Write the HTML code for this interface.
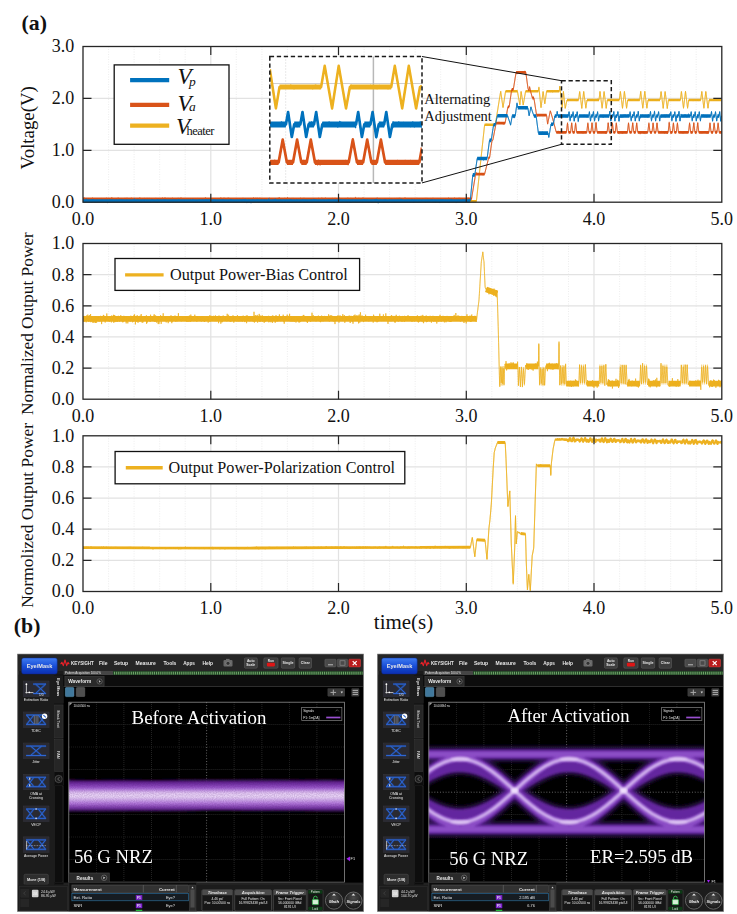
<!DOCTYPE html>
<html><head><meta charset="utf-8"><title>figure</title>
<style>html,body{margin:0;padding:0;background:#fff;}svg{display:block;}text{font-family:"Liberation Serif", serif;fill:#111;}.tk{font-size:18px;}.ui{font-family:"Liberation Sans", sans-serif;fill:#e8e8e8;}</style></head><body>
<svg width="737" height="914" viewBox="0 0 737 914">
<rect width="737" height="914" fill="#fff"/>
<g id="p1">
<line x1="108.6" y1="46.5" x2="108.6" y2="202.2" stroke="#e8e8e8" stroke-width="0.8" stroke-dasharray="1 1.5"/>
<line x1="134.1" y1="46.5" x2="134.1" y2="202.2" stroke="#e8e8e8" stroke-width="0.8" stroke-dasharray="1 1.5"/>
<line x1="159.7" y1="46.5" x2="159.7" y2="202.2" stroke="#e8e8e8" stroke-width="0.8" stroke-dasharray="1 1.5"/>
<line x1="185.2" y1="46.5" x2="185.2" y2="202.2" stroke="#e8e8e8" stroke-width="0.8" stroke-dasharray="1 1.5"/>
<line x1="236.3" y1="46.5" x2="236.3" y2="202.2" stroke="#e8e8e8" stroke-width="0.8" stroke-dasharray="1 1.5"/>
<line x1="261.9" y1="46.5" x2="261.9" y2="202.2" stroke="#e8e8e8" stroke-width="0.8" stroke-dasharray="1 1.5"/>
<line x1="287.4" y1="46.5" x2="287.4" y2="202.2" stroke="#e8e8e8" stroke-width="0.8" stroke-dasharray="1 1.5"/>
<line x1="313" y1="46.5" x2="313" y2="202.2" stroke="#e8e8e8" stroke-width="0.8" stroke-dasharray="1 1.5"/>
<line x1="364.1" y1="46.5" x2="364.1" y2="202.2" stroke="#e8e8e8" stroke-width="0.8" stroke-dasharray="1 1.5"/>
<line x1="389.6" y1="46.5" x2="389.6" y2="202.2" stroke="#e8e8e8" stroke-width="0.8" stroke-dasharray="1 1.5"/>
<line x1="415.2" y1="46.5" x2="415.2" y2="202.2" stroke="#e8e8e8" stroke-width="0.8" stroke-dasharray="1 1.5"/>
<line x1="440.7" y1="46.5" x2="440.7" y2="202.2" stroke="#e8e8e8" stroke-width="0.8" stroke-dasharray="1 1.5"/>
<line x1="491.8" y1="46.5" x2="491.8" y2="202.2" stroke="#e8e8e8" stroke-width="0.8" stroke-dasharray="1 1.5"/>
<line x1="517.4" y1="46.5" x2="517.4" y2="202.2" stroke="#e8e8e8" stroke-width="0.8" stroke-dasharray="1 1.5"/>
<line x1="542.9" y1="46.5" x2="542.9" y2="202.2" stroke="#e8e8e8" stroke-width="0.8" stroke-dasharray="1 1.5"/>
<line x1="568.5" y1="46.5" x2="568.5" y2="202.2" stroke="#e8e8e8" stroke-width="0.8" stroke-dasharray="1 1.5"/>
<line x1="619.6" y1="46.5" x2="619.6" y2="202.2" stroke="#e8e8e8" stroke-width="0.8" stroke-dasharray="1 1.5"/>
<line x1="645.1" y1="46.5" x2="645.1" y2="202.2" stroke="#e8e8e8" stroke-width="0.8" stroke-dasharray="1 1.5"/>
<line x1="670.7" y1="46.5" x2="670.7" y2="202.2" stroke="#e8e8e8" stroke-width="0.8" stroke-dasharray="1 1.5"/>
<line x1="696.2" y1="46.5" x2="696.2" y2="202.2" stroke="#e8e8e8" stroke-width="0.8" stroke-dasharray="1 1.5"/>
<line x1="210.8" y1="46.5" x2="210.8" y2="202.2" stroke="#e2e2e2" stroke-width="1.2"/>
<line x1="338.5" y1="46.5" x2="338.5" y2="202.2" stroke="#e2e2e2" stroke-width="1.2"/>
<line x1="466.3" y1="46.5" x2="466.3" y2="202.2" stroke="#e2e2e2" stroke-width="1.2"/>
<line x1="594" y1="46.5" x2="594" y2="202.2" stroke="#e2e2e2" stroke-width="1.2"/>
<line x1="83" y1="150.3" x2="721.8" y2="150.3" stroke="#e2e2e2" stroke-width="1.2"/>
<line x1="83" y1="98.4" x2="721.8" y2="98.4" stroke="#e2e2e2" stroke-width="1.2"/>
<clipPath id="c1"><rect x="83" y="46.5" width="638.8" height="156.9"/></clipPath>
<g clip-path="url(#c1)" fill="none" stroke-linejoin="round">
<path d="M83,201.3 476.4,201.3 484.6,124.8 495.3,124.8 500.7,91.2 503,107.6 505.6,91.2 517.4,91.2 519.9,105.1 521.1,91.2 523.2,105.1 525.6,91.2 538.4,91.2 538.9,86.9 541,107.8 543.1,91.3 544.8,104 546.6,91.3 559.3,91.3 559.8,86.1 562.2,107.8 563.4,91.3 565.2,108.5 567,100 578.6,100 579.7,91.3 581.8,108.4 583.7,91.3 585.9,108.4 587,100 599,100 600,91.3 602.1,108.4 604.1,91.3 606.2,108.4 607.3,100 619.3,100 620.4,91.3 622.5,108.4 624.4,91.3 626.6,108.4 627.7,100 639.7,100 640.7,91.3 642.8,108.4 644.8,91.3 646.9,108.4 648,100 660,100 661.1,91.3 663.2,108.4 665.1,91.3 667.3,108.4 668.4,100 680.4,100 681.4,91.3 683.5,108.4 685.5,91.3 687.6,108.4 688.7,100 700.7,100 701.8,91.3 703.9,108.4 705.8,91.3 708,108.4 709.1,100 721.1,100 721.8,100" stroke="#edb120" stroke-width="0.75"/>
<path d="M83,201.3 L476.4,201.3 M484.6,124.8 L495.3,124.8 M505.6,91.2 L517.4,91.2 M525.6,91.2 L538.4,91.2 M546.6,91.3 L559.3,91.3 M567,100 L578.6,100 M587,100 L599,100 M607.3,100 L619.3,100 M627.7,100 L639.7,100 M648,100 L660,100 M668.4,100 L680.4,100 M688.7,100 L700.7,100 M709.1,100 L721.1,100 " stroke="#edb120" stroke-width="2.4" stroke-linecap="butt"/>
<path d="M83,202.1 83.2,201.1 83.5,201.3 83.8,201.5 84,200.9 84.2,201.3 84.5,201.3 84.8,200.5 85,201.8 85.2,201.6 85.5,201 85.8,201.2 86,201.5 86.2,201.2 86.5,201.2 86.8,200.6 87,201.5 87.2,201.4 87.5,201.4 87.8,200.6 88,202 88.2,201.4 88.5,201.1 88.8,202.2 89,201.3 89.2,200.6 89.5,201.1 89.8,200.3 90,201.8 90.2,201.1 90.5,201 90.8,201.8 91,200.6 91.2,201.5 91.5,200.4 91.8,201 92,200.8 92.2,202 92.5,202.1 92.8,201.2 93,201.7 93.2,201.2 93.5,201.6 93.8,201 94,200.5 94.2,200.5 94.5,201.5 94.8,202.3 95,201.4 95.2,201.1 95.5,202.2 95.8,201.4 96,201.3 96.2,201.4 96.5,201.2 96.8,201.2 97,200.7 97.2,201.5 97.5,201.3 97.8,201.8 98,201.1 98.2,200.4 98.5,201.3 98.8,202.1 99,201.1 99.2,200.9 99.5,200.8 99.8,200.8 100,201.2 100.2,200.8 100.5,202 100.8,201.2 101,201.3 101.2,201.9 101.5,202 101.8,201.2 102,201.4 102.2,201.6 102.5,201.2 102.8,200.5 103,201.6 103.2,201.7 103.5,201.5 103.8,200.9 104,201.2 104.2,201 104.5,201.2 104.8,201.9 105,202 105.2,201.6 105.5,201.5 105.8,201.6 106,201.3 106.2,201.3 106.5,201 106.8,201.3 107,202.3 107.2,201.7 107.5,201.1 107.8,201.1 108,200.9 108.2,201.5 108.5,201.5 108.8,200.7 109,201.5 109.2,201 109.5,201.9 109.8,201.4 110,202.1 110.2,201.1 110.5,201.2 110.8,201.4 111,201.8 111.2,201.6 111.5,200.7 111.8,201.4 112,201.3 112.2,201.1 112.5,201 112.8,202.1 113,201.1 113.2,200.9 113.5,201.6 113.8,201.4 114,201.3 114.2,201.7 114.5,201.5 114.8,201.5 115,201.7 115.2,201.4 115.5,201 115.8,201.1 116,201.1 116.2,201.4 116.5,200.8 116.8,200.5 117,201.3 117.2,200.7 117.5,200.4 117.8,201.5 118,201 118.2,201.5 118.5,201.1 118.8,200.8 119,200.7 119.2,201.1 119.5,201.2 119.8,200.9 120,201.2 120.2,200.6 120.5,201.3 120.8,200.5 121,201.2 121.2,201.6 121.5,201.8 121.8,202.1 122,200.6 122.2,201.6 122.5,201.8 122.8,201.7 123,200.9 123.2,201.5 123.5,202.1 123.8,200.6 124,201.5 124.2,201.8 124.5,201 124.8,201.6 125,200.8 125.2,200.9 125.5,200.9 125.8,201.4 126,201.3 126.2,201.7 126.5,200.9 126.8,201.2 127,201.7 127.2,201.6 127.5,200.7 127.8,201.6 128,201.1 128.2,201.5 128.5,201.4 128.8,201.8 129,201.4 129.2,200.5 129.5,200.7 129.8,201.6 130,201.2 130.2,201.8 130.5,201.4 130.8,201 131,201.8 131.2,200.9 131.5,200.4 131.8,202.2 132,200.4 132.2,201.6 132.5,201.7 132.8,201.4 133,200.5 133.2,201.8 133.5,200.7 133.8,200.7 134,201.1 134.2,201.7 134.5,201.4 134.8,201.7 135,201.1 135.2,201.2 135.5,200.8 135.8,201.2 136,201.6 136.2,201.2 136.5,201.5 136.8,201 137,201 137.2,201.3 137.5,201.2 137.8,201.6 138,201.4 138.2,202.1 138.5,201.2 138.8,201.2 139,200.8 139.2,201.3 139.5,201.6 139.8,201 140,201.3 140.2,201.6 140.5,201.2 140.8,201.1 141,201.7 141.2,201.3 141.5,201.5 141.8,201.8 142,201.8 142.2,201.1 142.5,201.1 142.8,201.4 143,201.2 143.2,200.4 143.5,201.9 143.8,201.3 144,201.6 144.2,200.8 144.5,201.9 144.8,201 145,201.3 145.2,200.7 145.5,201.2 145.8,201.2 146,201.2 146.2,201.5 146.5,201.3 146.8,201.7 147,201.1 147.2,200.9 147.5,201.3 147.8,201.6 148,201.9 148.2,201.7 148.5,200.5 148.8,201.5 149,202 149.2,201.3 149.5,201.1 149.8,201.4 150,201.1 150.2,201.6 150.5,201.3 150.8,201.9 151,201.5 151.2,201 151.5,201.6 151.8,201.7 152,201 152.2,201.1 152.5,200.3 152.8,201.7 153,201 153.2,200.3 153.5,200.5 153.8,201.2 154,201.6 154.2,201.3 154.5,201.5 154.8,200.8 155,200.7 155.2,201.7 155.5,201.5 155.8,201.3 156,201.9 156.2,200.9 156.5,201.1 156.8,201.8 157,202.1 157.2,201.3 157.5,202.1 157.8,201 158,201.4 158.2,201.2 158.5,200.6 158.8,201.4 159,201.7 159.2,201.2 159.5,201.3 159.8,201.9 160,200.7 160.2,200.6 160.5,201 160.8,200.8 161,201.9 161.2,201.4 161.5,200.9 161.8,201 162,202.6 162.2,201 162.5,201 162.8,201.4 163,201.6 163.2,201.4 163.5,200.9 163.8,200.8 164,201.6 164.2,201.3 164.5,200.6 164.8,201.8 165,201.6 165.2,201.2 165.5,201.2 165.8,201.4 166,201 166.2,200.7 166.5,201.4 166.8,200.7 167,201.5 167.2,200.7 167.5,201.3 167.8,201.2 168,202.1 168.2,200.8 168.5,200.7 168.8,201 169,200.8 169.2,201 169.5,201.5 169.8,201.6 170,202 170.2,201 170.5,202.5 170.8,202.2 171,201.2 171.2,200.3 171.5,201.3 171.8,201.3 172,200.3 172.2,201.3 172.5,201.2 172.8,200.9 173,201.6 173.2,201.8 173.5,201.1 173.8,201.4 174,201 174.2,200.9 174.5,201.3 174.8,201.5 175,201 175.2,200.3 175.5,201.6 175.8,200.6 176,201.4 176.2,202.1 176.5,201.3 176.8,200.8 177,200.6 177.2,201.8 177.5,201.3 177.8,201.5 178,201.7 178.2,201.3 178.5,201.2 178.8,200.9 179,199.9 179.2,200.6 179.5,201.3 179.8,201.2 180,201.5 180.2,201.2 180.5,201.4 180.8,201.7 181,200.9 181.2,201.2 181.5,200.6 181.8,201.7 182,201.3 182.2,201.5 182.5,202 182.8,201.8 183,201.3 183.2,201.7 183.5,200.7 183.8,201.5 184,201.4 184.2,200.6 184.5,201.9 184.8,201 185,201.6 185.2,201.1 185.5,201.7 185.8,201.9 186,200.9 186.2,200.6 186.5,201.2 186.8,201.7 187,201.1 187.2,201 187.5,201.5 187.8,200.1 188,201 188.2,200.7 188.5,201.4 188.8,201 189,200.8 189.2,201.1 189.5,200.6 189.8,201.3 190,201 190.2,201.1 190.5,201 190.8,201.7 191,201.3 191.2,201.5 191.5,201.5 191.8,200.9 192,201.6 192.2,201.5 192.5,201.4 192.8,201.1 193,201.1 193.2,201.7 193.5,202.3 193.8,200.9 194,201.5 194.2,201.1 194.5,201.7 194.8,201.5 195,201.8 195.2,200 195.5,201 195.8,200.9 196,201.3 196.2,201 196.5,201 196.8,201.6 197,202.2 197.2,200 197.5,201.2 197.8,201.4 198,201.3 198.2,201.1 198.5,200.7 198.8,200.9 199,201.6 199.2,201.8 199.5,201.3 199.8,200.9 200,201.3 200.2,201.2 200.5,201.5 200.8,201.4 201,201 201.2,201.4 201.5,200.8 201.8,201.7 202,201.8 202.2,200.8 202.5,201.5 202.8,200.9 203,201.8 203.2,201.7 203.5,201.2 203.8,201.7 204,201.1 204.2,201 204.5,201 204.8,201.2 205,201.2 205.2,201.4 205.5,201 205.8,201.6 206,201.8 206.2,201.1 206.5,200.7 206.8,201.6 207,201.8 207.2,201.2 207.5,200.7 207.8,201.4 208,202 208.2,200.5 208.5,201.5 208.8,201.2 209,200.9 209.2,201.5 209.5,200.7 209.8,201.4 210,201.9 210.2,201.4 210.5,200.9 210.8,200.5 211,200.7 211.2,200.5 211.5,202 211.8,201.2 212,200.8 212.2,200.7 212.5,200.8 212.8,201.1 213,200.7 213.2,202.1 213.5,201 213.8,200.9 214,201.4 214.2,202 214.5,201.9 214.8,201.1 215,201.4 215.2,201.4 215.5,201.5 215.8,201.4 216,200.9 216.2,200.7 216.5,201.4 216.8,200.8 217,201.9 217.2,201.3 217.5,200.8 217.8,201.2 218,201.1 218.2,201.2 218.5,201.7 218.8,200.7 219,200.5 219.2,201.5 219.5,201.2 219.8,201.4 220,201.5 220.2,201.2 220.5,201.7 220.8,200.9 221,201.3 221.2,200.9 221.5,200.8 221.8,201.6 222,201.6 222.2,200.4 222.5,200.8 222.8,201.4 223,201.8 223.2,201 223.5,201.2 223.8,200.7 224,202.4 224.2,201.5 224.5,201.7 224.8,201.6 225,201.7 225.2,201.6 225.5,201.1 225.8,201.6 226,201.3 226.2,201.9 226.5,201 226.8,201.1 227,201.6 227.2,201.9 227.5,201.4 227.8,201 228,201.2 228.2,201.1 228.5,202.2 228.8,201.7 229,201.9 229.2,201.4 229.5,201.1 229.8,201.8 230,202 230.2,201.6 230.5,201.3 230.8,201.8 231,201.1 231.2,201.6 231.5,201 231.8,200.9 232,201.6 232.2,201.5 232.5,202.2 232.8,201.2 233,201.3 233.2,200.8 233.5,200.5 233.8,200.5 234,201.5 234.2,200.8 234.5,201.8 234.8,201.9 235,201.2 235.2,202 235.5,201.4 235.8,201.8 236,201.2 236.2,201.7 236.5,200.9 236.8,201.6 237,201.1 237.2,201.2 237.5,201.6 237.8,201.4 238,201.3 238.2,201.6 238.5,201.7 238.8,200.7 239,201.6 239.2,201.6 239.5,201 239.8,201.5 240,200.7 240.2,201.9 240.5,201.2 240.8,201.3 241,201.8 241.2,201.2 241.5,201.6 241.8,200.8 242,201 242.2,200.7 242.5,201.2 242.8,201.8 243,201.4 243.2,201.7 243.5,200.8 243.8,200.9 244,201.1 244.2,201.6 244.5,201.5 244.8,201.3 245,201.6 245.2,201.2 245.5,201.3 245.8,201.9 246,201 246.2,201.4 246.5,202 246.8,201.3 247,201.6 247.2,201 247.5,202.2 247.8,200.3 248,200.8 248.2,200.8 248.5,202 248.8,201.5 249,201.2 249.2,200.7 249.5,201.5 249.8,201.4 250,201 250.2,200.6 250.5,200.8 250.8,201.4 251,201.4 251.2,201.3 251.5,201.2 251.8,200.5 252,201.3 252.2,200.8 252.5,201.3 252.8,201.5 253,201 253.2,200.8 253.5,201.7 253.8,201.5 254,201 254.2,199.9 254.5,201.3 254.8,201.6 255,201.8 255.2,201 255.5,201 255.8,201.1 256,201.7 256.2,200.8 256.5,201.2 256.8,200.9 257,201.4 257.2,200.6 257.5,201.5 257.8,201.1 258,201.2 258.2,201.5 258.5,201.8 258.8,200.5 259,201.8 259.2,201.6 259.5,201.2 259.8,201.9 260,201.4 260.2,201.9 260.5,201 260.8,200.9 261,201.9 261.2,202.3 261.5,201.6 261.8,201.7 262,201.1 262.2,200.7 262.5,201.2 262.8,202 263,200.5 263.2,201.1 263.5,200.4 263.8,201.3 264,201.7 264.2,200.7 264.5,201.1 264.8,201.9 265,201.3 265.2,200.7 265.5,200.7 265.8,200.4 266,201.6 266.2,201 266.5,201.8 266.8,201.7 267,201 267.2,201.1 267.5,201.7 267.8,201.4 268,201.4 268.2,200.6 268.5,201.7 268.8,200.9 269,200.3 269.2,201 269.5,201.5 269.8,202.2 270,201.1 270.2,200.7 270.5,202.3 270.8,201.4 271,201.2 271.2,200.8 271.5,200.8 271.8,202 272,201.2 272.2,201.1 272.5,201.1 272.8,202 273,201 273.2,201.6 273.5,201.4 273.8,201.4 274,200.9 274.2,201.6 274.5,202 274.8,201.3 275,200.9 275.2,200.7 275.5,201.4 275.8,201.2 276,201.3 276.2,201.3 276.5,200.6 276.8,201.7 277,201.4 277.2,201.3 277.5,201.4 277.8,201.7 278,201.3 278.2,200.9 278.5,201.8 278.8,201.1 279,201 279.2,200.6 279.5,201.3 279.8,200.8 280,201.1 280.2,201.5 280.5,201.3 280.8,201.8 281,201.4 281.2,201.1 281.5,201.2 281.8,201.1 282,201.6 282.2,201.3 282.5,201.1 282.8,201.7 283,201.3 283.2,201.1 283.5,200.6 283.8,201.5 284,201.4 284.2,201.3 284.5,201.1 284.8,200.9 285,201.2 285.2,201.4 285.5,201.2 285.8,201.2 286,201.1 286.2,201.5 286.5,201.4 286.8,201 287,201.6 287.2,201.7 287.5,201.7 287.8,201.2 288,201.2 288.2,200.8 288.5,201.6 288.8,200.3 289,201.1 289.2,201.1 289.5,201.7 289.8,201.3 290,200.9 290.2,200.7 290.5,201 290.8,201.3 291,201.3 291.2,201.2 291.5,201 291.8,201.2 292,201.7 292.2,200.8 292.5,201.3 292.8,202 293,201.5 293.2,201.1 293.5,201.6 293.8,201 294,201.3 294.2,202 294.5,202.2 294.8,200.5 295,201.6 295.2,202.2 295.5,201.1 295.8,201.4 296,202 296.2,201.1 296.5,201.5 296.8,201.3 297,200.4 297.2,201.5 297.5,201.2 297.8,201.7 298,202.2 298.2,201.6 298.5,201.1 298.8,201.5 299,201.4 299.2,201.8 299.5,200.7 299.8,200.8 300,200.4 300.2,201.6 300.5,201.3 300.8,201 301,201 301.2,201 301.5,200.9 301.8,201.2 302,201.1 302.2,201.9 302.5,201.4 302.8,200.9 303,201 303.2,201.8 303.5,201.5 303.8,201.4 304,201.6 304.2,202 304.5,200.8 304.8,201 305,200.5 305.2,201.5 305.5,201.1 305.8,201 306,201 306.2,201.6 306.5,201.2 306.8,201.1 307,201.9 307.2,200.8 307.5,200.7 307.8,202.5 308,201.1 308.2,201.1 308.5,201 308.8,201.2 309,201.7 309.2,201.6 309.5,201.5 309.8,201.2 310,200.6 310.2,201.4 310.5,202 310.8,201.8 311,201.2 311.2,201.7 311.5,201.1 311.8,201.3 312,200.7 312.2,201.2 312.5,201.4 312.8,201.2 313,201.6 313.2,202.1 313.5,201.9 313.8,201.2 314,201 314.2,201 314.5,200.9 314.8,201.3 315,201.5 315.2,201.4 315.5,201.4 315.8,201.4 316,201.2 316.2,201 316.5,202.1 316.8,201.8 317,200.9 317.2,200.9 317.5,201 317.8,201.3 318,201.9 318.2,201.8 318.5,201.8 318.8,201.8 319,201.8 319.2,201.6 319.5,201.5 319.8,201.2 320,200.5 320.2,201.2 320.5,202.1 320.8,201.1 321,201 321.2,201.8 321.5,201.3 321.8,201.1 322,202 322.2,201.6 322.5,201.6 322.8,201 323,201.5 323.2,201.5 323.5,201.6 323.8,201.8 324,201.8 324.2,201.4 324.5,201.6 324.8,200.8 325,201.6 325.2,201.6 325.5,201.1 325.8,201 326,201.3 326.2,200.8 326.5,201.5 326.8,201.4 327,200.9 327.2,201.3 327.5,201.8 327.8,201.8 328,201.8 328.2,201.2 328.5,201.1 328.8,201.1 329,201.6 329.2,202.4 329.5,201.9 329.8,202 330,201.9 330.2,200.6 330.5,201.2 330.8,201.1 331,201.9 331.2,202.1 331.5,201 331.8,201.3 332,201.6 332.2,201.1 332.5,201 332.8,201 333,201.7 333.2,200.9 333.5,201.8 333.8,201.3 334,201.6 334.2,202 334.5,201 334.8,200.9 335,201.5 335.2,200.8 335.5,201 335.8,201.2 336,201.4 336.2,200.7 336.5,201.1 336.8,201.6 337,201.9 337.2,200.4 337.5,201.9 337.8,201.7 338,200.8 338.2,200.6 338.5,201.5 338.8,201.1 339,201.4 339.2,201.7 339.5,201.1 339.8,201.4 340,201.5 340.2,201.7 340.5,202.1 340.8,202.1 341,201.4 341.2,201.2 341.5,202.4 341.8,201.6 342,201.5 342.2,200.8 342.5,201.6 342.8,201 343,201.1 343.2,200.7 343.5,201.1 343.8,201.3 344,200.6 344.2,200.9 344.5,201.3 344.8,200.7 345,200.7 345.2,200.9 345.5,200.7 345.8,201.6 346,200.9 346.2,201.6 346.5,201.7 346.8,200.8 347,201.3 347.2,201.1 347.5,200.8 347.8,201.2 348,201.2 348.2,201.6 348.5,201.8 348.8,200.8 349,201.1 349.2,201.5 349.5,201.8 349.8,200.2 350,201.9 350.2,201.2 350.5,202 350.8,201.1 351,200.9 351.2,201.3 351.5,201.8 351.8,201.3 352,200.2 352.2,201.6 352.5,200.6 352.8,200.9 353,200.8 353.2,200.5 353.5,200.7 353.8,200.9 354,201 354.2,201.3 354.5,201.1 354.8,200.6 355,201.2 355.2,201.7 355.5,201.7 355.8,201.4 356,201.6 356.2,201.7 356.5,201.9 356.8,202.1 357,201.2 357.2,201.2 357.5,202 357.8,202 358,202 358.2,200.2 358.5,201.2 358.8,199.8 359,201.6 359.2,201.3 359.5,201.3 359.8,201.2 360,201.9 360.2,201.2 360.5,201.8 360.8,201.5 361,201.5 361.2,201.5 361.5,201.3 361.8,200.8 362,201.6 362.2,201.6 362.5,201.2 362.8,201.6 363,201.7 363.2,200.7 363.5,201.2 363.8,201.1 364,200.9 364.2,201.4 364.5,200.9 364.8,201.1 365,201.4 365.2,201.5 365.5,201.4 365.8,202.3 366,201.1 366.2,201.4 366.5,200.8 366.8,201.5 367,201.8 367.2,201.8 367.5,201 367.8,201.2 368,201.9 368.2,201.3 368.5,201.7 368.8,200.9 369,201.9 369.2,201.8 369.5,201.5 369.8,200.9 370,201.2 370.2,201.4 370.5,201.4 370.8,201.3 371,201.2 371.2,201.4 371.5,201.9 371.8,200.4 372,200.7 372.2,200.6 372.5,201 372.8,200.5 373,201.5 373.2,201.3 373.5,201.2 373.8,201 374,201.4 374.2,201.4 374.5,201.4 374.8,201 375,201.6 375.2,200.6 375.5,201.9 375.8,199.9 376,201 376.2,200.8 376.5,201.7 376.8,200.6 377,202.1 377.2,200.6 377.5,202.2 377.8,201.5 378,201.3 378.2,201.5 378.5,202.3 378.8,201.7 379,200.3 379.2,201.8 379.5,201.4 379.8,200.6 380,201.6 380.2,200.8 380.5,201.4 380.8,201.4 381,201 381.2,201.6 381.5,200.8 381.8,201.4 382,201.1 382.2,201.2 382.5,202.2 382.8,201.4 383,200.8 383.2,201.2 383.5,201 383.8,201.3 384,201.4 384.2,201.3 384.5,201.3 384.8,201.1 385,201.5 385.2,201.8 385.5,201 385.8,201.3 386,201.3 386.2,201.9 386.5,201.8 386.8,201 387,201.3 387.2,200.6 387.5,200.9 387.8,201.3 388,201.6 388.2,201.7 388.5,201.2 388.8,200.7 389,201.5 389.2,201.2 389.5,201.5 389.8,201.4 390,201.6 390.2,201.6 390.5,201.7 390.8,201.1 391,201.7 391.2,201.1 391.5,201.3 391.8,202.1 392,201.5 392.2,200.8 392.5,202 392.8,201.8 393,201.8 393.2,201.4 393.5,201.5 393.8,201.2 394,201 394.2,202 394.5,201.1 394.8,201.1 395,201.1 395.2,202.1 395.5,201.7 395.8,201.1 396,201.3 396.2,201.5 396.5,201.7 396.8,200.6 397,201.7 397.2,201.2 397.5,201 397.8,201.1 398,201.7 398.2,202.1 398.5,201.4 398.8,201.6 399,200.9 399.2,201.5 399.5,201.7 399.8,200.6 400,201.1 400.2,201.7 400.5,200.5 400.8,201.1 401,201.6 401.2,200.5 401.5,201.1 401.8,201.3 402,201.7 402.2,200.7 402.5,201.8 402.8,201.4 403,201.8 403.2,201.8 403.5,201.5 403.8,201.5 404,200.5 404.2,200.7 404.5,200.8 404.8,201.1 405,201.7 405.2,200.5 405.5,201.2 405.8,200.7 406,200.6 406.2,202 406.5,201.3 406.8,202 407,201.8 407.2,200.9 407.5,200.5 407.8,202.2 408,201.1 408.2,200.8 408.5,201.6 408.8,201.4 409,201 409.2,201.1 409.5,201.4 409.8,201.3 410,201.6 410.2,201.1 410.5,201.1 410.8,201.6 411,201.4 411.2,201.8 411.5,201.2 411.8,201.3 412,200.8 412.2,202 412.5,200.7 412.8,201.4 413,200.9 413.2,201.5 413.5,201.6 413.8,200.6 414,201.2 414.2,200.5 414.5,201.9 414.8,201.1 415,200.6 415.2,201 415.5,201.9 415.8,202 416,201.9 416.2,200.9 416.5,201.2 416.8,202 417,201 417.2,201.1 417.5,200.9 417.8,200.8 418,201.8 418.2,201.6 418.5,201.5 418.8,201.6 419,201.8 419.2,202 419.5,201.3 419.8,201.1 420,200.8 420.2,201.8 420.5,201.1 420.8,200.6 421,201.2 421.2,201.3 421.5,201.7 421.8,201.8 422,201 422.2,200.9 422.5,201.2 422.8,200.8 423,201.3 423.2,201.5 423.5,201.3 423.8,200.6 424,200.8 424.2,201.9 424.5,200.8 424.8,201.6 425,201.6 425.2,201.2 425.5,200.9 425.8,201.4 426,200.9 426.2,201.2 426.5,201.3 426.8,201 427,201.2 427.2,201.2 427.5,200.7 427.8,201.2 428,201 428.2,200.5 428.5,201.1 428.8,201.2 429,201 429.2,200.4 429.5,201.6 429.8,201.6 430,201.6 430.2,201.4 430.5,200.7 430.8,201.4 431,200.9 431.2,202.3 431.5,201.1 431.8,201.6 432,200.6 432.2,200.8 432.5,201.1 432.8,201.6 433,201.5 433.2,201.4 433.5,200.5 433.8,201.8 434,200.9 434.2,202 434.5,202.1 434.8,201.7 435,201.7 435.2,200.7 435.5,202.5 435.8,201.4 436,201.7 436.2,200.9 436.5,201.3 436.8,200.8 437,201.2 437.2,201.3 437.5,201.4 437.8,201.9 438,201.5 438.2,201.4 438.5,201.3 438.8,202.2 439,201 439.2,201.8 439.5,200.4 439.8,200.9 440,201.5 440.2,201.2 440.5,202.7 440.8,202.5 441,200.6 441.2,200.8 441.5,201.2 441.8,202.1 442,201.8 442.2,201.4 442.5,200.7 442.8,200.9 443,200.1 443.2,200.6 443.5,201.5 443.8,201.7 444,200.7 444.2,201.4 444.5,202 444.8,201.4 445,201.2 445.2,201.6 445.5,201.5 445.8,201.3 446,201.1 446.2,201.1 446.5,201.3 446.8,201.1 447,201.9 447.2,201.7 447.5,201.8 447.8,202.2 448,202 448.2,201.9 448.5,201.5 448.8,201.2 449,202.3 449.2,201 449.5,201 449.8,200.9 450,201.4 450.2,201.5 450.5,201.8 450.8,201.2 451,200.5 451.2,201.4 451.5,201.7 451.8,201.3 452,201.2 452.2,201.6 452.5,201.9 452.8,201.3 453,200.7 453.2,201 453.5,201.2 453.8,200.5 454,201.6 454.2,201 454.5,201.5 454.8,201.4 455,201.2 455.2,202 455.5,201 455.8,201 456,201.4 456.2,201.7 456.5,201.3 456.8,200.9 457,201.6 457.2,201.6 457.5,202.2 457.8,201.2 458,201.4 458.2,201 458.5,200.6 458.8,201.3 459,201.7 459.2,200.8 459.5,201 459.8,200.8 460,201.9 460.2,201 460.5,201.6 460.8,200.9 461,201.3 461.2,201 461.5,200.2 461.8,201.3 462,201.5 462.2,200.4 462.5,201.2 462.8,201.1 463,200.8 463.2,201.2 463.5,200.4 463.8,201.4 464,201.8 464.2,200.7 464.5,201.3 464.8,201.9 465,201.4 465.2,201.1 465.5,200.9 465.8,201.4 466,201.2 466.2,201.6 466.5,200.6 466.8,201.8 467,201.1 467.2,201.6 467.5,201 467.8,200.7 468,201 468.2,200.9 468.5,201.1 468.8,201.6 469,201.8 469.2,201.4 469.5,201.1 469.8,201.1 470,201.6 470.2,201.8 470.5,201.2 470.8,201.2 471,201 471.2,201.4 471.5,201.7 471.8,200 472,201.4 472.2,201.1 472.5,200.3 472.8,201.4 473,201.3 473.2,201.5 473.5,200.7 473.8,202.3 474,201.3 474.2,201.1 474.5,202 474.8,201.6 475,201.7 475.2,201.8 475.5,200.4 475.8,202.1 476,201.1 476.2,201.4 476.5,200.5 476.8,198 477,195.7 477.2,193.4 477.5,191 477.8,188.7 478,186.3 478.2,184 478.5,181.6 478.8,179.4 479,177.3 479.2,174.7 479.5,172.4 479.8,170 480,167.8 480.2,165.4 480.5,163 480.8,160.8 481,158.4 481.2,156.1 481.5,153.6 481.8,151.3 482,149.1 482.2,146.6 482.5,144.4 482.8,142.1 483,139.7 483.2,137.4 483.5,135.1 483.8,132.8 484,130.4 484.2,128.1 484.5,126 484.8,125 485,125.1 485.2,125 485.5,124.5 485.8,124.9 486,124.7 486.2,125.2 486.5,124.4 486.8,123.7 487,124.5 487.2,125.1 487.5,125.9 487.8,125.3 488,124.4 488.2,124.7 488.5,124.4 488.8,124.7 489,124.4 489.2,124.1 489.5,125 489.8,124.9 490,124.7 490.2,125 490.5,125.7 490.8,124.9 491,124.6 491.2,125.2 491.5,124.1 491.8,125.1 492,124.5 492.2,124.4 492.5,124.8 492.8,125.6 493,124.5 493.2,125.2 493.5,125 493.8,124.2 494,125.2 494.2,124.4 494.5,124.1 494.8,124.4 495,124.5 495.2,124.9 495.5,123.5 495.8,122.1 496,120.5 496.2,118.8 496.5,117.3 496.8,115.8 497,114 497.2,112.5 497.5,111 497.8,109.6 498,108 498.2,106.4 498.5,104.9 498.8,103.1 499,101.7 499.2,100.1 499.5,98.7 499.8,97.1 500,95.5 500.2,94 500.5,92.5 500.8,91.6 501,93.4 501.2,95.1 501.5,96.8 501.8,98.7 502,100.6 502.2,102.3 502.5,104 502.8,105.9 503,107.4 503.2,106.1 503.5,104.4 503.8,102.9 504,101.5 504.2,99.8 504.5,98.3 504.8,96.5 505,94.9 505.2,93.4 505.5,91.9 505.8,91.1 506,91.7 506.2,91 506.5,91.8 506.8,91.6 507,90.7 507.2,91.5 507.5,91.1 507.8,91.7 508,91 508.2,91.3 508.5,91.4 508.8,90 509,90.4 509.2,91.3 509.5,91.1 509.8,91.7 510,91.3 510.2,90.6 510.5,91.3 510.8,90.9 511,91.1 511.2,91 511.5,91.4 511.8,90.6 512,90.7 512.2,90.2 512.5,92.2 512.8,90.8 513,90.8 513.2,90.7 513.5,90.9 513.8,91 514,91.5 514.2,91.3 514.5,91.3 514.8,90.9 515,91.2 515.2,91.7 515.5,91.2 515.8,91.3 516,90.3 516.2,91.4 516.5,91.3 516.8,91.8 517,90 517.2,91.2 517.5,91.7 517.8,93.2 518,94.5 518.2,95.9 518.5,97.4 518.8,98.7 519,100.1 519.2,101.5 519.5,102.8 519.8,104.3 520,103.9 520.2,100.9 520.5,98.2 520.8,95.2 521,92.3 521.2,92 521.5,93.8 521.8,95.4 522,97.2 522.2,98.7 522.5,100.3 522.8,102.1 523,103.9 523.2,104.9 523.5,103.4 523.8,101.8 524,100.5 524.2,99.1 524.5,97.5 524.8,96.2 525,94.7 525.2,93.3 525.5,91.7 525.8,91.1 526,91.3 526.2,91.4 526.5,91.3 526.8,90.7 527,90.9 527.2,91.2 527.5,90.3 527.8,91.6 528,91.3 528.2,91.2 528.5,90.9 528.8,91.5 529,91.1 529.2,92 529.5,91.4 529.8,90.5 530,91.5 530.2,90.9 530.5,90.9 530.8,91.1 531,91.1 531.2,91.3 531.5,91.5 531.8,91.4 532,90.8 532.2,90.6 532.5,90.8 532.8,91.3 533,91.6 533.2,92 533.5,90.6 533.8,91.2 534,91.1 534.2,91 534.5,91.2 534.8,91.1 535,91.1 535.2,90.9 535.5,91.4 535.8,91.6 536,91.9 536.2,90.9 536.5,90.7 536.8,91.1 537,90.8 537.2,91.6 537.5,90.8 537.8,91.2 538,90.6 538.2,91.1 538.5,90.4 538.8,88.4 539,87.8 539.2,90.4 539.5,92.7 539.8,95.3 540,97.8 540.2,100.3 540.5,102.8 540.8,105.3 541,107.3 541.2,105.9 541.5,103.8 541.8,102 542,100 542.2,98 542.5,96 542.8,94 543,92.1 543.2,92.3 543.5,94.3 543.8,96.2 544,98.1 544.2,99.9 544.5,101.8 544.8,103.4 545,102.9 545.2,100.8 545.5,99 545.8,97.4 546,95.6 546.2,93.7 546.5,91.8 546.8,90.9 547,90.8 547.2,90.9 547.5,91.2 547.8,91.7 548,91.8 548.2,91 548.5,91.5 548.8,91.7 549,91.9 549.2,91.2 549.5,90.9 549.8,91.6 550,92 550.2,91 550.5,92.1 550.8,92 551,91.2 551.2,90.6 551.5,91 551.8,91.1 552,91.5 552.2,90.5 552.5,92.4 552.8,92.3 553,90.9 553.2,90.4 553.5,91.2 553.8,91.5 554,91.9 554.2,91.6 554.5,91.2 554.8,90.4 555,91.5 555.2,91.6 555.5,91.1 555.8,91.4 556,91.4 556.2,91.2 556.5,90.7 556.8,91.4 557,90.6 557.2,91.9 557.5,90.9 557.8,91.5 558,90.9 558.2,91.4 558.5,91.2 558.8,91.5 559,90.9 559.2,91.1 559.5,89.2 559.8,86.5 560,87.8 560.2,90.1 560.5,92.3 560.8,94.7 561,96.9 561.2,99.2 561.5,101.6 561.8,103.7 562,106 562.2,107.2 562.5,103.7 562.8,100.2 563,96.8 563.2,93.4 563.5,91.7 563.8,94.6 564,97 564.2,99.4 564.5,101.9 564.8,104.2 565,106.6 565.2,108.1 565.5,107 565.8,106 566,104.6 566.2,103.5 566.5,102.2 566.8,101.1 567,100.1 567.2,100.2 567.5,99.5 567.8,99.4 568,101.1 568.2,99.7 568.5,99.6 568.8,100.2 569,99.6 569.2,99.8 569.5,100.4 569.8,100.4 570,99.9 570.2,100.6 570.5,99.9 570.8,99.9 571,100 571.2,99.8 571.5,100.2 571.8,100.1 572,99.6 572.2,100 572.5,99.7 572.8,99.7 573,99.9 573.2,100.4 573.5,100.1 573.8,100.5 574,100.7 574.2,99.9 574.5,99.7 574.8,99.6 575,100.1 575.2,100.4 575.5,100.7 575.8,99.4 576,100.4 576.2,100.4 576.5,101.1 576.8,100 577,100 577.2,99.3 577.5,99.6 577.8,99.5 578,99.5 578.2,99.6 578.5,99.7 578.8,98.8 579,96.8 579.2,94.8 579.5,92.7 579.8,92.1 580,94 580.2,95.8 580.5,97.9 580.8,99.8 581,101.9 581.2,104 581.5,106 581.8,108.4 582,106.8 582.2,104.4 582.5,102.1 582.8,99.9 583,97.6 583.2,95.5 583.5,93.1 583.8,91.8 584,93.6 584.2,95.7 584.5,97.7 584.8,99.7 585,101.6 585.2,103.5 585.5,105.4 585.8,107.5 586,107.1 586.2,105.3 586.5,103.6 586.8,101.7 587,100.1 587.2,100.8 587.5,99.9 587.8,100.1 588,99.3 588.2,100.1 588.5,99.7 588.8,99.5 589,99.1 589.2,100.7 589.5,99.3 589.8,99.4 590,100 590.2,100.1 590.5,100.1 590.8,100 591,99.6 591.2,100.3 591.5,100.1 591.8,99.3 592,100.7 592.2,99.8 592.5,100.4 592.8,99.3 593,99.4 593.2,99.7 593.5,99.7 593.8,100.4 594,99.3 594.2,100.1 594.5,99.5 594.8,100.2 595,100.1 595.2,99.7 595.5,101 595.8,100 596,100.5 596.2,99.4 596.5,99.9 596.8,100 597,100 597.2,99.8 597.5,99.6 597.8,98.6 598,99.7 598.2,99.6 598.5,99.9 598.8,100.3 599,99.9 599.2,97.7 599.5,95.7 599.8,93.6 600,91.7 600.2,93.1 600.5,95.1 600.8,97.1 601,99.2 601.2,101.3 601.5,103.2 601.8,105.3 602,107.1 602.2,107.5 602.5,105.3 602.8,103 603,100.7 603.2,98.4 603.5,96.2 603.8,94 604,92.3 604.2,92.8 604.5,94.7 604.8,96.8 605,98.8 605.2,100.8 605.5,102.7 605.8,104.7 606,106.7 606.2,108.3 606.5,106.2 606.8,104.5 607,102.4 607.2,100.8 607.5,100 607.8,100.1 608,100.6 608.2,99.9 608.5,100.1 608.8,100.3 609,100.3 609.2,100.4 609.5,100.6 609.8,100.2 610,99.8 610.2,101.1 610.5,100 610.8,100.2 611,99.7 611.2,99 611.5,99.7 611.8,100 612,100.3 612.2,100 612.5,100.4 612.8,100.5 613,100.5 613.2,100 613.5,100.1 613.8,99.9 614,99.6 614.2,100.7 614.5,99.5 614.8,100 615,100.1 615.2,99.1 615.5,100.4 615.8,99.9 616,100.1 616.2,99.9 616.5,99.3 616.8,100.1 617,100.1 617.2,100.5 617.5,100.2 617.8,99.3 618,100.5 618.2,100.4 618.5,100.4 618.8,100.2 619,99.7 619.2,100.1 619.5,98.4 619.8,96.6 620,94.4 620.2,92.2 620.5,92.2 620.8,94.4 621,96.3 621.2,98.1 621.5,100.5 621.8,102.4 622,104.4 622.2,106.5 622.5,108.1 622.8,106.1 623,104 623.2,101.6 623.5,99.5 623.8,97.2 624,95 624.2,92.8 624.5,91.7 624.8,94.1 625,96 625.2,98.1 625.5,100 625.8,102.1 626,103.9 626.2,105.8 626.5,107.9 626.8,107 627,105.1 627.2,103.2 627.5,101.5 627.8,100 628,100.5 628.2,100.1 628.5,99.4 628.8,99.6 629,99.9 629.2,100.2 629.5,99.7 629.8,99.4 630,99.6 630.2,99.8 630.5,99.6 630.8,99.8 631,100.9 631.2,100.1 631.5,99.6 631.8,100 632,100.7 632.2,100.3 632.5,100 632.8,99.4 633,99.3 633.2,99.9 633.5,100 633.8,99.3 634,99.4 634.2,100 634.5,99 634.8,99.2 635,100 635.2,100.3 635.5,100.2 635.8,100.5 636,100.7 636.2,100.4 636.5,99.9 636.8,101 637,100.8 637.2,100.4 637.5,99.7 637.8,100.2 638,99.1 638.2,99.9 638.5,98.9 638.8,99.8 639,100.5 639.2,100 639.5,100.4 639.8,99.3 640,97.2 640.2,95.2 640.5,93.2 640.8,91.5 641,93.6 641.2,95.6 641.5,97.6 641.8,99.5 642,101.6 642.2,103.7 642.5,105.7 642.8,107.7 643,107.1 643.2,104.9 643.5,102.4 643.8,100.4 644,98.2 644.2,95.9 644.5,93.6 644.8,91.5 645,93.3 645.2,95.1 645.5,97.3 645.8,99.2 646,101.3 646.2,103.2 646.5,105.1 646.8,107.2 647,107.8 647.2,105.9 647.5,104 647.8,102.1 648,100.1 648.2,99.8 648.5,99.4 648.8,99.7 649,100.2 649.2,99.3 649.5,99.5 649.8,100.4 650,99.8 650.2,100 650.5,99.5 650.8,99.6 651,99.9 651.2,100.8 651.5,100.2 651.8,99.3 652,100.2 652.2,100.4 652.5,100.3 652.8,99.5 653,100 653.2,101 653.5,99.6 653.8,100.2 654,99.7 654.2,99.5 654.5,99.8 654.8,100.5 655,100.5 655.2,99.6 655.5,99.8 655.8,99.6 656,99.1 656.2,100.3 656.5,100.7 656.8,100.7 657,99.8 657.2,100.6 657.5,100.5 657.8,99.9 658,100 658.2,99.9 658.5,100.1 658.8,100.8 659,99.6 659.2,99.5 659.5,100.4 659.8,100.1 660,99.8 660.2,98 660.5,95.9 660.8,93.9 661,92 661.2,92.8 661.5,94.7 661.8,96.7 662,98.7 662.2,100.8 662.5,102.9 662.8,104.8 663,106.7 663.2,108.3 663.5,105.8 663.8,103.4 664,101.1 664.2,99 664.5,96.8 664.8,94.5 665,92.3 665.2,92.4 665.5,94.5 665.8,96.5 666,98.3 666.2,100.4 666.5,102.4 666.8,104.3 667,106.3 667.2,108.7 667.5,106.6 667.8,104.8 668,103 668.2,101 668.5,100.1 668.8,99.9 669,100 669.2,100.2 669.5,100 669.8,99.4 670,100.7 670.2,100.1 670.5,99.5 670.8,99 671,100 671.2,100.3 671.5,100.5 671.8,100.5 672,99.9 672.2,100.3 672.5,99.3 672.8,100.1 673,100.5 673.2,99.8 673.5,100 673.8,100.1 674,100.1 674.2,100.7 674.5,99.6 674.8,100.6 675,99.5 675.2,99.7 675.5,99.7 675.8,100 676,99.8 676.2,100.3 676.5,100 676.8,101 677,100.2 677.2,99.9 677.5,100.2 677.8,100.3 678,100 678.2,99.5 678.5,99.7 678.8,100.1 679,100.4 679.2,100.3 679.5,100 679.8,100.3 680,99.8 680.2,100.1 680.5,99 680.8,96.9 681,94.9 681.2,92.7 681.5,91.9 681.8,93.8 682,96 682.2,97.9 682.5,99.8 682.8,101.9 683,104 683.2,105.8 683.5,107.7 683.8,106.7 684,104.4 684.2,102.1 684.5,99.8 684.8,97.8 685,95.5 685.2,93.2 685.5,91.3 685.8,93.7 686,95.7 686.2,97.6 686.5,99.6 686.8,101.5 687,103.6 687.2,105.5 687.5,107.5 687.8,107.2 688,105.4 688.2,103.7 688.5,101.9 688.8,100.1 689,100.7 689.2,99.8 689.5,100 689.8,100.2 690,100 690.2,100.8 690.5,99.4 690.8,99.8 691,99.9 691.2,99.7 691.5,100.4 691.8,99.1 692,100.5 692.2,100.4 692.5,100.2 692.8,100.7 693,101.1 693.2,100.1 693.5,100.4 693.8,100.2 694,100.3 694.2,99.8 694.5,99.7 694.8,100.3 695,99.8 695.2,100.5 695.5,100.4 695.8,99.8 696,100.2 696.2,100.1 696.5,100 696.8,100.6 697,100.1 697.2,100.1 697.5,99.2 697.8,100.3 698,99.4 698.2,99.9 698.5,100.8 698.8,100.8 699,99.9 699.2,99.5 699.5,100.2 699.8,99.9 700,100.2 700.2,99.4 700.5,100.4 700.8,99.8 701,97.5 701.2,95.5 701.5,93.5 701.8,91.8 702,92.9 702.2,95.1 702.5,97.1 702.8,99.1 703,101.2 703.2,103 703.5,105.1 703.8,107.1 704,107.6 704.2,105.2 704.5,103 704.8,100.8 705,98.5 705.2,96.3 705.5,94.1 705.8,91.9 706,93.1 706.2,94.7 706.5,96.8 706.8,98.8 707,100.8 707.2,102.9 707.5,104.8 707.8,106.8 708,108 708.2,106.2 708.5,104.4 708.8,102.5 709,100.6 709.2,100.2 709.5,99.5 709.8,99.7 710,100.4 710.2,100 710.5,100.4 710.8,99.7 711,100.4 711.2,99.7 711.5,100.7 711.8,100.4 712,100.3 712.2,100.8 712.5,100.2 712.8,99.8 713,100.8 713.2,100.2 713.5,100.6 713.8,100.1 714,100.6 714.2,99.7 714.5,99.5 714.8,99.4 715,100.4 715.2,99.2 715.5,99.3 715.8,99.4 716,100.2 716.2,100.3 716.5,99.7 716.8,100.4 717,100.2 717.2,100.6 717.5,100.5 717.8,99.8 718,100.2 718.2,100 718.5,100.3 718.8,100.2 719,100.1 719.2,100.4 719.5,100.1 719.8,100.4 720,100.1 720.2,100 720.5,100.5 720.8,100.5 721,100.6 721.2,100.4 721.5,100 721.8,100.2" stroke="#edb120" stroke-width="0.5"/>
<path d="M83,199 471.5,199 475.6,174.1 484.6,174.1 488.7,157.7 489.6,157.7 492,140.4 492.8,140.4 496.1,123.2 505.1,123.2 507.9,106.8 509.2,106.8 511.7,89.5 513.3,89.5 516.1,72.3 525.8,72.3 528,88.4 528.9,91 529.6,86.5 530.5,91 532.4,98 533.9,98 536.6,115.2 546.6,115.2 547.6,124.2 550.3,110.7 552.5,118 556.3,132.4 566.4,132.4 567.5,122.7 568.6,132.4 570.6,132.4 571.7,122.7 572.8,132.4 574.5,132.4 575.6,122.7 576.7,132.4 586.8,132.4 587.9,122.7 589,132.4 590.9,132.4 592,122.7 593.1,132.4 594.9,132.4 596,122.7 597.1,132.4 607.1,132.4 608.2,122.7 609.3,132.4 611.3,132.4 612.4,122.7 613.5,132.4 615.2,132.4 616.3,122.7 617.4,132.4 627.4,132.4 628.5,122.7 629.6,132.4 631.6,132.4 632.7,122.7 633.8,132.4 635.6,132.4 636.7,122.7 637.8,132.4 647.8,132.4 648.9,122.7 650,132.4 652,132.4 653.1,122.7 654.2,132.4 655.9,132.4 657,122.7 658.1,132.4 668.1,132.4 669.2,122.7 670.4,132.4 672.3,132.4 673.4,122.7 674.5,132.4 676.3,132.4 677.4,122.7 678.5,132.4 688.5,132.4 689.6,122.7 690.7,132.4 692.7,132.4 693.8,122.7 694.9,132.4 696.6,132.4 697.7,122.7 698.8,132.4 708.9,132.4 710,122.7 711.1,132.4 713,132.4 714.1,122.7 715.2,132.4 717,132.4 718.1,122.7 719.2,132.4 721.8,132.4" stroke="#d95319" stroke-width="0.75"/>
<path d="M83,199 L471.5,199 M475.6,174.1 L484.6,174.1 M488.7,157.7 L489.6,157.7 M496.1,123.2 L505.1,123.2 M507.9,106.8 L509.2,106.8 M511.7,89.5 L513.3,89.5 M516.1,72.3 L525.8,72.3 M532.4,98 L533.9,98 M536.6,115.2 L546.6,115.2 M556.3,132.4 L566.4,132.4 M568.6,132.4 L570.6,132.4 M572.8,132.4 L574.5,132.4 M576.7,132.4 L586.8,132.4 M589,132.4 L590.9,132.4 M593.1,132.4 L594.9,132.4 M597.1,132.4 L607.1,132.4 M609.3,132.4 L611.3,132.4 M613.5,132.4 L615.2,132.4 M617.4,132.4 L627.4,132.4 M629.6,132.4 L631.6,132.4 M633.8,132.4 L635.6,132.4 M637.8,132.4 L647.8,132.4 M650,132.4 L652,132.4 M654.2,132.4 L655.9,132.4 M658.1,132.4 L668.1,132.4 M670.4,132.4 L672.3,132.4 M674.5,132.4 L676.3,132.4 M678.5,132.4 L688.5,132.4 M690.7,132.4 L692.7,132.4 M694.9,132.4 L696.6,132.4 M698.8,132.4 L708.9,132.4 M711.1,132.4 L713,132.4 M715.2,132.4 L717,132.4 M719.2,132.4 L721.8,132.4 " stroke="#d95319" stroke-width="2.8" stroke-linecap="butt"/>
<path d="M83,199.2 83.2,198 83.5,198.4 83.8,200 84,199.1 84.2,197.4 84.5,199 84.8,199.2 85,198.4 85.2,200.5 85.5,199.8 85.8,199.6 86,199 86.2,199.4 86.5,199.6 86.8,199.4 87,198.7 87.2,199.2 87.5,199.2 87.8,199.3 88,198.5 88.2,199.3 88.5,199.1 88.8,199.2 89,199.2 89.2,198.2 89.5,199.6 89.8,199.5 90,198.3 90.2,199 90.5,198.6 90.8,198.8 91,199.7 91.2,199.4 91.5,200.3 91.8,199.1 92,198.4 92.2,199.1 92.5,197.6 92.8,200.1 93,199.2 93.2,199.3 93.5,199.2 93.8,198.6 94,199 94.2,198.6 94.5,198.8 94.8,199.3 95,198.3 95.2,200 95.5,198.4 95.8,199.5 96,198.7 96.2,198.3 96.5,199.3 96.8,199.1 97,198.9 97.2,199 97.5,198.7 97.8,199.3 98,198.7 98.2,199 98.5,199.7 98.8,198.2 99,198.7 99.2,198.6 99.5,198.5 99.8,198.2 100,198.9 100.2,199.1 100.5,198.9 100.8,198.1 101,199.4 101.2,199.4 101.5,199.1 101.8,198.4 102,198.5 102.2,200.2 102.5,200 102.8,199.3 103,198.5 103.2,199.8 103.5,199.1 103.8,200 104,198.7 104.2,199.3 104.5,198.9 104.8,199.5 105,198.6 105.2,199.5 105.5,198.8 105.8,198.5 106,199.3 106.2,199.1 106.5,197.7 106.8,199 107,199.1 107.2,199.1 107.5,200.2 107.8,198.6 108,199 108.2,198 108.5,198.1 108.8,198.7 109,198.9 109.2,198.9 109.5,199.4 109.8,199.4 110,199.6 110.2,198.9 110.5,199.3 110.8,198.6 111,199.2 111.2,199.3 111.5,198.7 111.8,197.1 112,198.6 112.2,200.5 112.5,198.9 112.8,198.6 113,199.1 113.2,199.7 113.5,199.2 113.8,198.9 114,198.2 114.2,198.8 114.5,198.3 114.8,199.2 115,199.9 115.2,199.6 115.5,198.6 115.8,198.4 116,198.2 116.2,199.3 116.5,199.3 116.8,199.5 117,199.2 117.2,198.3 117.5,197.8 117.8,199.7 118,198.5 118.2,200.1 118.5,197.7 118.8,198.3 119,198.4 119.2,199.2 119.5,199.4 119.8,198.7 120,199.3 120.2,198.2 120.5,198.7 120.8,198.3 121,198.7 121.2,198.6 121.5,199.2 121.8,201 122,198.2 122.2,198.9 122.5,199.4 122.8,199 123,199.8 123.2,198.4 123.5,199.5 123.8,198.5 124,199.5 124.2,199.1 124.5,199.1 124.8,198.6 125,197.9 125.2,198.3 125.5,199.4 125.8,198.8 126,199.4 126.2,198.2 126.5,199.4 126.8,199.6 127,197.7 127.2,199.2 127.5,200.2 127.8,198.5 128,199.6 128.2,199 128.5,199.5 128.8,198.8 129,198.5 129.2,198.7 129.5,198.8 129.8,198.6 130,198.5 130.2,199.7 130.5,198.6 130.8,198.3 131,198.4 131.2,199.3 131.5,197.7 131.8,199.3 132,199.4 132.2,199.8 132.5,198.7 132.8,198.5 133,199.1 133.2,199.1 133.5,199.8 133.8,199 134,198.7 134.2,198.2 134.5,198.9 134.8,199 135,199.7 135.2,199.1 135.5,199.8 135.8,199.7 136,198.5 136.2,198.3 136.5,198.6 136.8,198.9 137,198.5 137.2,199.4 137.5,199.4 137.8,199.7 138,199.2 138.2,198.7 138.5,199.2 138.8,198.5 139,199.1 139.2,198.5 139.5,199.7 139.8,197.4 140,199.5 140.2,199.5 140.5,199 140.8,199.2 141,199.1 141.2,199.8 141.5,200 141.8,199 142,200 142.2,198.6 142.5,199.2 142.8,199.3 143,198.2 143.2,199.2 143.5,198.6 143.8,199.5 144,198.5 144.2,197.9 144.5,198.2 144.8,199 145,199.2 145.2,199.2 145.5,198.5 145.8,199.5 146,198.7 146.2,198.9 146.5,199.6 146.8,198.9 147,197.9 147.2,199.4 147.5,199 147.8,198.8 148,199.8 148.2,198.6 148.5,199.4 148.8,199.1 149,200.6 149.2,197.9 149.5,199.1 149.8,199.2 150,199.7 150.2,198.7 150.5,198.6 150.8,199.8 151,198.7 151.2,199.2 151.5,199 151.8,199.2 152,198.2 152.2,198.7 152.5,199 152.8,199.1 153,199.7 153.2,199.3 153.5,199.3 153.8,199 154,199.8 154.2,198.6 154.5,198.9 154.8,198.1 155,198.4 155.2,199.5 155.5,199 155.8,197.9 156,199 156.2,198.9 156.5,198.3 156.8,199.2 157,198.8 157.2,199 157.5,199.6 157.8,198.6 158,199.6 158.2,198.8 158.5,198.8 158.8,199.8 159,199.2 159.2,198.8 159.5,198.9 159.8,199.1 160,198.1 160.2,199.4 160.5,199 160.8,198.2 161,198.4 161.2,199.5 161.5,198.2 161.8,200.3 162,198.4 162.2,199.1 162.5,197.5 162.8,198.9 163,198.7 163.2,199.3 163.5,199.1 163.8,198.8 164,200.3 164.2,199.4 164.5,198.5 164.8,199.2 165,197.3 165.2,198.6 165.5,199.7 165.8,198.6 166,199.1 166.2,198.3 166.5,199.4 166.8,199 167,199 167.2,199.5 167.5,200 167.8,199.5 168,197.9 168.2,199.2 168.5,199.1 168.8,198.3 169,198 169.2,198.7 169.5,198.8 169.8,198.9 170,198.5 170.2,199.1 170.5,199.1 170.8,198.8 171,199.2 171.2,198.6 171.5,198 171.8,199 172,199.5 172.2,200.6 172.5,197.7 172.8,198.7 173,198.4 173.2,199.1 173.5,198.4 173.8,199 174,199.6 174.2,198.5 174.5,198.9 174.8,199.9 175,199.5 175.2,198 175.5,200.2 175.8,198.6 176,199.1 176.2,198.7 176.5,198.7 176.8,198.6 177,199.3 177.2,198.5 177.5,198.2 177.8,198.6 178,199 178.2,197.8 178.5,199.4 178.8,198.5 179,199.4 179.2,199.8 179.5,199.2 179.8,199.3 180,198.7 180.2,198.6 180.5,197.8 180.8,198.9 181,198.6 181.2,197.6 181.5,199.1 181.8,199.9 182,199.2 182.2,199.7 182.5,198.8 182.8,198.4 183,199 183.2,198.8 183.5,198.3 183.8,199.6 184,199.1 184.2,198.6 184.5,199.1 184.8,198.9 185,199.3 185.2,199.9 185.5,198.6 185.8,198.3 186,199.8 186.2,200.4 186.5,198.6 186.8,198.4 187,198.3 187.2,199 187.5,199 187.8,198.8 188,199.5 188.2,198.5 188.5,198.6 188.8,198.2 189,199.8 189.2,199.6 189.5,199.8 189.8,198.5 190,199.8 190.2,199.2 190.5,199.4 190.8,199.3 191,198.8 191.2,198.9 191.5,198.1 191.8,198.7 192,198.8 192.2,198.3 192.5,199 192.8,199.8 193,198.7 193.2,198.4 193.5,198.5 193.8,199.1 194,200 194.2,199.1 194.5,199 194.8,198.2 195,199.2 195.2,199.4 195.5,198.7 195.8,199 196,198.6 196.2,199.4 196.5,199.8 196.8,199.2 197,199.3 197.2,199 197.5,198.6 197.8,198.5 198,198.7 198.2,199.1 198.5,199 198.8,199.6 199,199.4 199.2,199.9 199.5,199.5 199.8,198.8 200,199 200.2,198 200.5,200 200.8,198.6 201,198.7 201.2,200.1 201.5,198.3 201.8,198.6 202,199 202.2,198.6 202.5,199 202.8,199.1 203,199.4 203.2,198.9 203.5,199.4 203.8,198.8 204,199.4 204.2,199.7 204.5,198 204.8,198.9 205,199.1 205.2,197.9 205.5,197.2 205.8,199.2 206,198.6 206.2,199.5 206.5,199 206.8,199 207,198.8 207.2,199.1 207.5,198.5 207.8,198.7 208,199.5 208.2,198.8 208.5,199.3 208.8,199 209,198.8 209.2,198.4 209.5,199.5 209.8,198.5 210,199.2 210.2,198.1 210.5,199.2 210.8,199.2 211,198.6 211.2,198 211.5,198.9 211.8,199.1 212,198.7 212.2,198.6 212.5,199.5 212.8,198.9 213,198.7 213.2,199.5 213.5,199 213.8,198.6 214,199.5 214.2,198.8 214.5,199.5 214.8,198.6 215,199.2 215.2,199.7 215.5,199.3 215.8,199.3 216,199.3 216.2,199.5 216.5,199 216.8,199.3 217,198.9 217.2,200.1 217.5,198.5 217.8,199.5 218,198.4 218.2,199.3 218.5,199.8 218.8,198.3 219,200 219.2,198.4 219.5,198.5 219.8,199.2 220,198.3 220.2,199.6 220.5,199.3 220.8,197.4 221,198.1 221.2,198.6 221.5,199.2 221.8,198.4 222,198.6 222.2,199.4 222.5,198.4 222.8,199.2 223,198.2 223.2,199.6 223.5,199.8 223.8,198.3 224,197.6 224.2,198 224.5,199.6 224.8,198.6 225,199.6 225.2,198.2 225.5,198.4 225.8,198.9 226,199.6 226.2,198.9 226.5,198.4 226.8,199.2 227,199 227.2,199.3 227.5,198.9 227.8,198.6 228,199 228.2,197.5 228.5,199.1 228.8,199.7 229,199.3 229.2,198.4 229.5,198.1 229.8,199.8 230,198.7 230.2,198.9 230.5,199.1 230.8,198.6 231,199 231.2,199.9 231.5,198.7 231.8,200.1 232,199.2 232.2,199.2 232.5,199.5 232.8,199.5 233,199.6 233.2,199.3 233.5,198.6 233.8,199.9 234,198.9 234.2,198.5 234.5,199.5 234.8,199.4 235,199 235.2,199 235.5,199.3 235.8,200.1 236,198.9 236.2,198.2 236.5,198.6 236.8,199.3 237,198.9 237.2,198.6 237.5,199.4 237.8,199.4 238,198.9 238.2,199.2 238.5,198.6 238.8,198.6 239,198.8 239.2,198.2 239.5,199.2 239.8,198.9 240,198.7 240.2,199 240.5,199.1 240.8,198.5 241,198.6 241.2,198.5 241.5,199.8 241.8,198 242,198.9 242.2,199.5 242.5,198.3 242.8,198.4 243,198.4 243.2,197.9 243.5,199.7 243.8,198.8 244,198.3 244.2,198.6 244.5,199 244.8,198.7 245,198.4 245.2,199.2 245.5,198.4 245.8,198.7 246,199 246.2,198.5 246.5,199 246.8,198.5 247,200.5 247.2,198.7 247.5,199.3 247.8,198.4 248,198.2 248.2,198.8 248.5,198.7 248.8,198.7 249,198.9 249.2,199.4 249.5,200 249.8,200.1 250,198.9 250.2,200 250.5,199.9 250.8,198.5 251,198.6 251.2,198.8 251.5,200 251.8,198.8 252,198.7 252.2,199.7 252.5,198.8 252.8,198.8 253,199.2 253.2,199 253.5,197.4 253.8,198.1 254,199.3 254.2,198 254.5,199.6 254.8,198.8 255,199 255.2,199 255.5,197.8 255.8,198.4 256,198.2 256.2,199 256.5,199.8 256.8,198.7 257,198.9 257.2,197.7 257.5,198.6 257.8,198.7 258,198.8 258.2,199.2 258.5,199.7 258.8,198.9 259,199.1 259.2,197.9 259.5,199.2 259.8,198.9 260,197.8 260.2,199.1 260.5,198.5 260.8,199.5 261,199.1 261.2,198.9 261.5,199.9 261.8,198.8 262,198.7 262.2,198.9 262.5,198.9 262.8,198.4 263,199.2 263.2,199.1 263.5,198.6 263.8,198 264,199.6 264.2,199.7 264.5,199.4 264.8,199.5 265,200 265.2,199.1 265.5,199.9 265.8,198.8 266,198.4 266.2,198.9 266.5,198.7 266.8,199.2 267,200 267.2,199.2 267.5,199.6 267.8,200.2 268,200 268.2,199 268.5,198.6 268.8,200.2 269,198.3 269.2,197.9 269.5,197.8 269.8,199.7 270,198.1 270.2,198.8 270.5,198.9 270.8,199.7 271,198.1 271.2,199 271.5,199.1 271.8,199.8 272,198.8 272.2,199.1 272.5,198.8 272.8,199.6 273,199.5 273.2,198.7 273.5,199.3 273.8,198.1 274,199 274.2,198.4 274.5,198.7 274.8,199.6 275,200.3 275.2,199.1 275.5,198.9 275.8,198.8 276,199.4 276.2,198.9 276.5,199.6 276.8,199.9 277,199.3 277.2,198.7 277.5,199.4 277.8,198.6 278,197.9 278.2,199.7 278.5,200.1 278.8,199.8 279,198.8 279.2,197 279.5,198.5 279.8,199.3 280,198.7 280.2,199.8 280.5,198.5 280.8,199.3 281,199.1 281.2,199.1 281.5,198.1 281.8,198.9 282,199.1 282.2,198.7 282.5,198.2 282.8,198.7 283,198.4 283.2,199.2 283.5,199.5 283.8,199.2 284,199.2 284.2,198.9 284.5,199.1 284.8,197.8 285,199 285.2,199.5 285.5,198.6 285.8,199.4 286,198.1 286.2,199 286.5,198.8 286.8,199.2 287,199 287.2,200.3 287.5,197 287.8,198.1 288,198.6 288.2,199 288.5,198.6 288.8,198.5 289,198 289.2,198.1 289.5,198.4 289.8,199.9 290,198.5 290.2,200.6 290.5,199.6 290.8,198.8 291,199.4 291.2,199.6 291.5,198.2 291.8,198 292,199.8 292.2,198.4 292.5,199.5 292.8,199.4 293,197.9 293.2,199.3 293.5,199.3 293.8,199.7 294,198.9 294.2,199.2 294.5,199.2 294.8,198.8 295,199.9 295.2,199.5 295.5,199.9 295.8,199.2 296,199.7 296.2,198.4 296.5,198.6 296.8,199.6 297,198.8 297.2,198.7 297.5,199.1 297.8,198 298,199.1 298.2,199.3 298.5,198.8 298.8,198.3 299,200 299.2,199.2 299.5,198.3 299.8,198.6 300,198 300.2,197.9 300.5,197.8 300.8,198.5 301,199.2 301.2,199.4 301.5,198.9 301.8,199.6 302,199.3 302.2,198.3 302.5,198.4 302.8,199.1 303,199.4 303.2,199.6 303.5,198.1 303.8,197.8 304,200.2 304.2,198.8 304.5,199.6 304.8,199 305,198.1 305.2,199.8 305.5,199.2 305.8,199.9 306,199.3 306.2,198.4 306.5,198.9 306.8,199.6 307,198.6 307.2,199.1 307.5,199.7 307.8,198.2 308,198.7 308.2,199.1 308.5,199.6 308.8,198.9 309,198.5 309.2,199.3 309.5,198.6 309.8,199.2 310,199.2 310.2,198.9 310.5,199.5 310.8,199.7 311,198.2 311.2,199.3 311.5,198.9 311.8,198.8 312,199 312.2,199.7 312.5,198.9 312.8,198.8 313,198.2 313.2,198.9 313.5,199 313.8,198.4 314,198.8 314.2,199.3 314.5,199.8 314.8,198.8 315,200.2 315.2,199.6 315.5,199.5 315.8,199.4 316,199.1 316.2,198.6 316.5,199 316.8,199 317,199.1 317.2,199.9 317.5,200.2 317.8,199.3 318,199.6 318.2,198.6 318.5,197.8 318.8,199 319,199.2 319.2,199.9 319.5,200.5 319.8,199.2 320,199.8 320.2,199.7 320.5,199.2 320.8,199.5 321,199.3 321.2,200 321.5,198.4 321.8,197.6 322,199.1 322.2,199.6 322.5,199.7 322.8,198.7 323,199.4 323.2,198.6 323.5,199.4 323.8,198.6 324,198.4 324.2,199.6 324.5,198.3 324.8,198.2 325,199.5 325.2,199.1 325.5,197.6 325.8,199.7 326,198.3 326.2,198.8 326.5,199 326.8,200.2 327,199 327.2,199.6 327.5,199 327.8,199.3 328,198.2 328.2,199 328.5,198.7 328.8,198.4 329,199.2 329.2,199.7 329.5,199.3 329.8,198.8 330,199.5 330.2,198.4 330.5,199.2 330.8,199.4 331,199 331.2,198.9 331.5,199.1 331.8,198.7 332,198.9 332.2,199.5 332.5,197.9 332.8,199.8 333,199.3 333.2,199.2 333.5,198.4 333.8,198.8 334,198.7 334.2,199.4 334.5,199.4 334.8,199.7 335,199.1 335.2,197.8 335.5,198.5 335.8,198.8 336,199.2 336.2,198.1 336.5,198.9 336.8,199.1 337,198.7 337.2,198.9 337.5,200.4 337.8,199 338,200.2 338.2,199.2 338.5,198.6 338.8,199.3 339,198.8 339.2,199 339.5,197.7 339.8,199.2 340,198.7 340.2,199.7 340.5,199.1 340.8,198.8 341,198.4 341.2,199 341.5,198.8 341.8,198.5 342,200.1 342.2,198.9 342.5,199.5 342.8,199.9 343,199.2 343.2,199.4 343.5,199.3 343.8,199.6 344,199.3 344.2,199.3 344.5,199.1 344.8,198.7 345,198.7 345.2,198.6 345.5,199.1 345.8,199.8 346,198.4 346.2,198.6 346.5,198.4 346.8,199 347,199.6 347.2,198.8 347.5,199.2 347.8,197.6 348,198.9 348.2,199.3 348.5,198.6 348.8,198 349,199.3 349.2,198.9 349.5,200.1 349.8,198.7 350,198.9 350.2,198.8 350.5,199.1 350.8,197.9 351,199.8 351.2,199.4 351.5,198.9 351.8,198.8 352,199.3 352.2,199.2 352.5,198.8 352.8,198.9 353,199.2 353.2,198.7 353.5,198.8 353.8,198.7 354,198.8 354.2,198.2 354.5,198.4 354.8,199.2 355,199.5 355.2,199 355.5,196.9 355.8,198.1 356,199.2 356.2,200 356.5,199.7 356.8,198.9 357,198.8 357.2,198.7 357.5,200 357.8,199.1 358,198.5 358.2,199.6 358.5,199.5 358.8,197.8 359,198.6 359.2,199.6 359.5,199.5 359.8,198.3 360,199 360.2,199.5 360.5,199.2 360.8,198.4 361,198.9 361.2,199.4 361.5,199.3 361.8,198.4 362,200.4 362.2,199.1 362.5,198.1 362.8,198.8 363,197.4 363.2,198.6 363.5,199 363.8,200.4 364,199.1 364.2,199.2 364.5,199.5 364.8,199.1 365,198.7 365.2,199.8 365.5,199.3 365.8,199.9 366,199.6 366.2,198.5 366.5,198.7 366.8,198.8 367,198.8 367.2,199.3 367.5,198.9 367.8,198.6 368,199.9 368.2,199.8 368.5,199 368.8,198.4 369,198.7 369.2,198.6 369.5,198.5 369.8,198.5 370,199.2 370.2,199.2 370.5,199.3 370.8,198.5 371,199.2 371.2,200.2 371.5,199.2 371.8,198.8 372,200.6 372.2,199.2 372.5,198.7 372.8,199.5 373,198.6 373.2,198.8 373.5,199.6 373.8,198.7 374,198.2 374.2,199.4 374.5,199.5 374.8,198.2 375,198.8 375.2,199.7 375.5,199.2 375.8,199.5 376,199 376.2,198.7 376.5,198.7 376.8,198.9 377,199.1 377.2,197.5 377.5,197.9 377.8,199 378,199.4 378.2,198.7 378.5,199 378.8,198.4 379,198.2 379.2,199.1 379.5,199 379.8,198.7 380,198.3 380.2,199.1 380.5,199 380.8,198.9 381,199 381.2,198.8 381.5,199.3 381.8,199.3 382,200.1 382.2,199.9 382.5,199 382.8,198.3 383,199.4 383.2,198.7 383.5,199.9 383.8,198.2 384,198.8 384.2,199.9 384.5,199 384.8,199.4 385,199.4 385.2,198.7 385.5,199.5 385.8,198.5 386,198.8 386.2,200.3 386.5,198.9 386.8,199.2 387,198.4 387.2,199.8 387.5,198.5 387.8,198.6 388,198.7 388.2,198.5 388.5,198.2 388.8,198.8 389,198.7 389.2,199 389.5,198.4 389.8,198.5 390,198.8 390.2,199 390.5,198.5 390.8,199 391,198.9 391.2,199.6 391.5,199.4 391.8,199.3 392,199.6 392.2,198.6 392.5,199.8 392.8,199.1 393,198.7 393.2,199.2 393.5,198.4 393.8,200 394,199.2 394.2,198.1 394.5,198.4 394.8,198.7 395,198.7 395.2,199.3 395.5,199.5 395.8,199.6 396,199.3 396.2,198.5 396.5,199.7 396.8,199.7 397,197.9 397.2,198.7 397.5,198.8 397.8,198.6 398,199.6 398.2,199.3 398.5,199 398.8,198.3 399,197.8 399.2,198.5 399.5,198.5 399.8,198.5 400,197.8 400.2,198.1 400.5,198.7 400.8,199.2 401,198.7 401.2,198.9 401.5,199 401.8,199 402,199.7 402.2,198.5 402.5,199.1 402.8,198.2 403,199.7 403.2,199.4 403.5,199.6 403.8,199.1 404,198.9 404.2,198.2 404.5,199.2 404.8,199.8 405,197.4 405.2,200 405.5,198.5 405.8,199.3 406,198.5 406.2,198.9 406.5,199.5 406.8,198.9 407,200.1 407.2,199 407.5,199.4 407.8,198.6 408,198.7 408.2,198.8 408.5,199.3 408.8,200 409,199 409.2,198.2 409.5,198.6 409.8,198.2 410,199.3 410.2,199 410.5,198.4 410.8,198.8 411,199.5 411.2,199.3 411.5,198.7 411.8,199.4 412,199.2 412.2,198.7 412.5,199.1 412.8,200.1 413,198.4 413.2,199.6 413.5,198.9 413.8,199.4 414,199.2 414.2,199.2 414.5,198.9 414.8,199 415,199.4 415.2,199.3 415.5,198.1 415.8,199.3 416,199.8 416.2,199.5 416.5,199.1 416.8,197.9 417,199.3 417.2,199.4 417.5,199.9 417.8,198.4 418,198.9 418.2,198.7 418.5,198.8 418.8,198 419,198.7 419.2,198.7 419.5,198.8 419.8,199.9 420,198.6 420.2,198.7 420.5,199.7 420.8,198.7 421,199.7 421.2,199.3 421.5,198.6 421.8,198.6 422,199.1 422.2,198.9 422.5,199 422.8,198.7 423,199.3 423.2,198.6 423.5,198.7 423.8,198.9 424,198.3 424.2,198.8 424.5,198.9 424.8,198.1 425,197.9 425.2,199.7 425.5,198.8 425.8,198.9 426,198.6 426.2,199.9 426.5,198.9 426.8,197.9 427,199.3 427.2,198.4 427.5,199.2 427.8,198.9 428,199.7 428.2,199.3 428.5,198.8 428.8,199.8 429,200.6 429.2,198.7 429.5,199.6 429.8,199.2 430,199.3 430.2,198.3 430.5,198.4 430.8,199.8 431,199.1 431.2,198.7 431.5,200.1 431.8,199.7 432,199.4 432.2,198.4 432.5,199 432.8,199.9 433,197.8 433.2,198.1 433.5,198.5 433.8,199.6 434,199.1 434.2,199.3 434.5,199.1 434.8,199.1 435,199.7 435.2,201.1 435.5,199.3 435.8,199.8 436,198.7 436.2,200 436.5,199.1 436.8,199.1 437,198.7 437.2,198.6 437.5,198.7 437.8,198.4 438,198.2 438.2,200.1 438.5,199.3 438.8,199.6 439,199.3 439.2,198.2 439.5,199 439.8,198.5 440,198.5 440.2,198.9 440.5,199.1 440.8,199.1 441,199.1 441.2,198.8 441.5,199 441.8,199.8 442,200.3 442.2,199.7 442.5,198.9 442.8,199.2 443,199.6 443.2,199.6 443.5,199.7 443.8,199.7 444,199.2 444.2,198.8 444.5,198.1 444.8,199.6 445,199.4 445.2,198.5 445.5,199 445.8,198.8 446,198.7 446.2,200 446.5,198.8 446.8,200.5 447,198.9 447.2,198.6 447.5,199.1 447.8,200.4 448,198.9 448.2,199.3 448.5,197.6 448.8,199.4 449,198.2 449.2,198.9 449.5,199.8 449.8,198.9 450,199.4 450.2,198.9 450.5,198.8 450.8,199.2 451,199.6 451.2,199.1 451.5,199 451.8,198.4 452,198 452.2,199.1 452.5,198.9 452.8,199.2 453,199.6 453.2,199.5 453.5,198.5 453.8,199.2 454,199.2 454.2,198.9 454.5,197.6 454.8,198.5 455,198.9 455.2,199.4 455.5,198.8 455.8,198.2 456,199.8 456.2,199 456.5,198.7 456.8,199.3 457,199.4 457.2,198.9 457.5,198.6 457.8,198.6 458,199.5 458.2,198.9 458.5,199.3 458.8,197.8 459,198.7 459.2,198.8 459.5,198.7 459.8,197.8 460,198.7 460.2,199.9 460.5,199.2 460.8,198.7 461,198.6 461.2,198.2 461.5,199.1 461.8,198.5 462,198.7 462.2,199.5 462.5,199.5 462.8,199.4 463,198 463.2,198.6 463.5,199.7 463.8,198.3 464,199.7 464.2,199 464.5,199.5 464.8,198.7 465,198.3 465.2,198.4 465.5,199.9 465.8,198.8 466,198.2 466.2,199.5 466.5,198 466.8,198.9 467,199.2 467.2,199.2 467.5,199.2 467.8,198.9 468,197.5 468.2,199.1 468.5,198.9 468.8,198.9 469,199.3 469.2,199.4 469.5,199.1 469.8,199.9 470,200.3 470.2,199.1 470.5,198.8 470.8,198.2 471,199.3 471.2,197.9 471.5,199.3 471.8,197.6 472,195.9 472.2,194.5 472.5,192.8 472.8,191.3 473,190 473.2,188.2 473.5,186.9 473.8,185.3 474,184 474.2,182.3 474.5,181 474.8,179.4 475,177.6 475.2,176.1 475.5,174.3 475.8,174.1 476,172.4 476.2,173.6 476.5,172.6 476.8,173.7 477,174.5 477.2,173.5 477.5,173.7 477.8,173.8 478,174.2 478.2,173.2 478.5,174.1 478.8,174 479,173.4 479.2,173.5 479.5,174.8 479.8,174.5 480,174.3 480.2,173.6 480.5,173.9 480.8,173.3 481,173 481.2,173.8 481.5,173.7 481.8,173.3 482,173.3 482.2,174.3 482.5,173.8 482.8,173.1 483,175.3 483.2,173 483.5,174.2 483.8,173.5 484,174.5 484.2,174.1 484.5,174.4 484.8,173.5 485,172.4 485.2,171.7 485.5,170.5 485.8,169.5 486,168.5 486.2,167.4 486.5,166.5 486.8,165.8 487,164.8 487.2,163.5 487.5,162.6 487.8,161.6 488,160.4 488.2,159.8 488.5,158.5 488.8,157.1 489,158 489.2,157.1 489.5,157.8 489.8,156.7 490,154.8 490.2,153 490.5,151.4 490.8,149.2 491,147.4 491.2,145.8 491.5,144 491.8,142.4 492,140.6 492.2,140.7 492.5,140.3 492.8,139.9 493,139.1 493.2,138 493.5,136.8 493.8,135.4 494,134.1 494.2,132.9 494.5,131.4 494.8,130.2 495,128.8 495.2,127.8 495.5,126 495.8,125.1 496,123.8 496.2,122.4 496.5,122.9 496.8,123.8 497,122.6 497.2,122.8 497.5,123.1 497.8,123.9 498,123.5 498.2,122.7 498.5,122.3 498.8,122.2 499,123.3 499.2,121.8 499.5,122.8 499.8,123.5 500,122.4 500.2,122.9 500.5,123.1 500.8,123.6 501,122.3 501.2,123.2 501.5,123.1 501.8,123.2 502,122.2 502.2,123.4 502.5,122.6 502.8,123.1 503,122.6 503.2,124.3 503.5,123.2 503.8,124.4 504,122.8 504.2,123 504.5,124 504.8,122.9 505,123.3 505.2,122.5 505.5,120.8 505.8,119.3 506,117.9 506.2,116.6 506.5,115 506.8,113.7 507,112 507.2,110.5 507.5,109 507.8,107.6 508,106.6 508.2,106.7 508.5,106.2 508.8,106.3 509,106.6 509.2,106.6 509.5,104.7 509.8,102.9 510,101.4 510.2,99.7 510.5,97.8 510.8,96 511,94.1 511.2,92.4 511.5,90.9 511.8,89.8 512,90.5 512.2,89.9 512.5,89.1 512.8,89.7 513,88.6 513.2,89.5 513.5,88.1 513.8,86.7 514,85.4 514.2,83.9 514.5,82.1 514.8,80.6 515,78.8 515.2,77.4 515.5,76.2 515.8,74.6 516,73 516.2,72.4 516.5,73.2 516.8,72.1 517,72.1 517.2,73.9 517.5,71.7 517.8,72.5 518,72 518.2,73.1 518.5,72.1 518.8,72 519,72.1 519.2,72.7 519.5,71.6 519.8,71.4 520,72.2 520.2,72 520.5,72.6 520.8,72 521,71.9 521.2,72.4 521.5,72.5 521.8,72.9 522,72.3 522.2,71.2 522.5,72.2 522.8,72.2 523,72.2 523.2,72.6 523.5,72.1 523.8,72.9 524,72.1 524.2,73.1 524.5,71.6 524.8,70.8 525,71.7 525.2,74 525.5,72.1 525.8,72.3 526,73.8 526.2,75.5 526.5,77.4 526.8,79.3 527,81.3 527.2,83 527.5,84.8 527.8,86.6 528,88.5 528.2,88.9 528.5,90.1 528.8,90.3 529,90.5 529.2,88.8 529.5,87.3 529.8,87.6 530,88.6 530.2,89.7 530.5,90.9 530.8,92 531,92.8 531.2,93.7 531.5,94.6 531.8,95.5 532,96.6 532.2,97.3 532.5,98 532.8,97.5 533,96.9 533.2,98.4 533.5,98.5 533.8,97.8 534,98.8 534.2,100.3 534.5,101.7 534.8,103.6 535,104.8 535.2,106.6 535.5,108.3 535.8,109.6 536,111.6 536.2,112.9 536.5,114.8 536.8,115.1 537,115.6 537.2,115.1 537.5,116.6 537.8,115.4 538,115.8 538.2,115.6 538.5,115.3 538.8,115 539,115.4 539.2,115.8 539.5,115.7 539.8,115.5 540,115.1 540.2,115.6 540.5,114.6 540.8,115.2 541,114 541.2,114.8 541.5,115.1 541.8,114.3 542,114.5 542.2,115.8 542.5,115.5 542.8,115.9 543,115.9 543.2,115.6 543.5,115.7 543.8,115.4 544,116 544.2,114.3 544.5,115.1 544.8,115.8 545,115.7 545.2,115.3 545.5,115 545.8,115.7 546,115.1 546.2,114.5 546.5,115.5 546.8,116.5 547,118.8 547.2,120.9 547.5,122.9 547.8,123.6 548,122.5 548.2,120.6 548.5,119.6 548.8,118.5 549,117.2 549.2,116 549.5,114.7 549.8,113.3 550,112.4 550.2,111.2 550.5,111.5 550.8,111.7 551,113.4 551.2,113.8 551.5,114.8 551.8,115.9 552,116.6 552.2,117.2 552.5,118.2 552.8,119.1 553,119.8 553.2,120.9 553.5,121.5 553.8,122.5 554,123.7 554.2,124.9 554.5,125.4 554.8,126.8 555,127.5 555.2,128.8 555.5,129.3 555.8,130.9 556,131.4 556.2,132.2 556.5,132.5 556.8,131.3 557,132.6 557.2,132.2 557.5,132.7 557.8,132.2 558,130.8 558.2,130.8 558.5,132 558.8,131.6 559,132.9 559.2,131.8 559.5,132.7 559.8,132.3 560,133.3 560.2,132.5 560.5,132.5 560.8,131.8 561,132.6 561.2,132.8 561.5,132.3 561.8,132.8 562,131.8 562.2,132.3 562.5,132.6 562.8,132.2 563,133.1 563.2,132.8 563.5,132 563.8,131.8 564,132.4 564.2,132 564.5,132.2 564.8,131.7 565,132.9 565.2,132.5 565.5,132.6 565.8,132.9 566,131 566.2,132.4 566.5,131.5 566.8,129.4 567,127.2 567.2,125 567.5,123.5 567.8,124.7 568,127 568.2,129.4 568.5,131.7 568.8,132.2 569,133.1 569.2,132.9 569.5,131.6 569.8,132 570,132.6 570.2,132.4 570.5,132.8 570.8,130.9 571,128.7 571.2,126.4 571.5,124.1 571.8,123.2 572,125.7 572.2,127.9 572.5,129.9 572.8,132.2 573,131.2 573.2,133.2 573.5,131.6 573.8,132.9 574,133.2 574.2,131.6 574.5,132.2 574.8,130.7 575,128.6 575.2,126.2 575.5,123.9 575.8,123.7 576,125.9 576.2,127.9 576.5,130.1 576.8,132.6 577,132.5 577.2,131.9 577.5,132.4 577.8,132.7 578,133 578.2,132.6 578.5,132.4 578.8,131.4 579,132.7 579.2,132.7 579.5,132.5 579.8,132.4 580,132.5 580.2,133 580.5,132.2 580.8,131.7 581,132.9 581.2,132.2 581.5,132.2 581.8,132.7 582,132.2 582.2,132.4 582.5,131.7 582.8,133.2 583,131.6 583.2,133.2 583.5,131.6 583.8,132 584,132.1 584.2,132.9 584.5,132.5 584.8,132.1 585,131.6 585.2,133 585.5,132.4 585.8,132.6 586,132.3 586.2,132.1 586.5,132.8 586.8,132.4 587,130.3 587.2,128 587.5,125.7 587.8,123.7 588,124 588.2,126.2 588.5,128.1 588.8,130.5 589,132.4 589.2,132 589.5,132.5 589.8,132.8 590,132.4 590.2,131.8 590.5,132.7 590.8,132.5 591,131.7 591.2,129.4 591.5,127.2 591.8,125.2 592,122.8 592.2,124.5 592.5,126.9 592.8,129.1 593,131.4 593.2,132.5 593.5,132.6 593.8,131.9 594,131.4 594.2,132 594.5,133.2 594.8,132 595,131.6 595.2,129.2 595.5,127 595.8,124.9 596,122.2 596.2,124.9 596.5,127 596.8,129.3 597,131.6 597.2,132 597.5,132.7 597.8,132.6 598,132.9 598.2,131 598.5,132.9 598.8,131.7 599,132.2 599.2,132.1 599.5,131.8 599.8,131.9 600,131.9 600.2,132.5 600.5,132.8 600.8,132.2 601,132.8 601.2,132.5 601.5,133.1 601.8,131.6 602,132.5 602.2,132.3 602.5,132.5 602.8,132.6 603,132.9 603.2,132.5 603.5,132.7 603.8,132.2 604,132.3 604.2,132 604.5,133 604.8,132.8 605,133.1 605.2,132.1 605.5,132.3 605.8,133.9 606,133 606.2,131.5 606.5,132.8 606.8,132.6 607,132.3 607.2,131 607.5,128.8 607.8,126.6 608,124.4 608.2,122.8 608.5,125.3 608.8,127.5 609,129.8 609.2,132.1 609.5,132.3 609.8,132.2 610,132.8 610.2,132.3 610.5,133.6 610.8,130.8 611,131 611.2,132.2 611.5,130.5 611.8,128.3 612,126 612.2,123.8 612.5,123.7 612.8,126 613,128.4 613.2,130.2 613.5,132.8 613.8,133 614,132.2 614.2,132.7 614.5,132.4 614.8,132.7 615,132.7 615.2,132.5 615.5,130.1 615.8,128 616,125.7 616.2,123.5 616.5,124.1 616.8,126.2 617,128.5 617.2,130.7 617.5,132.4 617.8,131.7 618,132.7 618.2,132.5 618.5,133.7 618.8,131.8 619,133 619.2,132.1 619.5,132.2 619.8,133.4 620,132.3 620.2,132.9 620.5,132.5 620.8,131.8 621,132.3 621.2,132.1 621.5,132.3 621.8,133.5 622,132.7 622.2,131.4 622.5,133.5 622.8,132.6 623,132.9 623.2,133.3 623.5,131.9 623.8,132.6 624,132.3 624.2,132.2 624.5,132.2 624.8,132.5 625,133.1 625.2,132.9 625.5,132.6 625.8,133.1 626,131 626.2,132.4 626.5,132.6 626.8,132.6 627,133.3 627.2,132.5 627.5,132.2 627.8,129.7 628,127.6 628.2,125.4 628.5,123.1 628.8,124.5 629,126.7 629.2,128.8 629.5,131.2 629.8,132.3 630,132.5 630.2,130.8 630.5,132.4 630.8,131.3 631,132.9 631.2,131.9 631.5,132.3 631.8,131.3 632,129 632.2,126.9 632.5,124.6 632.8,122.8 633,125.2 633.2,127.4 633.5,129.7 633.8,131.7 634,132.1 634.2,132.7 634.5,133.3 634.8,131.9 635,133.2 635.2,132.3 635.5,131.8 635.8,131.1 636,129 636.2,126.7 636.5,124.6 636.8,123.3 637,125.2 637.2,127.3 637.5,129.7 637.8,131.9 638,132 638.2,131.9 638.5,132.9 638.8,133.3 639,131.4 639.2,131.8 639.5,132.3 639.8,132.3 640,131 640.2,134.2 640.5,132.8 640.8,132.6 641,131.2 641.2,132.6 641.5,131.7 641.8,132.7 642,132.6 642.2,132.4 642.5,132.7 642.8,132.1 643,132.5 643.2,131 643.5,132.8 643.8,132.3 644,133.9 644.2,132.5 644.5,131 644.8,133.3 645,132 645.2,131.7 645.5,132.4 645.8,133.2 646,133.6 646.2,132.2 646.5,132.5 646.8,132.5 647,132 647.2,132.1 647.5,132.3 647.8,132.4 648,130.7 648.2,128.2 648.5,126.3 648.8,124.1 649,123.8 649.2,125.7 649.5,128 649.8,130.2 650,132.3 650.2,132 650.5,132 650.8,132 651,131.8 651.2,132 651.5,131.9 651.8,132 652,132 652.2,130.1 652.5,127.8 652.8,125.6 653,123.1 653.2,124.3 653.5,126.4 653.8,128.6 654,130.9 654.2,132.4 654.5,133 654.8,131.9 655,132 655.2,132.5 655.5,132.3 655.8,132.6 656,132.1 656.2,129.9 656.5,127.6 656.8,125.3 657,123.1 657.2,124.4 657.5,126.8 657.8,128.9 658,131 658.2,132.2 658.5,132.8 658.8,131.9 659,130.8 659.2,132.8 659.5,132.6 659.8,132.9 660,133 660.2,132.7 660.5,132.6 660.8,132.4 661,131.9 661.2,131.1 661.5,131.2 661.8,132.6 662,132.9 662.2,132.4 662.5,131.9 662.8,132.8 663,132.4 663.2,132.4 663.5,132.2 663.8,131.7 664,131.8 664.2,132.6 664.5,133.4 664.8,133.5 665,132.3 665.2,132.7 665.5,132.4 665.8,132.5 666,132.7 666.2,132.9 666.5,131.7 666.8,133.5 667,132.3 667.2,131.8 667.5,133.8 667.8,131.9 668,132.4 668.2,131.4 668.5,129.4 668.8,126.9 669,124.9 669.2,121.8 669.5,125.1 669.8,127.3 670,129.4 670.2,131.4 670.5,132.7 670.8,133.7 671,132.6 671.2,132.2 671.5,133.3 671.8,131.6 672,132.2 672.2,132.4 672.5,130.9 672.8,128.8 673,126.4 673.2,124.1 673.5,123 673.8,125.5 674,127.8 674.2,130.1 674.5,132.3 674.8,131.8 675,132.7 675.2,132 675.5,133.2 675.8,132.2 676,132.2 676.2,132.3 676.5,130.7 676.8,128.4 677,126.5 677.2,124.2 677.5,123.4 677.8,125.8 678,128.1 678.2,130.3 678.5,132.5 678.8,132.6 679,131.5 679.2,131.5 679.5,132.9 679.8,132 680,132.4 680.2,132.8 680.5,131.3 680.8,131.3 681,132.7 681.2,132.1 681.5,132.2 681.8,133.1 682,132.2 682.2,132.4 682.5,132.6 682.8,131.4 683,133.5 683.2,132.7 683.5,132.1 683.8,133.1 684,131.8 684.2,132 684.5,131.7 684.8,132.3 685,132 685.2,132.6 685.5,132 685.8,132.6 686,132.7 686.2,132.6 686.5,132.6 686.8,132.5 687,131.9 687.2,131.2 687.5,132.6 687.8,131.6 688,132.6 688.2,132.4 688.5,132.4 688.8,130.2 689,128 689.2,125.7 689.5,123.6 689.8,124.2 690,126.3 690.2,128.5 690.5,130.6 690.8,132.4 691,133.5 691.2,132.7 691.5,132.6 691.8,133 692,131.9 692.2,132.3 692.5,132.5 692.8,131.7 693,129.7 693.2,127.4 693.5,125.2 693.8,122.6 694,124.7 694.2,126.9 694.5,129.1 694.8,131.3 695,132.4 695.2,132.7 695.5,133.7 695.8,132.4 696,132 696.2,133.1 696.5,132.8 696.8,131.5 697,129.4 697.2,126.9 697.5,124.9 697.8,122.6 698,125.1 698.2,127.1 698.5,129.5 698.8,131.5 699,132.3 699.2,132.1 699.5,131.7 699.8,132.1 700,133.1 700.2,131.5 700.5,132.5 700.8,133.1 701,132.6 701.2,132.7 701.5,132.6 701.8,132.7 702,131.3 702.2,133.3 702.5,132.6 702.8,132.1 703,132.2 703.2,132.3 703.5,132.8 703.8,131.7 704,131.7 704.2,131.6 704.5,133 704.8,131.9 705,132.5 705.2,131.7 705.5,132.4 705.8,132.1 706,132 706.2,133.1 706.5,132.5 706.8,131.8 707,133.8 707.2,131.9 707.5,131.7 707.8,131.4 708,133.4 708.2,132.5 708.5,132.6 708.8,132.7 709,131.1 709.2,128.9 709.5,126.8 709.8,124.5 710,123.4 710.2,125.4 710.5,127.6 710.8,129.9 711,132 711.2,132.5 711.5,131.3 711.8,131.9 712,132 712.2,132.4 712.5,132.7 712.8,132.5 713,132.4 713.2,130.5 713.5,128.3 713.8,126.1 714,123.5 714.2,124 714.5,126.2 714.8,128.3 715,130.4 715.2,132.3 715.5,132.4 715.8,133.2 716,132.6 716.2,131.2 716.5,130.5 716.8,132.5 717,132.8 717.2,130 717.5,127.9 717.8,125.8 718,123.6 718.2,124.2 718.5,126.1 718.8,128.5 719,130.6 719.2,132.6 719.5,132.6 719.8,133.1 720,131.7 720.2,131.7 720.5,132 720.8,132.1 721,132 721.2,131.6 721.5,132 721.8,131.4" stroke="#d95319" stroke-width="0.5"/>
<path d="M83,201 470.2,201 472.8,174.9 474.8,174.9 477.2,158.5 487.1,158.5 489.5,140.4 491.2,140.4 493.6,124.8 495.3,124.8 497.4,115.8 507.6,115.8 510.6,124.9 512.2,116 515.2,116 517,103.3 517.8,107.8 527.9,107.8 529.1,116 530.9,107 533.9,116 536.1,116 538.4,133.1 548.1,133.1 548.8,137.6 551,124.2 553.3,124.2 554.8,116 556.6,116 557.2,111.5 557.8,116 568.4,116 569.1,111.5 570.1,121.2 570.8,116 572.4,116 573.1,111.5 574.2,121.2 574.9,116 576.5,116 577.2,111.5 578.3,121.2 579,116 588.7,116 589.4,111.5 590.5,121.2 591.2,116 592.7,116 593.4,111.5 594.6,121.2 595.3,116 596.9,116 597.6,111.5 598.6,121.2 599.3,116 609.1,116 609.8,111.5 610.8,121.2 611.5,116 613.1,116 613.8,111.5 614.9,121.2 615.6,116 617.2,116 617.9,111.5 619,121.2 619.7,116 629.4,116 630.1,111.5 631.2,121.2 631.9,116 633.4,116 634.1,111.5 635.3,121.2 636,116 637.6,116 638.3,111.5 639.3,121.2 640,116 649.8,116 650.5,111.5 651.5,121.2 652.2,116 653.8,116 654.5,111.5 655.6,121.2 656.3,116 657.9,116 658.6,111.5 659.7,121.2 660.4,116 670.1,116 670.8,111.5 671.9,121.2 672.6,116 674.1,116 674.8,111.5 676,121.2 676.7,116 678.3,116 679,111.5 680,121.2 680.7,116 690.5,116 691.2,111.5 692.2,121.2 692.9,116 694.5,116 695.2,111.5 696.3,121.2 697,116 698.6,116 699.3,111.5 700.4,121.2 701.1,116 710.8,116 711.5,111.5 712.6,121.2 713.3,116 714.8,116 715.5,111.5 716.7,121.2 717.4,116 719,116 719.7,111.5 720.7,121.2 721.4,116 721.8,116" stroke="#0072bd" stroke-width="0.8"/>
<path d="M83,201 L470.2,201 M472.8,174.9 L474.8,174.9 M477.2,158.5 L487.1,158.5 M489.5,140.4 L491.2,140.4 M493.6,124.8 L495.3,124.8 M497.4,115.8 L507.6,115.8 M512.2,116 L515.2,116 M517.8,107.8 L527.9,107.8 M533.9,116 L536.1,116 M538.4,133.1 L548.1,133.1 M551,124.2 L553.3,124.2 M554.8,116 L556.6,116 M557.8,116 L568.4,116 M570.8,116 L572.4,116 M574.9,116 L576.5,116 M579,116 L588.7,116 M591.2,116 L592.7,116 M595.3,116 L596.9,116 M599.3,116 L609.1,116 M611.5,116 L613.1,116 M615.6,116 L617.2,116 M619.7,116 L629.4,116 M631.9,116 L633.4,116 M636,116 L637.6,116 M640,116 L649.8,116 M652.2,116 L653.8,116 M656.3,116 L657.9,116 M660.4,116 L670.1,116 M672.6,116 L674.1,116 M676.7,116 L678.3,116 M680.7,116 L690.5,116 M692.9,116 L694.5,116 M697,116 L698.6,116 M701.1,116 L710.8,116 M713.3,116 L714.8,116 M717.4,116 L719,116 " stroke="#0072bd" stroke-width="3.6" stroke-linecap="butt"/>
<path d="M83,201.8 83.2,200.6 83.5,200 83.8,201.1 84,199.7 84.2,201.3 84.5,200.7 84.8,202.4 85,201.4 85.2,200.4 85.5,201.7 85.8,201.1 86,201.5 86.2,198.5 86.5,200.6 86.8,200.6 87,202 87.2,200.1 87.5,201.3 87.8,200.8 88,199.9 88.2,200.5 88.5,201.4 88.8,200.8 89,200.8 89.2,200.9 89.5,201 89.8,201.2 90,200.9 90.2,199.8 90.5,200.8 90.8,201 91,202.3 91.2,200.2 91.5,202.2 91.8,200.5 92,202.2 92.2,199.3 92.5,200.7 92.8,199.1 93,199.8 93.2,200.6 93.5,201.3 93.8,200.3 94,201.2 94.2,200.3 94.5,202.2 94.8,200.5 95,202.5 95.2,202.4 95.5,200.2 95.8,201.4 96,200.6 96.2,202.1 96.5,201.2 96.8,202.4 97,200.8 97.2,200.7 97.5,200.3 97.8,201.1 98,201.3 98.2,201 98.5,201.2 98.8,201.6 99,200.9 99.2,200.4 99.5,200.2 99.8,200.5 100,200.7 100.2,201.8 100.5,201.7 100.8,200.4 101,201.4 101.2,200.2 101.5,201.6 101.8,199.7 102,201.7 102.2,200.8 102.5,201.2 102.8,200.9 103,200.1 103.2,201.1 103.5,201 103.8,201.6 104,201.5 104.2,202 104.5,201.4 104.8,200.1 105,201.6 105.2,200 105.5,200.4 105.8,201 106,200.3 106.2,200.7 106.5,201.8 106.8,200.5 107,200.3 107.2,199.9 107.5,203.2 107.8,200.6 108,201 108.2,201 108.5,201.9 108.8,200.5 109,200.3 109.2,200.7 109.5,200.4 109.8,199.8 110,199.5 110.2,201 110.5,200.6 110.8,202.1 111,200.6 111.2,200.7 111.5,202 111.8,199.6 112,201.6 112.2,200.3 112.5,200.1 112.8,201.3 113,201.1 113.2,200.1 113.5,201.2 113.8,202.2 114,201.6 114.2,201.1 114.5,200.5 114.8,200.9 115,201.4 115.2,200.8 115.5,201.4 115.8,201.8 116,199.8 116.2,201.1 116.5,201.4 116.8,200.8 117,200.5 117.2,202.2 117.5,200.9 117.8,200.9 118,200.6 118.2,200.7 118.5,200.7 118.8,200.9 119,199.8 119.2,199.7 119.5,200.5 119.8,200.7 120,200.5 120.2,201.5 120.5,201 120.8,201.6 121,201.2 121.2,199.2 121.5,201.4 121.8,202.1 122,201.1 122.2,200.9 122.5,200.1 122.8,201.2 123,200.2 123.2,199.6 123.5,201.2 123.8,201.6 124,200.8 124.2,200.8 124.5,200.4 124.8,202.3 125,201.3 125.2,200.7 125.5,200.7 125.8,201.1 126,201.9 126.2,200.5 126.5,200.3 126.8,201.2 127,200.9 127.2,199.8 127.5,200.9 127.8,200.7 128,200.7 128.2,201.1 128.5,201.2 128.8,202.3 129,201.5 129.2,201.6 129.5,200.6 129.8,201 130,200.4 130.2,200.4 130.5,201.6 130.8,202.7 131,201.5 131.2,201.3 131.5,201.4 131.8,201.6 132,200.9 132.2,200.9 132.5,201.5 132.8,202.2 133,201 133.2,199.7 133.5,201.6 133.8,201.1 134,200.3 134.2,200.3 134.5,198.5 134.8,200.4 135,200.8 135.2,201.4 135.5,200.9 135.8,200.2 136,200.6 136.2,201 136.5,201.4 136.8,201.2 137,201.7 137.2,199.5 137.5,201.1 137.8,201.2 138,200.2 138.2,201.1 138.5,200.6 138.8,200 139,200 139.2,201.4 139.5,201.4 139.8,201.8 140,201.6 140.2,201.4 140.5,200.1 140.8,200.8 141,200.8 141.2,202.6 141.5,200.3 141.8,200 142,200.2 142.2,201.8 142.5,200.5 142.8,201.6 143,200.6 143.2,201.8 143.5,199.8 143.8,200.6 144,201.5 144.2,200.8 144.5,200.3 144.8,202.1 145,199.9 145.2,200.3 145.5,201.9 145.8,202.3 146,201 146.2,200 146.5,200 146.8,200.3 147,200.9 147.2,202.1 147.5,201.7 147.8,201.8 148,200.6 148.2,201.6 148.5,201.6 148.8,201.7 149,201 149.2,200.7 149.5,201.9 149.8,202.2 150,200.8 150.2,201.3 150.5,201.9 150.8,202.2 151,202.4 151.2,201 151.5,202 151.8,200.1 152,199.3 152.2,200.7 152.5,201.3 152.8,199.8 153,200.9 153.2,201.1 153.5,201 153.8,201.2 154,201.9 154.2,200.8 154.5,200.6 154.8,201.4 155,201.8 155.2,200.7 155.5,202.1 155.8,201.6 156,200.7 156.2,201 156.5,200.4 156.8,201.5 157,201.1 157.2,202.6 157.5,199 157.8,200 158,200.6 158.2,201.4 158.5,200.7 158.8,200.4 159,201.3 159.2,200.7 159.5,201.2 159.8,201.7 160,201.8 160.2,199.8 160.5,200.4 160.8,201.4 161,200.9 161.2,200.4 161.5,201.5 161.8,201.1 162,201.4 162.2,201.7 162.5,200.7 162.8,201.8 163,201.1 163.2,201.2 163.5,201.8 163.8,199.7 164,199.7 164.2,200.1 164.5,201.7 164.8,201.1 165,200.6 165.2,200.2 165.5,199.7 165.8,201.2 166,201 166.2,201.3 166.5,201.7 166.8,201.2 167,202.1 167.2,200.7 167.5,202.2 167.8,201.3 168,200.6 168.2,201.1 168.5,202.7 168.8,200 169,200.5 169.2,200.7 169.5,201.1 169.8,201.1 170,202.5 170.2,200.8 170.5,201.5 170.8,200.6 171,200.1 171.2,200.9 171.5,200.8 171.8,201.5 172,202 172.2,200.6 172.5,201.8 172.8,200.2 173,202.4 173.2,199.8 173.5,200.6 173.8,201.2 174,200.7 174.2,200.1 174.5,201.5 174.8,200.2 175,201.7 175.2,199.9 175.5,201.8 175.8,201.6 176,201.4 176.2,201.8 176.5,200.8 176.8,200.9 177,201.9 177.2,200.2 177.5,200.8 177.8,200.8 178,200.8 178.2,200.8 178.5,199.1 178.8,201 179,201.2 179.2,201.9 179.5,201.6 179.8,200.5 180,200.8 180.2,200.2 180.5,200.7 180.8,200.5 181,201.8 181.2,201.3 181.5,201.4 181.8,200.7 182,200.8 182.2,201.4 182.5,200.4 182.8,201.4 183,201.6 183.2,200.5 183.5,201 183.8,200.3 184,202.3 184.2,201.3 184.5,201.8 184.8,200.8 185,200.3 185.2,200.9 185.5,202.1 185.8,202.3 186,201.6 186.2,201 186.5,201.3 186.8,201.8 187,200.2 187.2,201.7 187.5,200.4 187.8,201.2 188,201.6 188.2,201.2 188.5,201.1 188.8,202 189,200.7 189.2,200.7 189.5,200.3 189.8,201.2 190,201.6 190.2,200.9 190.5,199.5 190.8,201.4 191,201.5 191.2,200.3 191.5,200.8 191.8,201 192,200.4 192.2,201.2 192.5,201.1 192.8,200.1 193,198.9 193.2,200.3 193.5,202.1 193.8,201.9 194,200.8 194.2,200.2 194.5,202.1 194.8,201.5 195,202 195.2,202.4 195.5,201.3 195.8,201.1 196,200.4 196.2,201.1 196.5,200.2 196.8,201.8 197,200.8 197.2,202.2 197.5,200.7 197.8,201.3 198,200.4 198.2,201.7 198.5,200.4 198.8,202 199,201.4 199.2,199.6 199.5,199.9 199.8,201.2 200,201 200.2,202.6 200.5,200.3 200.8,200.8 201,201 201.2,201.2 201.5,202.3 201.8,200.9 202,199.8 202.2,202.2 202.5,201.3 202.8,199.8 203,200.5 203.2,200.8 203.5,201.1 203.8,201.6 204,200.8 204.2,200.6 204.5,200.2 204.8,200.9 205,201.1 205.2,201.4 205.5,199.3 205.8,200.3 206,201.4 206.2,202.3 206.5,201.7 206.8,199.2 207,199.5 207.2,201.4 207.5,201 207.8,201.1 208,202.5 208.2,200.2 208.5,201.9 208.8,201.1 209,200.5 209.2,199.4 209.5,200.1 209.8,202.2 210,201.1 210.2,201.6 210.5,201.5 210.8,200.9 211,201.7 211.2,201.3 211.5,200.9 211.8,200.8 212,200.4 212.2,201.2 212.5,200.9 212.8,201.9 213,200.8 213.2,200.3 213.5,199.5 213.8,201.6 214,203 214.2,201 214.5,199.3 214.8,201.7 215,200.5 215.2,201.5 215.5,201.3 215.8,201.6 216,201.1 216.2,200.8 216.5,201.8 216.8,200.8 217,201.9 217.2,200.5 217.5,201.1 217.8,200.4 218,201.7 218.2,200.5 218.5,200.4 218.8,201.7 219,201.3 219.2,200.9 219.5,200.2 219.8,201 220,201.3 220.2,201.5 220.5,200.4 220.8,201.4 221,199.5 221.2,201 221.5,200.3 221.8,201.6 222,200.7 222.2,202.8 222.5,201.1 222.8,201.2 223,199.2 223.2,199.9 223.5,201.8 223.8,200.5 224,201.9 224.2,200.4 224.5,201.5 224.8,200.4 225,201.3 225.2,201.5 225.5,201.7 225.8,200.4 226,200 226.2,201.4 226.5,201.2 226.8,201.5 227,200 227.2,201.6 227.5,200.9 227.8,200.1 228,200.6 228.2,201.7 228.5,201.1 228.8,201.1 229,201.1 229.2,200.7 229.5,202 229.8,201 230,199.9 230.2,199.9 230.5,200.6 230.8,200.7 231,201.6 231.2,199 231.5,201.6 231.8,201.9 232,200.6 232.2,202 232.5,200.5 232.8,200.9 233,200.6 233.2,202.3 233.5,201.9 233.8,201.9 234,200.1 234.2,201.1 234.5,200.1 234.8,201.1 235,201.4 235.2,202.1 235.5,200.9 235.8,201.2 236,200.9 236.2,200.2 236.5,202.3 236.8,201.3 237,202.1 237.2,201.7 237.5,200 237.8,200.5 238,201.5 238.2,201.7 238.5,201.6 238.8,201 239,201.7 239.2,200.2 239.5,200.8 239.8,200.1 240,201.8 240.2,201.3 240.5,201.6 240.8,200.8 241,199 241.2,200.4 241.5,201.1 241.8,201 242,201.7 242.2,201.9 242.5,200.6 242.8,201.6 243,199.6 243.2,201.5 243.5,199.3 243.8,201.4 244,199.2 244.2,201.4 244.5,202.3 244.8,200.9 245,201.6 245.2,201.9 245.5,198.8 245.8,199.5 246,201 246.2,200.1 246.5,200.7 246.8,203.2 247,202.5 247.2,201.5 247.5,200.5 247.8,201.4 248,201.3 248.2,200.9 248.5,202.3 248.8,199.5 249,202.3 249.2,200.7 249.5,202.1 249.8,200.9 250,200.6 250.2,200.5 250.5,201.2 250.8,201.3 251,203.5 251.2,202.3 251.5,201 251.8,200 252,201.1 252.2,201.5 252.5,199.6 252.8,201 253,202.1 253.2,200.6 253.5,199.7 253.8,201.6 254,202.3 254.2,200.9 254.5,201.2 254.8,202 255,201.5 255.2,200.5 255.5,200.8 255.8,201 256,201 256.2,202 256.5,200.2 256.8,201.4 257,200.9 257.2,199.3 257.5,201.6 257.8,201.2 258,200 258.2,199.6 258.5,201.8 258.8,202.4 259,201.1 259.2,200.9 259.5,201.6 259.8,200.5 260,200.6 260.2,201.8 260.5,200.1 260.8,202 261,201.3 261.2,202.1 261.5,199.5 261.8,202.1 262,201 262.2,201.6 262.5,200.4 262.8,200.2 263,202 263.2,201.4 263.5,201.5 263.8,201.6 264,201.5 264.2,199.7 264.5,200.8 264.8,200.8 265,202.7 265.2,202.1 265.5,200.3 265.8,199.8 266,201.6 266.2,201.5 266.5,202.2 266.8,200.1 267,202.4 267.2,201.2 267.5,202.1 267.8,201.3 268,200.7 268.2,200.4 268.5,202.2 268.8,198.4 269,201.9 269.2,201.6 269.5,200.5 269.8,201.7 270,200.9 270.2,200 270.5,200.8 270.8,201.5 271,201.1 271.2,200.4 271.5,201.6 271.8,201.6 272,202 272.2,201.2 272.5,202.3 272.8,200.4 273,200.7 273.2,199.9 273.5,201 273.8,201.1 274,201 274.2,200 274.5,201.9 274.8,199.6 275,200.2 275.2,198.6 275.5,201.9 275.8,201.7 276,200.8 276.2,201.3 276.5,200 276.8,200.1 277,200.2 277.2,201.3 277.5,200.7 277.8,201.1 278,200.1 278.2,199.9 278.5,201.3 278.8,201.2 279,201.4 279.2,200.5 279.5,201.2 279.8,199.7 280,200.1 280.2,201.3 280.5,200.2 280.8,200 281,200.2 281.2,202.4 281.5,200.7 281.8,201.3 282,200.9 282.2,203 282.5,200.9 282.8,201.9 283,201.8 283.2,201.4 283.5,201 283.8,199.8 284,201.5 284.2,202.8 284.5,201.5 284.8,202.7 285,201.6 285.2,201.8 285.5,200.7 285.8,200.9 286,201.4 286.2,202 286.5,200.2 286.8,199.9 287,200.9 287.2,201 287.5,201.4 287.8,202.5 288,200.6 288.2,202.6 288.5,201.5 288.8,201.1 289,199.7 289.2,202.3 289.5,202.5 289.8,201.4 290,201.5 290.2,200.7 290.5,199.4 290.8,200.4 291,199.8 291.2,199.9 291.5,200.3 291.8,200.5 292,201.4 292.2,202.1 292.5,200.8 292.8,201.7 293,200.7 293.2,200.8 293.5,201.3 293.8,200.5 294,201.2 294.2,200.6 294.5,200.3 294.8,200.5 295,202.3 295.2,201.2 295.5,200.6 295.8,201.1 296,200.4 296.2,200.6 296.5,200.7 296.8,199.6 297,200.9 297.2,201.3 297.5,201.2 297.8,200.9 298,201.9 298.2,200.3 298.5,201.9 298.8,201.8 299,201.2 299.2,202.2 299.5,200.3 299.8,201.2 300,200.9 300.2,200.4 300.5,200.7 300.8,201.3 301,201.3 301.2,201.5 301.5,200.5 301.8,200.9 302,200.9 302.2,200.5 302.5,201 302.8,199.3 303,200 303.2,200.6 303.5,200.7 303.8,201.5 304,200.5 304.2,202.3 304.5,199.8 304.8,202.5 305,200.2 305.2,200.1 305.5,200.4 305.8,200.5 306,200.7 306.2,200.6 306.5,201.3 306.8,201.6 307,200.1 307.2,202 307.5,201.2 307.8,201 308,201.7 308.2,200.9 308.5,202.1 308.8,200 309,202 309.2,200.6 309.5,201.6 309.8,200.6 310,202.3 310.2,201.3 310.5,201.6 310.8,200.1 311,199.8 311.2,201.2 311.5,202.2 311.8,201.1 312,199.8 312.2,202.4 312.5,200.6 312.8,201.6 313,200.3 313.2,200.4 313.5,201.2 313.8,198.9 314,200.2 314.2,200.6 314.5,200.7 314.8,199.7 315,201.9 315.2,200.8 315.5,200.8 315.8,199.4 316,200.9 316.2,201.5 316.5,201.6 316.8,201.4 317,200.9 317.2,200.8 317.5,201.1 317.8,201.5 318,200.8 318.2,200.8 318.5,201.2 318.8,200.7 319,201.1 319.2,201 319.5,200.2 319.8,202.1 320,201.5 320.2,200.2 320.5,200.2 320.8,200.5 321,200.5 321.2,200.1 321.5,201.1 321.8,200.7 322,200.2 322.2,202.1 322.5,200.6 322.8,201.2 323,199.9 323.2,200 323.5,200.1 323.8,201.7 324,201.5 324.2,200.7 324.5,200.7 324.8,201.2 325,200.2 325.2,200.7 325.5,201.7 325.8,200.2 326,201.4 326.2,200.8 326.5,201 326.8,200.8 327,201.6 327.2,201.6 327.5,201.3 327.8,199.6 328,201 328.2,201.8 328.5,200.1 328.8,199.7 329,200.7 329.2,201.5 329.5,199.9 329.8,201.2 330,200.7 330.2,200.9 330.5,201.2 330.8,200.8 331,200.5 331.2,201 331.5,202.1 331.8,201.4 332,201.5 332.2,200.2 332.5,200.5 332.8,199.9 333,201.6 333.2,201.7 333.5,201.3 333.8,201.5 334,200.6 334.2,200.6 334.5,201.9 334.8,200.6 335,201.7 335.2,202.2 335.5,200 335.8,200.2 336,202.3 336.2,201.7 336.5,202.2 336.8,202.3 337,200.7 337.2,202.5 337.5,202 337.8,201.7 338,201.2 338.2,200.7 338.5,200.3 338.8,199.8 339,200.3 339.2,200.3 339.5,201.1 339.8,200.4 340,199.5 340.2,201.1 340.5,199.3 340.8,200.7 341,201.5 341.2,199.7 341.5,200 341.8,200.9 342,202 342.2,200.8 342.5,200.6 342.8,201.1 343,199.5 343.2,199.7 343.5,201.5 343.8,201.6 344,201.4 344.2,201 344.5,201.3 344.8,199.5 345,200.1 345.2,200.6 345.5,201.7 345.8,201.1 346,201 346.2,200 346.5,201 346.8,201.2 347,201.4 347.2,200.8 347.5,202.6 347.8,200 348,201.7 348.2,199.9 348.5,199.9 348.8,201.5 349,200.6 349.2,200.4 349.5,201 349.8,203 350,200.5 350.2,200.7 350.5,202 350.8,200.5 351,202.9 351.2,200 351.5,200.8 351.8,201.8 352,200.8 352.2,200.6 352.5,199.9 352.8,200.9 353,201.7 353.2,200.8 353.5,200.2 353.8,202 354,201.7 354.2,201.4 354.5,200.8 354.8,200.3 355,201.9 355.2,201 355.5,200.7 355.8,200.8 356,201.3 356.2,201.6 356.5,201 356.8,200.7 357,200.1 357.2,200.7 357.5,200.8 357.8,201.2 358,200.9 358.2,200.5 358.5,200.9 358.8,201.5 359,200.9 359.2,200.8 359.5,200.8 359.8,200.7 360,201.2 360.2,201.5 360.5,200.7 360.8,200.8 361,201.3 361.2,201.6 361.5,202.1 361.8,199.9 362,201.6 362.2,200.6 362.5,201.5 362.8,201.7 363,202.4 363.2,200.6 363.5,201.8 363.8,199.1 364,201 364.2,199.2 364.5,200.4 364.8,200.1 365,199.8 365.2,200.9 365.5,200.1 365.8,200.1 366,200.3 366.2,200.5 366.5,201.4 366.8,200.6 367,200.2 367.2,199.6 367.5,201.4 367.8,201.2 368,201.4 368.2,200.4 368.5,201.9 368.8,201.4 369,202.8 369.2,200.7 369.5,201.6 369.8,202.2 370,200.8 370.2,200.9 370.5,200.6 370.8,200.7 371,201.6 371.2,201.1 371.5,200.1 371.8,202.9 372,200.4 372.2,201.9 372.5,201 372.8,201.5 373,201.4 373.2,201.6 373.5,201.6 373.8,202.3 374,200.4 374.2,199.9 374.5,199.7 374.8,199.4 375,201.4 375.2,199.6 375.5,199.7 375.8,201.2 376,200.7 376.2,201 376.5,198.8 376.8,200 377,199.7 377.2,200.9 377.5,200.9 377.8,201.3 378,201.9 378.2,203.7 378.5,200.5 378.8,201.5 379,201.7 379.2,200.9 379.5,200.2 379.8,201.6 380,201.7 380.2,201.4 380.5,200.4 380.8,199.2 381,200.1 381.2,201.9 381.5,201.9 381.8,200.2 382,201.2 382.2,202 382.5,202 382.8,200.2 383,200.8 383.2,200.9 383.5,200.1 383.8,202.4 384,199.6 384.2,201.3 384.5,201.8 384.8,201.3 385,201.6 385.2,199.2 385.5,201 385.8,201.2 386,201.2 386.2,199.9 386.5,200.8 386.8,200.3 387,202.1 387.2,200.5 387.5,200.9 387.8,200.8 388,200.8 388.2,202.3 388.5,202.1 388.8,201.3 389,200.7 389.2,200.6 389.5,199.5 389.8,201 390,201.2 390.2,200.9 390.5,200.3 390.8,201.9 391,201.6 391.2,201.1 391.5,202.3 391.8,201.2 392,202.4 392.2,200.9 392.5,201.1 392.8,200.5 393,201.7 393.2,200.6 393.5,201.3 393.8,201.1 394,200.4 394.2,202.8 394.5,201.9 394.8,200.8 395,201.7 395.2,201.3 395.5,200.7 395.8,202.5 396,201.7 396.2,201.5 396.5,201.4 396.8,201.5 397,201.6 397.2,201.2 397.5,201.2 397.8,201.1 398,199.8 398.2,200.9 398.5,202 398.8,202.2 399,201.2 399.2,200.4 399.5,201.8 399.8,200.4 400,200.2 400.2,199.9 400.5,199.4 400.8,202.5 401,201.1 401.2,198.8 401.5,200.4 401.8,199.7 402,201.7 402.2,200.5 402.5,200.4 402.8,201.5 403,202.3 403.2,200.4 403.5,200.9 403.8,200.2 404,201.7 404.2,201.2 404.5,201.1 404.8,200.3 405,202.2 405.2,200.7 405.5,201.9 405.8,202 406,200.1 406.2,200.8 406.5,201.2 406.8,200.1 407,200.9 407.2,201.2 407.5,199.7 407.8,200.7 408,201.2 408.2,200.6 408.5,200.5 408.8,199.9 409,201 409.2,201.1 409.5,200.9 409.8,202.1 410,201 410.2,200.6 410.5,202.4 410.8,201.5 411,201.9 411.2,202 411.5,200.6 411.8,200.2 412,202.3 412.2,199.5 412.5,200.6 412.8,202.3 413,200.5 413.2,201.6 413.5,200.4 413.8,202.9 414,200.9 414.2,201.6 414.5,199.9 414.8,201.6 415,201.5 415.2,200.6 415.5,201.5 415.8,200.8 416,201.3 416.2,200.6 416.5,200.6 416.8,200 417,201.4 417.2,200.8 417.5,200.4 417.8,202.3 418,201 418.2,200.9 418.5,200.4 418.8,201.7 419,201.1 419.2,200.3 419.5,200.8 419.8,201.5 420,201.1 420.2,201.9 420.5,201.8 420.8,202.8 421,200.5 421.2,201 421.5,200.8 421.8,200.8 422,201.1 422.2,200.7 422.5,201.7 422.8,200 423,201.1 423.2,201.5 423.5,201.8 423.8,201 424,201.3 424.2,201.1 424.5,201.4 424.8,200.9 425,201.6 425.2,202.1 425.5,202.7 425.8,200.8 426,201.7 426.2,201.2 426.5,201.4 426.8,200.7 427,201.1 427.2,201.5 427.5,201 427.8,200.7 428,202 428.2,201.1 428.5,200.8 428.8,201 429,200.9 429.2,200.4 429.5,201.4 429.8,200.8 430,200 430.2,201.8 430.5,200.7 430.8,199.9 431,201 431.2,200.5 431.5,201.2 431.8,200.1 432,200.7 432.2,199.7 432.5,199.9 432.8,201.1 433,200.5 433.2,202.2 433.5,200.4 433.8,201.1 434,200 434.2,202.2 434.5,201 434.8,199.8 435,201.2 435.2,200.6 435.5,202.7 435.8,201.9 436,200.4 436.2,201.6 436.5,201.4 436.8,200.7 437,200.7 437.2,200.8 437.5,200.2 437.8,201.2 438,200.6 438.2,200.9 438.5,200.7 438.8,200.4 439,202.5 439.2,201.2 439.5,201.5 439.8,203.1 440,201 440.2,200.4 440.5,199.7 440.8,199.9 441,201.5 441.2,199.9 441.5,199.4 441.8,201 442,200.9 442.2,202.3 442.5,199.9 442.8,201.8 443,199.2 443.2,202 443.5,201.2 443.8,200.3 444,202 444.2,201.1 444.5,201.5 444.8,201 445,201.9 445.2,201.5 445.5,200.3 445.8,200.3 446,200.3 446.2,201.6 446.5,201.5 446.8,201.2 447,200.8 447.2,200.5 447.5,201.3 447.8,201.7 448,201.6 448.2,202.3 448.5,202.4 448.8,200.7 449,203 449.2,202.2 449.5,201.2 449.8,201.3 450,201.4 450.2,200.6 450.5,200.5 450.8,201.1 451,200.7 451.2,198.8 451.5,201.5 451.8,199.5 452,201.3 452.2,200.7 452.5,200.5 452.8,201.6 453,200.4 453.2,200.2 453.5,201.2 453.8,201.2 454,200.5 454.2,200.4 454.5,200.4 454.8,201.3 455,201.4 455.2,201.7 455.5,200.9 455.8,200.3 456,201.6 456.2,203.1 456.5,202.3 456.8,200.2 457,201.6 457.2,200.9 457.5,200.9 457.8,200.8 458,200.4 458.2,199.8 458.5,201.4 458.8,200.2 459,200.6 459.2,200.7 459.5,201.1 459.8,200.7 460,200.9 460.2,200.7 460.5,201.2 460.8,201.3 461,202.2 461.2,201.5 461.5,200.6 461.8,201.5 462,201.7 462.2,200.6 462.5,200.6 462.8,199.2 463,202.2 463.2,201.1 463.5,202.1 463.8,199.8 464,199.2 464.2,201.3 464.5,200.4 464.8,201.2 465,200.4 465.2,201.7 465.5,200.8 465.8,200.9 466,201.4 466.2,200.7 466.5,200.7 466.8,202 467,201 467.2,201.2 467.5,201.4 467.8,201.1 468,201.4 468.2,202.5 468.5,201.9 468.8,199.9 469,199.3 469.2,200.3 469.5,199.2 469.8,198.9 470,200.5 470.2,200.3 470.5,198 470.8,195.5 471,193.2 471.2,190.4 471.5,187.9 471.8,185.5 472,183.1 472.2,180.4 472.5,177.8 472.8,174.9 473,175.3 473.2,174.7 473.5,176.2 473.8,176.4 474,176.4 474.2,175.3 474.5,175.6 474.8,174.5 475,173.6 475.2,171.8 475.5,170.3 475.8,168.3 476,166.7 476.2,164.9 476.5,163.6 476.8,161.6 477,159.7 477.2,158.4 477.5,157.5 477.8,159.5 478,159.5 478.2,158.6 478.5,158.7 478.8,157.4 479,159.7 479.2,158.5 479.5,160.1 479.8,158.1 480,158.9 480.2,159.2 480.5,159.1 480.8,158.4 481,159.4 481.2,158.8 481.5,158.5 481.8,157.7 482,159.5 482.2,158.5 482.5,158.9 482.8,158.5 483,158.8 483.2,158.2 483.5,160.5 483.8,159.9 484,159 484.2,158.7 484.5,159 484.8,157.8 485,159 485.2,158.4 485.5,158.2 485.8,158 486,158 486.2,158.9 486.5,158.5 486.8,157.9 487,158.6 487.2,157.4 487.5,155.5 487.8,153.8 488,151.7 488.2,149.6 488.5,148 488.8,145.9 489,144.3 489.2,142.4 489.5,140.3 489.8,140.8 490,140.1 490.2,140 490.5,139 490.8,138.8 491,140.2 491.2,140.5 491.5,138.3 491.8,136.8 492,135.1 492.2,133.7 492.5,131.8 492.8,130.3 493,128.8 493.2,127 493.5,125.4 493.8,124.7 494,125.2 494.2,125.3 494.5,125.4 494.8,125.1 495,124 495.2,124.6 495.5,124.1 495.8,122.9 496,122 496.2,120.5 496.5,119.5 496.8,118.4 497,117.6 497.2,116.3 497.5,115.4 497.8,116.1 498,115.5 498.2,115 498.5,116.1 498.8,115.7 499,116.2 499.2,116.2 499.5,115.3 499.8,115.6 500,115.7 500.2,116.3 500.5,115.8 500.8,116.6 501,115.4 501.2,115.8 501.5,116.8 501.8,114.7 502,114.8 502.2,116.3 502.5,116.4 502.8,116.5 503,116.4 503.2,116.6 503.5,115.4 503.8,115.8 504,116.2 504.2,114.9 504.5,114.8 504.8,115.3 505,116.5 505.2,116.4 505.5,114.8 505.8,115.4 506,115.4 506.2,115.8 506.5,115.9 506.8,115.8 507,115.1 507.2,116.6 507.5,116.3 507.8,115.9 508,117 508.2,118.1 508.5,118.6 508.8,119.4 509,119.9 509.2,121.2 509.5,121.3 509.8,122.6 510,123.6 510.2,123.6 510.5,125.4 510.8,124.3 511,122.6 511.2,121.3 511.5,120.1 511.8,118.4 512,117 512.2,115.1 512.5,114.7 512.8,115.7 513,115.9 513.2,116.4 513.5,116.7 513.8,117.5 514,116.5 514.2,118.2 514.5,116.6 514.8,117 515,115.6 515.2,115.7 515.5,114 515.8,112.3 516,110.3 516.2,108.6 516.5,106.6 516.8,105.1 517,102.7 517.2,104.9 517.5,106.2 517.8,107.7 518,108.1 518.2,108.2 518.5,108.4 518.8,107.9 519,106.6 519.2,108.8 519.5,107.2 519.8,108.5 520,108.2 520.2,108.1 520.5,107.9 520.8,108 521,108 521.2,107.8 521.5,107.7 521.8,108 522,108.3 522.2,107.5 522.5,108 522.8,106.8 523,107.2 523.2,106.5 523.5,107.6 523.8,108.1 524,108.3 524.2,106.8 524.5,108.4 524.8,107 525,107.5 525.2,107.4 525.5,109 525.8,107.9 526,109.4 526.2,108.6 526.5,107.6 526.8,108.1 527,108.8 527.2,107.1 527.5,107.4 527.8,107.8 528,108.4 528.2,110.2 528.5,112.2 528.8,113.6 529,115.2 529.2,115.1 529.5,113.7 529.8,112.9 530,111.4 530.2,110.9 530.5,109.1 530.8,107.6 531,106.6 531.2,107.9 531.5,108.9 531.8,109.4 532,110.5 532.2,111.2 532.5,112 532.8,112.7 533,113.3 533.2,113.9 533.5,114.5 533.8,115.1 534,115.8 534.2,116.5 534.5,116 534.8,115.2 535,116.7 535.2,115.3 535.5,115.1 535.8,115.3 536,115.8 536.2,117.1 536.5,118.8 536.8,120.6 537,122.8 537.2,124.6 537.5,126.5 537.8,128.4 538,130.1 538.2,132.3 538.5,133 538.8,133.1 539,134.1 539.2,133.4 539.5,133 539.8,133.1 540,132.2 540.2,133.6 540.5,132.9 540.8,133.4 541,134.1 541.2,133.7 541.5,133.3 541.8,133.4 542,133.2 542.2,134.4 542.5,131.7 542.8,132.8 543,132.5 543.2,133.4 543.5,133 543.8,133.2 544,134.6 544.2,133.3 544.5,133.7 544.8,132.8 545,132.6 545.2,132.3 545.5,134.2 545.8,132.3 546,132.7 546.2,134.8 546.5,133.4 546.8,133.1 547,132.9 547.2,132.2 547.5,133.4 547.8,133.9 548,132.8 548.2,134 548.5,135.9 548.8,137.1 549,136.5 549.2,135.2 549.5,133.2 549.8,131.8 550,130.1 550.2,128.4 550.5,127.5 550.8,125.8 551,124.1 551.2,124.6 551.5,123.8 551.8,123.1 552,123.7 552.2,123.6 552.5,123.5 552.8,125 553,123.6 553.2,123.8 553.5,123.1 553.8,121.8 554,120.7 554.2,119.1 554.5,117.4 554.8,116 555,116.5 555.2,115.5 555.5,116.4 555.8,117.4 556,114.9 556.2,114.9 556.5,115.9 556.8,114.9 557,113.1 557.2,111.2 557.5,113.8 557.8,115.6 558,115.1 558.2,115.8 558.5,116.4 558.8,117.4 559,115.5 559.2,116.5 559.5,115 559.8,116.8 560,116.1 560.2,117.2 560.5,115 560.8,115.1 561,114.7 561.2,117.3 561.5,115.6 561.8,114.6 562,115.4 562.2,116.6 562.5,116.5 562.8,116.3 563,115 563.2,115.9 563.5,114.5 563.8,114.8 564,116.4 564.2,116.7 564.5,115.8 564.8,114.6 565,115.3 565.2,115.7 565.5,117.2 565.8,115.5 566,114.9 566.2,115.1 566.5,115.3 566.8,115.6 567,115.8 567.2,117.5 567.5,115.5 567.8,114.3 568,116.8 568.2,115.7 568.5,115 568.8,113.4 569,112.1 569.2,113.2 569.5,115.6 569.8,117.8 570,120.2 570.2,119.9 570.5,118.1 570.8,116.3 571,115.8 571.2,114.7 571.5,115 571.8,116.9 572,116.9 572.2,116.7 572.5,115.6 572.8,113.9 573,112.7 573.2,112.9 573.5,114.9 573.8,117.1 574,119.3 574.2,121.3 574.5,119.2 574.8,117.3 575,116 575.2,115.4 575.5,117.7 575.8,116.4 576,114.4 576.2,116.7 576.5,115.8 576.8,114.5 577,112.9 577.2,112.1 577.5,114.1 577.8,116.5 578,118.8 578.2,122.1 578.5,119.4 578.8,117.4 579,115.6 579.2,116 579.5,115.7 579.8,116.1 580,116.3 580.2,115.1 580.5,116.1 580.8,115.4 581,115.5 581.2,115.3 581.5,115.8 581.8,115.4 582,115.5 582.2,115.7 582.5,115 582.8,117 583,116.5 583.2,115.7 583.5,116.2 583.8,115.3 584,116.1 584.2,114.8 584.5,115.9 584.8,116.1 585,115.7 585.2,116.6 585.5,115.4 585.8,116.1 586,116.4 586.2,116.4 586.5,116 586.8,117.3 587,116.6 587.2,116.5 587.5,115.4 587.8,116.1 588,115.6 588.2,117.6 588.5,116.2 588.8,115.6 589,114.3 589.2,112.8 589.5,112.2 589.8,114.6 590,117.2 590.2,119.3 590.5,121.1 590.8,119.5 591,117.2 591.2,115.6 591.5,115.3 591.8,116.1 592,116.6 592.2,115.3 592.5,114.5 592.8,116.1 593,114.3 593.2,112.7 593.5,111.7 593.8,114.2 594,116.2 594.2,118.2 594.5,120.3 594.8,119.8 595,117.9 595.2,116.1 595.5,116.7 595.8,116.7 596,116.8 596.2,116.8 596.5,116.1 596.8,116.1 597,114.8 597.2,113.6 597.5,112.3 597.8,113.3 598,115.6 598.2,117.7 598.5,120.1 598.8,119.8 599,118.2 599.2,116.4 599.5,115.7 599.8,116.9 600,115.3 600.2,116.3 600.5,116.2 600.8,115.9 601,116.4 601.2,116.3 601.5,115.7 601.8,117 602,115.9 602.2,116.5 602.5,115.2 602.8,115.3 603,116.1 603.2,117.8 603.5,115 603.8,115.1 604,115.4 604.2,115.7 604.5,116.1 604.8,116.8 605,115.9 605.2,116.5 605.5,116 605.8,115.6 606,115.6 606.2,116.4 606.5,116.1 606.8,117 607,116.2 607.2,115.9 607.5,115.1 607.8,115.4 608,116.3 608.2,116.3 608.5,117.3 608.8,115.5 609,116.2 609.2,114.8 609.5,112.9 609.8,111 610,113.7 610.2,116 610.5,118.2 610.8,121 611,119.8 611.2,118 611.5,116.3 611.8,115.7 612,116.5 612.2,115.3 612.5,115 612.8,116.9 613,116.5 613.2,115.2 613.5,113.3 613.8,111.6 614,113.1 614.2,115.3 614.5,117.5 614.8,119.6 615,121.1 615.2,118.6 615.5,116.9 615.8,115.6 616,115 616.2,117.5 616.5,117.2 616.8,116.3 617,116.3 617.2,115.9 617.5,114.2 617.8,111.8 618,111.8 618.2,114.7 618.5,116.6 618.8,119.4 619,121.4 619.2,119.1 619.5,117.2 619.8,116.2 620,115.5 620.2,117.4 620.5,115.8 620.8,115.3 621,117.4 621.2,116.1 621.5,116.3 621.8,116.9 622,117.7 622.2,116 622.5,116.1 622.8,114.9 623,116 623.2,117.3 623.5,115.4 623.8,115.3 624,114.7 624.2,115 624.5,115 624.8,116 625,116.2 625.2,114.4 625.5,116.3 625.8,117 626,116.7 626.2,115.4 626.5,116.6 626.8,115.6 627,115.1 627.2,114.9 627.5,114.8 627.8,115.7 628,116.5 628.2,114.6 628.5,114.4 628.8,116.9 629,115.2 629.2,117.1 629.5,115.5 629.8,113.6 630,112.6 630.2,112.9 630.5,114.9 630.8,117.4 631,119.9 631.2,120 631.5,118.7 631.8,116.9 632,116.8 632.2,117 632.5,115.7 632.8,114.9 633,115.7 633.2,116 633.5,115.7 633.8,114 634,112.2 634.2,112.7 634.5,114.5 634.8,116.6 635,118.8 635.2,121 635.5,119.5 635.8,117.9 636,115.7 636.2,116.2 636.5,116.8 636.8,115.6 637,116.1 637.2,116.5 637.5,116.2 637.8,114.8 638,113 638.2,111.1 638.5,113.7 638.8,116 639,118.3 639.2,120.5 639.5,119.5 639.8,118 640,115.8 640.2,117.1 640.5,118.2 640.8,116.6 641,116.4 641.2,115.5 641.5,115.2 641.8,115.7 642,116.8 642.2,116 642.5,114.7 642.8,116.6 643,115.6 643.2,116.6 643.5,116 643.8,115.4 644,115.6 644.2,116.6 644.5,115.6 644.8,117.1 645,115.4 645.2,117.1 645.5,115 645.8,115.2 646,116.5 646.2,117.2 646.5,115.8 646.8,116.6 647,115.3 647.2,115.2 647.5,116 647.8,117.7 648,115.8 648.2,114.7 648.5,114.1 648.8,115.9 649,116.5 649.2,115.7 649.5,116.1 649.8,115.8 650,114.7 650.2,113 650.5,111.4 650.8,114.1 651,116.6 651.2,118.8 651.5,120 651.8,119.4 652,117.5 652.2,115.2 652.5,116.3 652.8,117.1 653,115.5 653.2,115.2 653.5,115.8 653.8,115.8 654,114.7 654.2,113.2 654.5,110.8 654.8,113.6 655,116 655.2,117.9 655.5,120.1 655.8,120.4 656,118.3 656.2,116.3 656.5,117 656.8,115.9 657,115.1 657.2,116.6 657.5,115.6 657.8,115.5 658,115.3 658.2,113.6 658.5,111.9 658.8,112.9 659,115.1 659.2,117.4 659.5,119.9 659.8,120.7 660,118.6 660.2,116.5 660.5,115.7 660.8,116.9 661,115.2 661.2,117.6 661.5,115.8 661.8,114.8 662,115.6 662.2,117.1 662.5,115.4 662.8,116.3 663,116.5 663.2,115.5 663.5,116.8 663.8,117 664,116.6 664.2,114.5 664.5,116.2 664.8,116.5 665,116.6 665.2,117.4 665.5,116.2 665.8,116 666,114.3 666.2,115 666.5,116.8 666.8,115 667,115.7 667.2,114.6 667.5,115.7 667.8,115 668,116.3 668.2,115.9 668.5,116.2 668.8,114.7 669,115.8 669.2,116.6 669.5,113.4 669.8,115.4 670,115.9 670.2,115.3 670.5,113.6 670.8,112.2 671,113.2 671.2,115.6 671.5,117.8 671.8,120.1 672,119.9 672.2,118.3 672.5,116.4 672.8,116.8 673,115 673.2,116.1 673.5,115.7 673.8,116 674,116.4 674.2,115.3 674.5,113.6 674.8,112.1 675,113 675.2,115 675.5,117.2 675.8,119 676,121.7 676.2,119.1 676.5,117.1 676.8,116.1 677,114.8 677.2,116.2 677.5,117.2 677.8,115.5 678,115.3 678.2,116.3 678.5,114.6 678.8,113 679,111.2 679.2,114 679.5,116.7 679.8,118.7 680,120.9 680.2,119.4 680.5,117.6 680.8,115.9 681,113.9 681.2,116.4 681.5,115 681.8,116.7 682,117 682.2,115.1 682.5,116.1 682.8,117.3 683,117.3 683.2,116.7 683.5,115.6 683.8,116.3 684,115.2 684.2,117.2 684.5,116.3 684.8,117.1 685,114 685.2,115.5 685.5,115.6 685.8,115.7 686,115 686.2,116.3 686.5,115.3 686.8,117.5 687,115.7 687.2,115.6 687.5,115.4 687.8,116.4 688,116.2 688.2,115.2 688.5,113.6 688.8,115.7 689,115.3 689.2,116 689.5,115.3 689.8,116.2 690,115.1 690.2,116.1 690.5,115.7 690.8,114.3 691,112.5 691.2,112.4 691.5,114.6 691.8,116.9 692,119.1 692.2,120 692.5,119.1 692.8,117.2 693,116.5 693.2,116.3 693.5,117.5 693.8,117.5 694,116.2 694.2,115.2 694.5,115.9 694.8,114.5 695,112.8 695.2,112.3 695.5,114 695.8,116.3 696,118.5 696.2,120.7 696.5,120 696.8,118.1 697,116.3 697.2,115.9 697.5,116.8 697.8,115.5 698,118.4 698.2,116.2 698.5,115.7 698.8,114.8 699,113.4 699.2,112.1 699.5,113.1 699.8,115.7 700,117.8 700.2,120 700.5,120.1 700.8,118.2 701,116.4 701.2,115.4 701.5,115.9 701.8,114.5 702,116.1 702.2,115.9 702.5,115.9 702.8,115.3 703,115.9 703.2,116.2 703.5,114.6 703.8,116.8 704,115.9 704.2,116.4 704.5,117.2 704.8,115 705,115.2 705.2,115.2 705.5,116 705.8,115.2 706,115.3 706.2,117.4 706.5,115.8 706.8,116.3 707,116.8 707.2,117.2 707.5,114.9 707.8,116.3 708,116.6 708.2,116.9 708.5,115.5 708.8,115.7 709,116.2 709.2,116 709.5,115.7 709.8,115.5 710,115.9 710.2,115.8 710.5,116.2 710.8,115.8 711,114.6 711.2,113.1 711.5,111.5 711.8,113.8 712,115.9 712.2,118.1 712.5,121.3 712.8,120 713,118 713.2,116.2 713.5,116 713.8,117.4 714,115 714.2,116.6 714.5,116.6 714.8,116.9 715,115 715.2,113.7 715.5,112.1 715.8,113.1 716,115.2 716.2,117.7 716.5,119.5 716.8,120.6 717,119.1 717.2,116.8 717.5,116.2 717.8,117.6 718,117.3 718.2,116.7 718.5,115.4 718.8,117.2 719,115.9 719.2,114.2 719.5,112.3 719.8,111.8 720,114.7 720.2,116.9 720.5,119 720.8,121.5 721,119.1 721.2,117.1 721.5,115.9 721.8,116.5" stroke="#0072bd" stroke-width="0.5"/>
</g>
<path d="M422,56.5 L561.5,80.7 M422,182.9 L561.5,144.3" stroke="#111" stroke-width="1" fill="none"/>
<rect x="561.5" y="80.7" width="49.8" height="63.6" fill="none" stroke="#1a1a1a" stroke-width="1.5" stroke-dasharray="4.3 2.7"/>
<rect x="269.8" y="56.5" width="152.2" height="126.4" fill="#fff"/>
<line x1="269.8" y1="83.5" x2="422" y2="83.5" stroke="#cfcfcf" stroke-width="1"/>
<line x1="373.4" y1="56.5" x2="373.4" y2="182.9" stroke="#b8b8b8" stroke-width="1.5"/>
<line x1="285.7" y1="56.5" x2="285.7" y2="182.9" stroke="#cfcfcf" stroke-width="0.9" stroke-dasharray="1 2"/>
<clipPath id="c1i"><rect x="270.1" y="56.5" width="151.6" height="126.4"/></clipPath>
<g clip-path="url(#c1i)" fill="none" stroke-linejoin="round">
<path d="M269.8,69.3 275.9,108.4 279.5,87.1 321.1,87.1 324.7,65.9 332.1,108.4 338.7,65.9 346,108.4 349.9,87.1 391.2,87.1 394.8,65.9 402.2,108.4 408.8,65.9 416.1,108.4 420,87.1 422,85.9" stroke="#edb120" stroke-width="2.6"/>
<path d="M279.5,87.1 L321.1,87.1 M349.9,87.1 L391.2,87.1 " stroke="#edb120" stroke-width="5.0" stroke-linecap="butt"/>
<path d="M269.8,69.4 270.1,70.8 270.3,72.7 270.6,74.1 270.8,75.6 271.1,77.3 271.3,79 271.6,80.8 271.8,82.3 272.1,83.4 272.3,85.2 272.6,87.1 272.8,88.7 273.1,90.1 273.3,91.7 273.6,93.7 273.8,94.7 274.1,96.8 274.3,98.4 274.6,99.8 274.8,101.4 275.1,103.1 275.3,104.7 275.6,106.4 275.8,108.3 276.1,107.3 276.3,105.9 276.6,104.6 276.8,103 277.1,101.6 277.3,100.4 277.6,98.3 277.8,97.3 278.1,95.7 278.3,94.1 278.6,92.8 278.8,91.5 279.1,90.1 279.3,88.4 279.6,87.3 279.8,88.2 280.1,87.3 280.3,87.7 280.6,87.5 280.8,87.6 281.1,86.4 281.3,88 281.6,87.5 281.8,88.5 282.1,87.7 282.3,86.5 282.6,88 282.8,88.2 283.1,87.9 283.3,86.9 283.6,86.8 283.8,88.2 284.1,86.6 284.3,87.8 284.6,87.2 284.8,86.6 285.1,86.9 285.3,86.7 285.6,87.5 285.8,86.6 286.1,87.1 286.3,87 286.6,87.4 286.8,87.9 287.1,86 287.3,87.4 287.6,86.6 287.8,87 288.1,87 288.3,88.3 288.6,88.3 288.8,87 289.1,87 289.3,88.2 289.6,87.5 289.8,88.5 290.1,86.6 290.3,88 290.6,86.8 290.8,84.9 291.1,87.7 291.3,86.4 291.6,87.7 291.8,86.9 292.1,88.1 292.3,86.1 292.6,86 292.8,88.3 293.1,88 293.3,87.2 293.6,85.9 293.8,87.8 294.1,89 294.3,86.9 294.6,86.8 294.8,86.5 295.1,87.5 295.3,87.1 295.6,86 295.8,86.6 296.1,87.8 296.3,86.3 296.6,87.3 296.8,87.9 297.1,87.7 297.3,85.8 297.6,87.5 297.8,86.3 298.1,85.6 298.3,87.3 298.6,85.9 298.8,86.9 299.1,88 299.3,87.5 299.6,87 299.8,87.8 300.1,87.1 300.3,87.7 300.6,87.9 300.8,86.3 301.1,88.3 301.3,87 301.6,87.1 301.8,87.2 302.1,86.9 302.3,86.8 302.6,87.5 302.8,86.6 303.1,87.4 303.3,87.6 303.6,86.7 303.8,86.8 304.1,87.5 304.3,87.1 304.6,87.6 304.8,87 305.1,86.8 305.3,86.9 305.6,87.3 305.8,88 306.1,85.8 306.3,86.7 306.6,86.8 306.8,86.5 307.1,86.7 307.3,88 307.6,87.8 307.8,86.6 308.1,86 308.3,87.4 308.6,87.4 308.8,86.2 309.1,87.2 309.3,87.4 309.6,87.6 309.8,86.7 310.1,87.5 310.3,87 310.6,87.7 310.8,87.3 311.1,87.6 311.3,87.1 311.6,86.9 311.8,87.3 312.1,87.7 312.3,86.8 312.6,87.4 312.8,88.9 313.1,86.6 313.3,86.1 313.6,86.4 313.8,86.9 314.1,87.1 314.3,85.4 314.6,85.6 314.8,87.7 315.1,86 315.3,87.6 315.6,88 315.8,84.8 316.1,87.5 316.3,87.1 316.6,86.8 316.8,87.4 317.1,87 317.3,87.5 317.6,88.5 317.8,87.3 318.1,86.2 318.3,88.1 318.6,87.9 318.8,88.2 319.1,87.4 319.3,87.8 319.6,88.6 319.8,87 320.1,86.6 320.3,88.2 320.6,86.8 320.8,87.9 321.1,86.9 321.3,85.7 321.6,84.3 321.8,82.9 322.1,81.3 322.3,80.2 322.6,78.4 322.8,77.2 323.1,75.5 323.3,74.1 323.6,72.6 323.8,71.3 324.1,69.8 324.3,68.4 324.6,66.9 324.8,66.7 325.1,67.9 325.3,69.1 325.6,70.7 325.8,72.2 326.1,73.7 326.3,75.1 326.6,76.4 326.8,77.9 327.1,79.4 327.3,80.9 327.6,82.1 327.8,83.5 328.1,85.1 328.3,86.6 328.6,88 328.8,89.4 329.1,90.8 329.3,92.5 329.6,93.5 329.8,95.3 330.1,96.6 330.3,98.2 330.6,99.7 330.8,100.6 331.1,102.7 331.3,104.1 331.6,105.7 331.8,107 332.1,109 332.3,106.9 332.6,105.5 332.8,103.4 333.1,102 333.3,100.2 333.6,98.9 333.8,97.2 334.1,95.8 334.3,94 334.6,92.3 334.8,90.7 335.1,89 335.3,87.2 335.6,85.9 335.8,84.2 336.1,82.6 336.3,80.9 336.6,79.5 336.8,77.7 337.1,76.3 337.3,74.6 337.6,72.9 337.8,71.1 338.1,69.8 338.3,68.3 338.6,66.5 338.8,66.6 339.1,68.3 339.3,69.8 339.6,71 339.8,73 340.1,74.2 340.3,75.7 340.6,77 340.8,78.4 341.1,79.6 341.3,81.2 341.6,82.7 341.8,84.3 342.1,85.5 342.3,86.9 342.6,88.7 342.8,90 343.1,91.6 343.3,92.9 343.6,94.2 343.8,95.8 344.1,96.8 344.3,98.8 344.6,100.2 344.8,101.7 345.1,103 345.3,104.8 345.6,106.1 345.8,107 346.1,107.3 346.3,106.7 346.6,105 346.8,103.9 347.1,102.5 347.3,101.1 347.6,100.1 347.8,98.6 348.1,97.2 348.3,95.8 348.6,94.9 348.8,93.3 349.1,91.5 349.3,90.4 349.6,88.8 349.8,87.5 350.1,87.1 350.3,86.1 350.6,85.7 350.8,86.2 351.1,87.5 351.3,85 351.6,87.5 351.8,85.5 352.1,86.5 352.3,86.7 352.6,87.6 352.8,87.1 353.1,86.3 353.3,86.7 353.6,87.3 353.8,87.9 354.1,87.3 354.3,87 354.6,86.9 354.8,88.3 355.1,86.5 355.3,86.8 355.6,87.4 355.8,88 356.1,85.8 356.3,87.8 356.6,88 356.8,87.3 357.1,85.7 357.3,86.6 357.6,87 357.8,87.3 358.1,86.2 358.3,86.9 358.6,87.6 358.8,86.7 359.1,86.9 359.3,86.7 359.6,86 359.8,86.8 360.1,86.9 360.3,87.6 360.6,86.5 360.8,86.1 361.1,86.7 361.3,86.4 361.6,87.5 361.8,86.7 362.1,85.9 362.3,87.5 362.6,87 362.8,87.2 363.1,87.4 363.3,87.9 363.6,86.4 363.8,87.6 364.1,87.1 364.3,87.1 364.6,87 364.8,86.7 365.1,87.2 365.3,87.1 365.6,87.6 365.8,88.2 366.1,86.4 366.3,88.5 366.6,87.9 366.8,86.2 367.1,87 367.3,87.1 367.6,88 367.8,86.4 368.1,88.4 368.3,86.3 368.6,86.8 368.8,86.6 369.1,86.2 369.3,86.2 369.6,86.6 369.8,86.9 370.1,86.6 370.3,86.4 370.6,85.2 370.8,86.9 371.1,88.5 371.3,88.3 371.6,88 371.8,86.8 372.1,87.5 372.3,86.7 372.6,86.7 372.8,87.2 373.1,87.9 373.3,86.7 373.6,86.6 373.8,87.1 374.1,86 374.3,87.7 374.6,87.9 374.8,88 375.1,87.7 375.3,86.6 375.6,86.9 375.8,86.4 376.1,87.3 376.3,88.7 376.6,86.4 376.8,87.6 377.1,88.1 377.3,86.3 377.6,88.7 377.8,86.6 378.1,87 378.3,87.4 378.6,87.8 378.8,87.7 379.1,86.9 379.3,86.6 379.6,85.4 379.8,86.7 380.1,88 380.3,86.5 380.6,87.6 380.8,87.6 381.1,87.2 381.3,86.7 381.6,86.7 381.8,87.1 382.1,85.8 382.3,88.1 382.6,86.3 382.8,86.6 383.1,86.6 383.3,86.9 383.6,87.4 383.8,88 384.1,87.3 384.3,88.3 384.6,86.8 384.8,87.6 385.1,87.7 385.3,87.2 385.6,87.6 385.8,86.3 386.1,88.1 386.3,87.7 386.6,87.2 386.8,86.8 387.1,87.7 387.3,86.3 387.6,87.7 387.8,87.8 388.1,89 388.3,87 388.6,88.1 388.8,87.6 389.1,85.9 389.3,86.1 389.6,86.7 389.8,88 390.1,88.2 390.3,86.9 390.6,87.4 390.8,87.3 391.1,86.1 391.3,86.6 391.6,85.1 391.8,83.1 392.1,81.8 392.3,80.5 392.6,79.1 392.8,77.8 393.1,76.4 393.3,74.7 393.6,73.4 393.8,71.8 394.1,70.4 394.3,69 394.6,67.6 394.8,65.8 395.1,67.5 395.3,68.6 395.6,70.1 395.8,71.6 396.1,72.9 396.3,74.5 396.6,75.5 396.8,77 397.1,78.7 397.3,80.1 397.6,81.6 397.8,83 398.1,84.7 398.3,86.2 398.6,87.4 398.8,89.1 399.1,90.4 399.3,91.6 399.6,93 399.8,94.7 400.1,96.3 400.3,97.5 400.6,98.7 400.8,100.7 401.1,102.2 401.3,103.4 401.6,105 401.8,106.7 402.1,107.5 402.3,107.4 402.6,105.8 402.8,104.4 403.1,102.5 403.3,101 403.6,99.6 403.8,98 404.1,96.4 404.3,94.5 404.6,93.1 404.8,91.3 405.1,89.9 405.3,88.2 405.6,86.7 405.8,84.9 406.1,83.3 406.3,81.8 406.6,80.1 406.8,78.5 407.1,76.7 407.3,75.1 407.6,73.4 407.8,72 408.1,70.6 408.3,68.9 408.6,66.9 408.8,66.4 409.1,67.6 409.3,69 409.6,70.6 409.8,72.1 410.1,73.6 410.3,75.1 410.6,76.6 410.8,77.9 411.1,79.1 411.3,80.9 411.6,81.9 411.8,83.7 412.1,84.8 412.3,86.4 412.6,88.1 412.8,89.3 413.1,91 413.3,92.4 413.6,93.7 413.8,95.3 414.1,96.7 414.3,98.1 414.6,99.4 414.8,101.1 415.1,102.4 415.3,103.9 415.6,105.4 415.8,106.8 416.1,108.4 416.3,107.3 416.6,105.9 416.8,104.5 417.1,103.4 417.3,101.7 417.6,100.3 417.8,98.8 418.1,97.3 418.3,96.4 418.6,95 418.8,93.8 419.1,92 419.3,90.7 419.6,89.4 419.8,88.5 420.1,87.4 420.3,86.8 420.6,86.8 420.8,86.8 421.1,85.9 421.3,86.5 421.6,85.6 421.8,86.1" stroke="#edb120" stroke-width="1.2"/>
<path d="M269.8,124.4 285.9,124.4 288.1,112.1 291.8,137 294.2,124.4 300.3,124.4 302.5,112.1 306.2,137 308.6,124.4 314,124.4 316.2,112.1 319.8,137 322.3,124.4 356,124.4 358.2,112.1 361.9,137 364.3,124.4 370.4,124.4 372.6,112.1 376.3,137 378.7,124.4 384.1,124.4 386.3,112.1 389.9,137 392.4,124.4 422,124.4" stroke="#0072bd" stroke-width="2.7"/>
<path d="M269.8,124.4 L285.9,124.4 M294.2,124.4 L300.3,124.4 M308.6,124.4 L314,124.4 M322.3,124.4 L356,124.4 M364.3,124.4 L370.4,124.4 M378.7,124.4 L384.1,124.4 M392.4,124.4 L422,124.4 " stroke="#0072bd" stroke-width="6.0" stroke-linecap="butt"/>
<path d="M269.8,125.1 270.1,124.7 270.3,123.7 270.6,124.2 270.8,125.2 271.1,123.9 271.3,123.1 271.6,124.2 271.8,123.9 272.1,124.2 272.3,124.4 272.6,124.1 272.8,124.1 273.1,125.3 273.3,125 273.6,125.3 273.8,124.5 274.1,124 274.3,124.7 274.6,123 274.8,123.3 275.1,125.2 275.3,123.9 275.6,123.7 275.8,123.3 276.1,124.8 276.3,123.2 276.6,125.6 276.8,124.6 277.1,122.7 277.3,123.9 277.6,123.4 277.8,124.9 278.1,124.9 278.3,123.9 278.6,123.8 278.8,124.8 279.1,123.8 279.3,125.7 279.6,123.7 279.8,124.7 280.1,122.4 280.3,124.7 280.6,123.8 280.8,124.6 281.1,125.5 281.3,124.2 281.6,121.9 281.8,122.4 282.1,124.4 282.3,123.5 282.6,123.2 282.8,125.4 283.1,124.1 283.3,125.3 283.6,125.2 283.8,124 284.1,124.5 284.3,123.2 284.6,124.7 284.8,124.3 285.1,125.9 285.3,125.2 285.6,124.2 285.8,124 286.1,123.4 286.3,122.1 286.6,120.9 286.8,119.5 287.1,117.6 287.3,116.2 287.6,115.1 287.8,113.4 288.1,112.2 288.3,113.1 288.6,115.1 288.8,116.8 289.1,118.5 289.3,120.1 289.6,122.1 289.8,123.8 290.1,125.5 290.3,127 290.6,128.7 290.8,130.3 291.1,132 291.3,133.8 291.6,135.5 291.8,136.5 292.1,135.5 292.3,134.3 292.6,132.7 292.8,131.5 293.1,130.4 293.3,129 293.6,127.5 293.8,126.1 294.1,125.3 294.3,123.8 294.6,124.7 294.8,123.4 295.1,126 295.3,123.3 295.6,126.1 295.8,125.1 296.1,125.7 296.3,125.5 296.6,124.9 296.8,124.1 297.1,126.7 297.3,124 297.6,124.5 297.8,123.1 298.1,124.4 298.3,124.9 298.6,123.7 298.8,124.5 299.1,124.1 299.3,124 299.6,125 299.8,125.2 300.1,123.7 300.3,123.8 300.6,123.1 300.8,121.4 301.1,120.1 301.3,118.6 301.6,117.6 301.8,116.5 302.1,114.5 302.3,113.8 302.6,112.5 302.8,114 303.1,116 303.3,117.9 303.6,119.1 303.8,120.8 304.1,122.9 304.3,124.5 304.6,125.4 304.8,127.7 305.1,129.2 305.3,131 305.6,132.8 305.8,134.4 306.1,136.1 306.3,137.1 306.6,134.6 306.8,133.7 307.1,132.5 307.3,130.8 307.6,129.6 307.8,128.3 308.1,127.5 308.3,125.7 308.6,124.8 308.8,123.5 309.1,123.1 309.3,124.8 309.6,125.2 309.8,123 310.1,123.4 310.3,124.6 310.6,123.4 310.8,123.2 311.1,123.3 311.3,124.6 311.6,121.8 311.8,126.1 312.1,125.9 312.3,125.6 312.6,124.1 312.8,123.7 313.1,124.9 313.3,123.3 313.6,126.4 313.8,123.9 314.1,124.4 314.3,122.8 314.6,121.1 314.8,119.7 315.1,118.2 315.3,117 315.6,115.7 315.8,114.2 316.1,112.6 316.3,112.9 316.6,114.8 316.8,116.4 317.1,118.1 317.3,119.5 317.6,121.3 317.8,123.2 318.1,124.7 318.3,126.3 318.6,128.4 318.8,129.9 319.1,131.6 319.3,133.2 319.6,135 319.8,137 320.1,136 320.3,134.3 320.6,133.2 320.8,132.2 321.1,130.8 321.3,129.7 321.6,128.1 321.8,126.9 322.1,125.8 322.3,124.3 322.6,125.2 322.8,122.6 323.1,123.4 323.3,125.2 323.6,125.1 323.8,125.1 324.1,125.2 324.3,125.2 324.6,123.2 324.8,125.9 325.1,125.2 325.3,123.2 325.6,123 325.8,124.7 326.1,123.6 326.3,124.8 326.6,124 326.8,122.8 327.1,123.5 327.3,123.9 327.6,124.3 327.8,125.1 328.1,123.7 328.3,124.8 328.6,124.1 328.8,124.2 329.1,122 329.3,123.8 329.6,122.9 329.8,125 330.1,125.4 330.3,124.7 330.6,126.3 330.8,124.6 331.1,125.1 331.3,124 331.6,124.7 331.8,123.3 332.1,124 332.3,125.3 332.6,124.3 332.8,124 333.1,124.2 333.3,124.8 333.6,125.6 333.8,122.8 334.1,124.3 334.3,124.2 334.6,124.1 334.8,124.3 335.1,124.8 335.3,125.5 335.6,122.6 335.8,123.1 336.1,124.4 336.3,122.9 336.6,124.7 336.8,123.5 337.1,124.2 337.3,123.1 337.6,123.4 337.8,127 338.1,124 338.3,125.7 338.6,124.2 338.8,124.9 339.1,123.5 339.3,124.8 339.6,123.8 339.8,121.5 340.1,121.7 340.3,124.2 340.6,124.9 340.8,123.5 341.1,123.2 341.3,123.7 341.6,125.9 341.8,122.4 342.1,124.9 342.3,125.4 342.6,122.9 342.8,123.3 343.1,123.9 343.3,123.6 343.6,125.2 343.8,124.3 344.1,123.7 344.3,124.6 344.6,125.5 344.8,123.9 345.1,123.4 345.3,125.2 345.6,126 345.8,125.8 346.1,125.1 346.3,124.1 346.6,125.1 346.8,124.9 347.1,124.9 347.3,124.3 347.6,125.3 347.8,125.2 348.1,123.1 348.3,125 348.6,123.4 348.8,124.5 349.1,124.2 349.3,124.8 349.6,123.9 349.8,124 350.1,123.8 350.3,123.9 350.6,122.9 350.8,124.9 351.1,123.8 351.3,124.7 351.6,124.4 351.8,124.8 352.1,124.9 352.3,123.1 352.6,124.2 352.8,124.6 353.1,123.7 353.3,123.7 353.6,124.7 353.8,125.6 354.1,124.9 354.3,125.1 354.6,124.7 354.8,126.3 355.1,124.4 355.3,125.3 355.6,127.7 355.8,124.7 356.1,124.1 356.3,122.3 356.6,120.9 356.8,120.4 357.1,118.5 357.3,116.9 357.6,115.5 357.8,114 358.1,112.8 358.3,112.6 358.6,114.6 358.8,116.5 359.1,118 359.3,119.6 359.6,121.3 359.8,123.3 360.1,124.4 360.3,126.2 360.6,128 360.8,129.6 361.1,131.6 361.3,133.1 361.6,134.7 361.8,136.8 362.1,135.9 362.3,134.8 362.6,133.4 362.8,132 363.1,130.6 363.3,129.6 363.6,128 363.8,127.2 364.1,125.7 364.3,124.4 364.6,123.6 364.8,126 365.1,124.1 365.3,124.9 365.6,123.8 365.8,125.5 366.1,124.8 366.3,125.4 366.6,125.2 366.8,124.3 367.1,123.5 367.3,124.5 367.6,123.8 367.8,124 368.1,126.1 368.3,125.3 368.6,124.7 368.8,125.1 369.1,125.3 369.3,124.7 369.6,124.4 369.8,124.6 370.1,124.9 370.3,125.5 370.6,123.3 370.8,122.2 371.1,120.7 371.3,119.9 371.6,117.9 371.8,116.9 372.1,115.3 372.3,113.9 372.6,113.2 372.8,113.5 373.1,115.1 373.3,117.2 373.6,118.3 373.8,119.9 374.1,121.8 374.3,123.7 374.6,125.2 374.8,127 375.1,128.9 375.3,130.5 375.6,132.2 375.8,134 376.1,135.5 376.3,137.9 376.6,135.6 376.8,134.6 377.1,133.2 377.3,131.7 377.6,130.7 377.8,129.3 378.1,128 378.3,126.6 378.6,124.9 378.8,124.2 379.1,125.5 379.3,125.8 379.6,123.1 379.8,123.7 380.1,122.5 380.3,123.2 380.6,125.2 380.8,124 381.1,125 381.3,126 381.6,122.8 381.8,124.7 382.1,124.9 382.3,125 382.6,125.6 382.8,125.7 383.1,125.1 383.3,123.7 383.6,125.7 383.8,126.7 384.1,124 384.3,123.2 384.6,121.9 384.8,120.3 385.1,119.1 385.3,117.7 385.6,116.5 385.8,114.7 386.1,113.4 386.3,113.5 386.6,114.1 386.8,115.5 387.1,117.1 387.3,119 387.6,120.8 387.8,122.4 388.1,123.8 388.3,125.6 388.6,127.4 388.8,129.2 389.1,131 389.3,132.8 389.6,134.2 389.8,135.8 390.1,135.6 390.3,134.9 390.6,133.8 390.8,132.5 391.1,131.3 391.3,130.1 391.6,128.6 391.8,127.1 392.1,126.2 392.3,125 392.6,123.9 392.8,127.7 393.1,122 393.3,123 393.6,123.9 393.8,123.9 394.1,123.5 394.3,124.7 394.6,125.6 394.8,125 395.1,124.7 395.3,126 395.6,123 395.8,124.3 396.1,124.5 396.3,124.1 396.6,124.3 396.8,124.2 397.1,123.8 397.3,123.3 397.6,123.4 397.8,124.1 398.1,124.8 398.3,124.9 398.6,125.2 398.8,122 399.1,123.5 399.3,123.2 399.6,124.4 399.8,124.4 400.1,124 400.3,125.4 400.6,123.9 400.8,124.5 401.1,124.9 401.3,124.9 401.6,124.1 401.8,125.8 402.1,125.1 402.3,125.4 402.6,124.6 402.8,124.6 403.1,123.6 403.3,122.5 403.6,123.3 403.8,122.8 404.1,124.4 404.3,123 404.6,123.9 404.8,123.5 405.1,124.4 405.3,124.2 405.6,125.8 405.8,125.3 406.1,125.9 406.3,124.5 406.6,122.6 406.8,125.4 407.1,126.3 407.3,124 407.6,125.8 407.8,124.2 408.1,124.5 408.3,124.3 408.6,123.8 408.8,123.9 409.1,122.7 409.3,124.6 409.6,124.5 409.8,125.1 410.1,124.4 410.3,124.8 410.6,126.6 410.8,125.4 411.1,124.3 411.3,124.7 411.6,124.4 411.8,125.7 412.1,123.9 412.3,125.5 412.6,124.8 412.8,121.8 413.1,124.9 413.3,123.8 413.6,123.5 413.8,124.4 414.1,124.7 414.3,126.8 414.6,124.5 414.8,123.5 415.1,124.3 415.3,124.9 415.6,123.5 415.8,124.2 416.1,122.8 416.3,123.2 416.6,124 416.8,125.1 417.1,123.5 417.3,123.5 417.6,124.3 417.8,123.4 418.1,123.8 418.3,123.5 418.6,126.1 418.8,123.9 419.1,125.8 419.3,124.5 419.6,126.2 419.8,123.4 420.1,124.6 420.3,122 420.6,125.7 420.8,125 421.1,124 421.3,126.4 421.6,127.3 421.8,125.9" stroke="#0072bd" stroke-width="1.3"/>
<path d="M269.8,162.4 278.6,162.4 282.7,139.7 286.9,162.4 293,162.4 297.1,139.7 301.3,162.4 306.7,162.4 310.8,139.7 315,162.4 348.7,162.4 352.8,139.7 357,162.4 363.1,162.4 367.2,139.7 371.4,162.4 376.8,162.4 380.9,139.7 385.1,162.4 419.3,162.4 422,147.5" stroke="#d95319" stroke-width="2.7"/>
<path d="M269.8,162.4 L278.6,162.4 M286.9,162.4 L293,162.4 M301.3,162.4 L306.7,162.4 M315,162.4 L348.7,162.4 M357,162.4 L363.1,162.4 M371.4,162.4 L376.8,162.4 M385.1,162.4 L419.3,162.4 " stroke="#d95319" stroke-width="5.2" stroke-linecap="butt"/>
<path d="M269.8,163.8 270.1,162.4 270.3,161.7 270.6,161 270.8,163.3 271.1,160.7 271.3,162.2 271.6,163.9 271.8,162.7 272.1,161.3 272.3,161.6 272.6,163.5 272.8,161.4 273.1,162 273.3,161.1 273.6,162.3 273.8,161.8 274.1,163.3 274.3,161.5 274.6,162 274.8,160.2 275.1,163.6 275.3,163.5 275.6,162.1 275.8,162.5 276.1,162.8 276.3,163.3 276.6,160.9 276.8,161.6 277.1,164.4 277.3,163.4 277.6,162.9 277.8,162.4 278.1,163.1 278.3,163.2 278.6,162.7 278.8,160.9 279.1,159.7 279.3,158.4 279.6,157 279.8,155.4 280.1,154.2 280.3,152.7 280.6,151.4 280.8,150.2 281.1,148.9 281.3,147.5 281.6,146.3 281.8,144.7 282.1,143 282.3,142 282.6,140.4 282.8,139.4 283.1,141.4 283.3,142.9 283.6,144.4 283.8,145.6 284.1,146.7 284.3,148.3 284.6,149.5 284.8,151.3 285.1,152.2 285.3,154 285.6,155.1 285.8,156.6 286.1,157.7 286.3,159.4 286.6,160.6 286.8,162 287.1,161.7 287.3,161.9 287.6,160.7 287.8,162.9 288.1,162.1 288.3,163.7 288.6,161 288.8,163.8 289.1,162.8 289.3,162 289.6,162.8 289.8,161.2 290.1,161.1 290.3,163.5 290.6,160.6 290.8,162.4 291.1,163.6 291.3,162.5 291.6,163.6 291.8,162.2 292.1,161.8 292.3,163.4 292.6,163.2 292.8,162.3 293.1,162.4 293.3,160.4 293.6,159.5 293.8,157.8 294.1,156.5 294.3,155.2 294.6,153.8 294.8,152.5 295.1,151.3 295.3,150 295.6,148.3 295.8,146.9 296.1,145.4 296.3,144.5 296.6,143 296.8,141.3 297.1,140.2 297.3,141 297.6,141.8 297.8,143.4 298.1,144.7 298.3,146 298.6,147.5 298.8,148.4 299.1,150.4 299.3,151.5 299.6,152.9 299.8,154 300.1,156.1 300.3,157.1 300.6,158 300.8,159.6 301.1,161.1 301.3,162 301.6,161.2 301.8,161.2 302.1,161.6 302.3,162.5 302.6,162.6 302.8,163.5 303.1,162.2 303.3,160.4 303.6,162.3 303.8,163.4 304.1,161.3 304.3,162.5 304.6,162.7 304.8,161.5 305.1,162.2 305.3,161.5 305.6,163.7 305.8,163 306.1,162.4 306.3,163 306.6,162.7 306.8,161.4 307.1,159.9 307.3,158.5 307.6,157.2 307.8,156.3 308.1,155 308.3,153.7 308.6,151.7 308.8,150.6 309.1,149.5 309.3,148.3 309.6,146.5 309.8,145.1 310.1,143.7 310.3,142.5 310.6,141.2 310.8,140.5 311.1,140.9 311.3,142.7 311.6,143.5 311.8,145.2 312.1,146.8 312.3,148.1 312.6,149.3 312.8,150.5 313.1,151.9 313.3,153.2 313.6,154.5 313.8,155.8 314.1,157.6 314.3,158.5 314.6,160 314.8,161.8 315.1,162.6 315.3,164 315.6,163.8 315.8,162.8 316.1,163.4 316.3,161.4 316.6,162.6 316.8,164 317.1,162.8 317.3,162.7 317.6,164.9 317.8,163.2 318.1,161.1 318.3,163.5 318.6,160.2 318.8,162.9 319.1,162.8 319.3,162 319.6,161.7 319.8,162.1 320.1,164.9 320.3,161.5 320.6,161.7 320.8,162.3 321.1,162.1 321.3,164 321.6,162.8 321.8,162.3 322.1,163.1 322.3,162.7 322.6,162.3 322.8,162.2 323.1,162.3 323.3,162.3 323.6,162.1 323.8,162.4 324.1,163.6 324.3,161.3 324.6,162.8 324.8,163.1 325.1,162.4 325.3,162.4 325.6,163.5 325.8,162.1 326.1,163 326.3,162.9 326.6,162.6 326.8,162.7 327.1,163.2 327.3,163.8 327.6,161.5 327.8,163.4 328.1,161.8 328.3,161.7 328.6,162.6 328.8,162.6 329.1,160.9 329.3,163.9 329.6,162.1 329.8,163.1 330.1,162.8 330.3,163 330.6,162.5 330.8,162.7 331.1,162.5 331.3,162.1 331.6,163.5 331.8,162.6 332.1,162.8 332.3,161.9 332.6,161.9 332.8,162.6 333.1,161.2 333.3,163.7 333.6,162.1 333.8,162.2 334.1,162 334.3,162.6 334.6,162.9 334.8,163.1 335.1,161.9 335.3,161.5 335.6,162.3 335.8,162.3 336.1,161.8 336.3,163.5 336.6,161.5 336.8,161.7 337.1,163.3 337.3,162.1 337.6,162.3 337.8,161.7 338.1,161.3 338.3,161.8 338.6,160.9 338.8,163.1 339.1,162.7 339.3,164.1 339.6,162.4 339.8,161.9 340.1,163.3 340.3,162 340.6,163.3 340.8,162 341.1,160.8 341.3,162.1 341.6,162.1 341.8,162.9 342.1,162 342.3,162.6 342.6,162.6 342.8,161.6 343.1,161.4 343.3,161.8 343.6,161 343.8,162.5 344.1,163 344.3,162.1 344.6,161.8 344.8,161.4 345.1,163 345.3,163.3 345.6,160.5 345.8,164.2 346.1,163.8 346.3,161.9 346.6,162.4 346.8,162.5 347.1,162.7 347.3,162.1 347.6,162.8 347.8,163 348.1,164.6 348.3,162.3 348.6,162.1 348.8,161.9 349.1,160.3 349.3,158.9 349.6,157.6 349.8,156.1 350.1,154.7 350.3,153.3 350.6,151.9 350.8,150.6 351.1,149.7 351.3,148 351.6,146.4 351.8,145 352.1,144.1 352.3,142.4 352.6,141.2 352.8,138.6 353.1,140.5 353.3,142.3 353.6,143.3 353.8,145.1 354.1,146.6 354.3,147.6 354.6,149 354.8,150.4 355.1,151.7 355.3,153.2 355.6,154.5 355.8,155.9 356.1,157.3 356.3,158.8 356.6,160.2 356.8,161.5 357.1,162.1 357.3,162.8 357.6,163.1 357.8,162.5 358.1,162.1 358.3,164.2 358.6,160.4 358.8,162.9 359.1,162.6 359.3,163.7 359.6,164 359.8,162.9 360.1,162 360.3,162.9 360.6,161.4 360.8,162.5 361.1,161.7 361.3,162.8 361.6,160.9 361.8,162.1 362.1,162.6 362.3,162.2 362.6,162.1 362.8,161.7 363.1,162.3 363.3,161.5 363.6,159.7 363.8,158.2 364.1,156.9 364.3,155.6 364.6,154.5 364.8,152.9 365.1,151.7 365.3,150.5 365.6,148.7 365.8,147.5 366.1,146.1 366.3,144.9 366.6,143.5 366.8,142.1 367.1,140.4 367.3,139.9 367.6,141.4 367.8,142.8 368.1,144 368.3,145.6 368.6,147 368.8,148.3 369.1,149.5 369.3,150.9 369.6,152.1 369.8,153.6 370.1,155.2 370.3,156.4 370.6,157.8 370.8,159.4 371.1,160.4 371.3,161.9 371.6,161.6 371.8,163.2 372.1,162.2 372.3,163.1 372.6,163 372.8,162.3 373.1,162.9 373.3,161.1 373.6,161.9 373.8,160.7 374.1,163.2 374.3,162.9 374.6,163.6 374.8,163.5 375.1,163.7 375.3,162.2 375.6,161.1 375.8,162 376.1,164.2 376.3,162.9 376.6,163.2 376.8,162.4 377.1,160.9 377.3,159.3 377.6,157.8 377.8,156.8 378.1,155.1 378.3,154.3 378.6,152.7 378.8,151.3 379.1,149.8 379.3,148.1 379.6,146.9 379.8,145.9 380.1,144.1 380.3,142.7 380.6,141.9 380.8,139.5 381.1,140.4 381.3,141.9 381.6,143.6 381.8,144.8 382.1,146 382.3,146.9 382.6,148.6 382.8,149.7 383.1,151.4 383.3,152.5 383.6,154.3 383.8,155.6 384.1,156.7 384.3,158.3 384.6,159.6 384.8,161 385.1,162.3 385.3,163 385.6,162.5 385.8,162.1 386.1,162.7 386.3,161.8 386.6,163.5 386.8,163.1 387.1,160.6 387.3,162.1 387.6,162.3 387.8,162.3 388.1,162.8 388.3,163.6 388.6,163.7 388.8,160.7 389.1,163.2 389.3,160.8 389.6,163.3 389.8,162.8 390.1,161.7 390.3,162 390.6,162 390.8,163.5 391.1,161.9 391.3,162 391.6,162.7 391.8,163.8 392.1,161.9 392.3,162.6 392.6,161.8 392.8,163.3 393.1,161.4 393.3,162.7 393.6,162.7 393.8,162.1 394.1,163.4 394.3,164 394.6,162.4 394.8,162.7 395.1,162.6 395.3,163.4 395.6,163.1 395.8,162.5 396.1,162.3 396.3,161.7 396.6,162.2 396.8,162.4 397.1,163.9 397.3,163.2 397.6,160.5 397.8,161.9 398.1,163.5 398.3,163.4 398.6,160.8 398.8,162.3 399.1,163.8 399.3,161.8 399.6,162 399.8,162.5 400.1,161.5 400.3,163.3 400.6,162.6 400.8,162.6 401.1,161.8 401.3,163.3 401.6,162.1 401.8,161.7 402.1,162.2 402.3,161.2 402.6,161.9 402.8,164.4 403.1,161.7 403.3,161.6 403.6,162.4 403.8,162.7 404.1,162.7 404.3,162.6 404.6,160.9 404.8,162 405.1,160.4 405.3,163 405.6,162.7 405.8,163.1 406.1,161 406.3,160.6 406.6,162.4 406.8,161.5 407.1,161.3 407.3,161.6 407.6,161 407.8,160.8 408.1,162.7 408.3,162.6 408.6,163 408.8,162.6 409.1,162.4 409.3,162.7 409.6,162.1 409.8,162.5 410.1,162.2 410.3,160.4 410.6,162.7 410.8,163.9 411.1,163.7 411.3,162.2 411.6,162.7 411.8,162.6 412.1,163.9 412.3,163.8 412.6,161.7 412.8,161.7 413.1,162 413.3,161.8 413.6,163.7 413.8,160.7 414.1,161.4 414.3,161.1 414.6,161.8 414.8,162.9 415.1,161.4 415.3,163.1 415.6,163.8 415.8,162.5 416.1,163.4 416.3,162.2 416.6,162.7 416.8,162.1 417.1,163.4 417.3,162.7 417.6,163 417.8,163.2 418.1,163.3 418.3,161.5 418.6,162.6 418.8,161.7 419.1,162.1 419.3,162.1 419.6,160.9 419.8,159.4 420.1,158 420.3,157 420.6,155.4 420.8,153.6 421.1,152.7 421.3,151.2 421.6,150.1 421.8,148.7" stroke="#d95319" stroke-width="1.3"/>
</g>
<rect x="269.8" y="56.5" width="152.2" height="126.4" fill="none" stroke="#1a1a1a" stroke-width="1.5" stroke-dasharray="4.3 2.7"/>
<text x="424.2" y="104.4" font-size="14.5">Alternating</text>
<text x="424.2" y="121.1" font-size="14.5">Adjustment</text>
<path d="M210.8,46.5 v8.5 M210.8,202.2 v-8.5" stroke="#262626" stroke-width="1.2"/>
<path d="M338.5,46.5 v8.5 M338.5,202.2 v-8.5" stroke="#262626" stroke-width="1.2"/>
<path d="M466.3,46.5 v8.5 M466.3,202.2 v-8.5" stroke="#262626" stroke-width="1.2"/>
<path d="M594,46.5 v8.5 M594,202.2 v-8.5" stroke="#262626" stroke-width="1.2"/>
<path d="M83,150.3 h8.5 M721.8,150.3 h-8.5" stroke="#262626" stroke-width="1.2"/>
<path d="M83,98.4 h8.5 M721.8,98.4 h-8.5" stroke="#262626" stroke-width="1.2"/>
<rect x="83" y="46.5" width="638.8" height="155.7" fill="none" stroke="#262626" stroke-width="1.3"/>
<text x="83" y="224.7" text-anchor="middle" class="tk">0.0</text>
<text x="210.8" y="224.7" text-anchor="middle" class="tk">1.0</text>
<text x="338.5" y="224.7" text-anchor="middle" class="tk">2.0</text>
<text x="466.3" y="224.7" text-anchor="middle" class="tk">3.0</text>
<text x="594" y="224.7" text-anchor="middle" class="tk">4.0</text>
<text x="721.8" y="224.7" text-anchor="middle" class="tk">5.0</text>
<text x="74.2" y="208.1" text-anchor="end" class="tk">0.0</text>
<text x="74.2" y="156.2" text-anchor="end" class="tk">1.0</text>
<text x="74.2" y="104.3" text-anchor="end" class="tk">2.0</text>
<text x="74.2" y="52.4" text-anchor="end" class="tk">3.0</text>
<rect x="114.2" y="64.9" width="114.8" height="79.4" fill="#fff" stroke="#111" stroke-width="1.3"/>
<line x1="130.1" y1="80.1" x2="169.2" y2="80.1" stroke="#0072bd" stroke-width="4.2"/>
<line x1="130.1" y1="104.8" x2="169.2" y2="104.8" stroke="#d95319" stroke-width="4.2"/>
<line x1="130.1" y1="125.7" x2="169.2" y2="125.7" stroke="#edb120" stroke-width="4.2"/>
<text x="177.5" y="83.9" font-size="23" font-style="italic">V<tspan font-size="13.5" dx="-2.5" dy="1.6">p</tspan></text>
<text x="177.5" y="110.6" font-size="23" font-style="italic">V<tspan font-size="13.5" dx="-2.5" dy="0.5">a</tspan></text>
<text x="176" y="133.5" font-size="23" font-style="italic">V<tspan font-size="12.5" font-style="normal" dx="-3.5" dy="1" letter-spacing="-0.55">heater</tspan></text>
<text transform="translate(33.7,169.4) rotate(-90)" font-size="18.8">Voltage(V)</text>
</g>
<g id="p2">
<line x1="108.6" y1="243.5" x2="108.6" y2="399.2" stroke="#e8e8e8" stroke-width="0.8" stroke-dasharray="1 1.5"/>
<line x1="134.1" y1="243.5" x2="134.1" y2="399.2" stroke="#e8e8e8" stroke-width="0.8" stroke-dasharray="1 1.5"/>
<line x1="159.7" y1="243.5" x2="159.7" y2="399.2" stroke="#e8e8e8" stroke-width="0.8" stroke-dasharray="1 1.5"/>
<line x1="185.2" y1="243.5" x2="185.2" y2="399.2" stroke="#e8e8e8" stroke-width="0.8" stroke-dasharray="1 1.5"/>
<line x1="236.3" y1="243.5" x2="236.3" y2="399.2" stroke="#e8e8e8" stroke-width="0.8" stroke-dasharray="1 1.5"/>
<line x1="261.9" y1="243.5" x2="261.9" y2="399.2" stroke="#e8e8e8" stroke-width="0.8" stroke-dasharray="1 1.5"/>
<line x1="287.4" y1="243.5" x2="287.4" y2="399.2" stroke="#e8e8e8" stroke-width="0.8" stroke-dasharray="1 1.5"/>
<line x1="313" y1="243.5" x2="313" y2="399.2" stroke="#e8e8e8" stroke-width="0.8" stroke-dasharray="1 1.5"/>
<line x1="364.1" y1="243.5" x2="364.1" y2="399.2" stroke="#e8e8e8" stroke-width="0.8" stroke-dasharray="1 1.5"/>
<line x1="389.6" y1="243.5" x2="389.6" y2="399.2" stroke="#e8e8e8" stroke-width="0.8" stroke-dasharray="1 1.5"/>
<line x1="415.2" y1="243.5" x2="415.2" y2="399.2" stroke="#e8e8e8" stroke-width="0.8" stroke-dasharray="1 1.5"/>
<line x1="440.7" y1="243.5" x2="440.7" y2="399.2" stroke="#e8e8e8" stroke-width="0.8" stroke-dasharray="1 1.5"/>
<line x1="491.8" y1="243.5" x2="491.8" y2="399.2" stroke="#e8e8e8" stroke-width="0.8" stroke-dasharray="1 1.5"/>
<line x1="517.4" y1="243.5" x2="517.4" y2="399.2" stroke="#e8e8e8" stroke-width="0.8" stroke-dasharray="1 1.5"/>
<line x1="542.9" y1="243.5" x2="542.9" y2="399.2" stroke="#e8e8e8" stroke-width="0.8" stroke-dasharray="1 1.5"/>
<line x1="568.5" y1="243.5" x2="568.5" y2="399.2" stroke="#e8e8e8" stroke-width="0.8" stroke-dasharray="1 1.5"/>
<line x1="619.6" y1="243.5" x2="619.6" y2="399.2" stroke="#e8e8e8" stroke-width="0.8" stroke-dasharray="1 1.5"/>
<line x1="645.1" y1="243.5" x2="645.1" y2="399.2" stroke="#e8e8e8" stroke-width="0.8" stroke-dasharray="1 1.5"/>
<line x1="670.7" y1="243.5" x2="670.7" y2="399.2" stroke="#e8e8e8" stroke-width="0.8" stroke-dasharray="1 1.5"/>
<line x1="696.2" y1="243.5" x2="696.2" y2="399.2" stroke="#e8e8e8" stroke-width="0.8" stroke-dasharray="1 1.5"/>
<line x1="210.8" y1="243.5" x2="210.8" y2="399.2" stroke="#e2e2e2" stroke-width="1.2"/>
<line x1="338.5" y1="243.5" x2="338.5" y2="399.2" stroke="#e2e2e2" stroke-width="1.2"/>
<line x1="466.3" y1="243.5" x2="466.3" y2="399.2" stroke="#e2e2e2" stroke-width="1.2"/>
<line x1="594" y1="243.5" x2="594" y2="399.2" stroke="#e2e2e2" stroke-width="1.2"/>
<line x1="83" y1="368.1" x2="721.8" y2="368.1" stroke="#e2e2e2" stroke-width="1.2"/>
<line x1="83" y1="336.9" x2="721.8" y2="336.9" stroke="#e2e2e2" stroke-width="1.2"/>
<line x1="83" y1="305.8" x2="721.8" y2="305.8" stroke="#e2e2e2" stroke-width="1.2"/>
<line x1="83" y1="274.6" x2="721.8" y2="274.6" stroke="#e2e2e2" stroke-width="1.2"/>
<clipPath id="c2"><rect x="83" y="243.5" width="638.8" height="155.7"/></clipPath>
<g clip-path="url(#c2)" fill="none" stroke-linejoin="round">
<path d="M83,318.8 476.7,318.8 479,300 481.3,262 482.8,252.3 484,262 485.1,287 486,289.4 497.2,293.5 498.3,330 499.6,384 499.9,385.5 500.6,366 501.3,385.5 502,366 502.6,385.5 503.3,366 504,385.5 504.7,366 505.2,366.3 517.9,366.3 518.4,385.5 519.4,367 520.4,385.5 521.4,367 522.4,385.5 523.4,367 524.4,385.5 525.4,367 526.1,366.3 538.4,366.3 538.8,344.5 539.2,366.3 539.6,385.5 540.5,367 541.3,385.5 542.1,367 543,385.5 543.8,367 544.6,385.5 545.5,367 546.1,366.3 558.6,366.3 559,343.5 559.4,366.3 559.8,385.5 560.6,365 561.5,385.5 562.3,365 563.1,385.5 563.9,365 564.8,385.5 565.6,365 566.3,383.6 578.9,383.6 579.6,364.6 580.6,384.5 581.5,364.6 582.5,384.5 583.5,364.6 584.5,384.5 585.4,364.6 586.4,384.5 587.1,383.6 599.2,383.6 599.9,364.6 600.9,384.5 601.9,364.6 602.9,384.5 603.8,364.6 604.8,384.5 605.8,364.6 606.8,384.5 607.5,383.6 619.6,383.6 620.3,364.6 621.3,384.5 622.2,364.6 623.2,384.5 624.2,364.6 625.2,384.5 626.1,364.6 627.1,384.5 627.8,383.6 639.9,383.6 640.6,364.6 641.6,384.5 642.6,364.6 643.6,384.5 644.5,364.6 645.5,384.5 646.5,364.6 647.5,384.5 648.1,383.6 660.3,383.6 661,364.6 662,384.5 662.9,364.6 663.9,384.5 664.9,364.6 665.9,384.5 666.8,364.6 667.8,384.5 668.5,383.6 680.6,383.6 681.3,364.6 682.3,384.5 683.3,364.6 684.3,384.5 685.2,364.6 686.2,384.5 687.2,364.6 688.2,384.5 688.9,383.6 701,383.6 701.7,364.6 702.7,384.5 703.6,364.6 704.6,384.5 705.6,364.6 706.6,384.5 707.5,364.6 708.5,384.5 709.2,383.6 721.8,383.6" stroke="#edb120" stroke-width="0.35"/>
<path d="M83,318.8 L476.7,318.8 M486,289.4 L497.2,293.5 M505.2,366.3 L517.9,366.3 M526.1,366.3 L538.4,366.3 M546.1,366.3 L558.6,366.3 M566.3,383.6 L578.9,383.6 M587.1,383.6 L599.2,383.6 M607.5,383.6 L619.6,383.6 M627.8,383.6 L639.9,383.6 M648.1,383.6 L660.3,383.6 M668.5,383.6 L680.6,383.6 M688.9,383.6 L701,383.6 M709.2,383.6 L721.8,383.6 " stroke="#edb120" stroke-width="5.8" stroke-linecap="butt"/>
<path d="M83,321.9 83.2,318.2 83.4,320.4 83.6,318.5 83.8,317.6 84,315.9 84.2,319.3 84.4,321.5 84.6,318.4 84.8,320.8 85,319 85.2,320.3 85.4,318.5 85.6,319.8 85.8,317 86,320.2 86.2,322.3 86.4,320.8 86.6,317.8 86.8,315.3 87,319.2 87.2,316.7 87.4,318.6 87.6,320.7 87.8,314.6 88,318.3 88.2,318.5 88.4,320.2 88.6,319.6 88.8,322 89,319.7 89.2,320.1 89.4,315.1 89.6,318.8 89.8,318.2 90,318.7 90.2,320.8 90.4,316.6 90.6,314 90.8,322.2 91,318.5 91.2,318.1 91.4,321.5 91.6,320.4 91.8,319.2 92,319.4 92.2,320.2 92.4,317.2 92.6,319.1 92.8,322.7 93,319.9 93.2,319.5 93.4,322.6 93.6,319.4 93.8,322 94,319.5 94.2,318.5 94.4,319.7 94.6,319.5 94.8,316.3 95,322.8 95.2,319.9 95.4,323 95.6,317.6 95.8,318.2 96,316.6 96.2,318.6 96.4,320.1 96.6,322.8 96.8,318.1 97,318.3 97.2,320.8 97.4,319.9 97.6,317.7 97.8,318.1 98,317.7 98.2,321.2 98.4,317.9 98.6,318.3 98.8,321.1 99,317.8 99.2,320.9 99.4,316.3 99.6,317.7 99.8,321.5 100,320 100.2,317.2 100.4,316.7 100.6,315.8 100.8,319.5 101,318.4 101.2,319.5 101.4,318.7 101.6,324.1 101.8,321.2 102,316 102.2,319.4 102.4,316.6 102.6,319.3 102.8,318.3 103,319.3 103.2,318.2 103.4,314.9 103.6,320 103.8,315.4 104,317.1 104.2,317.5 104.4,319.2 104.6,316.6 104.8,318.6 105,319 105.2,322.5 105.4,317.6 105.6,319.4 105.8,320.1 106,318.5 106.2,319.2 106.4,320.7 106.6,317.6 106.8,313.5 107,318.3 107.2,319.4 107.4,319.8 107.6,319.8 107.8,321.1 108,319 108.2,317.8 108.4,316.8 108.6,316.4 108.8,320.7 109,317.7 109.2,317.3 109.4,321.7 109.6,316.4 109.8,320.5 110,317 110.2,317.9 110.4,317.9 110.6,319.6 110.8,318.2 111,320.6 111.2,317.7 111.4,322.4 111.6,318.1 111.8,315.4 112,317 112.2,317 112.4,319.4 112.6,316.2 112.8,321 113,317.1 113.2,317.8 113.4,320.8 113.6,314.8 113.8,322.8 114,317.1 114.2,315.1 114.4,321.7 114.6,318.4 114.8,315.4 115,320 115.2,321.9 115.4,321.9 115.6,320 115.8,316.9 116,317.8 116.2,320.4 116.4,319.7 116.6,318.3 116.8,321.6 117,316.4 117.2,322 117.4,316.7 117.6,317.8 117.8,318.6 118,320.4 118.2,321.2 118.4,315.8 118.6,317 118.8,317.5 119,318.5 119.2,317.3 119.4,316.7 119.6,321.7 119.8,320.2 120,318.9 120.2,320.6 120.4,318.4 120.6,315.8 120.8,315.2 121,320 121.2,318.7 121.4,318.7 121.6,316.9 121.8,319.1 122,319.3 122.2,321.5 122.4,321.3 122.6,317.6 122.8,322.4 123,320.7 123.2,321.8 123.4,318.5 123.6,320.9 123.8,315.8 124,321.2 124.2,317.4 124.4,319.7 124.6,317.6 124.8,318.9 125,319 125.2,316.3 125.4,319.2 125.6,320.8 125.8,319.1 126,321.1 126.2,323.4 126.4,319.1 126.6,321.6 126.8,319.3 127,316.7 127.2,320.4 127.4,316.5 127.6,319 127.8,323.4 128,317.5 128.2,316.7 128.4,318.2 128.6,319.7 128.8,320.6 129,317.7 129.2,317.7 129.4,320.1 129.6,318.7 129.8,320.9 130,317.3 130.2,321.6 130.4,319.4 130.6,318.8 130.8,315.7 131,318.3 131.2,318.7 131.4,321.1 131.6,319.2 131.8,316.9 132,316.2 132.2,320.6 132.4,316.6 132.6,322.3 132.8,319.4 133,317.9 133.2,317.3 133.4,321.6 133.6,318.6 133.8,319.2 134,314.9 134.2,319.2 134.4,316.9 134.6,314.4 134.8,318.4 135,318.6 135.2,316.4 135.4,324.4 135.6,316.6 135.8,317.1 136,319.4 136.2,319.5 136.4,319.4 136.6,318.3 136.8,321.9 137,317.2 137.2,315.2 137.4,316.8 137.6,318.5 137.8,319 138,322.8 138.2,318.7 138.4,317.9 138.6,317.8 138.8,317.2 139,320.3 139.2,316.5 139.4,321.5 139.6,317 139.8,317.5 140,318.9 140.2,315.6 140.4,319.1 140.6,318.8 140.8,321.5 141,320.3 141.2,314.1 141.4,319.6 141.6,316.9 141.8,316.9 142,317.2 142.2,322.8 142.4,318 142.6,318.8 142.8,320.6 143,322.4 143.2,318.1 143.4,319.1 143.6,319.3 143.8,319 144,318.4 144.2,316.6 144.4,317.8 144.6,317.2 144.8,316.9 145,317.7 145.2,318.7 145.4,317.5 145.6,318 145.8,320.6 146,320.3 146.2,316.9 146.4,315.3 146.6,323.8 146.8,318.4 147,322.3 147.2,318.7 147.4,322.3 147.6,319.7 147.8,318.7 148,317.7 148.2,318.5 148.4,317 148.6,319.4 148.8,318.7 149,319.8 149.2,319.9 149.4,316.7 149.6,319.4 149.8,318.9 150,320.9 150.2,322 150.4,318 150.6,314.7 150.8,318.7 151,318.7 151.2,316.9 151.4,319.6 151.6,318.3 151.8,320.1 152,316.3 152.2,319.3 152.4,318.4 152.6,318.4 152.8,320.7 153,317.6 153.2,318 153.4,320.3 153.6,315.8 153.8,320.1 154,317.4 154.2,314.3 154.4,321.5 154.6,322 154.8,318.9 155,316.8 155.2,315.3 155.4,319.3 155.6,321.7 155.8,315.8 156,318.6 156.2,321.8 156.4,320.3 156.6,318.4 156.8,322.7 157,316.2 157.2,319.7 157.4,320.8 157.6,316.1 157.8,317.7 158,317.9 158.2,324.1 158.4,318.6 158.6,318.5 158.8,317.6 159,323.8 159.2,322.7 159.4,317 159.6,317.3 159.8,319.9 160,319.1 160.2,319.5 160.4,317.3 160.6,315.2 160.8,319.1 161,316.9 161.2,323.9 161.4,319.1 161.6,319.3 161.8,319.6 162,317.6 162.2,319.2 162.4,316.6 162.6,318.8 162.8,319.7 163,318.9 163.2,313.3 163.4,319.9 163.6,317.3 163.8,320.7 164,319 164.2,318.8 164.4,319.7 164.6,317.5 164.8,318.9 165,318.1 165.2,319.9 165.4,320.6 165.6,317.2 165.8,318 166,317.2 166.2,322.4 166.4,317.3 166.6,318.7 166.8,318.4 167,317 167.2,319.9 167.4,318.3 167.6,320.9 167.8,317 168,319.5 168.2,323.2 168.4,320.6 168.6,318.8 168.8,320.6 169,316.5 169.2,319.8 169.4,319.6 169.6,319.9 169.8,319.9 170,320.2 170.2,317.7 170.4,317.8 170.6,316.8 170.8,319.8 171,315.3 171.2,318.6 171.4,317.2 171.6,319.2 171.8,323.2 172,317.8 172.2,320.9 172.4,321.5 172.6,316.6 172.8,318.5 173,319.3 173.2,317.2 173.4,318 173.6,318.4 173.8,319.1 174,317.8 174.2,321 174.4,319.9 174.6,318.7 174.8,319.4 175,315.5 175.2,315.9 175.4,316.2 175.6,319.2 175.8,321.7 176,317.9 176.2,316.6 176.4,317 176.6,319.2 176.8,316.3 177,317.1 177.2,320.1 177.4,321.2 177.6,319 177.8,318.7 178,318.2 178.2,319.9 178.4,313.2 178.6,319.2 178.8,319.2 179,318.1 179.2,318.1 179.4,319.6 179.6,317.9 179.8,320 180,317.3 180.2,319.6 180.4,320.5 180.6,316.8 180.8,320.7 181,319.5 181.2,319.3 181.4,321.3 181.6,319.6 181.8,317.1 182,320 182.2,321 182.4,318.1 182.6,318.3 182.8,318.3 183,317.9 183.2,317.3 183.4,320.2 183.6,320.9 183.8,316.3 184,318.5 184.2,318.2 184.4,320.2 184.6,320.8 184.8,319.6 185,321 185.2,320.6 185.4,320.1 185.6,319.8 185.8,320.9 186,317.8 186.2,316.7 186.4,320.5 186.6,320.6 186.8,322 187,318.7 187.2,316.7 187.4,319.6 187.6,321.6 187.8,317.7 188,318.6 188.2,317.8 188.4,316 188.6,321.1 188.8,318 189,321.9 189.2,318.1 189.4,315.5 189.6,317.1 189.8,317 190,317.5 190.2,318.4 190.4,318.1 190.6,321.9 190.8,314.6 191,316.9 191.2,319 191.4,320.2 191.6,319 191.8,318.7 192,319.8 192.2,318.4 192.4,318.3 192.6,319.5 192.8,316.1 193,318.8 193.2,317.3 193.4,319.3 193.6,318.4 193.8,321.1 194,319.8 194.2,319.4 194.4,317.3 194.6,319.8 194.8,314.7 195,320.5 195.2,320.4 195.4,319.2 195.6,320.1 195.8,316.2 196,317.9 196.2,317.1 196.4,319.9 196.6,319.9 196.8,321.8 197,316.8 197.2,317.1 197.4,319.6 197.6,317.6 197.8,317.5 198,320 198.2,318.8 198.4,317.7 198.6,320.9 198.8,318.6 199,316.1 199.2,318.4 199.4,318.8 199.6,317.5 199.8,320.7 200,319.3 200.2,320.1 200.4,320.5 200.6,318.3 200.8,318.4 201,319 201.2,318.1 201.4,321.5 201.6,317.2 201.8,316.4 202,319.9 202.2,318.5 202.4,316.2 202.6,320.2 202.8,320.3 203,317.3 203.2,316.7 203.4,320.4 203.6,320.2 203.8,320.4 204,318.3 204.2,320.5 204.4,322 204.6,320.3 204.8,320.2 205,321.1 205.2,319.9 205.4,319 205.6,319.7 205.8,320.8 206,319.6 206.2,320.3 206.4,318.3 206.6,318.8 206.8,316.2 207,320.7 207.2,319.7 207.4,317.1 207.6,319.8 207.8,317.5 208,319.9 208.2,322.6 208.4,319.2 208.6,317.6 208.8,318.1 209,319.4 209.2,318.2 209.4,320.2 209.6,315.4 209.8,321.5 210,318.7 210.2,318.8 210.4,321.3 210.6,320.7 210.8,315.6 211,316.3 211.2,320.5 211.4,318.1 211.6,317.2 211.8,320.3 212,318.6 212.2,319.6 212.4,317.3 212.6,318 212.8,318.5 213,319.3 213.2,320.7 213.4,315.8 213.6,317.3 213.8,317.4 214,319 214.2,317.4 214.4,318.9 214.6,320.9 214.8,319 215,321.1 215.2,318.8 215.4,315.4 215.6,318.7 215.8,319.3 216,317.6 216.2,318.5 216.4,321.2 216.6,319.7 216.8,316.8 217,316.4 217.2,320 217.4,319.9 217.6,316.6 217.8,318.4 218,318.9 218.2,320.6 218.4,320.3 218.6,323.2 218.8,317.5 219,315.5 219.2,318.6 219.4,320.7 219.6,316.7 219.8,316.8 220,319.2 220.2,318.9 220.4,321.2 220.6,317.9 220.8,323.7 221,320.5 221.2,320.5 221.4,316.4 221.6,319.7 221.8,322.2 222,318.3 222.2,322.2 222.4,320.3 222.6,321.1 222.8,319.6 223,320.8 223.2,315.5 223.4,318.6 223.6,318 223.8,319 224,318 224.2,316.5 224.4,319.6 224.6,319.4 224.8,318.8 225,320.6 225.2,318.1 225.4,320.6 225.6,320.3 225.8,317.1 226,320.4 226.2,318.3 226.4,319.5 226.6,318 226.8,321.3 227,319.7 227.2,313.8 227.4,317 227.6,316.4 227.8,318.3 228,320.1 228.2,318.9 228.4,315.5 228.6,314.8 228.8,318.8 229,318.2 229.2,320.3 229.4,319.8 229.6,319.3 229.8,321.4 230,319.5 230.2,320.1 230.4,317.9 230.6,319.6 230.8,322 231,316.7 231.2,316.4 231.4,317.9 231.6,320.9 231.8,318.9 232,317.4 232.2,319.9 232.4,318.7 232.6,318.8 232.8,316.3 233,315.3 233.2,319.6 233.4,317.8 233.6,320.1 233.8,322.6 234,320.4 234.2,316.5 234.4,319.3 234.6,317.7 234.8,319.4 235,320.5 235.2,318.2 235.4,319.9 235.6,319.1 235.8,319.7 236,320.4 236.2,318.7 236.4,321 236.6,321.3 236.8,317.2 237,318.5 237.2,318.8 237.4,315.2 237.6,317.1 237.8,321.2 238,319.9 238.2,319 238.4,319.2 238.6,320.6 238.8,316.6 239,321.6 239.2,317.7 239.4,318.1 239.6,316.9 239.8,319.4 240,317.2 240.2,318.6 240.4,317.1 240.6,321 240.8,321.3 241,317.4 241.2,316.2 241.4,316.3 241.6,320.3 241.8,316.3 242,317.1 242.2,318.6 242.4,321.6 242.6,318.9 242.8,318.2 243,320.1 243.2,315.6 243.4,316.7 243.6,320.6 243.8,320.8 244,319.8 244.2,319.5 244.4,318.2 244.6,318.3 244.8,322.1 245,316.9 245.2,321.2 245.4,318.7 245.6,315.9 245.8,319.8 246,317.3 246.2,319.6 246.4,319.5 246.6,323.2 246.8,317.7 247,315.1 247.2,319.6 247.4,320 247.6,318.3 247.8,317.4 248,319.7 248.2,320.1 248.4,318 248.6,320.4 248.8,318.9 249,318.7 249.2,316.5 249.4,317.6 249.6,320.1 249.8,321.2 250,321 250.2,318.6 250.4,318.5 250.6,317.2 250.8,317.3 251,318.1 251.2,320.6 251.4,321 251.6,319.5 251.8,319.9 252,317 252.2,318.5 252.4,320.1 252.6,318.9 252.8,319.9 253,316.4 253.2,321.7 253.4,318.2 253.6,317.6 253.8,319 254,311.8 254.2,318.2 254.4,322.6 254.6,317.7 254.8,320.6 255,315.6 255.2,316.1 255.4,315.8 255.6,321.4 255.8,315.2 256,319.3 256.2,317.2 256.4,320 256.6,316.8 256.8,317.5 257,319.5 257.2,315.5 257.4,314.9 257.6,322.6 257.8,318.9 258,319.7 258.2,318.8 258.4,319.5 258.6,318.8 258.8,319.6 259,316.5 259.2,313.9 259.4,317.5 259.6,321.7 259.8,317.6 260,315.3 260.2,321.7 260.4,320.8 260.6,317.7 260.8,320.2 261,319.8 261.2,316.4 261.4,321.1 261.6,320 261.8,319.7 262,320.9 262.2,315.2 262.4,318.6 262.6,321.8 262.8,321.3 263,316 263.2,320 263.4,317.6 263.6,319.6 263.8,317.4 264,321.4 264.2,322.8 264.4,320.9 264.6,320.9 264.8,319.3 265,318.6 265.2,321.8 265.4,320.6 265.6,319.5 265.8,317.7 266,316.8 266.2,320.6 266.4,320.6 266.6,319 266.8,319.1 267,316.2 267.2,317.6 267.4,317.1 267.6,320 267.8,318.6 268,319 268.2,317.6 268.4,319.1 268.6,315.8 268.8,322.3 269,319 269.2,319.9 269.4,319.8 269.6,317.4 269.8,321.6 270,319.3 270.2,318.7 270.4,320.9 270.6,317.3 270.8,320.2 271,322.3 271.2,318.1 271.4,319.8 271.6,316.5 271.8,319.5 272,319.5 272.2,315.9 272.4,322.1 272.6,322.9 272.8,315.4 273,319.8 273.2,318.2 273.4,318.5 273.6,319.8 273.8,319.1 274,318.6 274.2,319.5 274.4,318.2 274.6,319.4 274.8,317.7 275,320.6 275.2,322.8 275.4,319 275.6,318.4 275.8,321.5 276,315.2 276.2,318.6 276.4,316.8 276.6,317.9 276.8,316.9 277,318.4 277.2,321.3 277.4,317.3 277.6,318.5 277.8,321.1 278,319.9 278.2,320.3 278.4,318.7 278.6,317.9 278.8,318.1 279,318.2 279.2,316.4 279.4,314.4 279.6,317.9 279.8,319.3 280,317.8 280.2,320.9 280.4,321.1 280.6,319 280.8,318.2 281,319.7 281.2,317.9 281.4,318.5 281.6,317.3 281.8,317.6 282,320 282.2,318.1 282.4,319.8 282.6,318.9 282.8,319 283,319.5 283.2,314.7 283.4,318.1 283.6,319.4 283.8,321.6 284,319.9 284.2,323.7 284.4,321.3 284.6,319.2 284.8,316.5 285,318.3 285.2,318.5 285.4,319.1 285.6,319.6 285.8,316.4 286,319.8 286.2,318.4 286.4,317.6 286.6,316.4 286.8,319.3 287,317.9 287.2,314.6 287.4,319 287.6,318.5 287.8,315.7 288,320.1 288.2,318.3 288.4,319.6 288.6,316.5 288.8,317.8 289,319.5 289.2,320.1 289.4,317.5 289.6,313.8 289.8,319.2 290,318.4 290.2,321.5 290.4,316.9 290.6,319.7 290.8,316 291,319.4 291.2,318.1 291.4,319.2 291.6,318.7 291.8,318.5 292,321.8 292.2,321 292.4,318.8 292.6,317.1 292.8,317.3 293,320.8 293.2,318.9 293.4,317.4 293.6,317.5 293.8,321.4 294,319.1 294.2,317.2 294.4,321.7 294.6,319.5 294.8,316.2 295,316.4 295.2,319.4 295.4,317.4 295.6,318 295.8,322.3 296,322.5 296.2,322.2 296.4,319.7 296.6,319.3 296.8,316.7 297,316.6 297.2,319 297.4,319.1 297.6,320.7 297.8,320.4 298,319.8 298.2,320 298.4,319.4 298.6,321.4 298.8,316.8 299,322.6 299.2,320 299.4,316.3 299.6,319.4 299.8,322.2 300,317.7 300.2,319.9 300.4,318.7 300.6,321.7 300.8,319.3 301,317.7 301.2,319.7 301.4,319.8 301.6,319.1 301.8,317.8 302,316.2 302.2,318.8 302.4,315.8 302.6,317.2 302.8,319 303,320.9 303.2,320.6 303.4,315.5 303.6,320.7 303.8,314.9 304,319.3 304.2,319.1 304.4,320.6 304.6,319.2 304.8,320.9 305,317.7 305.2,318.7 305.4,320.5 305.6,317.9 305.8,317.8 306,319 306.2,316 306.4,318.4 306.6,316.9 306.8,321.7 307,321.3 307.2,320.2 307.4,323 307.6,319.3 307.8,318.2 308,319.5 308.2,319.5 308.4,318.4 308.6,319.6 308.8,316.6 309,317 309.2,319.4 309.4,316.6 309.6,321 309.8,319.7 310,317.7 310.2,321 310.4,319.3 310.6,322 310.8,318.5 311,317.9 311.2,319.7 311.4,316.9 311.6,320.8 311.8,319.6 312,312.7 312.2,318.8 312.4,319.2 312.6,316.5 312.8,318.3 313,318.2 313.2,315.1 313.4,319.3 313.6,318.7 313.8,317.5 314,318.1 314.2,318.9 314.4,320.9 314.6,319.7 314.8,318.3 315,318.1 315.2,317.9 315.4,320.7 315.6,319.5 315.8,317.9 316,321.4 316.2,320.4 316.4,317.3 316.6,319.9 316.8,319.2 317,319.6 317.2,320.2 317.4,318.2 317.6,317.9 317.8,316.8 318,319.4 318.2,318.7 318.4,315.6 318.6,318.9 318.8,319.6 319,319.2 319.2,318.3 319.4,320.3 319.6,317.8 319.8,316 320,321.7 320.2,316.1 320.4,319.4 320.6,322.2 320.8,318 321,321.2 321.2,318.5 321.4,318.4 321.6,315.6 321.8,320.1 322,317.7 322.2,320.3 322.4,317.2 322.6,319.1 322.8,319.2 323,321.4 323.2,320.5 323.4,316.7 323.6,320.7 323.8,318.7 324,317.6 324.2,318 324.4,320.7 324.6,315.9 324.8,318 325,316.8 325.2,318.9 325.4,318.3 325.6,316.7 325.8,318.4 326,318.5 326.2,318.2 326.4,319 326.6,321 326.8,318.8 327,318.9 327.2,320 327.4,318.4 327.6,318.4 327.8,317.7 328,317.6 328.2,317.4 328.4,319.1 328.6,314.3 328.8,317.9 329,319.1 329.2,320.7 329.4,321.5 329.6,315.9 329.8,317.5 330,318.5 330.2,315.5 330.4,317.4 330.6,319 330.8,318.2 331,315.3 331.2,320.1 331.4,317 331.6,318.8 331.8,315.6 332,318.6 332.2,320.3 332.4,320.5 332.6,320.4 332.8,319.7 333,317.1 333.2,316.1 333.4,321.4 333.6,316.4 333.8,317 334,320.1 334.2,318.9 334.4,321.2 334.6,317.9 334.8,320.7 335,324.1 335.2,317.6 335.4,318.7 335.6,317.7 335.8,318.4 336,317.9 336.2,320.1 336.4,320.5 336.6,319.2 336.8,320.3 337,316.9 337.2,319.6 337.4,317.7 337.6,320.8 337.8,319.5 338,315.2 338.2,318.8 338.4,316.4 338.6,318.2 338.8,320.7 339,322.6 339.2,319.7 339.4,319.7 339.6,319.8 339.8,318.4 340,315.3 340.2,320.4 340.4,319.2 340.6,318.8 340.8,319.4 341,319.7 341.2,319.1 341.4,320.7 341.6,318.8 341.8,321 342,318.2 342.2,318.1 342.4,316.8 342.6,317.3 342.8,314.2 343,316.5 343.2,318.3 343.4,320.5 343.6,317.2 343.8,318.2 344,318.5 344.2,318.7 344.4,315.2 344.6,317.8 344.8,322.8 345,320.6 345.2,317.6 345.4,319.2 345.6,320.6 345.8,318.4 346,319.9 346.2,319.1 346.4,317.3 346.6,318.9 346.8,316.6 347,318.7 347.2,319.4 347.4,317.8 347.6,319.7 347.8,319.3 348,318.9 348.2,317.9 348.4,317.3 348.6,319.1 348.8,319.1 349,320.6 349.2,315.5 349.4,319.3 349.6,318.3 349.8,318 350,316.5 350.2,323 350.4,320.1 350.6,318.9 350.8,319.7 351,315.8 351.2,318.6 351.4,319.2 351.6,318.8 351.8,316.3 352,318.2 352.2,321.9 352.4,320.6 352.6,319.6 352.8,320 353,323.7 353.2,319.8 353.4,317.8 353.6,315.7 353.8,319 354,318.8 354.2,315.3 354.4,318 354.6,318.6 354.8,318.1 355,314.6 355.2,316.5 355.4,316.4 355.6,321 355.8,318.4 356,316.7 356.2,319.9 356.4,315.4 356.6,317.9 356.8,319.7 357,316.9 357.2,316.8 357.4,315.5 357.6,317.1 357.8,320.1 358,319.3 358.2,320.5 358.4,317.5 358.6,323.4 358.8,315.5 359,316.8 359.2,314.5 359.4,319.5 359.6,319.1 359.8,322.6 360,317.7 360.2,317.8 360.4,312.3 360.6,314.3 360.8,318.7 361,317.2 361.2,319.6 361.4,316.7 361.6,319.2 361.8,318.9 362,315.4 362.2,319.8 362.4,320.7 362.6,318.8 362.8,320.1 363,319.8 363.2,318.2 363.4,319.9 363.6,322.1 363.8,316.6 364,319.4 364.2,317.9 364.4,318.6 364.6,317.9 364.8,317.9 365,318.9 365.2,317.6 365.4,319.3 365.6,314.7 365.8,320.3 366,317.5 366.2,317.4 366.4,320.7 366.6,320.1 366.8,319.9 367,319.8 367.2,319.1 367.4,316.9 367.6,319.8 367.8,319.5 368,319.9 368.2,318.4 368.4,318.3 368.6,317.3 368.8,321.3 369,317.3 369.2,319.7 369.4,317.8 369.6,316.6 369.8,318.2 370,316 370.2,318.1 370.4,318.6 370.6,317.1 370.8,318 371,318.9 371.2,318.7 371.4,316.5 371.6,318.9 371.8,317.3 372,317 372.2,318.2 372.4,317.9 372.6,320.2 372.8,319 373,317.8 373.2,322.6 373.4,321 373.6,314.7 373.8,315.9 374,316.7 374.2,320.9 374.4,316.5 374.6,318.6 374.8,318.1 375,320.9 375.2,317.9 375.4,319.5 375.6,318.4 375.8,321.2 376,319.7 376.2,320.1 376.4,318.2 376.6,318.5 376.8,320.7 377,322.3 377.2,318.6 377.4,319.7 377.6,316.9 377.8,321.7 378,316.7 378.2,319.6 378.4,319.6 378.6,317.4 378.8,316.6 379,318.6 379.2,320.6 379.4,316.2 379.6,318 379.8,313.7 380,318.4 380.2,316.5 380.4,317.7 380.6,318.7 380.8,317.4 381,320.2 381.2,320.9 381.4,321 381.6,318.6 381.8,317.9 382,320.2 382.2,320.7 382.4,317.8 382.6,318.7 382.8,318.3 383,320.2 383.2,317.8 383.4,314.4 383.6,319.9 383.8,320.5 384,319.2 384.2,320.4 384.4,318.7 384.6,316.4 384.8,319.5 385,317.9 385.2,316.4 385.4,320.8 385.6,318.6 385.8,313.4 386,319.8 386.2,318.9 386.4,317.8 386.6,317.9 386.8,319.7 387,320 387.2,320.1 387.4,320.9 387.6,317.6 387.8,321.8 388,323.9 388.2,319.1 388.4,319.7 388.6,319.8 388.8,321.2 389,316.4 389.2,320.9 389.4,317.8 389.6,318.9 389.8,319.6 390,320 390.2,318.5 390.4,319.7 390.6,321 390.8,319.3 391,321.3 391.2,318.4 391.4,315.1 391.6,318.6 391.8,318.7 392,318.7 392.2,315.8 392.4,316.2 392.6,317.9 392.8,318.8 393,318.3 393.2,321 393.4,319.7 393.6,319.2 393.8,318.3 394,315.9 394.2,319.4 394.4,318.2 394.6,319.4 394.8,322.3 395,318.8 395.2,322.6 395.4,317.7 395.6,317.7 395.8,316.9 396,319 396.2,314.8 396.4,319.2 396.6,319.6 396.8,320.2 397,319.4 397.2,320.2 397.4,320.1 397.6,318.9 397.8,319.3 398,317.8 398.2,318.4 398.4,321.5 398.6,316.6 398.8,320.9 399,320.3 399.2,315.9 399.4,315.7 399.6,317.7 399.8,319.5 400,318 400.2,320.1 400.4,318.4 400.6,316.2 400.8,319.7 401,320.2 401.2,318.3 401.4,318.3 401.6,316.1 401.8,320.3 402,321.9 402.2,318.9 402.4,316.1 402.6,316.2 402.8,318.6 403,316.3 403.2,317.7 403.4,316.5 403.6,319 403.8,316.5 404,320.5 404.2,321.6 404.4,321.6 404.6,315.8 404.8,321.1 405,319.5 405.2,319.9 405.4,319.7 405.6,320.1 405.8,319.7 406,319.2 406.2,318.7 406.4,317.6 406.6,320.8 406.8,318.6 407,318.1 407.2,320.4 407.4,319.7 407.6,318.6 407.8,318.8 408,315.2 408.2,316.6 408.4,318.1 408.6,319.3 408.8,319.5 409,316.4 409.2,317.8 409.4,319.2 409.6,320.4 409.8,317.3 410,317.1 410.2,316.3 410.4,318.6 410.6,319.3 410.8,320.6 411,318.3 411.2,320.5 411.4,318.9 411.6,319.2 411.8,316.4 412,322 412.2,318.4 412.4,321 412.6,320 412.8,318.2 413,317.6 413.2,320.2 413.4,317.7 413.6,317.3 413.8,317.2 414,317.2 414.2,317.5 414.4,321.5 414.6,318.9 414.8,320.8 415,319.6 415.2,318.5 415.4,318.1 415.6,316.8 415.8,319.3 416,318.8 416.2,318.8 416.4,318.5 416.6,319.7 416.8,317.7 417,316.4 417.2,317.6 417.4,315.4 417.6,319.1 417.8,321.7 418,317.9 418.2,320.5 418.4,322.5 418.6,318.3 418.8,319.7 419,320.1 419.2,321.8 419.4,319.5 419.6,317.4 419.8,317.7 420,317 420.2,318.4 420.4,320 420.6,319.9 420.8,317.8 421,319.8 421.2,315.6 421.4,318.6 421.6,321.2 421.8,318.6 422,318 422.2,321.1 422.4,321.3 422.6,318.9 422.8,314.9 423,320.1 423.2,322.3 423.4,317.2 423.6,323.2 423.8,317.2 424,320.9 424.2,320.7 424.4,320.4 424.6,317.4 424.8,320.4 425,316.2 425.2,318.8 425.4,318.8 425.6,319 425.8,316.7 426,317.4 426.2,315.5 426.4,322.2 426.6,319.3 426.8,317.6 427,319.4 427.2,318.8 427.4,321.8 427.6,317.8 427.8,321 428,316.1 428.2,318.6 428.4,319.8 428.6,318.4 428.8,320.7 429,319.2 429.2,317.7 429.4,317.9 429.6,321.3 429.8,318.8 430,318.2 430.2,315.8 430.4,316.1 430.6,317 430.8,320 431,321 431.2,317.6 431.4,322.7 431.6,319.2 431.8,319.1 432,319.3 432.2,317.3 432.4,320.7 432.6,319.2 432.8,320.1 433,315.8 433.2,316.3 433.4,320.4 433.6,321.6 433.8,318.4 434,318.4 434.2,318.7 434.4,317.9 434.6,316.7 434.8,316.8 435,321.4 435.2,317.8 435.4,320.3 435.6,316 435.8,319.9 436,321.2 436.2,318.3 436.4,320.8 436.6,319.5 436.8,323.5 437,318.5 437.2,318.5 437.4,316.9 437.6,318.7 437.8,320.3 438,317.5 438.2,321.4 438.4,317.9 438.6,319.3 438.8,321.5 439,317.8 439.2,319.2 439.4,318.4 439.6,317.5 439.8,320 440,314.8 440.2,316.9 440.4,318.7 440.6,319.4 440.8,317.3 441,316.4 441.2,321.9 441.4,320 441.6,320 441.8,319.1 442,321 442.2,319.5 442.4,316.4 442.6,318.9 442.8,320.8 443,315.8 443.2,317.8 443.4,319 443.6,318.9 443.8,317.7 444,319.3 444.2,319.6 444.4,322.4 444.6,317.4 444.8,318.8 445,316.8 445.2,321 445.4,319.6 445.6,320 445.8,319.8 446,322.3 446.2,318.2 446.4,319.4 446.6,319.9 446.8,316.8 447,315.9 447.2,320.4 447.4,319.1 447.6,320.4 447.8,318.8 448,318.5 448.2,318.4 448.4,319.3 448.6,318.2 448.8,318.1 449,321.3 449.2,320.9 449.4,318.8 449.6,321.9 449.8,317.9 450,320.6 450.2,320.9 450.4,318.4 450.6,322 450.8,316.8 451,318.8 451.2,317.9 451.4,321.6 451.6,319.6 451.8,317.5 452,318.6 452.2,317.5 452.4,320.9 452.6,317.4 452.8,317.4 453,319.6 453.2,318 453.4,319.3 453.6,319.1 453.8,317.9 454,316.1 454.2,314.9 454.4,319.1 454.6,318.2 454.8,319.8 455,319.2 455.2,318.7 455.4,318.2 455.6,320.4 455.8,313 456,315.6 456.2,319.7 456.4,318.6 456.6,317.3 456.8,317.8 457,320.3 457.2,319.6 457.4,319.1 457.6,315.6 457.8,320.6 458,317.5 458.2,319.9 458.4,319.7 458.6,315.7 458.8,316.2 459,315.9 459.2,316.9 459.4,320 459.6,320.9 459.8,319.3 460,318.4 460.2,317.4 460.4,321.6 460.6,318.8 460.8,317.2 461,318.8 461.2,319.8 461.4,318 461.6,317.9 461.8,315.9 462,319.7 462.2,317.4 462.4,319.9 462.6,319 462.8,319.1 463,317.5 463.2,319.6 463.4,316.6 463.6,319.1 463.8,321.6 464,323 464.2,316.8 464.4,319.7 464.6,318.9 464.8,318.1 465,320.3 465.2,316.4 465.4,319.9 465.6,317.1 465.8,321.3 466,319.4 466.2,323.4 466.4,321.1 466.6,319.2 466.8,316.3 467,314.3 467.2,319.2 467.4,318.2 467.6,320.6 467.8,317.2 468,319 468.2,317.5 468.4,319.5 468.6,319.5 468.8,316.1 469,318.8 469.2,320.8 469.4,319.5 469.6,321.2 469.8,317.3 470,315.6 470.2,317.3 470.4,316.6 470.6,321.9 470.8,319.1 471,320.5 471.2,321.7 471.4,319.2 471.6,314.9 471.8,314.5 472,320.1 472.2,320.4 472.4,316.7 472.6,319.7 472.8,319.9 473,319 473.2,316.4 473.4,321 473.6,316.9 473.8,319.7 474,316.1 474.2,317.1 474.4,320.3 474.6,316.9 474.8,315.8 475,318.5 475.2,318.4 475.4,316.6 475.6,319.4 475.8,319.8 476,319.2 476.2,321.9 476.4,317.7 476.6,319.9 476.8,317.9 477,315.9 477.2,314.3 477.4,312.6 477.6,310.8 477.8,309.9 478,307.6 478.2,306.4 478.4,304.9 478.6,303.2 478.8,301.9 479,299.7 479.2,296.5 479.4,293.6 479.6,290.3 479.8,286.8 480,283.3 480.2,280 480.4,277 480.6,273.9 480.8,270.1 481,266.9 481.2,263.4 481.4,261.6 481.6,260.1 481.8,258.9 482,257.2 482.2,256.6 482.4,255.1 482.6,253.9 482.8,251.8 483,253.7 483.2,255.6 483.4,257.2 483.6,259.1 483.8,260.7 484,261.8 484.2,266.3 484.4,271.2 484.6,275.6 484.8,280.1 485,284.8 485.2,287.3 485.4,287.8 485.6,288.6 485.8,288.6 486,289.2 486.2,288.7 486.4,289.9 486.6,288.7 486.8,291.9 487,290.4 487.2,289.6 487.4,291.4 487.6,290.4 487.8,291.3 488,291 488.2,288.2 488.4,292 488.6,291.8 488.8,289.8 489,294.3 489.2,288.6 489.4,292.2 489.6,290.3 489.8,290.7 490,292.2 490.2,292.5 490.4,292.3 490.6,289 490.8,292.8 491,290.2 491.2,291.1 491.4,291.7 491.6,289.3 491.8,293.3 492,291.3 492.2,290 492.4,290.8 492.6,289.9 492.8,290.1 493,292.5 493.2,292.8 493.4,294.1 493.6,295.7 493.8,293.6 494,288.6 494.2,293.5 494.4,292.9 494.6,293.6 494.8,294 495,293 495.2,294.3 495.4,294 495.6,296.3 495.8,292 496,291.6 496.2,292.9 496.4,297.2 496.6,290.2 496.8,293.1 497,291.7 497.2,293.5 497.4,300.2 497.6,306.7 497.8,313.5 498,320.2 498.2,326.6 498.4,334.2 498.6,342.4 498.8,350.7 499,359.1 499.2,367.4 499.4,375.6 499.6,384.1 499.8,386.8 500,383.6 500.2,377.8 500.4,372.2 500.6,367.3 500.8,371.4 501,377.3 501.2,382.9 501.4,382.3 501.6,376.4 501.8,370.7 502,367.4 502.2,372.9 502.4,378.6 502.6,383.7 502.8,380.6 503,375 503.2,369.2 503.4,368.4 503.6,374.3 503.8,380 504,384.7 504.2,379.3 504.4,373.6 504.6,367.9 504.8,365.9 505,363.9 505.2,364.9 505.4,364.6 505.6,366.5 505.8,368.1 506,361.1 506.2,364.8 506.4,364.9 506.6,370.4 506.8,364.9 507,367.3 507.2,369.1 507.4,365.4 507.6,366 507.8,366.2 508,366.7 508.2,364.7 508.4,366.5 508.6,365.2 508.8,364.9 509,369.1 509.2,363.4 509.4,368.1 509.6,365.9 509.8,366.1 510,365 510.2,366.5 510.4,367.4 510.6,364.2 510.8,367.3 511,362.3 511.2,364.6 511.4,363.7 511.6,365.7 511.8,367.4 512,364.8 512.2,366.7 512.4,365.9 512.6,368.6 512.8,362.8 513,362.9 513.2,365.7 513.4,362.5 513.6,366.4 513.8,366.5 514,364.4 514.2,364.6 514.4,366.6 514.6,366.9 514.8,365.7 515,367.3 515.2,364.9 515.4,366.6 515.6,368.3 515.8,368.1 516,364.3 516.2,364.6 516.4,364.6 516.6,366.6 516.8,367 517,363.9 517.2,363.9 517.4,366.5 517.6,361.7 517.8,366.5 518,370.1 518.2,377.7 518.4,385.7 518.6,381.8 518.8,378 519,374.7 519.2,370.7 519.4,367 519.6,370.7 519.8,374.4 520,378.2 520.2,381.7 520.4,387 520.6,381.8 520.8,378.1 521,374.5 521.2,370.5 521.4,366.9 521.6,370.8 521.8,374.5 522,378.1 522.2,381.7 522.4,387.1 522.6,381.5 522.8,378.3 523,374.1 523.2,370.5 523.4,368.7 523.6,370.7 523.8,374.3 524,378.3 524.2,381.8 524.4,384.3 524.6,381.9 524.8,378.2 525,374.4 525.2,370.8 525.4,367.1 525.6,365.1 525.8,366.8 526,366.8 526.2,367 526.4,364.6 526.6,368.1 526.8,363.4 527,365.3 527.2,365.7 527.4,366.4 527.6,365.9 527.8,366.6 528,367.2 528.2,370 528.4,365.5 528.6,367.5 528.8,365.8 529,366.2 529.2,364.8 529.4,365.4 529.6,368.7 529.8,366.1 530,366.8 530.2,364 530.4,367.3 530.6,367.2 530.8,367 531,368.3 531.2,366.3 531.4,365.2 531.6,367.2 531.8,367.1 532,369.6 532.2,365.6 532.4,366.6 532.6,368.9 532.8,366.1 533,370.6 533.2,370.5 533.4,366.5 533.6,367.7 533.8,368.2 534,365.2 534.2,364.8 534.4,368.7 534.6,368.2 534.8,365.6 535,365.2 535.2,364.1 535.4,363.6 535.6,368 535.8,367 536,366.1 536.2,363.7 536.4,364.7 536.6,366.6 536.8,364 537,366.4 537.2,365.2 537.4,361.6 537.6,367.3 537.8,364.9 538,362.3 538.2,365.7 538.4,366.1 538.6,355.4 538.8,343.6 539,355.4 539.2,366.4 539.4,375.4 539.6,384.7 539.8,381.6 540,377.1 540.2,372.5 540.4,368.4 540.6,370.5 540.8,374.5 541,378.9 541.2,383.6 541.4,383.1 541.6,378.7 541.8,374.5 542,369.8 542.2,368.8 542.4,372.8 542.6,377 542.8,381.8 543,385.3 543.2,380.3 543.4,376.2 543.6,371.6 543.8,367.9 544,371.3 544.2,375.6 544.4,380.3 544.6,385.2 544.8,382.3 545,377.8 545.2,373.4 545.4,369 545.6,367.4 545.8,367 546,365.5 546.2,367.1 546.4,368.1 546.6,364.9 546.8,366.2 547,368.5 547.2,365.6 547.4,371.2 547.6,367.5 547.8,368.8 548,368.1 548.2,368.5 548.4,366.8 548.6,365 548.8,363.9 549,363.5 549.2,364.8 549.4,362.8 549.6,365.7 549.8,364.4 550,365.1 550.2,364.7 550.4,367.8 550.6,365.1 550.8,364.8 551,369.4 551.2,365.7 551.4,369 551.6,365.5 551.8,365.9 552,366.8 552.2,363.7 552.4,369.2 552.6,369.6 552.8,365.5 553,368.4 553.2,366.8 553.4,365.4 553.6,369.4 553.8,364.4 554,366.2 554.2,368.2 554.4,365.9 554.6,367.2 554.8,363.9 555,365.9 555.2,366.5 555.4,363.9 555.6,364.7 555.8,365.1 556,365.8 556.2,366.7 556.4,365.7 556.6,363.2 556.8,366.4 557,368.8 557.2,366.3 557.4,365.6 557.6,366.3 557.8,367.4 558,363.7 558.2,369.3 558.4,365.7 558.6,366.5 558.8,354.9 559,341.6 559.2,354.9 559.4,366.4 559.6,375.6 559.8,385 560,380.9 560.2,375.9 560.4,371 560.6,365.9 560.8,369.1 561,373.9 561.2,379 561.4,383.7 561.6,382 561.8,377.1 562,372 562.2,367.4 562.4,367.9 562.6,372.8 562.8,378 563,382.3 563.2,383.4 563.4,378.4 563.6,373.5 563.8,368.3 564,366.4 564.2,371.4 564.4,376.6 564.6,381.7 564.8,384.2 565,379.6 565.2,374.7 565.4,369.6 565.6,363.8 565.8,370.7 566,375.6 566.2,381.2 566.4,383.1 566.6,385.4 566.8,386.1 567,382.7 567.2,381.4 567.4,383.3 567.6,383.6 567.8,381.4 568,383 568.2,385.3 568.4,384.7 568.6,385.8 568.8,380.8 569,381.9 569.2,383.4 569.4,383.3 569.6,385.2 569.8,381.2 570,386.5 570.2,385.7 570.4,385 570.6,383 570.8,380.6 571,380.9 571.2,385.3 571.4,383.2 571.6,387 571.8,384.1 572,381 572.2,385.8 572.4,383.1 572.6,383.7 572.8,384.9 573,380.9 573.2,381.3 573.4,386.3 573.6,380.9 573.8,381.3 574,381.1 574.2,381.2 574.4,382.7 574.6,382.5 574.8,381.5 575,382.4 575.2,384.1 575.4,379.4 575.6,382.7 575.8,383.1 576,380.1 576.2,385.7 576.4,383.8 576.6,383.2 576.8,384.5 577,384.1 577.2,383 577.4,383 577.6,381.2 577.8,384.2 578,383.8 578.2,381.5 578.4,384.6 578.6,386.3 578.8,383.1 579,381.1 579.2,375.4 579.4,369.9 579.6,364.7 579.8,369.2 580,373 580.2,377.2 580.4,381.1 580.6,383 580.8,379.7 581,375.8 581.2,371.3 581.4,367.4 581.6,365.6 581.8,369.8 582,374 582.2,378.3 582.4,382.5 582.6,382.8 582.8,378.6 583,374.6 583.2,370.3 583.4,366.4 583.6,366.8 583.8,371 584,374.8 584.2,379.2 584.4,383.1 584.6,381.7 584.8,377.6 585,373.7 585.2,369.4 585.4,364.5 585.6,368.1 585.8,372.1 586,376 586.2,380.3 586.4,384.5 586.6,382.6 586.8,383 587,382.2 587.2,386.1 587.4,380.1 587.6,381.7 587.8,384.3 588,385.7 588.2,385.7 588.4,384.3 588.6,384.8 588.8,385.7 589,384.5 589.2,383.2 589.4,384 589.6,384.7 589.8,384.8 590,384 590.2,382 590.4,383.8 590.6,384.8 590.8,381.5 591,382.2 591.2,384.4 591.4,384.9 591.6,383.2 591.8,383.2 592,383.8 592.2,382.8 592.4,382.7 592.6,380.2 592.8,383.2 593,386.7 593.2,382.3 593.4,382.5 593.6,384.5 593.8,385 594,387.8 594.2,382.7 594.4,384.5 594.6,381.6 594.8,382 595,382.3 595.2,383.4 595.4,384.5 595.6,384.1 595.8,382 596,383.6 596.2,381.4 596.4,382.5 596.6,381.4 596.8,383.1 597,384.2 597.2,387.6 597.4,382.2 597.6,384.6 597.8,384.1 598,383 598.2,382.4 598.4,381.5 598.6,383.9 598.8,382.3 599,383.5 599.2,383.8 599.4,379.3 599.6,374.1 599.8,368.3 600,366.2 600.2,370 600.4,374 600.6,378.2 600.8,382.5 601,382.7 601.2,378.8 601.4,374.8 601.6,370.5 601.8,366.1 602,366.8 602.2,371 602.4,375.2 602.6,378.9 602.8,383.2 603,381.6 603.2,377.9 603.4,373.4 603.6,369.5 603.8,365.4 604,368.1 604.2,372.2 604.4,376 604.6,380 604.8,385.7 605,380.6 605.2,376.6 605.4,372.6 605.6,368.2 605.8,364.2 606,369 606.2,372.9 606.4,377.4 606.6,381 606.8,384.7 607,383.6 607.2,384 607.4,382.7 607.6,384.4 607.8,385.7 608,384.6 608.2,383.4 608.4,379.3 608.6,384 608.8,379.8 609,385.4 609.2,381.5 609.4,380.1 609.6,380.6 609.8,383.6 610,382 610.2,383.7 610.4,381.1 610.6,385 610.8,386.4 611,383.7 611.2,381.6 611.4,381 611.6,382 611.8,385.6 612,382.3 612.2,380.5 612.4,388.5 612.6,386.5 612.8,386.3 613,382.3 613.2,385 613.4,381.8 613.6,382.6 613.8,384.7 614,381.3 614.2,383.5 614.4,381 614.6,385.2 614.8,382.7 615,383.8 615.2,383.9 615.4,381.9 615.6,382.3 615.8,381.9 616,378.8 616.2,383.8 616.4,385.2 616.6,385.6 616.8,383.4 617,385.1 617.2,381.8 617.4,383 617.6,379.8 617.8,382.3 618,384.4 618.2,380.6 618.4,383.3 618.6,388 618.8,385.2 619,383.7 619.2,386 619.4,385 619.6,383.5 619.8,378.4 620,372.7 620.2,367.2 620.4,367.2 620.6,370.9 620.8,375 621,379.3 621.2,383.1 621.4,381.7 621.6,377.5 621.8,373.5 622,369.6 622.2,365.1 622.4,368.2 622.6,372.1 622.8,375.9 623,380 623.2,383.5 623.4,380.9 623.6,376.6 623.8,372.6 624,368.6 624.2,365.2 624.4,368.8 624.6,373 624.8,377.2 625,381.2 625.2,384.2 625.4,379.6 625.6,375.4 625.8,371.4 626,367.5 626.2,365.3 626.4,370 626.6,374 626.8,377.9 627,382.3 627.2,385.1 627.4,382.6 627.6,386.4 627.8,383.7 628,382 628.2,384.1 628.4,380 628.6,383.9 628.8,383.6 629,378.9 629.2,379.6 629.4,381.2 629.6,382.6 629.8,383.9 630,382.8 630.2,381.6 630.4,384.5 630.6,384.2 630.8,383.3 631,382.4 631.2,381.1 631.4,383 631.6,386.2 631.8,384.4 632,385.5 632.2,380.6 632.4,383.8 632.6,381 632.8,384.4 633,384.1 633.2,384.1 633.4,385.8 633.6,382.7 633.8,385.7 634,383.7 634.2,382.2 634.4,382.9 634.6,384.9 634.8,382.4 635,384.8 635.2,383.9 635.4,382.2 635.6,378.6 635.8,383.4 636,385.2 636.2,382.5 636.4,384.9 636.6,381.7 636.8,385.7 637,386.6 637.2,384 637.4,384.5 637.6,381 637.8,386.3 638,382.2 638.2,384.8 638.4,387.5 638.6,384.3 638.8,384.1 639,384.5 639.2,382.4 639.4,382.4 639.6,385.9 639.8,383.1 640,382.2 640.2,376.5 640.4,371.2 640.6,365.3 640.8,367.9 641,372 641.2,376.1 641.4,380.1 641.6,383.9 641.8,380.8 642,376.7 642.2,372.6 642.4,368.5 642.6,363.1 642.8,368.9 643,373.1 643.2,377.1 643.4,381.3 643.6,383 643.8,379.7 644,375.5 644.2,371.5 644.4,367.7 644.6,366.1 644.8,370 645,373.9 645.2,378.3 645.4,381.7 645.6,382.5 645.8,378.3 646,374.5 646.2,370.3 646.4,366.2 646.6,366.6 646.8,371.3 647,375.2 647.2,379.2 647.4,383.1 647.6,385 647.8,384 648,383.4 648.2,381.3 648.4,383.7 648.6,378.6 648.8,382.1 649,379.2 649.2,384.2 649.4,384.6 649.6,385.1 649.8,380.9 650,385.5 650.2,387.3 650.4,382.5 650.6,381.8 650.8,382.3 651,382.4 651.2,385.2 651.4,382.4 651.6,384.3 651.8,383.4 652,381.7 652.2,383.6 652.4,383.5 652.6,383.8 652.8,384 653,382.9 653.2,384.3 653.4,380.2 653.6,382.5 653.8,385.9 654,384.1 654.2,382.9 654.4,382 654.6,382.3 654.8,383.2 655,380 655.2,382.8 655.4,383.1 655.6,379.4 655.8,380.1 656,383.2 656.2,382.8 656.4,386.9 656.6,387.3 656.8,377.8 657,382.1 657.2,385.7 657.4,384.1 657.6,386.2 657.8,385.8 658,383.2 658.2,385.6 658.4,383.3 658.6,381.1 658.8,383.8 659,385.9 659.2,385.1 659.4,382.8 659.6,386.2 659.8,386.1 660,386.1 660.2,382.9 660.4,380.7 660.6,375.2 660.8,369.7 661,363.1 661.2,368.8 661.4,373.2 661.6,376.9 661.8,381.6 662,383.1 662.2,379.7 662.4,375.5 662.6,371.3 662.8,367.4 663,365.9 663.2,369.9 663.4,374.2 663.6,378.2 663.8,381.8 664,383.1 664.2,378.5 664.4,374.3 664.6,370.6 664.8,366.7 665,366.7 665.2,371 665.4,375 665.6,379.2 665.8,383 666,381.7 666.2,377.4 666.4,373.6 666.6,369.4 666.8,366.8 667,368.1 667.2,371.9 667.4,375.9 667.6,380.3 667.8,384 668,385.2 668.2,385.1 668.4,385.5 668.6,385.9 668.8,385.8 669,383.5 669.2,383.5 669.4,383.9 669.6,386.6 669.8,382.8 670,383.6 670.2,385.2 670.4,381.2 670.6,382.8 670.8,383.6 671,382.8 671.2,382.5 671.4,384.3 671.6,381.7 671.8,384.6 672,382.9 672.2,380.5 672.4,378.2 672.6,381.5 672.8,384.3 673,383.1 673.2,382.4 673.4,383.3 673.6,384.2 673.8,383 674,381.6 674.2,386 674.4,383.4 674.6,384.3 674.8,382.3 675,383.8 675.2,385.4 675.4,381.8 675.6,383.1 675.8,382.8 676,381.3 676.2,386.7 676.4,381.2 676.6,384.4 676.8,382.1 677,383.2 677.2,382.5 677.4,382.2 677.6,383.3 677.8,379.1 678,381.7 678.2,383.8 678.4,386.5 678.6,383.4 678.8,381.7 679,385.1 679.2,384.2 679.4,381.2 679.6,382 679.8,381.1 680,385.4 680.2,381.2 680.4,381.1 680.6,383.6 680.8,379.6 681,373.8 681.2,368.5 681.4,365 681.6,370 681.8,374 682,378.1 682.2,381.6 682.4,383 682.6,378.6 682.8,374.6 683,370.3 683.2,366.8 683.4,366.8 683.6,371 683.8,375 684,379.1 684.2,383.4 684.4,381.8 684.6,377.8 684.8,373.4 685,369.5 685.2,364.7 685.4,367.9 685.6,371.7 685.8,376.1 686,380.1 686.2,383.4 686.4,380.6 686.6,376.5 686.8,372.7 687,368.4 687.2,364.8 687.4,369 687.6,373.2 687.8,377.2 688,381.3 688.2,383.8 688.4,384.8 688.6,383.2 688.8,384.1 689,382.2 689.2,384.5 689.4,382.7 689.6,382.6 689.8,383.9 690,380.8 690.2,385.6 690.4,383.4 690.6,383.2 690.8,381.7 691,384.7 691.2,381.4 691.4,385.5 691.6,381.9 691.8,383.6 692,382.1 692.2,383.5 692.4,385 692.6,382.3 692.8,381.2 693,383 693.2,381.9 693.4,383.8 693.6,381.1 693.8,382.4 694,384.8 694.2,383.7 694.4,381.5 694.6,382.8 694.8,383.8 695,384.8 695.2,381.6 695.4,383.7 695.6,381.7 695.8,380.4 696,385.4 696.2,384.6 696.4,384.7 696.6,385.1 696.8,383 697,385.9 697.2,385.1 697.4,382.1 697.6,382.7 697.8,380.4 698,379.7 698.2,384.7 698.4,384.5 698.6,381.9 698.8,384.6 699,383.4 699.2,380.7 699.4,384.6 699.6,384.4 699.8,384.5 700,382.1 700.2,380.8 700.4,384.2 700.6,385.6 700.8,389.8 701,383.2 701.2,378 701.4,372.6 701.6,367.1 701.8,367.2 702,370.8 702.2,374.9 702.4,379.2 702.6,382.4 702.8,381.6 703,377.4 703.2,373.5 703.4,369.4 703.6,366.2 703.8,367.9 704,372.2 704.2,376.1 704.4,380.1 704.6,382.6 704.8,380.8 705,376.5 705.2,372.8 705.4,368.4 705.6,365.4 705.8,369 706,372.7 706.2,377 706.4,381.2 706.6,384 706.8,379.6 707,375.8 707.2,371.6 707.4,367.6 707.6,366.4 707.8,369.8 708,374.2 708.2,378.1 708.4,381.9 708.6,384.8 708.8,385.6 709,384.9 709.2,384.4 709.4,382.9 709.6,387.3 709.8,384.8 710,382.9 710.2,381.6 710.4,383.5 710.6,380.4 710.8,385.4 711,385.5 711.2,383 711.4,380.7 711.6,382.3 711.8,386.9 712,386.7 712.2,384.9 712.4,386.7 712.6,385.5 712.8,382.8 713,382.3 713.2,385 713.4,385.8 713.6,379.6 713.8,383.7 714,381.7 714.2,380.1 714.4,382.4 714.6,383.7 714.8,384.2 715,383.9 715.2,384.8 715.4,382.9 715.6,381.5 715.8,387.6 716,387.7 716.2,381.4 716.4,381.7 716.6,381.2 716.8,383.8 717,383.6 717.2,382 717.4,383.9 717.6,384.1 717.8,384.5 718,383.5 718.2,382.7 718.4,383.7 718.6,379.8 718.8,383.1 719,380.2 719.2,384.1 719.4,384.5 719.6,383.5 719.8,383.1 720,387.3 720.2,386.3 720.4,385.9 720.6,383.8 720.8,385.4 721,383.3 721.2,385.3 721.4,380.2 721.6,384.7 721.8,380.5" stroke="#edb120" stroke-width="0.75"/>
</g>
<path d="M210.8,243.5 v8.5 M210.8,399.2 v-8.5" stroke="#262626" stroke-width="1.2"/>
<path d="M338.5,243.5 v8.5 M338.5,399.2 v-8.5" stroke="#262626" stroke-width="1.2"/>
<path d="M466.3,243.5 v8.5 M466.3,399.2 v-8.5" stroke="#262626" stroke-width="1.2"/>
<path d="M594,243.5 v8.5 M594,399.2 v-8.5" stroke="#262626" stroke-width="1.2"/>
<path d="M83,368.1 h8.5 M721.8,368.1 h-8.5" stroke="#262626" stroke-width="1.2"/>
<path d="M83,336.9 h8.5 M721.8,336.9 h-8.5" stroke="#262626" stroke-width="1.2"/>
<path d="M83,305.8 h8.5 M721.8,305.8 h-8.5" stroke="#262626" stroke-width="1.2"/>
<path d="M83,274.6 h8.5 M721.8,274.6 h-8.5" stroke="#262626" stroke-width="1.2"/>
<rect x="83" y="243.5" width="638.8" height="155.7" fill="none" stroke="#262626" stroke-width="1.3"/>
<text x="83" y="421.7" text-anchor="middle" class="tk">0.0</text>
<text x="210.8" y="421.7" text-anchor="middle" class="tk">1.0</text>
<text x="338.5" y="421.7" text-anchor="middle" class="tk">2.0</text>
<text x="466.3" y="421.7" text-anchor="middle" class="tk">3.0</text>
<text x="594" y="421.7" text-anchor="middle" class="tk">4.0</text>
<text x="721.8" y="421.7" text-anchor="middle" class="tk">5.0</text>
<text x="74.2" y="405.1" text-anchor="end" class="tk">0.0</text>
<text x="74.2" y="374" text-anchor="end" class="tk">0.2</text>
<text x="74.2" y="342.8" text-anchor="end" class="tk">0.4</text>
<text x="74.2" y="311.7" text-anchor="end" class="tk">0.6</text>
<text x="74.2" y="280.5" text-anchor="end" class="tk">0.8</text>
<text x="74.2" y="249.4" text-anchor="end" class="tk">1.0</text>
<rect x="115" y="258.5" width="244.6" height="31.9" fill="#fff" stroke="#111" stroke-width="1.3"/>
<line x1="125.1" y1="274.9" x2="163.6" y2="274.9" stroke="#edb120" stroke-width="3.4"/>
<text x="170" y="280.2" font-size="16.2">Output Power-Bias Control</text>
<text transform="translate(33.2,415) rotate(-90)" font-size="17.33">Normalized Output Power</text>
</g>
<g id="p3">
<line x1="108.6" y1="435.8" x2="108.6" y2="591.5" stroke="#e8e8e8" stroke-width="0.8" stroke-dasharray="1 1.5"/>
<line x1="134.1" y1="435.8" x2="134.1" y2="591.5" stroke="#e8e8e8" stroke-width="0.8" stroke-dasharray="1 1.5"/>
<line x1="159.7" y1="435.8" x2="159.7" y2="591.5" stroke="#e8e8e8" stroke-width="0.8" stroke-dasharray="1 1.5"/>
<line x1="185.2" y1="435.8" x2="185.2" y2="591.5" stroke="#e8e8e8" stroke-width="0.8" stroke-dasharray="1 1.5"/>
<line x1="236.3" y1="435.8" x2="236.3" y2="591.5" stroke="#e8e8e8" stroke-width="0.8" stroke-dasharray="1 1.5"/>
<line x1="261.9" y1="435.8" x2="261.9" y2="591.5" stroke="#e8e8e8" stroke-width="0.8" stroke-dasharray="1 1.5"/>
<line x1="287.4" y1="435.8" x2="287.4" y2="591.5" stroke="#e8e8e8" stroke-width="0.8" stroke-dasharray="1 1.5"/>
<line x1="313" y1="435.8" x2="313" y2="591.5" stroke="#e8e8e8" stroke-width="0.8" stroke-dasharray="1 1.5"/>
<line x1="364.1" y1="435.8" x2="364.1" y2="591.5" stroke="#e8e8e8" stroke-width="0.8" stroke-dasharray="1 1.5"/>
<line x1="389.6" y1="435.8" x2="389.6" y2="591.5" stroke="#e8e8e8" stroke-width="0.8" stroke-dasharray="1 1.5"/>
<line x1="415.2" y1="435.8" x2="415.2" y2="591.5" stroke="#e8e8e8" stroke-width="0.8" stroke-dasharray="1 1.5"/>
<line x1="440.7" y1="435.8" x2="440.7" y2="591.5" stroke="#e8e8e8" stroke-width="0.8" stroke-dasharray="1 1.5"/>
<line x1="491.8" y1="435.8" x2="491.8" y2="591.5" stroke="#e8e8e8" stroke-width="0.8" stroke-dasharray="1 1.5"/>
<line x1="517.4" y1="435.8" x2="517.4" y2="591.5" stroke="#e8e8e8" stroke-width="0.8" stroke-dasharray="1 1.5"/>
<line x1="542.9" y1="435.8" x2="542.9" y2="591.5" stroke="#e8e8e8" stroke-width="0.8" stroke-dasharray="1 1.5"/>
<line x1="568.5" y1="435.8" x2="568.5" y2="591.5" stroke="#e8e8e8" stroke-width="0.8" stroke-dasharray="1 1.5"/>
<line x1="619.6" y1="435.8" x2="619.6" y2="591.5" stroke="#e8e8e8" stroke-width="0.8" stroke-dasharray="1 1.5"/>
<line x1="645.1" y1="435.8" x2="645.1" y2="591.5" stroke="#e8e8e8" stroke-width="0.8" stroke-dasharray="1 1.5"/>
<line x1="670.7" y1="435.8" x2="670.7" y2="591.5" stroke="#e8e8e8" stroke-width="0.8" stroke-dasharray="1 1.5"/>
<line x1="696.2" y1="435.8" x2="696.2" y2="591.5" stroke="#e8e8e8" stroke-width="0.8" stroke-dasharray="1 1.5"/>
<line x1="210.8" y1="435.8" x2="210.8" y2="591.5" stroke="#e2e2e2" stroke-width="1.2"/>
<line x1="338.5" y1="435.8" x2="338.5" y2="591.5" stroke="#e2e2e2" stroke-width="1.2"/>
<line x1="466.3" y1="435.8" x2="466.3" y2="591.5" stroke="#e2e2e2" stroke-width="1.2"/>
<line x1="594" y1="435.8" x2="594" y2="591.5" stroke="#e2e2e2" stroke-width="1.2"/>
<line x1="83" y1="560.4" x2="721.8" y2="560.4" stroke="#e2e2e2" stroke-width="1.2"/>
<line x1="83" y1="529.2" x2="721.8" y2="529.2" stroke="#e2e2e2" stroke-width="1.2"/>
<line x1="83" y1="498.1" x2="721.8" y2="498.1" stroke="#e2e2e2" stroke-width="1.2"/>
<line x1="83" y1="466.9" x2="721.8" y2="466.9" stroke="#e2e2e2" stroke-width="1.2"/>
<clipPath id="c3"><rect x="83" y="435.8" width="638.8" height="155.7"/></clipPath>
<g clip-path="url(#c3)" fill="none" stroke-linejoin="round">
<path d="M83,547.6 150,547.9 250,548.1 330,547.6 420,547.4 470.4,547.2 472.3,537.3 474.8,556.9 476.7,539.8 485.1,540.2 487,559.6 488.9,528.8 490,519.3 491.3,504.1 493.2,468 494.2,452.8 495.3,448 497.4,442.5 505.2,442.5 506,458.5 507.9,506.9 509.8,490.8 510.2,506 511.3,544 513.2,584.3 514.7,547.8 515.5,515.5 516.2,544 517.4,531.6 520.8,533.5 525.5,534.1 526.3,563 527.4,590 528.8,574.4 530.3,590.7 532.2,555.8 533.7,548.2 535,506 536.4,463.8 537.5,465.7 550.2,465.7 550.8,475.6 551.4,463.2 553.1,449 555,439.5" stroke="#edb120" stroke-width="0.75"/>
<path d="M83,547.6 L150,547.9 M150,547.9 L250,548.1 M250,548.1 L330,547.6 M330,547.6 L420,547.4 M420,547.4 L470.4,547.2 M476.7,539.8 L485.1,540.2 M497.4,442.5 L505.2,442.5 M520.8,533.5 L525.5,534.1 M537.5,465.7 L550.2,465.7 " stroke="#edb120" stroke-width="2.9" stroke-linecap="butt"/>
<path d="M83,548.7 83.2,546.3 83.5,547.8 83.8,547.2 84,547.4 84.2,548 84.5,548 84.8,548.1 85,548.3 85.2,547 85.5,547.5 85.8,547.4 86,547.6 86.2,546.5 86.5,548.2 86.8,547.9 87,548.1 87.2,547.9 87.5,547.2 87.8,547.1 88,547.2 88.2,546.7 88.5,547.1 88.8,547.4 89,547.7 89.2,547.3 89.5,548.6 89.8,547.3 90,547.7 90.2,547.7 90.5,546.8 90.8,547.8 91,546.6 91.2,547.3 91.5,547.2 91.8,547.3 92,547.9 92.2,548.4 92.5,547.7 92.8,548 93,547.3 93.2,547.1 93.5,547.7 93.8,547.1 94,547.7 94.2,548.2 94.5,548.4 94.8,548.4 95,547.1 95.2,548 95.5,547.8 95.8,547.5 96,547.1 96.2,547.8 96.5,548.4 96.8,547.7 97,547.6 97.2,548.5 97.5,547.6 97.8,547.7 98,548.6 98.2,548.8 98.5,547.8 98.8,547.6 99,547.4 99.2,547.3 99.5,547.5 99.8,548.2 100,548.6 100.2,547.3 100.5,547.6 100.8,547.9 101,547.8 101.2,547.3 101.5,547 101.8,546.8 102,547.8 102.2,547.9 102.5,547.7 102.8,548.1 103,547.5 103.2,547.6 103.5,546.5 103.8,548.6 104,547.1 104.2,548.1 104.5,548.5 104.8,547.8 105,548 105.2,547.8 105.5,548 105.8,547.6 106,546.9 106.2,547.6 106.5,546.8 106.8,547.9 107,547.8 107.2,548.3 107.5,547.3 107.8,547 108,547.8 108.2,547.5 108.5,547.5 108.8,547.2 109,547.3 109.2,548.1 109.5,547.6 109.8,547.8 110,548.7 110.2,548.3 110.5,547.8 110.8,548.3 111,547.3 111.2,547.2 111.5,547.8 111.8,547.9 112,547.8 112.2,548.7 112.5,547 112.8,548.2 113,548 113.2,548.1 113.5,547.5 113.8,547.3 114,547.6 114.2,547.6 114.5,547 114.8,548 115,547.3 115.2,546.9 115.5,547.9 115.8,547.7 116,547 116.2,547.4 116.5,547.4 116.8,547.3 117,547.1 117.2,547.7 117.5,548 117.8,547.4 118,548.2 118.2,547.9 118.5,548.4 118.8,547.9 119,547.4 119.2,547.9 119.5,547.8 119.8,547 120,547.3 120.2,548 120.5,547.3 120.8,548.1 121,547 121.2,547.8 121.5,547.5 121.8,547.2 122,547.4 122.2,547.4 122.5,548.8 122.8,548.1 123,547.6 123.2,548.6 123.5,547.8 123.8,547.7 124,548.2 124.2,547.9 124.5,547.7 124.8,547.4 125,547.6 125.2,547.5 125.5,547.2 125.8,547.5 126,547.4 126.2,547.1 126.5,547.3 126.8,548.2 127,548.3 127.2,547.8 127.5,547.3 127.8,547.5 128,547.8 128.2,548.3 128.5,547.4 128.8,547.2 129,547.3 129.2,547.7 129.5,548 129.8,548.5 130,546.8 130.2,547.4 130.5,547.8 130.8,547.1 131,547.5 131.2,546.9 131.5,547.6 131.8,548.2 132,548.7 132.2,547.4 132.5,547.7 132.8,548.5 133,548.2 133.2,548.1 133.5,548.1 133.8,547.7 134,547.3 134.2,547.6 134.5,548.2 134.8,547.8 135,548.2 135.2,548.2 135.5,548 135.8,548.1 136,547 136.2,547.5 136.5,548.1 136.8,547.6 137,547.2 137.2,547.8 137.5,547.2 137.8,548.4 138,548.1 138.2,547.7 138.5,548.1 138.8,547.6 139,548.5 139.2,547.4 139.5,548.5 139.8,547.8 140,547.9 140.2,547.5 140.5,547.7 140.8,548.1 141,547.8 141.2,547.7 141.5,548.9 141.8,547.4 142,547.6 142.2,547.2 142.5,546.9 142.8,548 143,548 143.2,547.4 143.5,547.2 143.8,548.1 144,547.4 144.2,548.8 144.5,548.6 144.8,548.1 145,547.7 145.2,548.2 145.5,547 145.8,548.3 146,548.7 146.2,547 146.5,547.7 146.8,548.3 147,547.9 147.2,547.7 147.5,548.6 147.8,548 148,548.4 148.2,547.7 148.5,547.9 148.8,547.2 149,547 149.2,547.4 149.5,548.1 149.8,548.4 150,547.3 150.2,548.5 150.5,547.5 150.8,547.2 151,548 151.2,548.1 151.5,547.6 151.8,547.9 152,548.1 152.2,548.2 152.5,547.7 152.8,547.5 153,549.5 153.2,548.2 153.5,547.4 153.8,548.1 154,548.2 154.2,548.3 154.5,547.1 154.8,547.7 155,548.2 155.2,548.4 155.5,548.6 155.8,548 156,547.4 156.2,549 156.5,547.4 156.8,547.9 157,548.5 157.2,547.9 157.5,548.7 157.8,548.2 158,548.3 158.2,548.6 158.5,548.1 158.8,547.2 159,548.5 159.2,548.3 159.5,548.1 159.8,548.1 160,547.7 160.2,547.5 160.5,548.3 160.8,547.5 161,548.4 161.2,547.7 161.5,547.7 161.8,547.4 162,547.7 162.2,548 162.5,548 162.8,548.1 163,548.3 163.2,547.7 163.5,548 163.8,547.6 164,548.4 164.2,548.5 164.5,548.3 164.8,548.8 165,547.7 165.2,547.6 165.5,547.9 165.8,549.2 166,548.3 166.2,548.3 166.5,548 166.8,548.5 167,548.3 167.2,548.7 167.5,548.4 167.8,548.8 168,547.1 168.2,547.8 168.5,548 168.8,547.3 169,547.7 169.2,548.5 169.5,548.3 169.8,548.7 170,547.5 170.2,548.7 170.5,547.7 170.8,548.4 171,547.8 171.2,548.6 171.5,548.2 171.8,547.8 172,547.9 172.2,548.2 172.5,549 172.8,547.6 173,548.6 173.2,548.2 173.5,548.3 173.8,548.4 174,548.5 174.2,548 174.5,547.9 174.8,547.7 175,548.5 175.2,548.7 175.5,548.7 175.8,548.3 176,548.1 176.2,547.7 176.5,548.3 176.8,547.9 177,547.7 177.2,547.7 177.5,547.4 177.8,548.2 178,548 178.2,548.8 178.5,547.9 178.8,549.5 179,548.2 179.2,547.8 179.5,548.5 179.8,547.9 180,548.7 180.2,547.6 180.5,547.4 180.8,549.3 181,548.4 181.2,548.3 181.5,547.8 181.8,547.7 182,547.9 182.2,548.2 182.5,548.2 182.8,547.1 183,548.7 183.2,548.4 183.5,548.6 183.8,547.4 184,547.9 184.2,547.8 184.5,548 184.8,547.1 185,548.5 185.2,547.8 185.5,546.6 185.8,548.3 186,547.5 186.2,548.6 186.5,547.1 186.8,547.7 187,547.3 187.2,548.3 187.5,547.4 187.8,547.4 188,547.6 188.2,547.6 188.5,548.6 188.8,547.8 189,547.8 189.2,548 189.5,548.1 189.8,548.1 190,547.8 190.2,547.8 190.5,547.8 190.8,548 191,548 191.2,548.7 191.5,547.4 191.8,547.4 192,548 192.2,548.1 192.5,548.5 192.8,548.3 193,548.2 193.2,549 193.5,548.6 193.8,547.6 194,548.2 194.2,547.6 194.5,548.1 194.8,547.8 195,547.8 195.2,547.5 195.5,548 195.8,548.2 196,548.3 196.2,548.1 196.5,548 196.8,548.2 197,548.6 197.2,547.6 197.5,547.2 197.8,547.9 198,547.8 198.2,548.6 198.5,548.6 198.8,548.8 199,547.3 199.2,548.5 199.5,548.8 199.8,548.4 200,548.9 200.2,548.6 200.5,548 200.8,548.7 201,548.3 201.2,547.3 201.5,548.4 201.8,547.5 202,547.9 202.2,547 202.5,547.7 202.8,548.4 203,547.9 203.2,547.1 203.5,547.5 203.8,548.7 204,547.9 204.2,548.4 204.5,549.1 204.8,548.3 205,548.2 205.2,549 205.5,547 205.8,548.3 206,548.3 206.2,548.4 206.5,548.4 206.8,547.9 207,547.6 207.2,548.9 207.5,548.5 207.8,547.2 208,547.6 208.2,548.5 208.5,548.4 208.8,547.9 209,548 209.2,548 209.5,548.3 209.8,547.9 210,548 210.2,547.5 210.5,548.7 210.8,547.6 211,547.9 211.2,548.1 211.5,547.9 211.8,547.4 212,547.7 212.2,547.9 212.5,546.9 212.8,548.2 213,549.4 213.2,547.7 213.5,547.7 213.8,548.1 214,547.7 214.2,547.4 214.5,548 214.8,547.7 215,547.7 215.2,548.4 215.5,548.2 215.8,548.3 216,548.7 216.2,548.3 216.5,548.5 216.8,548 217,548.5 217.2,548.8 217.5,547.8 217.8,548.2 218,547.5 218.2,547.9 218.5,548 218.8,548.4 219,547.8 219.2,548.8 219.5,548.9 219.8,548.5 220,549.2 220.2,547.6 220.5,547.1 220.8,547.8 221,547.6 221.2,547.6 221.5,547.8 221.8,548.4 222,548.7 222.2,547.9 222.5,548.5 222.8,548.1 223,548.2 223.2,548.8 223.5,548.1 223.8,548.3 224,548.2 224.2,547.6 224.5,548.6 224.8,549.4 225,548.1 225.2,548.6 225.5,548.8 225.8,548.2 226,548.2 226.2,548 226.5,547.4 226.8,547.9 227,548.4 227.2,548.5 227.5,547.6 227.8,549 228,547.2 228.2,547.6 228.5,548.2 228.8,547.5 229,547.9 229.2,548.4 229.5,547.6 229.8,547.4 230,548.5 230.2,548.9 230.5,548.1 230.8,548.7 231,547.2 231.2,547.7 231.5,548.7 231.8,548.4 232,548.1 232.2,547.5 232.5,547.2 232.8,548.6 233,548.6 233.2,548.2 233.5,548.4 233.8,548.1 234,547.8 234.2,547.8 234.5,547.8 234.8,547.7 235,548.8 235.2,548.3 235.5,548.1 235.8,548.8 236,548.4 236.2,548.2 236.5,548.2 236.8,548.4 237,547.8 237.2,548.2 237.5,547.6 237.8,547.8 238,548.1 238.2,547.8 238.5,548.3 238.8,548.3 239,549.2 239.2,548.2 239.5,548.4 239.8,547.8 240,548.1 240.2,548.2 240.5,548.7 240.8,548.3 241,548.1 241.2,547.8 241.5,548.2 241.8,548.6 242,547.5 242.2,548.8 242.5,548.2 242.8,547.5 243,548 243.2,548.6 243.5,548.7 243.8,547.7 244,548 244.2,548.9 244.5,548.6 244.8,549.1 245,548.7 245.2,548 245.5,548.3 245.8,547.8 246,548.3 246.2,548.7 246.5,548.5 246.8,547.9 247,547.5 247.2,548.2 247.5,546.9 247.8,548.1 248,548.9 248.2,548.1 248.5,547.2 248.8,548.1 249,547.8 249.2,548.6 249.5,547.2 249.8,548.2 250,547.8 250.2,548.7 250.5,548.4 250.8,547.7 251,548.6 251.2,548 251.5,548.7 251.8,548.4 252,548.6 252.2,548 252.5,547.9 252.8,547.9 253,548.2 253.2,547 253.5,548.9 253.8,548.2 254,548.2 254.2,547.3 254.5,547.5 254.8,547.5 255,548.5 255.2,547.7 255.5,547.7 255.8,548.5 256,547.7 256.2,547.1 256.5,546.6 256.8,548 257,549 257.2,548.4 257.5,548.4 257.8,547.5 258,548.9 258.2,547.8 258.5,548.7 258.8,549.4 259,548.4 259.2,547.3 259.5,548.2 259.8,547.7 260,548 260.2,548.6 260.5,549 260.8,548.7 261,548 261.2,548.3 261.5,547.7 261.8,548.2 262,547.9 262.2,548.6 262.5,548.6 262.8,548.2 263,548.1 263.2,547.9 263.5,548.8 263.8,548.5 264,548.6 264.2,547.8 264.5,548.4 264.8,548.1 265,548.5 265.2,549.3 265.5,548.5 265.8,548.4 266,547.1 266.2,547.8 266.5,547.1 266.8,547.7 267,548.6 267.2,549 267.5,548 267.8,547 268,548.7 268.2,548.5 268.5,547.9 268.8,546.9 269,548.6 269.2,547.9 269.5,548.1 269.8,546.9 270,547.6 270.2,548.8 270.5,547.5 270.8,548.3 271,547.9 271.2,548 271.5,548.3 271.8,547.5 272,548 272.2,548 272.5,547.6 272.8,548.1 273,547.8 273.2,547.3 273.5,548.8 273.8,548.4 274,547.8 274.2,548.2 274.5,547.1 274.8,547.9 275,548.1 275.2,548.2 275.5,547.3 275.8,547.9 276,548.1 276.2,547.4 276.5,549 276.8,547.7 277,546.9 277.2,547.7 277.5,548.6 277.8,547.1 278,548.9 278.2,548.4 278.5,548 278.8,548.1 279,548.7 279.2,547.3 279.5,547.7 279.8,547.6 280,548.2 280.2,547.6 280.5,547.6 280.8,547.7 281,548.1 281.2,548.3 281.5,547.5 281.8,547.9 282,547.9 282.2,548.2 282.5,548.7 282.8,547.6 283,547.4 283.2,547.7 283.5,547.9 283.8,548.4 284,547.9 284.2,548.3 284.5,548 284.8,548.8 285,548.1 285.2,548.8 285.5,548.5 285.8,547.2 286,547.9 286.2,547.6 286.5,547.5 286.8,548 287,547.2 287.2,548.3 287.5,548.9 287.8,548.9 288,548 288.2,548.2 288.5,547.5 288.8,548.1 289,547.6 289.2,547.8 289.5,547.9 289.8,548.2 290,547.8 290.2,548.7 290.5,547.7 290.8,548.4 291,548.1 291.2,547.7 291.5,548.5 291.8,548 292,547.5 292.2,548.4 292.5,547.4 292.8,547.9 293,547.2 293.2,548.1 293.5,546.5 293.8,547.2 294,547.6 294.2,548.1 294.5,547.3 294.8,548.5 295,547.7 295.2,547.7 295.5,546.9 295.8,548.4 296,547.6 296.2,547.7 296.5,548 296.8,548.4 297,547.8 297.2,548.4 297.5,547.8 297.8,547.6 298,548 298.2,548.9 298.5,548.2 298.8,547.5 299,548.3 299.2,548.3 299.5,547.7 299.8,548.1 300,548.1 300.2,547.1 300.5,548.3 300.8,547 301,548.2 301.2,547.4 301.5,547.6 301.8,547.8 302,547.6 302.2,548.1 302.5,548.1 302.8,548.8 303,547.5 303.2,547.7 303.5,548 303.8,547.6 304,547.3 304.2,547.6 304.5,547.8 304.8,548.9 305,546.8 305.2,547.7 305.5,547 305.8,549 306,547.7 306.2,548.2 306.5,546.7 306.8,548 307,548 307.2,548.2 307.5,548.6 307.8,548.2 308,548.8 308.2,547.9 308.5,547.1 308.8,548.1 309,548.1 309.2,547.4 309.5,547.9 309.8,547.9 310,547.3 310.2,547.2 310.5,548.7 310.8,547.9 311,548 311.2,548.5 311.5,547.1 311.8,547.5 312,548 312.2,548.4 312.5,548 312.8,547.7 313,547.8 313.2,547.7 313.5,548.1 313.8,546.7 314,548.7 314.2,547.2 314.5,547.7 314.8,548 315,547.1 315.2,547.2 315.5,547.7 315.8,547.6 316,547.9 316.2,547.6 316.5,548 316.8,547.9 317,547.3 317.2,547.6 317.5,547.9 317.8,547.1 318,546.9 318.2,547.5 318.5,547.4 318.8,547 319,547.1 319.2,548.6 319.5,548 319.8,547.7 320,548.5 320.2,548.5 320.5,547.6 320.8,548.9 321,547.1 321.2,546.6 321.5,547.2 321.8,548.1 322,547.9 322.2,549 322.5,548.7 322.8,547.7 323,547.2 323.2,547 323.5,548.1 323.8,547.2 324,547.7 324.2,547.5 324.5,548 324.8,548.9 325,547.8 325.2,548.7 325.5,547.5 325.8,546.9 326,548.2 326.2,546 326.5,548 326.8,547.3 327,547.4 327.2,547 327.5,547.6 327.8,547.1 328,547.1 328.2,547.6 328.5,548.2 328.8,547.8 329,547.8 329.2,546.9 329.5,547.8 329.8,547.5 330,547.8 330.2,547.5 330.5,547 330.8,547.7 331,546.7 331.2,548 331.5,548.5 331.8,548.1 332,546.7 332.2,547.2 332.5,547.7 332.8,547.4 333,547.5 333.2,547.8 333.5,546.9 333.8,547.8 334,547.9 334.2,548 334.5,546.9 334.8,547.7 335,547.6 335.2,548 335.5,546.6 335.8,547 336,547.1 336.2,547.9 336.5,547 336.8,546.5 337,547 337.2,547.9 337.5,548.6 337.8,548.3 338,547.9 338.2,546.8 338.5,547.7 338.8,547.6 339,547.9 339.2,547.5 339.5,547.8 339.8,546.9 340,547.4 340.2,547.2 340.5,548.3 340.8,546.4 341,546.7 341.2,547.7 341.5,547.3 341.8,548.5 342,547.7 342.2,547.5 342.5,547.1 342.8,547.7 343,547.9 343.2,547.4 343.5,547.5 343.8,547.7 344,546 344.2,546.3 344.5,547.9 344.8,547.9 345,547.7 345.2,547.6 345.5,547.8 345.8,547.2 346,547.2 346.2,547.8 346.5,546.9 346.8,547.6 347,547.8 347.2,547.1 347.5,548.3 347.8,547.8 348,547.6 348.2,547.2 348.5,548.2 348.8,547.2 349,548.5 349.2,548.6 349.5,547.4 349.8,548.2 350,548.9 350.2,548 350.5,547.6 350.8,548.1 351,547.5 351.2,547.9 351.5,547 351.8,547.4 352,547.8 352.2,547.7 352.5,547.5 352.8,547.1 353,547.2 353.2,547.8 353.5,547.6 353.8,547.9 354,547.4 354.2,547.3 354.5,547.2 354.8,548.1 355,547.4 355.2,547.1 355.5,548.2 355.8,547.2 356,548 356.2,548.3 356.5,548.3 356.8,546.6 357,547.3 357.2,547.7 357.5,547.5 357.8,547.2 358,548.4 358.2,547.1 358.5,546.7 358.8,547.2 359,547 359.2,547.4 359.5,547.2 359.8,547.1 360,546.6 360.2,548.7 360.5,547.4 360.8,546.9 361,547.2 361.2,547 361.5,547.9 361.8,547.1 362,546.9 362.2,547.8 362.5,547.4 362.8,548.7 363,546.7 363.2,546.2 363.5,547.8 363.8,547.3 364,548.1 364.2,547.3 364.5,548 364.8,547 365,547.9 365.2,546.8 365.5,546.2 365.8,546.9 366,547 366.2,548.2 366.5,547.4 366.8,547.8 367,547.8 367.2,546.4 367.5,547.9 367.8,547.3 368,547.8 368.2,547.7 368.5,547.3 368.8,547.8 369,546.9 369.2,546.7 369.5,548 369.8,547.1 370,547.4 370.2,547.7 370.5,548 370.8,547.1 371,547.1 371.2,548.1 371.5,547.3 371.8,547.8 372,547.7 372.2,547.4 372.5,547.6 372.8,547.5 373,547.3 373.2,548.5 373.5,548 373.8,547.2 374,547.3 374.2,546.8 374.5,547.5 374.8,547 375,547.5 375.2,547.1 375.5,546.8 375.8,547 376,547.5 376.2,547.8 376.5,547.6 376.8,547.4 377,547.8 377.2,547.7 377.5,548.7 377.8,547.6 378,547.5 378.2,547.8 378.5,547.5 378.8,547.6 379,547.3 379.2,546.7 379.5,548.2 379.8,546.6 380,547 380.2,547.9 380.5,548.2 380.8,547.5 381,547.2 381.2,547.4 381.5,547.5 381.8,547.3 382,546.9 382.2,547.4 382.5,547.1 382.8,547.6 383,547.4 383.2,547.1 383.5,548.2 383.8,546.8 384,546.9 384.2,548.2 384.5,547.6 384.8,547.5 385,547 385.2,546.5 385.5,547.1 385.8,545.9 386,548.2 386.2,547.5 386.5,546.7 386.8,546.9 387,547.9 387.2,547.2 387.5,548.2 387.8,547.7 388,547.5 388.2,548.2 388.5,547.9 388.8,547.7 389,547 389.2,548.8 389.5,547.5 389.8,547.2 390,547.6 390.2,547.6 390.5,547.7 390.8,548.2 391,547.6 391.2,547.9 391.5,547.6 391.8,547.6 392,548 392.2,546.4 392.5,545.9 392.8,547.5 393,546.8 393.2,546.6 393.5,547.8 393.8,547.2 394,547.4 394.2,547.6 394.5,547 394.8,547.8 395,547.3 395.2,547.1 395.5,547.2 395.8,548.1 396,547.4 396.2,547.7 396.5,547.1 396.8,547.2 397,546.8 397.2,547.6 397.5,547.4 397.8,547.2 398,548.3 398.2,547.3 398.5,547.8 398.8,548.1 399,547.2 399.2,548 399.5,547.7 399.8,547.8 400,548.5 400.2,547 400.5,546.8 400.8,548 401,546.5 401.2,547 401.5,547.4 401.8,547.6 402,547.5 402.2,547.1 402.5,547.2 402.8,547.6 403,546.6 403.2,547.5 403.5,545.7 403.8,547.4 404,547.6 404.2,546.8 404.5,547.1 404.8,547.8 405,548.2 405.2,546.7 405.5,547.6 405.8,547.6 406,546.8 406.2,547.5 406.5,547.8 406.8,548 407,547.8 407.2,548.3 407.5,548.6 407.8,546.9 408,547.5 408.2,546.5 408.5,547.1 408.8,546.9 409,547.7 409.2,548.8 409.5,546.6 409.8,547.7 410,547.1 410.2,547.9 410.5,547.8 410.8,546.9 411,546.9 411.2,546.4 411.5,546.8 411.8,547.7 412,548 412.2,547.6 412.5,546.9 412.8,547.6 413,546.6 413.2,546.8 413.5,547.7 413.8,547.7 414,547.4 414.2,547.4 414.5,547 414.8,548.2 415,548 415.2,546.9 415.5,548 415.8,546 416,547.9 416.2,548.1 416.5,547.3 416.8,547.6 417,546.8 417.2,547.1 417.5,548.3 417.8,548 418,547.9 418.2,547.2 418.5,547 418.8,547.7 419,546.9 419.2,547.1 419.5,547.5 419.8,548.6 420,546.7 420.2,547.6 420.5,546.9 420.8,547.8 421,547.8 421.2,546.9 421.5,548.4 421.8,546.7 422,546.7 422.2,547.1 422.5,548 422.8,547.4 423,547.9 423.2,547.9 423.5,546.7 423.8,546.7 424,547.7 424.2,547.3 424.5,547.7 424.8,547.9 425,547.8 425.2,547.8 425.5,547.5 425.8,547.4 426,548.4 426.2,547.7 426.5,548 426.8,548.3 427,547.6 427.2,547.6 427.5,547.1 427.8,546.6 428,547.3 428.2,547.5 428.5,546.8 428.8,548.1 429,547.8 429.2,547.8 429.5,547.2 429.8,548.2 430,548.7 430.2,546.7 430.5,548.4 430.8,547.6 431,547.8 431.2,546.6 431.5,547.8 431.8,547.3 432,547.3 432.2,547.2 432.5,547.2 432.8,547.2 433,547.4 433.2,547.9 433.5,547.1 433.8,548.6 434,547 434.2,547.4 434.5,547.5 434.8,547.2 435,547.1 435.2,545.7 435.5,548.1 435.8,546.8 436,546.8 436.2,546.3 436.5,547.3 436.8,546.8 437,547.2 437.2,548 437.5,548.1 437.8,547.8 438,547.4 438.2,547.6 438.5,547.2 438.8,547.5 439,547.3 439.2,546.6 439.5,548.2 439.8,546.9 440,546.7 440.2,547.2 440.5,548.1 440.8,547.4 441,546.9 441.2,547.1 441.5,548.3 441.8,546.6 442,546.7 442.2,546.4 442.5,547.5 442.8,547.1 443,547.5 443.2,547.6 443.5,547.1 443.8,547.8 444,547.3 444.2,547.2 444.5,547.8 444.8,547.5 445,546.3 445.2,545.9 445.5,548 445.8,547 446,546.9 446.2,547.5 446.5,548 446.8,547.1 447,547.7 447.2,546.6 447.5,546.4 447.8,546 448,547.5 448.2,547 448.5,547.2 448.8,547.9 449,546.4 449.2,548.6 449.5,547.3 449.8,546.1 450,547.9 450.2,548.4 450.5,547.2 450.8,546.9 451,547.9 451.2,547.8 451.5,546 451.8,547.2 452,547.4 452.2,546.4 452.5,547.1 452.8,546.7 453,547.2 453.2,547.8 453.5,548.1 453.8,547.2 454,547.2 454.2,546.8 454.5,547.1 454.8,548.2 455,547.2 455.2,546.5 455.5,546.9 455.8,547.1 456,547.5 456.2,546.7 456.5,547.8 456.8,547.5 457,547 457.2,547.5 457.5,548.1 457.8,546.7 458,547.1 458.2,547.6 458.5,547.3 458.8,546.7 459,547 459.2,547.9 459.5,547.3 459.8,547 460,546.9 460.2,546.8 460.5,546.7 460.8,548 461,547.1 461.2,547.8 461.5,547.2 461.8,547.5 462,547.4 462.2,547.7 462.5,548.2 462.8,547.3 463,546.5 463.2,547.6 463.5,548.2 463.8,547.6 464,547.2 464.2,547.3 464.5,546.3 464.8,546.8 465,547.5 465.2,548 465.5,548.2 465.8,547.1 466,546.9 466.2,546.7 466.5,546.7 466.8,546.9 467,546.5 467.2,547.9 467.5,546.2 467.8,548 468,547.8 468.2,546.9 468.5,547.4 468.8,547 469,548 469.2,547.7 469.5,547.7 469.8,546.7 470,547.7 470.2,547 470.5,547.1 470.8,545.9 471,544.3 471.2,542.9 471.5,541.7 471.8,540.7 472,539 472.2,537.8 472.5,538.5 472.8,540.7 473,542.4 473.2,544.4 473.5,546.4 473.8,548.5 474,550.3 474.2,552.3 474.5,554.3 474.8,556.5 475,555.2 475.2,553 475.5,550.6 475.8,548.6 476,546.3 476.2,544.1 476.5,541.9 476.8,539.7 477,539.9 477.2,539.5 477.5,539.8 477.8,540.1 478,539.8 478.2,539.7 478.5,540.7 478.8,539 479,539.9 479.2,539.5 479.5,539.6 479.8,539.8 480,540.1 480.2,539.3 480.5,540.5 480.8,539.8 481,539.8 481.2,539.4 481.5,540.1 481.8,539.3 482,539.7 482.2,540.4 482.5,540.6 482.8,539.4 483,539.2 483.2,541.3 483.5,540.2 483.8,540.1 484,539.8 484.2,540 484.5,539.8 484.8,539.9 485,539.9 485.2,542 485.5,544.5 485.8,547 486,549.5 486.2,552.1 486.5,554.8 486.8,557.2 487,559 487.2,555.1 487.5,551.1 487.8,547 488,543 488.2,539 488.5,534.9 488.8,530.9 489,527.9 489.2,525.6 489.5,523.6 489.8,521.4 490,519.4 490.2,516.5 490.5,513.8 490.8,510.8 491,508 491.2,505.1 491.5,501.1 491.8,496.4 492,491.6 492.2,487 492.5,482.1 492.8,477.3 493,472.6 493.2,467.9 493.5,463.9 493.8,460 494,455.9 494.2,452.5 494.5,451.3 494.8,450.5 495,449.6 495.2,448.1 495.5,447.7 495.8,447 496,446.4 496.2,446.1 496.5,445 496.8,444.6 497,443.7 497.2,443.3 497.5,442.4 497.8,442.5 498,442.6 498.2,442.8 498.5,442.5 498.8,441.6 499,442.8 499.2,442.8 499.5,443.4 499.8,442.2 500,442.9 500.2,443.4 500.5,442.7 500.8,442 501,441.9 501.2,442.2 501.5,442.7 501.8,441.9 502,442.9 502.2,441.9 502.5,442.8 502.8,443 503,442.1 503.2,443.3 503.5,442.3 503.8,441.2 504,442.5 504.2,442.8 504.5,442.3 504.8,442.9 505,442.9 505.2,443.3 505.5,448.6 505.8,453.9 506,459.2 506.2,465.6 506.5,471.9 506.8,478.3 507,484.7 507.2,491 507.5,497.4 507.8,503.8 508,506 508.2,503.5 508.5,501.6 508.8,499.4 509,497.3 509.2,495.3 509.5,493 509.8,491.1 510,499.9 510.2,509.3 510.5,517.6 510.8,525.9 511,534.3 511.2,542.5 511.5,548.4 511.8,553.7 512,559 512.2,564.3 512.5,569.6 512.8,574.9 513,580.2 513.2,582.9 513.5,576.8 513.8,570.9 514,564.8 514.2,558.9 514.5,552.8 514.8,546.1 515,535.5 515.2,524.9 515.5,516.8 515.8,525.9 516,535.3 516.2,543.8 516.5,541.1 516.8,538.5 517,535.6 517.2,533 517.5,531.6 517.8,531.9 518,532 518.2,532.2 518.5,532.5 518.8,533.3 519,531.9 519.2,532.6 519.5,533 519.8,533.5 520,532.6 520.2,534.1 520.5,533.7 520.8,534.5 521,534 521.2,533.6 521.5,533.3 521.8,533.8 522,533.8 522.2,533 522.5,533.8 522.8,533.6 523,534 523.2,533.2 523.5,533.4 523.8,533.6 524,534.1 524.2,533.6 524.5,533 524.8,533.3 525,534.5 525.2,534.4 525.5,534.1 525.8,542.1 526,551.6 526.2,561.1 526.5,567.7 526.8,573.7 527,579.6 527.2,585.4 527.5,589.2 527.8,586.3 528,583.5 528.2,580.5 528.5,577.6 528.8,574.4 529,576.9 529.2,579.6 529.5,582.1 529.8,584.9 530,587.6 530.2,590.3 530.5,586.8 530.8,582.2 531,577.7 531.2,573.1 531.5,568.4 531.8,563.8 532,559.1 532.2,555.4 532.5,554.2 532.8,553 533,552 533.2,550.6 533.5,549.1 533.8,546.9 534,538.9 534.2,531 534.5,523 534.8,515.1 535,507.2 535.2,499.3 535.5,491.3 535.8,483.4 536,475.5 536.2,467.6 536.5,464 536.8,464.8 537,465.2 537.2,465.7 537.5,465.8 537.8,466.2 538,465.9 538.2,465 538.5,465.4 538.8,465.5 539,466.7 539.2,465.1 539.5,465.2 539.8,466 540,466 540.2,465.7 540.5,465.1 540.8,464 541,466.6 541.2,465.5 541.5,465.9 541.8,465.4 542,465.1 542.2,465.4 542.5,466.4 542.8,466.1 543,467 543.2,465.2 543.5,465.5 543.8,465.7 544,466.2 544.2,466.4 544.5,465.2 544.8,465.7 545,465.3 545.2,465.2 545.5,466.2 545.8,465.7 546,466 546.2,466.3 546.5,466.1 546.8,466.8 547,466.3 547.2,465.8 547.5,465.4 547.8,465.8 548,466.2 548.2,465.9 548.5,465.2 548.8,465.5 549,465.2 549.2,466.8 549.5,466.2 549.8,465.1 550,465.7 550.2,466 550.5,470.3 550.8,474.6 551,471.3 551.2,466 551.5,462.1 551.8,460.2 552,458.1 552.2,455.9 552.5,453.9 552.8,451.8 553,449.7 553.2,448.2 553.5,446.9 553.8,445.9 554,444.6 554.2,443 554.5,441.8 554.8,440.7" stroke="#edb120" stroke-width="0.6"/>
<path d="M555,439.4 555.2,439.5 555.5,439.7 555.7,439.4 556,439.3 556.2,439.6 556.5,439.6 556.7,439.5 557,439.4 557.2,439.6 557.5,439.2 557.7,439.5 558,439.3 558.2,439.6 558.5,439.3 558.7,439.8 559,439.8 559.2,439.5 559.5,439.2 559.7,439.6 560,439.4 560.2,439.5 560.5,439.6 560.7,439.6 561,439.6 561.2,439.1 561.5,439.5 561.7,439.3 562,439.6 562.2,438.9 562.5,439.3 562.7,439.4 563,439.2 563.2,439.6 563.5,439.7 563.7,439.7 564,439.5 564.2,439.4 564.5,439.8 564.7,439.4 565,439.9 565.2,439.8 565.5,439.5 565.7,439.9 566,439.9 566.2,439.2 566.5,439.6 566.7,439.5 567,439.6 567.2,440 567.5,439.9 567.7,440.8 568,441.2 568.2,441.3 568.5,441.1 568.7,441.1 569,440.5 569.2,439.5 569.5,438.7 569.7,438.4 570,438 570.2,438.5 570.5,438.4 570.7,439.3 571,440 571.2,441.2 571.5,441.2 571.7,441.3 572,441.3 572.2,440.7 572.5,440.4 572.7,439.5 573,438.7 573.2,438.2 573.5,437.5 573.7,438 574,438.7 574.2,439.3 574.5,440.5 574.7,441.4 575,441.3 575.2,441.2 575.5,441.2 575.7,440.2 576,439.7 576.2,439.6 576.5,439.9 576.7,439.5 577,439.6 577.2,439.9 577.5,439.5 577.7,439.8 578,439.8 578.2,439.6 578.5,439.9 578.7,440.3 579,439.9 579.2,440.4 579.5,441.1 579.7,441.6 580,441.4 580.2,441 580.5,440.3 580.7,439.8 581,439 581.2,438.4 581.5,438.3 581.7,438.4 582,439 582.2,439.4 582.5,440.2 582.7,441 583,441.3 583.2,441.8 583.5,441 583.7,441.1 584,440.2 584.2,439.5 584.5,439.1 584.7,438.6 585,438.6 585.2,437.9 585.5,439.2 585.7,439.7 586,440.8 586.2,441 586.5,441.7 586.7,441.5 587,441.3 587.2,439.7 587.5,440 587.7,439.9 588,440.3 588.2,441.5 588.5,441.4 588.7,441.9 589,441.4 589.2,440.9 589.5,440.3 589.7,439.4 590,439.4 590.2,438.2 590.5,438.3 590.7,438.7 591,439.5 591.2,440.1 591.5,440.9 591.7,441.3 592,441.7 592.2,442 592.5,441.7 592.7,440.5 593,439.5 593.2,439.5 593.5,438.7 593.7,438.5 594,438.3 594.2,439 594.5,439.7 594.7,440.7 595,441.6 595.2,441.7 595.5,441.9 595.7,441.7 596,440.2 596.2,439.6 596.5,440 596.7,440.1 597,440.5 597.2,440.3 597.5,440 597.7,440 598,440 598.2,439.9 598.5,440.3 598.7,440.4 599,440.1 599.2,439.7 599.5,440.6 599.7,441.5 600,441.7 600.2,441.6 600.5,441.6 600.7,441.6 601,440.5 601.2,439.8 601.5,438.8 601.7,438.6 602,438.3 602.2,439 602.5,439.1 602.7,439.8 603,441.4 603.2,441.5 603.5,442.1 603.7,441.8 604,441.7 604.2,440.7 604.5,439.9 604.7,439.7 605,439 605.2,438.1 605.5,438.5 605.7,439.1 606,440.1 606.2,440.6 606.5,441.3 606.7,441.5 607,442.3 607.2,442.1 607.5,439.9 607.7,440.4 608,439.7 608.2,440.4 608.5,441 608.7,441.8 609,441.7 609.2,442 609.5,441.2 609.7,440.8 610,439.9 610.2,439.1 610.5,439.1 610.7,438.7 611,439.1 611.2,439.3 611.5,440.1 611.7,441.1 612,441.5 612.2,441.9 612.5,441.9 612.7,441.7 613,441.5 613.2,440.7 613.5,439.8 613.7,439.3 614,439 614.2,438.9 614.5,438.8 614.7,439.4 615,440.8 615.2,441.2 615.5,441.9 615.7,442 616,441.8 616.2,440.3 616.5,440.7 616.7,440.4 617,440.7 617.2,440.6 617.5,440.2 617.7,440.3 618,440.5 618.2,440.8 618.5,440.7 618.7,440 619,440.6 619.2,440.5 619.5,440.6 619.7,440.8 620,441.2 620.2,442.2 620.5,442.2 620.7,441.9 621,441.8 621.2,440.9 621.5,440.1 621.7,439.4 622,439.2 622.2,439.1 622.5,438.9 622.7,439.9 623,440.2 623.2,441.1 623.5,441.8 623.7,442.2 624,442 624.2,442.1 624.5,441.4 624.7,440.6 625,439.8 625.2,439.4 625.5,438.9 625.7,439 626,439.1 626.2,439.5 626.5,440.3 626.7,441.6 627,442.1 627.2,442.4 627.5,442.4 627.7,440.4 628,440.8 628.2,440.3 628.5,440.5 628.7,441.1 629,441.8 629.2,441.9 629.5,442.6 629.7,441.7 630,441.7 630.2,440.8 630.5,440 630.7,439.3 631,438.9 631.2,438.9 631.5,439.7 631.7,440 632,440.7 632.2,441.8 632.5,442.6 632.7,442.1 633,442.3 633.2,441.9 633.5,441 633.7,440.2 634,439.9 634.2,439.2 634.5,439.2 634.7,438.9 635,439.4 635.2,440.2 635.5,441.2 635.7,441.9 636,442.3 636.2,442 636.5,442.1 636.7,441.1 637,440.6 637.2,440.9 637.5,440.7 637.7,440.9 638,441 638.2,440.4 638.5,440.8 638.7,441.1 639,440.6 639.2,440.7 639.5,440.9 639.7,441 640,440.5 640.2,441.6 640.5,442.1 640.7,442.5 641,442.6 641.2,442.2 641.5,441.9 641.7,440.9 642,440.3 642.2,439.6 642.5,439.3 642.7,439.3 643,439.4 643.2,440.4 643.5,440.8 643.7,441.9 644,442.4 644.2,442.4 644.5,442.6 644.7,442.1 645,441.5 645.2,440.5 645.5,440.2 645.7,439.5 646,439.5 646.2,439.3 646.5,439.8 646.7,440.7 647,441.1 647.2,442 647.5,442.9 647.7,442.6 648,442.5 648.2,440.7 648.5,441.2 648.7,440.8 649,441 649.2,442.1 649.5,442.3 649.7,442.3 650,442.3 650.2,442.2 650.5,441.3 650.7,440.7 651,440.1 651.2,439.6 651.5,439.7 651.7,439.6 652,440.4 652.2,440.8 652.5,441.9 652.7,442.5 653,442.9 653.2,443.4 653.5,442.6 653.7,442 654,441.4 654.2,440.6 654.5,439.9 654.7,439.6 655,439.5 655.2,439.7 655.5,440.2 655.7,441.3 656,441.9 656.2,442.3 656.5,443.2 656.7,443 657,441.2 657.2,440.9 657.5,441.2 657.7,441.2 658,441.1 658.2,441.5 658.5,441.4 658.7,441 659,441.3 659.2,440.8 659.5,441.3 659.7,441.4 660,441.5 660.2,440.7 660.5,441.8 660.7,442 661,442.9 661.2,442.7 661.5,442.8 661.7,442.4 662,441.6 662.2,441 662.5,440.1 662.7,439.6 663,439.4 663.2,439.5 663.5,440.3 663.7,441 664,442.2 664.2,442.4 664.5,443.2 664.7,442.4 665,442.8 665.2,442.2 665.5,441.6 665.7,441 666,440.1 666.2,440 666.5,439.6 666.7,439.9 667,440.9 667.2,441.5 667.5,442.5 667.7,442.6 668,443 668.2,443 668.5,441.4 668.7,441.6 669,442 669.2,441.4 669.5,442.4 669.7,442.7 670,442.7 670.2,442.7 670.5,442.5 670.7,441.6 671,441.3 671.2,440.7 671.5,439.5 671.7,439.7 672,439.6 672.2,440.5 672.5,441.2 672.7,441.8 673,442.4 673.2,442.9 673.5,443.1 673.7,443.4 674,442.7 674.2,441.9 674.5,441.5 674.7,440.4 675,440 675.2,439.7 675.5,439.7 675.7,440.6 676,441.2 676.2,442.3 676.5,442.4 676.7,442.8 677,443.2 677.2,442.7 677.5,441.4 677.7,441.5 678,441.3 678.2,441.5 678.5,441.9 678.7,441.6 679,441.5 679.2,441.6 679.5,441.4 679.7,441.7 680,441.8 680.2,441.4 680.5,441.5 680.7,441.7 681,441.9 681.2,443.2 681.5,443.1 681.7,442.8 682,442.9 682.2,442 682.5,441.2 682.7,440.5 683,440.2 683.2,440 683.5,439.6 683.7,440.4 684,440.9 684.2,441.8 684.5,442.7 684.7,443.2 685,443.6 685.2,443 685.5,442.7 685.7,442.1 686,441.1 686.2,440.4 686.5,439.8 686.7,439.7 687,440.6 687.2,440.6 687.5,441.5 687.7,442.3 688,442.8 688.2,443.4 688.5,443.5 688.7,442.9 689,442 689.2,441.8 689.5,441.6 689.7,442.1 690,443.1 690.2,443.7 690.5,443.3 690.7,443.3 691,442.6 691.2,441.7 691.5,441.2 691.7,440.6 692,440.6 692.2,439.9 692.5,440.1 692.7,440.5 693,441.4 693.2,442.6 693.5,443.2 693.7,443.9 694,443.7 694.2,443.1 694.5,442.6 694.7,442 695,440.6 695.2,440 695.5,440.2 695.7,440.3 696,440.2 696.2,441.2 696.5,441.8 696.7,442.9 697,443.7 697.2,443.8 697.5,443.7 697.7,441.8 698,441.7 698.2,442.1 698.5,441.8 698.7,441.9 699,442 699.2,441.7 699.5,441.4 699.7,442.2 700,441.9 700.2,442.1 700.5,442 700.7,441.6 701,442 701.2,442.2 701.5,443 701.7,443.4 702,443.6 702.2,443.5 702.5,442.7 702.7,442.3 703,441.8 703.2,440.7 703.5,440.7 703.7,440.3 704,440.5 704.2,441 704.5,442.2 704.7,442.7 705,443.1 705.2,443.9 705.5,443.6 705.7,443.4 706,442.3 706.2,441.7 706.5,441.1 706.7,440.7 707,440.5 707.2,440.5 707.5,440.7 707.7,441.8 708,442.3 708.2,443 708.5,443.2 708.7,444 709,443.8 709.2,442.3 709.5,441.9 709.7,442.4 710,442.3 710.2,442.5 710.5,443.6 710.7,443.7 711,443.8 711.2,443.1 711.5,442.3 711.7,441.8 712,441.7 712.2,440.5 712.5,440.3 712.7,440.4 713,440.7 713.2,441.6 713.5,442.7 713.7,443 714,443.6 714.2,443.8 714.5,443.8 714.7,443.1 715,442.3 715.2,442 715.5,441.3 715.7,440.7 716,440.3 716.2,440.8 716.5,441 716.7,441.7 717,442.7 717.2,443.5 717.5,444 717.7,443.8 718,441.9 718.2,442.2 718.5,442.2 718.7,442.4 719,442.4 719.2,442.4 719.5,442.5 719.7,442.4 720,442.3 720.2,442.5 720.5,442.3 720.7,441.9 721,442.4 721.2,442.4 721.5,442.2 721.7,443.3 722,443.4" stroke="#edb120" stroke-width="2.1"/>
</g>
<path d="M210.8,435.8 v8.5 M210.8,591.5 v-8.5" stroke="#262626" stroke-width="1.2"/>
<path d="M338.5,435.8 v8.5 M338.5,591.5 v-8.5" stroke="#262626" stroke-width="1.2"/>
<path d="M466.3,435.8 v8.5 M466.3,591.5 v-8.5" stroke="#262626" stroke-width="1.2"/>
<path d="M594,435.8 v8.5 M594,591.5 v-8.5" stroke="#262626" stroke-width="1.2"/>
<path d="M83,560.4 h8.5 M721.8,560.4 h-8.5" stroke="#262626" stroke-width="1.2"/>
<path d="M83,529.2 h8.5 M721.8,529.2 h-8.5" stroke="#262626" stroke-width="1.2"/>
<path d="M83,498.1 h8.5 M721.8,498.1 h-8.5" stroke="#262626" stroke-width="1.2"/>
<path d="M83,466.9 h8.5 M721.8,466.9 h-8.5" stroke="#262626" stroke-width="1.2"/>
<rect x="83" y="435.8" width="638.8" height="155.7" fill="none" stroke="#262626" stroke-width="1.3"/>
<text x="83" y="614" text-anchor="middle" class="tk">0.0</text>
<text x="210.8" y="614" text-anchor="middle" class="tk">1.0</text>
<text x="338.5" y="614" text-anchor="middle" class="tk">2.0</text>
<text x="466.3" y="614" text-anchor="middle" class="tk">3.0</text>
<text x="594" y="614" text-anchor="middle" class="tk">4.0</text>
<text x="721.8" y="614" text-anchor="middle" class="tk">5.0</text>
<text x="74.2" y="597.4" text-anchor="end" class="tk">0.0</text>
<text x="74.2" y="566.3" text-anchor="end" class="tk">0.2</text>
<text x="74.2" y="535.1" text-anchor="end" class="tk">0.4</text>
<text x="74.2" y="504" text-anchor="end" class="tk">0.6</text>
<text x="74.2" y="472.8" text-anchor="end" class="tk">0.8</text>
<text x="74.2" y="441.7" text-anchor="end" class="tk">1.0</text>
<rect x="115.1" y="451.5" width="289.7" height="32.3" fill="#fff" stroke="#111" stroke-width="1.3"/>
<line x1="125.8" y1="467.7" x2="162.7" y2="467.7" stroke="#edb120" stroke-width="3.4"/>
<text x="168.5" y="473.2" font-size="16.15">Output Power-Polarization Control</text>
<text transform="translate(33.2,607.8) rotate(-90)" font-size="17.43">Normolized Output Power</text>
</g>
<text x="373.8" y="629.4" font-size="21">time(s)</text>
<text x="21.6" y="30" font-size="21.8" font-weight="bold">(a)</text>
<text x="13.8" y="633" font-size="21.8" font-weight="bold">(b)</text>
<defs>
<linearGradient id="gbtn" x1="0" y1="0" x2="0" y2="1"><stop offset="0" stop-color="#3f7cf2"/><stop offset="0.5" stop-color="#1a4fd8"/><stop offset="1" stop-color="#0a2fb0"/></linearGradient>
<linearGradient id="gband" x1="0" y1="0" x2="0" y2="1"><stop offset="0" stop-color="#2a0a40" stop-opacity="0"/><stop offset="0.10" stop-color="#5a1c88"/><stop offset="0.28" stop-color="#9a55cc"/><stop offset="0.42" stop-color="#e2c8f3"/><stop offset="0.54" stop-color="#ead8f6"/><stop offset="0.72" stop-color="#b57ade"/><stop offset="0.9" stop-color="#61208f"/><stop offset="1" stop-color="#2a0a40" stop-opacity="0"/></linearGradient>
<radialGradient id="gcirc" cx="0.5" cy="0.35" r="0.7"><stop offset="0" stop-color="#4a4a4a"/><stop offset="1" stop-color="#101010"/></radialGradient>
<filter id="b3" x="-5%" y="-20%" width="110%" height="140%"><feGaussianBlur stdDeviation="2.6"/></filter>
<filter id="b2" x="-5%" y="-20%" width="110%" height="140%"><feGaussianBlur stdDeviation="1.3"/></filter>
<filter id="b2x" x="-5%" y="-20%" width="110%" height="140%"><feGaussianBlur stdDeviation="2"/></filter>
<filter id="b15" x="-5%" y="-20%" width="110%" height="140%"><feGaussianBlur stdDeviation="0.9"/></filter>
<filter id="b1" x="-5%" y="-20%" width="110%" height="140%"><feGaussianBlur stdDeviation="0.55"/></filter>
<filter id="bt" x="-5%" y="-20%" width="110%" height="140%"><feGaussianBlur stdDeviation="0.28"/></filter>
<filter id="grain" x="0" y="0" width="100%" height="100%"><feTurbulence type="fractalNoise" baseFrequency="0.9" numOctaves="1" seed="3" result="n"/><feColorMatrix in="n" type="matrix" values="0 0 0 0 0  0 0 0 0 0  0 0 0 0 0  0 0 0 -2.2 1.55" result="a"/><feComposite in="SourceGraphic" in2="a" operator="in"/></filter>
</defs>
<g transform="translate(0,0)" filter="url(#bt)">
<rect x="17.2" y="653.8" width="346.6" height="258" fill="#5c5c5c"/>
<rect x="18.3" y="654.8" width="344.6" height="256.2" fill="#1c1c1c"/>
<rect x="18.3" y="654.8" width="344.6" height="16.2" fill="#262626"/>
<rect x="21.7" y="658" width="35.5" height="16" rx="2" fill="url(#gbtn)" stroke="#0c2a90" stroke-width="0.5"/>
<text class="ui" x="39.5" y="667.6" font-size="5.6" font-weight="bold" text-anchor="middle" fill="#fff">Eye/Mask</text>
<path d="M60.6,664.2 l1.3,-1.9 l1.4,3.3 l1.7,-5.6 l1.7,5.6 l1.3,-3.2 l1.2,1.8" stroke="#e8202a" stroke-width="1.15" fill="none" stroke-linejoin="round"/>
<text class="ui" x="71" y="665.2" font-size="4.9" font-weight="bold" fill="#fff" textLength="22.8" lengthAdjust="spacingAndGlyphs">KEYSIGHT</text>
<text class="ui" x="98.9" y="665.3" font-size="5.6" font-weight="bold" fill="#f2f2f2" textLength="8.6" lengthAdjust="spacingAndGlyphs">File</text>
<text class="ui" x="113.9" y="665.3" font-size="5.6" font-weight="bold" fill="#f2f2f2" textLength="14.3" lengthAdjust="spacingAndGlyphs">Setup</text>
<text class="ui" x="135.5" y="665.3" font-size="5.6" font-weight="bold" fill="#f2f2f2" textLength="20.3" lengthAdjust="spacingAndGlyphs">Measure</text>
<text class="ui" x="163.4" y="665.3" font-size="5.6" font-weight="bold" fill="#f2f2f2" textLength="13" lengthAdjust="spacingAndGlyphs">Tools</text>
<text class="ui" x="183.2" y="665.3" font-size="5.6" font-weight="bold" fill="#f2f2f2" textLength="11.8" lengthAdjust="spacingAndGlyphs">Apps</text>
<text class="ui" x="202.4" y="665.3" font-size="5.6" font-weight="bold" fill="#f2f2f2" textLength="10.6" lengthAdjust="spacingAndGlyphs">Help</text>
<rect x="223.5" y="660" width="9" height="6.4" rx="1" fill="#6a6a6a"/><circle cx="228" cy="663.3" r="2" fill="#333" stroke="#999" stroke-width="0.5"/><rect x="226" y="658.9" width="3.6" height="1.4" fill="#6a6a6a"/>
<rect x="244.4" y="657.9" width="12.9" height="10.3" rx="1.2" fill="#3c3c3c" stroke="#5a5a5a" stroke-width="0.6"/>
<text class="ui" x="250.8" y="662.2" font-size="3.4" font-weight="bold" text-anchor="middle" fill="#ddd">Auto</text>
<text class="ui" x="250.8" y="666" font-size="3.4" font-weight="bold" text-anchor="middle" fill="#ddd">Scale</text>
<rect x="263.8" y="657.9" width="14.2" height="10.3" rx="1.2" fill="#3c3c3c" stroke="#5a5a5a" stroke-width="0.6"/>
<text class="ui" x="270.9" y="661.9" font-size="3.2" font-weight="bold" text-anchor="middle" fill="#ddd">Run</text>
<rect x="266.9" y="662.8" width="8" height="3.6" rx="0.8" fill="#e01818"/>
<rect x="281.3" y="657.9" width="13.4" height="10.3" rx="1.2" fill="#3c3c3c" stroke="#5a5a5a" stroke-width="0.6"/>
<text class="ui" x="288" y="664.4" font-size="3.6" font-weight="bold" text-anchor="middle" fill="#ddd">Single</text>
<rect x="299.1" y="657.9" width="12.4" height="10.3" rx="1.2" fill="#3c3c3c" stroke="#5a5a5a" stroke-width="0.6"/>
<text class="ui" x="305.3" y="664.4" font-size="3.6" font-weight="bold" text-anchor="middle" fill="#ddd">Clear</text>
<rect x="324.9" y="659.2" width="11.1" height="7.7" rx="0.8" fill="#4a4a4a" stroke="#666" stroke-width="0.5"/><rect x="328" y="664.3" width="5" height="1" fill="#bbb"/>
<rect x="337.3" y="659.2" width="10.3" height="7.7" rx="0.8" fill="#4a4a4a" stroke="#666" stroke-width="0.5"/><rect x="340" y="660.8" width="5" height="4.4" fill="none" stroke="#999" stroke-width="0.6"/>
<rect x="348.9" y="659.2" width="11.6" height="7.7" rx="0.8" fill="#b81e1c" stroke="#d44" stroke-width="0.5"/><path d="M352.7,661.1 l4,4 M356.7,661.1 l-4,4" stroke="#fff" stroke-width="1.2"/>
<rect x="63.7" y="671" width="49.3" height="4.2" fill="#454545"/>
<text class="ui" x="65" y="674.2" font-size="3" fill="#aaa">Pattern Acquisition  100.0%</text>
<rect x="113" y="671" width="249.9" height="4.2" fill="#234526"/>
<line x1="114" y1="673.1" x2="362.5" y2="673.1" stroke="#6da268" stroke-width="2.6" stroke-dasharray="1.1 1"/>
<rect x="18.3" y="674.8" width="35.6" height="210" fill="#1e1e1e"/>
<rect x="23.2" y="681.1" width="25.8" height="15.4" fill="#2a2a30" stroke="#35353c" stroke-width="0.5"/>
<path d="M33.1,684.1 H46.1 M33.1,693.5 H46.1 M35.6,684.1 L45.6,693.5 M35.6,693.5 L45.6,684.1 " stroke="#1f4aa8" stroke-width="2.2" opacity="0.55" fill="none"/><path d="M33.1,684.1 H46.1 M33.1,693.5 H46.1 M35.6,684.1 L45.6,693.5 M35.6,693.5 L45.6,684.1 " stroke="#2d66d4" stroke-width="1" fill="none"/>
<text class="ui" x="36" y="701.4" font-size="3.5" text-anchor="middle" fill="#cfcfcf">Extinction Ratio</text>
<rect x="23.2" y="712" width="25.8" height="15.4" fill="#2a2a30" stroke="#35353c" stroke-width="0.5"/>
<path d="M26.1,715 H46.1 M26.1,724.4 H46.1 M26.6,715 L33.9,724.4 M26.6,724.4 L33.9,715 M38.3,715 L45.6,724.4 M38.3,724.4 L45.6,715 " stroke="#1f4aa8" stroke-width="2.2" opacity="0.55" fill="none"/><path d="M26.1,715 H46.1 M26.1,724.4 H46.1 M26.6,715 L33.9,724.4 M26.6,724.4 L33.9,715 M38.3,715 L45.6,724.4 M38.3,724.4 L45.6,715 " stroke="#2d66d4" stroke-width="1" fill="none"/>
<text class="ui" x="36" y="732.3" font-size="3.5" text-anchor="middle" fill="#cfcfcf">TDEC</text>
<rect x="23.2" y="743.1" width="25.8" height="15.4" fill="#2a2a30" stroke="#35353c" stroke-width="0.5"/>
<path d="M26.1,746.1 H46.1 M26.1,755.5 H46.1 M30.6,746.1 L41.6,755.5 M30.6,755.5 L41.6,746.1 " stroke="#1f4aa8" stroke-width="2.2" opacity="0.55" fill="none"/><path d="M26.1,746.1 H46.1 M26.1,755.5 H46.1 M30.6,746.1 L41.6,755.5 M30.6,755.5 L41.6,746.1 " stroke="#2d66d4" stroke-width="1" fill="none"/>
<text class="ui" x="36" y="763.4" font-size="3.5" text-anchor="middle" fill="#cfcfcf">Jitter</text>
<rect x="23.2" y="774.3" width="25.8" height="15.4" fill="#2a2a30" stroke="#35353c" stroke-width="0.5"/>
<path d="M26.1,777.3 H46.1 M26.1,786.7 H46.1 M26.6,777.3 L33.9,786.7 M26.6,786.7 L33.9,777.3 M38.3,777.3 L45.6,786.7 M38.3,786.7 L45.6,777.3 " stroke="#1f4aa8" stroke-width="2.2" opacity="0.55" fill="none"/><path d="M26.1,777.3 H46.1 M26.1,786.7 H46.1 M26.6,777.3 L33.9,786.7 M26.6,786.7 L33.9,777.3 M38.3,777.3 L45.6,786.7 M38.3,786.7 L45.6,777.3 " stroke="#2d66d4" stroke-width="1" fill="none"/>
<text class="ui" x="36" y="794.6" font-size="3.5" text-anchor="middle" fill="#cfcfcf">OMA at</text>
<text class="ui" x="36" y="799.2" font-size="3.5" text-anchor="middle" fill="#cfcfcf">Crossing</text>
<rect x="23.2" y="806" width="25.8" height="15.4" fill="#2a2a30" stroke="#35353c" stroke-width="0.5"/>
<path d="M26.1,809 H46.1 M26.1,818.4 H46.1 M26.6,809 L33.9,818.4 M26.6,818.4 L33.9,809 M38.3,809 L45.6,818.4 M38.3,818.4 L45.6,809 " stroke="#1f4aa8" stroke-width="2.2" opacity="0.55" fill="none"/><path d="M26.1,809 H46.1 M26.1,818.4 H46.1 M26.6,809 L33.9,818.4 M26.6,818.4 L33.9,809 M38.3,809 L45.6,818.4 M38.3,818.4 L45.6,809 " stroke="#2d66d4" stroke-width="1" fill="none"/>
<text class="ui" x="36" y="826.3" font-size="3.5" text-anchor="middle" fill="#cfcfcf">VECP</text>
<rect x="23.2" y="836.9" width="25.8" height="15.4" fill="#2a2a30" stroke="#35353c" stroke-width="0.5"/>
<path d="M26.1,839.9 H46.1 M26.1,849.3 H46.1 M26.6,839.9 L33.9,849.3 M26.6,849.3 L33.9,839.9 M38.3,839.9 L45.6,849.3 M38.3,849.3 L45.6,839.9 " stroke="#1f4aa8" stroke-width="2.2" opacity="0.55" fill="none"/><path d="M26.1,839.9 H46.1 M26.1,849.3 H46.1 M26.6,839.9 L33.9,849.3 M26.6,849.3 L33.9,839.9 M38.3,839.9 L45.6,849.3 M38.3,849.3 L45.6,839.9 " stroke="#2d66d4" stroke-width="1" fill="none"/>
<text class="ui" x="36" y="857.2" font-size="3.5" text-anchor="middle" fill="#cfcfcf">Average Power</text>
<path d="M26.4,683.8 v9.6 M25.4,692.6 h8" stroke="#e6e6e6" stroke-width="0.8" fill="none"/><circle cx="26.4" cy="684.2" r="0.9" fill="#fff"/><circle cx="29.3" cy="692.4" r="0.8" fill="#fff"/>
<text class="ui" x="39" y="695.6" font-size="3.2" fill="#aab">1/0</text>
<path d="M34.3,715.4 v8.6 M36.1,715.4 v8.6 M37.9,715.4 v8.6" stroke="#8a8f9c" stroke-width="0.7"/>
<circle cx="44.6" cy="716.2" r="2.7" fill="#fff"/><path d="M43.4,715.2 l2.4,2.2" stroke="#2d66d4" stroke-width="1.1"/>
<rect x="29.2" y="777.6" width="1.1" height="2.2" fill="#e8e8e8"/><rect x="29.2" y="784.2" width="1.1" height="2.2" fill="#e8e8e8"/>
<circle cx="36.1" cy="809" r="0.8" fill="#e8e8e8"/><circle cx="36.1" cy="818.4" r="0.8" fill="#e8e8e8"/>
<path d="M26,845.6 h20" stroke="#cfd4e0" stroke-width="0.6" stroke-dasharray="0.8 0.8"/><path d="M26.6,841 v8.4" stroke="#e6e6e6" stroke-width="0.7"/>
<rect x="24.2" y="874.3" width="24" height="10.3" rx="1" fill="#2e2e2e" stroke="#4a4a4a" stroke-width="0.6"/>
<text class="ui" x="36.2" y="881" font-size="3.9" font-weight="bold" text-anchor="middle" fill="#eee">More (1/8)</text>
<rect x="54.3" y="674.8" width="8.8" height="210" fill="#111"/>
<rect x="54.3" y="675.5" width="8.8" height="28" fill="#1e1e1e"/>
<rect x="54.6" y="705" width="8.2" height="33" fill="#262626" stroke="#3a3a3a" stroke-width="0.5"/>
<rect x="54.6" y="739.5" width="8.2" height="32" fill="#262626" stroke="#3a3a3a" stroke-width="0.5"/>
<text class="ui" transform="translate(56.7,678) rotate(90)" font-size="4" font-weight="bold" fill="#fff">Eye Meas</text>
<text class="ui" transform="translate(56.9,710.5) rotate(90)" font-size="3.8" fill="#9a9a9a">Mask Test</text>
<text class="ui" transform="translate(56.9,751) rotate(90)" font-size="3.8" fill="#9a9a9a">PAM</text>
<circle cx="58.6" cy="779" r="3.6" fill="#1a1a1a" stroke="#666" stroke-width="0.6"/><path d="M59.6,777 l-2,2 l2,2" stroke="#888" stroke-width="0.7" fill="none"/>
<rect x="54.6" y="786" width="8.2" height="96" fill="#0a0a0a" stroke="#2a2a2a" stroke-width="0.5"/>
<rect x="63.7" y="675" width="299.2" height="209.5" fill="#000"/>
<rect x="63.7" y="675" width="299.2" height="11.2" fill="#0c0c0c"/>
<rect x="64.9" y="676.5" width="39.2" height="9.7" fill="#2b2b2b" stroke="#484848" stroke-width="0.5"/>
<text class="ui" x="68.2" y="683.4" font-size="4.8" font-weight="bold" fill="#fff">Waveform</text>
<circle cx="99.6" cy="681.4" r="2.6" fill="#222" stroke="#888" stroke-width="0.5"/><path d="M98.9,680.1 l1.9,1.3 l-1.9,1.3z" fill="#bbb"/>
<line x1="63.7" y1="686.4" x2="362.9" y2="686.4" stroke="#4a4a4a" stroke-width="0.7"/>
<rect x="65.4" y="687.6" width="8.5" height="9" rx="0.8" fill="#41789c" stroke="#6aa3c6" stroke-width="0.5"/>
<rect x="76.3" y="687.6" width="8.5" height="9" rx="0.8" fill="#505050" stroke="#6a6a6a" stroke-width="0.5"/>
<rect x="327.5" y="688.3" width="17.5" height="8.3" rx="0.8" fill="#3a3a3a"/><path d="M333.3,689.6 v5.6 M330.5,692.4 h5.6" stroke="#aaa" stroke-width="1"/><path d="M340.6,691.6 h2.4 l-1.2,1.8z" fill="#ddd"/>
<rect x="351.4" y="688.3" width="7.8" height="8.3" rx="0.8" fill="#3a3a3a"/><path d="M352.6,690.4 h5.4 M352.6,692.4 h5.4 M352.6,694.4 h5.4" stroke="#bbb" stroke-width="0.9"/>
<rect x="68.8" y="702.2" width="275.7" height="180" fill="#000"/>
<path d="M96.4,702.2 V882.2 M123.9,702.2 V882.2 M151.5,702.2 V882.2 M179.1,702.2 V882.2 M234.2,702.2 V882.2 M261.8,702.2 V882.2 M289.4,702.2 V882.2 M316.9,702.2 V882.2 M68.8,724.7 H344.5 M68.8,747.2 H344.5 M68.8,769.7 H344.5 M68.8,814.7 H344.5 M68.8,837.2 H344.5 M68.8,859.7 H344.5 " stroke="#444" stroke-width="0.7" stroke-dasharray="0.7 1.3" fill="none"/>
<path d="M206.6,702.2 V882.2 M68.8,792.2 H344.5" stroke="#7a7a7a" stroke-width="0.9" stroke-dasharray="0.9 1.9" fill="none"/>
<clipPath id="cg0"><rect x="68.8" y="702.2" width="275.7" height="180"/></clipPath>
<g clip-path="url(#cg0)">
<path d="M66.8,779 71.5,779.3 76.3,779.5 81,779.7 85.8,779.9 90.5,779.9 95.2,779.9 100,779.9 104.7,779.7 109.5,779.6 114.2,779.5 118.9,779.5 123.7,779.5 128.4,779.6 133.2,779.7 137.9,779.8 142.7,780 147.4,780.1 152.1,780.2 156.9,780.1 161.6,780 166.4,779.8 171.1,779.6 175.8,779.4 180.6,779.1 185.3,778.9 190.1,778.8 194.8,778.7 199.5,778.7 204.3,778.8 209,778.9 213.8,779 218.5,779 223.2,779 228,779 232.7,778.9 237.5,778.7 242.2,778.5 246.9,778.4 251.7,778.2 256.4,778.1 261.2,778.1 265.9,778.2 270.6,778.4 275.4,778.6 280.1,778.8 284.9,779 289.6,779.2 294.4,779.3 299.1,779.4 303.8,779.4 308.6,779.3 313.3,779.2 318.1,779.2 322.8,779.1 327.5,779.1 332.3,779.2 337,779.4 341.8,779.6 346.5,779.8 L346.5,812.6 341.8,812.6 337,812.6 332.3,812.5 327.5,812.4 322.8,812.2 318.1,812 313.3,811.8 308.6,811.5 303.8,811.3 299.1,811.2 294.4,811 289.6,811 284.9,811 280.1,811 275.4,811 270.6,811.1 265.9,811.2 261.2,811.2 256.4,811.2 251.7,811.2 246.9,811.1 242.2,811 237.5,810.8 232.7,810.7 228,810.5 223.2,810.4 218.5,810.4 213.8,810.4 209,810.4 204.3,810.6 199.5,810.7 194.8,810.9 190.1,811.1 185.3,811.4 180.6,811.5 175.8,811.7 171.1,811.8 166.4,811.9 161.6,811.9 156.9,811.8 152.1,811.8 147.4,811.7 142.7,811.7 137.9,811.7 133.2,811.7 128.4,811.8 123.7,811.9 118.9,812.1 114.2,812.3 109.5,812.5 104.7,812.6 100,812.8 95.2,812.9 90.5,812.9 85.8,812.9 81,812.8 76.3,812.6 71.5,812.5 66.8,812.3z" fill="url(#gband)" filter="url(#b15)"/>
<path d="M66.8,779 71.5,779.3 76.3,779.5 81,779.7 85.8,779.9 90.5,779.9 95.2,779.9 100,779.9 104.7,779.7 109.5,779.6 114.2,779.5 118.9,779.5 123.7,779.5 128.4,779.6 133.2,779.7 137.9,779.8 142.7,780 147.4,780.1 152.1,780.2 156.9,780.1 161.6,780 166.4,779.8 171.1,779.6 175.8,779.4 180.6,779.1 185.3,778.9 190.1,778.8 194.8,778.7 199.5,778.7 204.3,778.8 209,778.9 213.8,779 218.5,779 223.2,779 228,779 232.7,778.9 237.5,778.7 242.2,778.5 246.9,778.4 251.7,778.2 256.4,778.1 261.2,778.1 265.9,778.2 270.6,778.4 275.4,778.6 280.1,778.8 284.9,779 289.6,779.2 294.4,779.3 299.1,779.4 303.8,779.4 308.6,779.3 313.3,779.2 318.1,779.2 322.8,779.1 327.5,779.1 332.3,779.2 337,779.4 341.8,779.6 346.5,779.8 L346.5,812.6 341.8,812.6 337,812.6 332.3,812.5 327.5,812.4 322.8,812.2 318.1,812 313.3,811.8 308.6,811.5 303.8,811.3 299.1,811.2 294.4,811 289.6,811 284.9,811 280.1,811 275.4,811 270.6,811.1 265.9,811.2 261.2,811.2 256.4,811.2 251.7,811.2 246.9,811.1 242.2,811 237.5,810.8 232.7,810.7 228,810.5 223.2,810.4 218.5,810.4 213.8,810.4 209,810.4 204.3,810.6 199.5,810.7 194.8,810.9 190.1,811.1 185.3,811.4 180.6,811.5 175.8,811.7 171.1,811.8 166.4,811.9 161.6,811.9 156.9,811.8 152.1,811.8 147.4,811.7 142.7,811.7 137.9,811.7 133.2,811.7 128.4,811.8 123.7,811.9 118.9,812.1 114.2,812.3 109.5,812.5 104.7,812.6 100,812.8 95.2,812.9 90.5,812.9 85.8,812.9 81,812.8 76.3,812.6 71.5,812.5 66.8,812.3z" fill="#4a1670" opacity="0.16" filter="url(#grain)"/>
</g>
<rect x="68.8" y="702.2" width="275.7" height="180" fill="none" stroke="#8a8a8a" stroke-width="0.8"/>
<path d="M69.4,702.8 h3 l-3,3z" fill="#999"/>
<text class="ui" x="73.4" y="706.6" font-size="3" fill="#777">10.00500 ns</text>
<rect x="301.7" y="707.6" width="40.2" height="12.9" fill="#000" stroke="#9a9a9a" stroke-width="0.6"/>
<text class="ui" x="303.2" y="712.2" font-size="3.3" fill="#ddd">Signals</text>
<path d="M335.6,711.3 l1.6,-1.6 l1.6,1.6" stroke="#777" stroke-width="0.6" fill="none"/>
<text class="ui" x="303.2" y="718.6" font-size="3.3" fill="#ddd">F1: 5m[2A]</text>
<line x1="326.2" y1="717.5" x2="340.4" y2="717.5" stroke="#9a4fd0" stroke-width="1.7"/>
<path d="M346.4,858.8 l3.6,-2.4 v4.8z" fill="#a020f0"/><text class="ui" x="350.6" y="860.4" font-size="3.8" fill="#a020f0">F1</text>
<rect x="68.8" y="873" width="40.5" height="9.4" fill="#2b2b2b" stroke="#4a4a4a" stroke-width="0.5"/>
<text class="ui" x="76.6" y="879.8" font-size="4.6" font-weight="bold" fill="#fff">Results</text>
<circle cx="104.1" cy="877.8" r="2.7" fill="#222" stroke="#999" stroke-width="0.5"/><path d="M103.3,876.4 l2.1,1.4 l-2.1,1.4z" fill="#ccc"/>
<rect x="18.3" y="884.5" width="344.6" height="26.5" fill="#1b1b1b"/>
<rect x="63.7" y="882.6" width="299.2" height="2.4" fill="#232323"/>
<rect x="68.8" y="882.4" width="128" height="28.6" fill="#101010" stroke="#3c3c3c" stroke-width="0.5"/>
<rect x="71.9" y="885" width="116.5" height="7.4" fill="#333" stroke="#5a5a5a" stroke-width="0.5"/>
<path d="M143.3,885 v7.4 M176.3,885 v7.4" stroke="#777" stroke-width="0.5"/>
<text class="ui" x="73.4" y="890.8" font-size="4.4" font-weight="bold" fill="#f4f4f4">Measurement</text>
<text class="ui" x="174.8" y="890.8" font-size="4.4" font-weight="bold" text-anchor="end" fill="#f4f4f4">Current</text>
<rect x="71.9" y="893.4" width="116.5" height="7.4" fill="#141c24" stroke="#2f78a8" stroke-width="0.6"/>
<rect x="71.9" y="901.8" width="116.5" height="7.6" fill="#0a0a0a"/>
<text class="ui" x="73.4" y="899.1" font-size="4.3" fill="#f0f0f0">Ext. Ratio</text>
<rect x="135.8" y="895.1" width="6.5" height="4.8" fill="#7a22c8"/>
<text class="ui" x="139" y="898.7" font-size="3.3" font-weight="bold" text-anchor="middle" fill="#fff">F1</text>
<text class="ui" x="174.8" y="899.1" font-size="3.9" text-anchor="end" fill="#777">Eye?</text>
<text class="ui" x="73.4" y="907.4" font-size="4.3" fill="#f0f0f0">SNR</text>
<rect x="135.8" y="903.4" width="6.5" height="4.8" fill="#7a22c8"/>
<text class="ui" x="139" y="907" font-size="3.3" font-weight="bold" text-anchor="middle" fill="#fff">F1</text>
<text class="ui" x="174.8" y="907.4" font-size="3.9" text-anchor="end" fill="#777">Eye?</text>
<rect x="135.8" y="909.8" width="6.5" height="1.2" fill="#28c040"/>
<rect x="189.6" y="885" width="5.8" height="26" fill="#2a2a2a" stroke="#555" stroke-width="0.4"/><rect x="190.4" y="889.5" width="4.2" height="18" fill="#4c4c4c"/><path d="M191.3,888.2 l1.2,-1.8 l1.2,1.8z" fill="#ccc"/>
<rect x="19.5" y="886.5" width="48" height="24" fill="#1b1b1b" stroke="#333" stroke-width="0.5"/>
<rect x="20.3" y="889" width="9" height="8.5" fill="#262626"/><rect x="20.3" y="898.8" width="9" height="8.5" fill="#262626"/>
<path d="M25.6,891.4 l-2,1.8 l2,1.8" stroke="#444" stroke-width="0.7" fill="none"/>
<rect x="31.9" y="889.7" width="6.6" height="7.6" rx="1" fill="#d0d0d0"/><text class="ui" x="35.2" y="895.4" font-size="4" font-weight="bold" text-anchor="middle" fill="#222">2A</text>
<text class="ui" x="41" y="893" font-size="3.4" fill="#e0e0e0">24.6 µW/</text>
<text class="ui" x="41" y="897.2" font-size="3.4" fill="#e0e0e0">86.95 µW</text>
<rect x="201.9" y="889.7" width="30.9" height="21.3" rx="1.2" fill="#161616" stroke="#5a5a5a" stroke-width="0.6"/>
<rect x="202.2" y="890" width="30.3" height="5.2" rx="1" fill="#4c4c4c"/>
<text class="ui" x="217.3" y="894.2" font-size="4.2" font-weight="bold" font-style="italic" text-anchor="middle" fill="#fff">Timebase</text>
<text class="ui" x="217.3" y="899.6" font-size="3.3" text-anchor="middle" fill="#dcdcdc">4.46 ps/</text>
<text class="ui" x="217.3" y="904" font-size="3.3" text-anchor="middle" fill="#dcdcdc">Pos: 10.00500 ns</text>
<rect x="234.7" y="889.7" width="36.8" height="21.3" rx="1.2" fill="#161616" stroke="#5a5a5a" stroke-width="0.6"/>
<rect x="235" y="890" width="36.2" height="5.2" rx="1" fill="#4c4c4c"/>
<text class="ui" x="253.1" y="894.2" font-size="4.2" font-weight="bold" font-style="italic" text-anchor="middle" fill="#fff">Acquisition</text>
<text class="ui" x="253.1" y="899.6" font-size="3.3" text-anchor="middle" fill="#dcdcdc">Full Pattern: On</text>
<text class="ui" x="253.1" y="904" font-size="3.3" text-anchor="middle" fill="#dcdcdc">16.99823438 pts/UI</text>
<rect x="273.3" y="889.7" width="33.0" height="21.3" rx="1.2" fill="#161616" stroke="#5a5a5a" stroke-width="0.6"/>
<rect x="273.6" y="890" width="32.4" height="5.2" rx="1" fill="#4c4c4c"/>
<text class="ui" x="289.8" y="894.2" font-size="4.2" font-weight="bold" font-style="italic" text-anchor="middle" fill="#fff">Frame Trigger</text>
<text class="ui" x="289.8" y="899.6" font-size="3.3" text-anchor="middle" fill="#dcdcdc">Src: Front Panel</text>
<text class="ui" x="289.8" y="904" font-size="3.3" text-anchor="middle" fill="#dcdcdc">56.000000 GBd</text>
<text class="ui" x="289.8" y="908.4" font-size="3.3" text-anchor="middle" fill="#dcdcdc">8191 UI</text>
<rect x="307.6" y="889.7" width="15.5" height="21.3" rx="1.2" fill="#181818" stroke="#4a4a4a" stroke-width="0.6"/>
<rect x="308.4" y="890.3" width="13.9" height="3.4" fill="#0e3a14"/><rect x="308.4" y="906.9" width="13.9" height="3.4" fill="#0e3a14"/>
<text class="ui" x="315.3" y="893" font-size="2.8" text-anchor="middle" fill="#2fb84a">Pattern</text><text class="ui" x="315.3" y="909.6" font-size="2.8" text-anchor="middle" fill="#2fb84a">Lock</text>
<rect x="312.4" y="899.6" width="6" height="5" rx="0.6" fill="#d8f0d8" stroke="#36c050" stroke-width="0.7"/><path d="M313.6,899.6 v-1.6 a1.8,1.8 0 0 1 3.6,0 v0.4" stroke="#36c050" stroke-width="0.9" fill="none"/>
<circle cx="334.0" cy="900.6" r="8.6" fill="url(#gcirc)" stroke="#6e6e6e" stroke-width="0.9"/>
<path d="M332.1,895.6 l1.9,-2.2 l1.9,2.2z" fill="#e8e8e8"/>
<text class="ui" x="334.0" y="903" font-size="4.4" font-weight="bold" font-style="italic" text-anchor="middle" fill="#fff">Math</text>
<circle cx="353.4" cy="900.6" r="8.6" fill="url(#gcirc)" stroke="#6e6e6e" stroke-width="0.9"/>
<path d="M351.5,895.6 l1.9,-2.2 l1.9,2.2z" fill="#e8e8e8"/>
<text class="ui" x="353.4" y="903" font-size="3.9" font-weight="bold" font-style="italic" text-anchor="middle" fill="#fff">Signals</text>
</g>
<g transform="translate(360,0)" filter="url(#bt)">
<rect x="17.2" y="653.8" width="346.6" height="258" fill="#5c5c5c"/>
<rect x="18.3" y="654.8" width="344.6" height="256.2" fill="#1c1c1c"/>
<rect x="18.3" y="654.8" width="344.6" height="16.2" fill="#262626"/>
<rect x="21.7" y="658" width="35.5" height="16" rx="2" fill="url(#gbtn)" stroke="#0c2a90" stroke-width="0.5"/>
<text class="ui" x="39.5" y="667.6" font-size="5.6" font-weight="bold" text-anchor="middle" fill="#fff">Eye/Mask</text>
<path d="M60.6,664.2 l1.3,-1.9 l1.4,3.3 l1.7,-5.6 l1.7,5.6 l1.3,-3.2 l1.2,1.8" stroke="#e8202a" stroke-width="1.15" fill="none" stroke-linejoin="round"/>
<text class="ui" x="71" y="665.2" font-size="4.9" font-weight="bold" fill="#fff" textLength="22.8" lengthAdjust="spacingAndGlyphs">KEYSIGHT</text>
<text class="ui" x="98.9" y="665.3" font-size="5.6" font-weight="bold" fill="#f2f2f2" textLength="8.6" lengthAdjust="spacingAndGlyphs">File</text>
<text class="ui" x="113.9" y="665.3" font-size="5.6" font-weight="bold" fill="#f2f2f2" textLength="14.3" lengthAdjust="spacingAndGlyphs">Setup</text>
<text class="ui" x="135.5" y="665.3" font-size="5.6" font-weight="bold" fill="#f2f2f2" textLength="20.3" lengthAdjust="spacingAndGlyphs">Measure</text>
<text class="ui" x="163.4" y="665.3" font-size="5.6" font-weight="bold" fill="#f2f2f2" textLength="13" lengthAdjust="spacingAndGlyphs">Tools</text>
<text class="ui" x="183.2" y="665.3" font-size="5.6" font-weight="bold" fill="#f2f2f2" textLength="11.8" lengthAdjust="spacingAndGlyphs">Apps</text>
<text class="ui" x="202.4" y="665.3" font-size="5.6" font-weight="bold" fill="#f2f2f2" textLength="10.6" lengthAdjust="spacingAndGlyphs">Help</text>
<rect x="223.5" y="660" width="9" height="6.4" rx="1" fill="#6a6a6a"/><circle cx="228" cy="663.3" r="2" fill="#333" stroke="#999" stroke-width="0.5"/><rect x="226" y="658.9" width="3.6" height="1.4" fill="#6a6a6a"/>
<rect x="244.4" y="657.9" width="12.9" height="10.3" rx="1.2" fill="#3c3c3c" stroke="#5a5a5a" stroke-width="0.6"/>
<text class="ui" x="250.8" y="662.2" font-size="3.4" font-weight="bold" text-anchor="middle" fill="#ddd">Auto</text>
<text class="ui" x="250.8" y="666" font-size="3.4" font-weight="bold" text-anchor="middle" fill="#ddd">Scale</text>
<rect x="263.8" y="657.9" width="14.2" height="10.3" rx="1.2" fill="#3c3c3c" stroke="#5a5a5a" stroke-width="0.6"/>
<text class="ui" x="270.9" y="661.9" font-size="3.2" font-weight="bold" text-anchor="middle" fill="#ddd">Run</text>
<rect x="266.9" y="662.8" width="8" height="3.6" rx="0.8" fill="#e01818"/>
<rect x="281.3" y="657.9" width="13.4" height="10.3" rx="1.2" fill="#3c3c3c" stroke="#5a5a5a" stroke-width="0.6"/>
<text class="ui" x="288" y="664.4" font-size="3.6" font-weight="bold" text-anchor="middle" fill="#ddd">Single</text>
<rect x="299.1" y="657.9" width="12.4" height="10.3" rx="1.2" fill="#3c3c3c" stroke="#5a5a5a" stroke-width="0.6"/>
<text class="ui" x="305.3" y="664.4" font-size="3.6" font-weight="bold" text-anchor="middle" fill="#ddd">Clear</text>
<rect x="324.9" y="659.2" width="11.1" height="7.7" rx="0.8" fill="#4a4a4a" stroke="#666" stroke-width="0.5"/><rect x="328" y="664.3" width="5" height="1" fill="#bbb"/>
<rect x="337.3" y="659.2" width="10.3" height="7.7" rx="0.8" fill="#4a4a4a" stroke="#666" stroke-width="0.5"/><rect x="340" y="660.8" width="5" height="4.4" fill="none" stroke="#999" stroke-width="0.6"/>
<rect x="348.9" y="659.2" width="11.6" height="7.7" rx="0.8" fill="#b81e1c" stroke="#d44" stroke-width="0.5"/><path d="M352.7,661.1 l4,4 M356.7,661.1 l-4,4" stroke="#fff" stroke-width="1.2"/>
<rect x="63.7" y="671" width="49.3" height="4.2" fill="#454545"/>
<text class="ui" x="65" y="674.2" font-size="3" fill="#aaa">Pattern Acquisition  100.0%</text>
<rect x="113" y="671" width="249.9" height="4.2" fill="#234526"/>
<line x1="114" y1="673.1" x2="362.5" y2="673.1" stroke="#6da268" stroke-width="2.6" stroke-dasharray="1.1 1"/>
<rect x="18.3" y="674.8" width="35.6" height="210" fill="#1e1e1e"/>
<rect x="23.2" y="681.1" width="25.8" height="15.4" fill="#2a2a30" stroke="#35353c" stroke-width="0.5"/>
<path d="M33.1,684.1 H46.1 M33.1,693.5 H46.1 M35.6,684.1 L45.6,693.5 M35.6,693.5 L45.6,684.1 " stroke="#1f4aa8" stroke-width="2.2" opacity="0.55" fill="none"/><path d="M33.1,684.1 H46.1 M33.1,693.5 H46.1 M35.6,684.1 L45.6,693.5 M35.6,693.5 L45.6,684.1 " stroke="#2d66d4" stroke-width="1" fill="none"/>
<text class="ui" x="36" y="701.4" font-size="3.5" text-anchor="middle" fill="#cfcfcf">Extinction Ratio</text>
<rect x="23.2" y="712" width="25.8" height="15.4" fill="#2a2a30" stroke="#35353c" stroke-width="0.5"/>
<path d="M26.1,715 H46.1 M26.1,724.4 H46.1 M26.6,715 L33.9,724.4 M26.6,724.4 L33.9,715 M38.3,715 L45.6,724.4 M38.3,724.4 L45.6,715 " stroke="#1f4aa8" stroke-width="2.2" opacity="0.55" fill="none"/><path d="M26.1,715 H46.1 M26.1,724.4 H46.1 M26.6,715 L33.9,724.4 M26.6,724.4 L33.9,715 M38.3,715 L45.6,724.4 M38.3,724.4 L45.6,715 " stroke="#2d66d4" stroke-width="1" fill="none"/>
<text class="ui" x="36" y="732.3" font-size="3.5" text-anchor="middle" fill="#cfcfcf">TDEC</text>
<rect x="23.2" y="743.1" width="25.8" height="15.4" fill="#2a2a30" stroke="#35353c" stroke-width="0.5"/>
<path d="M26.1,746.1 H46.1 M26.1,755.5 H46.1 M30.6,746.1 L41.6,755.5 M30.6,755.5 L41.6,746.1 " stroke="#1f4aa8" stroke-width="2.2" opacity="0.55" fill="none"/><path d="M26.1,746.1 H46.1 M26.1,755.5 H46.1 M30.6,746.1 L41.6,755.5 M30.6,755.5 L41.6,746.1 " stroke="#2d66d4" stroke-width="1" fill="none"/>
<text class="ui" x="36" y="763.4" font-size="3.5" text-anchor="middle" fill="#cfcfcf">Jitter</text>
<rect x="23.2" y="774.3" width="25.8" height="15.4" fill="#2a2a30" stroke="#35353c" stroke-width="0.5"/>
<path d="M26.1,777.3 H46.1 M26.1,786.7 H46.1 M26.6,777.3 L33.9,786.7 M26.6,786.7 L33.9,777.3 M38.3,777.3 L45.6,786.7 M38.3,786.7 L45.6,777.3 " stroke="#1f4aa8" stroke-width="2.2" opacity="0.55" fill="none"/><path d="M26.1,777.3 H46.1 M26.1,786.7 H46.1 M26.6,777.3 L33.9,786.7 M26.6,786.7 L33.9,777.3 M38.3,777.3 L45.6,786.7 M38.3,786.7 L45.6,777.3 " stroke="#2d66d4" stroke-width="1" fill="none"/>
<text class="ui" x="36" y="794.6" font-size="3.5" text-anchor="middle" fill="#cfcfcf">OMA at</text>
<text class="ui" x="36" y="799.2" font-size="3.5" text-anchor="middle" fill="#cfcfcf">Crossing</text>
<rect x="23.2" y="806" width="25.8" height="15.4" fill="#2a2a30" stroke="#35353c" stroke-width="0.5"/>
<path d="M26.1,809 H46.1 M26.1,818.4 H46.1 M26.6,809 L33.9,818.4 M26.6,818.4 L33.9,809 M38.3,809 L45.6,818.4 M38.3,818.4 L45.6,809 " stroke="#1f4aa8" stroke-width="2.2" opacity="0.55" fill="none"/><path d="M26.1,809 H46.1 M26.1,818.4 H46.1 M26.6,809 L33.9,818.4 M26.6,818.4 L33.9,809 M38.3,809 L45.6,818.4 M38.3,818.4 L45.6,809 " stroke="#2d66d4" stroke-width="1" fill="none"/>
<text class="ui" x="36" y="826.3" font-size="3.5" text-anchor="middle" fill="#cfcfcf">VECP</text>
<rect x="23.2" y="836.9" width="25.8" height="15.4" fill="#2a2a30" stroke="#35353c" stroke-width="0.5"/>
<path d="M26.1,839.9 H46.1 M26.1,849.3 H46.1 M26.6,839.9 L33.9,849.3 M26.6,849.3 L33.9,839.9 M38.3,839.9 L45.6,849.3 M38.3,849.3 L45.6,839.9 " stroke="#1f4aa8" stroke-width="2.2" opacity="0.55" fill="none"/><path d="M26.1,839.9 H46.1 M26.1,849.3 H46.1 M26.6,839.9 L33.9,849.3 M26.6,849.3 L33.9,839.9 M38.3,839.9 L45.6,849.3 M38.3,849.3 L45.6,839.9 " stroke="#2d66d4" stroke-width="1" fill="none"/>
<text class="ui" x="36" y="857.2" font-size="3.5" text-anchor="middle" fill="#cfcfcf">Average Power</text>
<path d="M26.4,683.8 v9.6 M25.4,692.6 h8" stroke="#e6e6e6" stroke-width="0.8" fill="none"/><circle cx="26.4" cy="684.2" r="0.9" fill="#fff"/><circle cx="29.3" cy="692.4" r="0.8" fill="#fff"/>
<text class="ui" x="39" y="695.6" font-size="3.2" fill="#aab">1/0</text>
<path d="M34.3,715.4 v8.6 M36.1,715.4 v8.6 M37.9,715.4 v8.6" stroke="#8a8f9c" stroke-width="0.7"/>
<circle cx="44.6" cy="716.2" r="2.7" fill="#fff"/><path d="M43.4,715.2 l2.4,2.2" stroke="#2d66d4" stroke-width="1.1"/>
<rect x="29.2" y="777.6" width="1.1" height="2.2" fill="#e8e8e8"/><rect x="29.2" y="784.2" width="1.1" height="2.2" fill="#e8e8e8"/>
<circle cx="36.1" cy="809" r="0.8" fill="#e8e8e8"/><circle cx="36.1" cy="818.4" r="0.8" fill="#e8e8e8"/>
<path d="M26,845.6 h20" stroke="#cfd4e0" stroke-width="0.6" stroke-dasharray="0.8 0.8"/><path d="M26.6,841 v8.4" stroke="#e6e6e6" stroke-width="0.7"/>
<rect x="24.2" y="874.3" width="24" height="10.3" rx="1" fill="#2e2e2e" stroke="#4a4a4a" stroke-width="0.6"/>
<text class="ui" x="36.2" y="881" font-size="3.9" font-weight="bold" text-anchor="middle" fill="#eee">More (1/8)</text>
<rect x="54.3" y="674.8" width="8.8" height="210" fill="#111"/>
<rect x="54.3" y="675.5" width="8.8" height="28" fill="#1e1e1e"/>
<rect x="54.6" y="705" width="8.2" height="33" fill="#262626" stroke="#3a3a3a" stroke-width="0.5"/>
<rect x="54.6" y="739.5" width="8.2" height="32" fill="#262626" stroke="#3a3a3a" stroke-width="0.5"/>
<text class="ui" transform="translate(56.7,678) rotate(90)" font-size="4" font-weight="bold" fill="#fff">Eye Meas</text>
<text class="ui" transform="translate(56.9,710.5) rotate(90)" font-size="3.8" fill="#9a9a9a">Mask Test</text>
<text class="ui" transform="translate(56.9,751) rotate(90)" font-size="3.8" fill="#9a9a9a">PAM</text>
<circle cx="58.6" cy="779" r="3.6" fill="#1a1a1a" stroke="#666" stroke-width="0.6"/><path d="M59.6,777 l-2,2 l2,2" stroke="#888" stroke-width="0.7" fill="none"/>
<rect x="54.6" y="786" width="8.2" height="96" fill="#0a0a0a" stroke="#2a2a2a" stroke-width="0.5"/>
<rect x="63.7" y="675" width="299.2" height="209.5" fill="#000"/>
<rect x="63.7" y="675" width="299.2" height="11.2" fill="#0c0c0c"/>
<rect x="64.9" y="676.5" width="39.2" height="9.7" fill="#2b2b2b" stroke="#484848" stroke-width="0.5"/>
<text class="ui" x="68.2" y="683.4" font-size="4.8" font-weight="bold" fill="#fff">Waveform</text>
<circle cx="99.6" cy="681.4" r="2.6" fill="#222" stroke="#888" stroke-width="0.5"/><path d="M98.9,680.1 l1.9,1.3 l-1.9,1.3z" fill="#bbb"/>
<line x1="63.7" y1="686.4" x2="362.9" y2="686.4" stroke="#4a4a4a" stroke-width="0.7"/>
<rect x="65.4" y="687.6" width="8.5" height="9" rx="0.8" fill="#41789c" stroke="#6aa3c6" stroke-width="0.5"/>
<rect x="76.3" y="687.6" width="8.5" height="9" rx="0.8" fill="#505050" stroke="#6a6a6a" stroke-width="0.5"/>
<rect x="327.5" y="688.3" width="17.5" height="8.3" rx="0.8" fill="#3a3a3a"/><path d="M333.3,689.6 v5.6 M330.5,692.4 h5.6" stroke="#aaa" stroke-width="1"/><path d="M340.6,691.6 h2.4 l-1.2,1.8z" fill="#ddd"/>
<rect x="351.4" y="688.3" width="7.8" height="8.3" rx="0.8" fill="#3a3a3a"/><path d="M352.6,690.4 h5.4 M352.6,692.4 h5.4 M352.6,694.4 h5.4" stroke="#bbb" stroke-width="0.9"/>
<rect x="68.8" y="702.2" width="275.7" height="180" fill="#000"/>
<path d="M96.4,702.2 V882.2 M123.9,702.2 V882.2 M151.5,702.2 V882.2 M179.1,702.2 V882.2 M234.2,702.2 V882.2 M261.8,702.2 V882.2 M289.4,702.2 V882.2 M316.9,702.2 V882.2 M68.8,724.7 H344.5 M68.8,747.2 H344.5 M68.8,769.7 H344.5 M68.8,814.7 H344.5 M68.8,837.2 H344.5 M68.8,859.7 H344.5 " stroke="#444" stroke-width="0.7" stroke-dasharray="0.7 1.3" fill="none"/>
<path d="M206.6,702.2 V882.2 M68.8,792.2 H344.5" stroke="#7a7a7a" stroke-width="0.9" stroke-dasharray="0.9 1.9" fill="none"/>
<clipPath id="cg1"><rect x="68.8" y="702.2" width="275.7" height="180"/></clipPath>
<g clip-path="url(#cg1)" fill="none" stroke-linecap="round">
<path d="M62.8,805.6 64.8,807.2 66.8,808.7 68.8,810.2 70.8,811.6 72.8,812.9 74.8,814.2 76.8,815.3 78.8,816.4 80.8,817.4 82.8,818.4 84.8,819.2 86.8,819.9 88.8,820.5 90.8,821.1 92.8,821.5 94.8,821.8 96.8,822.1 98.8,822.2 100.8,822.2 102.8,822.1 104.8,821.9 106.8,821.6 108.8,821.2 110.8,820.7 112.8,820.1 114.8,819.4 116.8,818.6 118.8,817.7 120.8,816.7 122.8,815.7 124.8,814.5 126.8,813.3 128.8,812 130.8,810.6 132.8,809.2 134.8,807.7 136.8,806.1 138.8,804.5 140.8,802.8 142.8,801.1 144.8,799.4 146.8,797.6 148.8,795.9 150.8,794.1 152.8,792.2 154.8,790.4 156.8,788.6 158.8,786.8 160.8,785 162.8,783.2 164.8,781.4 166.8,779.7 168.8,778 170.8,776.4 172.8,774.8 174.8,773.2 176.8,771.7 178.8,770.3 180.8,768.9 182.8,767.7 184.8,766.4 186.8,765.3 188.8,764.3 190.8,763.3 192.8,762.4 194.8,761.6 196.8,761 198.8,760.4 200.8,759.9 202.8,759.5 204.8,759.2 206.8,759.1 208.8,759 210.8,759 212.8,759.2 214.8,759.4 216.8,759.8 218.8,760.2 220.8,760.8 222.8,761.4 224.8,762.2 226.8,763 228.8,764 230.8,765 232.8,766.1 234.8,767.3 236.8,768.5 238.8,769.9 240.8,771.3 242.8,772.8 244.8,774.3 246.8,775.9 248.8,777.5 250.8,779.2 252.8,780.9 254.8,782.7 256.8,784.4 258.8,786.2 260.8,788.1 262.8,789.9 264.8,791.7 266.8,793.5 268.8,795.3 270.8,797.1 272.8,798.9 274.8,800.6 276.8,802.3 278.8,804 280.8,805.6 282.8,807.2 284.8,808.7 286.8,810.2 288.8,811.6 290.8,812.9 292.8,814.2 294.8,815.3 296.8,816.4 298.8,817.4 300.8,818.4 302.8,819.2 304.8,819.9 306.8,820.5 308.8,821.1 310.8,821.5 312.8,821.8 314.8,822.1 316.8,822.2 318.8,822.2 320.8,822.1 322.8,821.9 324.8,821.6 326.8,821.2 328.8,820.7 330.8,820.1 332.8,819.4 334.8,818.6 336.8,817.7 338.8,816.7 340.8,815.7 342.8,814.5 344.8,813.3 346.8,812 348.8,810.6 M62.8,775.6 64.8,774 66.8,772.5 68.8,771 70.8,769.6 72.8,768.3 74.8,767 76.8,765.9 78.8,764.8 80.8,763.8 82.8,762.8 84.8,762 86.8,761.3 88.8,760.7 90.8,760.1 92.8,759.7 94.8,759.4 96.8,759.1 98.8,759 100.8,759 102.8,759.1 104.8,759.3 106.8,759.6 108.8,760 110.8,760.5 112.8,761.1 114.8,761.8 116.8,762.6 118.8,763.5 120.8,764.5 122.8,765.5 124.8,766.7 126.8,767.9 128.8,769.2 130.8,770.6 132.8,772 134.8,773.5 136.8,775.1 138.8,776.7 140.8,778.4 142.8,780.1 144.8,781.8 146.8,783.6 148.8,785.3 150.8,787.1 152.8,789 154.8,790.8 156.8,792.6 158.8,794.4 160.8,796.2 162.8,798 164.8,799.8 166.8,801.5 168.8,803.2 170.8,804.8 172.8,806.4 174.8,808 176.8,809.5 178.8,810.9 180.8,812.3 182.8,813.5 184.8,814.8 186.8,815.9 188.8,816.9 190.8,817.9 192.8,818.8 194.8,819.6 196.8,820.2 198.8,820.8 200.8,821.3 202.8,821.7 204.8,822 206.8,822.1 208.8,822.2 210.8,822.2 212.8,822 214.8,821.8 216.8,821.4 218.8,821 220.8,820.4 222.8,819.8 224.8,819 226.8,818.2 228.8,817.2 230.8,816.2 232.8,815.1 234.8,813.9 236.8,812.7 238.8,811.3 240.8,809.9 242.8,808.4 244.8,806.9 246.8,805.3 248.8,803.7 250.8,802 252.8,800.3 254.8,798.5 256.8,796.8 258.8,795 260.8,793.1 262.8,791.3 264.8,789.5 266.8,787.7 268.8,785.9 270.8,784.1 272.8,782.3 274.8,780.6 276.8,778.9 278.8,777.2 280.8,775.6 282.8,774 284.8,772.5 286.8,771 288.8,769.6 290.8,768.3 292.8,767 294.8,765.9 296.8,764.8 298.8,763.8 300.8,762.8 302.8,762 304.8,761.3 306.8,760.7 308.8,760.1 310.8,759.7 312.8,759.4 314.8,759.1 316.8,759 318.8,759 320.8,759.1 322.8,759.3 324.8,759.6 326.8,760 328.8,760.5 330.8,761.1 332.8,761.8 334.8,762.6 336.8,763.5 338.8,764.5 340.8,765.5 342.8,766.7 344.8,767.9 346.8,769.2 348.8,770.6 M62.8,801.7 64.8,802.9 66.8,804 68.8,805.1 70.8,806.1 72.8,807.1 74.8,808 76.8,808.9 78.8,809.7 80.8,810.5 82.8,811.1 84.8,811.7 86.8,812.3 88.8,812.8 90.8,813.1 92.8,813.5 94.8,813.7 96.8,813.9 98.8,814 100.8,814 102.8,813.9 104.8,813.8 106.8,813.5 108.8,813.3 110.8,812.9 112.8,812.4 114.8,811.9 116.8,811.3 118.8,810.7 120.8,809.9 122.8,809.2 124.8,808.3 126.8,807.4 128.8,806.4 130.8,805.4 132.8,804.3 134.8,803.2 136.8,802.1 138.8,800.9 140.8,799.7 142.8,798.4 144.8,797.1 146.8,795.8 148.8,794.5 150.8,793.2 152.8,791.8 154.8,790.5 156.8,789.1 158.8,787.8 160.8,786.4 162.8,785.1 164.8,783.8 166.8,782.5 168.8,781.3 170.8,780.1 172.8,778.9 174.8,777.7 176.8,776.6 178.8,775.6 180.8,774.6 182.8,773.6 184.8,772.7 186.8,771.9 188.8,771.1 190.8,770.4 192.8,769.7 194.8,769.2 196.8,768.7 198.8,768.2 200.8,767.9 202.8,767.6 204.8,767.4 206.8,767.3 208.8,767.2 210.8,767.2 212.8,767.3 214.8,767.5 216.8,767.8 218.8,768.1 220.8,768.5 222.8,769 224.8,769.6 226.8,770.2 228.8,770.9 230.8,771.6 232.8,772.5 234.8,773.3 236.8,774.3 238.8,775.3 240.8,776.3 242.8,777.4 244.8,778.5 246.8,779.7 248.8,780.9 250.8,782.2 252.8,783.4 254.8,784.7 256.8,786 258.8,787.4 260.8,788.7 262.8,790.1 264.8,791.4 266.8,792.8 268.8,794.1 270.8,795.4 272.8,796.7 274.8,798 276.8,799.3 278.8,800.5 280.8,801.7 282.8,802.9 284.8,804 286.8,805.1 288.8,806.1 290.8,807.1 292.8,808 294.8,808.9 296.8,809.7 298.8,810.5 300.8,811.1 302.8,811.7 304.8,812.3 306.8,812.8 308.8,813.1 310.8,813.5 312.8,813.7 314.8,813.9 316.8,814 318.8,814 320.8,813.9 322.8,813.8 324.8,813.5 326.8,813.3 328.8,812.9 330.8,812.4 332.8,811.9 334.8,811.3 336.8,810.7 338.8,809.9 340.8,809.2 342.8,808.3 344.8,807.4 346.8,806.4 348.8,805.4 M62.8,779.5 64.8,778.3 66.8,777.2 68.8,776.1 70.8,775.1 72.8,774.1 74.8,773.2 76.8,772.3 78.8,771.5 80.8,770.7 82.8,770.1 84.8,769.5 86.8,768.9 88.8,768.4 90.8,768.1 92.8,767.7 94.8,767.5 96.8,767.3 98.8,767.2 100.8,767.2 102.8,767.3 104.8,767.4 106.8,767.7 108.8,767.9 110.8,768.3 112.8,768.8 114.8,769.3 116.8,769.9 118.8,770.5 120.8,771.3 122.8,772 124.8,772.9 126.8,773.8 128.8,774.8 130.8,775.8 132.8,776.9 134.8,778 136.8,779.1 138.8,780.3 140.8,781.5 142.8,782.8 144.8,784.1 146.8,785.4 148.8,786.7 150.8,788 152.8,789.4 154.8,790.7 156.8,792.1 158.8,793.4 160.8,794.8 162.8,796.1 164.8,797.4 166.8,798.7 168.8,799.9 170.8,801.1 172.8,802.3 174.8,803.5 176.8,804.6 178.8,805.6 180.8,806.6 182.8,807.6 184.8,808.5 186.8,809.3 188.8,810.1 190.8,810.8 192.8,811.5 194.8,812 196.8,812.5 198.8,813 200.8,813.3 202.8,813.6 204.8,813.8 206.8,813.9 208.8,814 210.8,814 212.8,813.9 214.8,813.7 216.8,813.4 218.8,813.1 220.8,812.7 222.8,812.2 224.8,811.6 226.8,811 228.8,810.3 230.8,809.6 232.8,808.7 234.8,807.9 236.8,806.9 238.8,805.9 240.8,804.9 242.8,803.8 244.8,802.7 246.8,801.5 248.8,800.3 250.8,799 252.8,797.8 254.8,796.5 256.8,795.2 258.8,793.8 260.8,792.5 262.8,791.1 264.8,789.8 266.8,788.4 268.8,787.1 270.8,785.8 272.8,784.5 274.8,783.2 276.8,781.9 278.8,780.7 280.8,779.5 282.8,778.3 284.8,777.2 286.8,776.1 288.8,775.1 290.8,774.1 292.8,773.2 294.8,772.3 296.8,771.5 298.8,770.7 300.8,770.1 302.8,769.5 304.8,768.9 306.8,768.4 308.8,768.1 310.8,767.7 312.8,767.5 314.8,767.3 316.8,767.2 318.8,767.2 320.8,767.3 322.8,767.4 324.8,767.7 326.8,767.9 328.8,768.3 330.8,768.8 332.8,769.3 334.8,769.9 336.8,770.5 338.8,771.3 340.8,772 342.8,772.9 344.8,773.8 346.8,774.8 348.8,775.8 M62.8,807.2 64.8,808.8 66.8,810.4 68.8,812 70.8,813.5 72.8,815 74.8,816.4 76.8,817.8 78.8,819.1 80.8,820.3 82.8,821.5 84.8,822.6 86.8,823.6 88.8,824.5 90.8,825.4 92.8,826.2 94.8,826.9 96.8,827.5 98.8,828 100.8,828.4 102.8,828.8 104.8,829 106.8,829.2 108.8,829.3 110.8,829.3 112.8,829.3 114.8,829.3 116.8,829.3 118.8,829.3 120.8,829.3 122.8,829.3 124.8,829.3 126.8,829.3 128.8,829.3 130.8,829.3 132.8,829.3 134.8,829.3 136.8,829.3 138.8,829.3 140.8,829.3 142.8,829.3 144.8,829.3 146.8,829.3 148.8,829.3 150.8,829.3 152.8,829.3 154.8,829.3 156.8,829.3 158.8,829.3 160.8,829.3 162.8,829.3 164.8,829.3 166.8,829.3 168.8,829.3 170.8,829.3 172.8,829.3 174.8,829.3 176.8,829.3 178.8,829.3 180.8,829.3 182.8,829.3 184.8,829.3 186.8,829.3 188.8,829.3 190.8,829.3 192.8,829.3 194.8,829.3 196.8,829.3 198.8,829.3 200.8,829.3 202.8,829.3 204.8,829.3 206.8,829.3 208.8,829.3 210.8,829.3 212.8,829.3 214.8,829.3 216.8,829.3 218.8,829.3 220.8,829.3 222.8,829.3 224.8,829.3 226.8,829.3 228.8,829.3 230.8,829.3 232.8,829.3 234.8,829.3 236.8,829.3 238.8,829.3 240.8,829.3 242.8,829.3 244.8,829.3 246.8,829.3 248.8,829.3 250.8,829.3 252.8,829.3 254.8,829.3 256.8,829.3 258.8,829.3 260.8,829.3 262.8,829.3 264.8,829.3 266.8,829.3 268.8,829.3 270.8,829.3 272.8,829.3 274.8,829.3 276.8,829.3 278.8,829.3 280.8,829.3 282.8,829.3 284.8,829.3 286.8,829.3 288.8,829.3 290.8,829.3 292.8,829.3 294.8,829.3 296.8,829.3 298.8,829.3 300.8,829.3 302.8,829.3 304.8,829.3 306.8,829.3 308.8,829.3 310.8,829.3 312.8,829.3 314.8,829.3 316.8,829.3 318.8,829.3 320.8,829.3 322.8,829.3 324.8,829.3 326.8,829.3 328.8,829.3 330.8,829.3 332.8,829.3 334.8,829.3 336.8,829.3 338.8,829.3 340.8,829.3 342.8,829.3 344.8,829.3 346.8,829.3 348.8,829.3 M62.8,776.4 64.8,774.8 66.8,773.2 68.8,771.6 70.8,770.1 72.8,768.6 74.8,767.2 76.8,765.8 78.8,764.5 80.8,763.3 82.8,762.1 84.8,761 86.8,760 88.8,759.1 90.8,758.2 92.8,757.4 94.8,756.7 96.8,756.1 98.8,755.6 100.8,755.2 102.8,754.8 104.8,754.6 106.8,754.4 108.8,754.3 110.8,754.3 112.8,754.3 114.8,754.3 116.8,754.3 118.8,754.3 120.8,754.3 122.8,754.3 124.8,754.3 126.8,754.3 128.8,754.3 130.8,754.3 132.8,754.3 134.8,754.3 136.8,754.3 138.8,754.3 140.8,754.3 142.8,754.3 144.8,754.3 146.8,754.3 148.8,754.3 150.8,754.3 152.8,754.3 154.8,754.3 156.8,754.3 158.8,754.3 160.8,754.3 162.8,754.3 164.8,754.3 166.8,754.3 168.8,754.3 170.8,754.3 172.8,754.3 174.8,754.3 176.8,754.3 178.8,754.3 180.8,754.3 182.8,754.3 184.8,754.3 186.8,754.3 188.8,754.3 190.8,754.3 192.8,754.3 194.8,754.3 196.8,754.3 198.8,754.3 200.8,754.3 202.8,754.3 204.8,754.3 206.8,754.3 208.8,754.3 210.8,754.3 212.8,754.3 214.8,754.3 216.8,754.3 218.8,754.3 220.8,754.3 222.8,754.3 224.8,754.3 226.8,754.3 228.8,754.3 230.8,754.3 232.8,754.3 234.8,754.3 236.8,754.3 238.8,754.3 240.8,754.3 242.8,754.3 244.8,754.3 246.8,754.3 248.8,754.3 250.8,754.3 252.8,754.3 254.8,754.3 256.8,754.3 258.8,754.3 260.8,754.3 262.8,754.3 264.8,754.3 266.8,754.3 268.8,754.3 270.8,754.3 272.8,754.3 274.8,754.3 276.8,754.3 278.8,754.3 280.8,754.3 282.8,754.3 284.8,754.3 286.8,754.3 288.8,754.3 290.8,754.3 292.8,754.3 294.8,754.3 296.8,754.3 298.8,754.3 300.8,754.3 302.8,754.3 304.8,754.3 306.8,754.3 308.8,754.3 310.8,754.3 312.8,754.3 314.8,754.3 316.8,754.3 318.8,754.3 320.8,754.3 322.8,754.3 324.8,754.3 326.8,754.3 328.8,754.3 330.8,754.3 332.8,754.3 334.8,754.3 336.8,754.3 338.8,754.3 340.8,754.3 342.8,754.3 344.8,754.3 346.8,754.3 348.8,754.3 M62.8,754.3 64.8,754.3 66.8,754.3 68.8,754.3 70.8,754.3 72.8,754.3 74.8,754.3 76.8,754.3 78.8,754.3 80.8,754.3 82.8,754.3 84.8,754.3 86.8,754.3 88.8,754.3 90.8,754.3 92.8,754.4 94.8,754.5 96.8,754.7 98.8,755.1 100.8,755.5 102.8,756 104.8,756.6 106.8,757.2 108.8,758 110.8,758.8 112.8,759.7 114.8,760.7 116.8,761.8 118.8,762.9 120.8,764.1 122.8,765.4 124.8,766.8 126.8,768.2 128.8,769.6 130.8,771.1 132.8,772.7 134.8,774.3 136.8,775.9 138.8,777.6 140.8,779.3 142.8,781.1 144.8,782.9 146.8,784.7 148.8,786.5 150.8,788.3 152.8,790.1 154.8,792 156.8,793.8 158.8,795.7 160.8,797.5 162.8,799.3 164.8,801.1 166.8,802.9 168.8,804.6 170.8,806.3 172.8,808 174.8,809.6 176.8,811.2 178.8,812.8 180.8,814.3 182.8,815.7 184.8,817.1 186.8,818.4 188.8,819.7 190.8,820.9 192.8,822 194.8,823.1 196.8,824.1 198.8,825 200.8,825.8 202.8,826.5 204.8,827.2 206.8,827.7 208.8,828.2 210.8,828.6 212.8,828.9 214.8,829.1 216.8,829.3 218.8,829.3 220.8,829.3 222.8,829.3 224.8,829.3 226.8,829.3 228.8,829.3 230.8,829.3 232.8,829.3 234.8,829.3 236.8,829.3 238.8,829.3 240.8,829.3 242.8,829.3 244.8,829.3 246.8,829.3 248.8,829.3 250.8,829.3 252.8,829.3 254.8,829.3 256.8,829.3 258.8,829.3 260.8,829.3 262.8,829.3 264.8,829.3 266.8,829.3 268.8,829.3 270.8,829.3 272.8,829.3 274.8,829.3 276.8,829.3 278.8,829.3 280.8,829.3 282.8,829.3 284.8,829.3 286.8,829.3 288.8,829.3 290.8,829.3 292.8,829.3 294.8,829.3 296.8,829.3 298.8,829.3 300.8,829.3 302.8,829.3 304.8,829.3 306.8,829.3 308.8,829.3 310.8,829.3 312.8,829.3 314.8,829.3 316.8,829.3 318.8,829.3 320.8,829.3 322.8,829.3 324.8,829.3 326.8,829.3 328.8,829.3 330.8,829.3 332.8,829.3 334.8,829.3 336.8,829.3 338.8,829.3 340.8,829.3 342.8,829.3 344.8,829.3 346.8,829.3 348.8,829.3 M62.8,829.3 64.8,829.3 66.8,829.3 68.8,829.3 70.8,829.3 72.8,829.3 74.8,829.3 76.8,829.3 78.8,829.3 80.8,829.3 82.8,829.3 84.8,829.3 86.8,829.3 88.8,829.3 90.8,829.3 92.8,829.2 94.8,829.1 96.8,828.9 98.8,828.5 100.8,828.1 102.8,827.6 104.8,827 106.8,826.4 108.8,825.6 110.8,824.8 112.8,823.9 114.8,822.9 116.8,821.8 118.8,820.7 120.8,819.5 122.8,818.2 124.8,816.8 126.8,815.4 128.8,814 130.8,812.5 132.8,810.9 134.8,809.3 136.8,807.7 138.8,806 140.8,804.3 142.8,802.5 144.8,800.7 146.8,798.9 148.8,797.1 150.8,795.3 152.8,793.5 154.8,791.6 156.8,789.8 158.8,787.9 160.8,786.1 162.8,784.3 164.8,782.5 166.8,780.7 168.8,779 170.8,777.3 172.8,775.6 174.8,774 176.8,772.4 178.8,770.8 180.8,769.3 182.8,767.9 184.8,766.5 186.8,765.2 188.8,763.9 190.8,762.7 192.8,761.6 194.8,760.5 196.8,759.5 198.8,758.6 200.8,757.8 202.8,757.1 204.8,756.4 206.8,755.9 208.8,755.4 210.8,755 212.8,754.7 214.8,754.5 216.8,754.3 218.8,754.3 220.8,754.3 222.8,754.3 224.8,754.3 226.8,754.3 228.8,754.3 230.8,754.3 232.8,754.3 234.8,754.3 236.8,754.3 238.8,754.3 240.8,754.3 242.8,754.3 244.8,754.3 246.8,754.3 248.8,754.3 250.8,754.3 252.8,754.3 254.8,754.3 256.8,754.3 258.8,754.3 260.8,754.3 262.8,754.3 264.8,754.3 266.8,754.3 268.8,754.3 270.8,754.3 272.8,754.3 274.8,754.3 276.8,754.3 278.8,754.3 280.8,754.3 282.8,754.3 284.8,754.3 286.8,754.3 288.8,754.3 290.8,754.3 292.8,754.3 294.8,754.3 296.8,754.3 298.8,754.3 300.8,754.3 302.8,754.3 304.8,754.3 306.8,754.3 308.8,754.3 310.8,754.3 312.8,754.3 314.8,754.3 316.8,754.3 318.8,754.3 320.8,754.3 322.8,754.3 324.8,754.3 326.8,754.3 328.8,754.3 330.8,754.3 332.8,754.3 334.8,754.3 336.8,754.3 338.8,754.3 340.8,754.3 342.8,754.3 344.8,754.3 346.8,754.3 348.8,754.3 M62.8,754.3 64.8,754.3 66.8,754.3 68.8,754.3 70.8,754.3 72.8,754.3 74.8,754.3 76.8,754.3 78.8,754.3 80.8,754.3 82.8,754.3 84.8,754.3 86.8,754.3 88.8,754.3 90.8,754.3 92.8,754.3 94.8,754.3 96.8,754.3 98.8,754.3 100.8,754.3 102.8,754.3 104.8,754.3 106.8,754.3 108.8,754.3 110.8,754.3 112.8,754.3 114.8,754.3 116.8,754.3 118.8,754.3 120.8,754.3 122.8,754.3 124.8,754.3 126.8,754.3 128.8,754.3 130.8,754.3 132.8,754.3 134.8,754.3 136.8,754.3 138.8,754.3 140.8,754.3 142.8,754.3 144.8,754.3 146.8,754.3 148.8,754.3 150.8,754.3 152.8,754.3 154.8,754.3 156.8,754.3 158.8,754.3 160.8,754.3 162.8,754.3 164.8,754.3 166.8,754.3 168.8,754.3 170.8,754.3 172.8,754.3 174.8,754.3 176.8,754.3 178.8,754.3 180.8,754.3 182.8,754.3 184.8,754.3 186.8,754.3 188.8,754.3 190.8,754.3 192.8,754.3 194.8,754.3 196.8,754.3 198.8,754.3 200.8,754.3 202.8,754.4 204.8,754.6 206.8,754.9 208.8,755.3 210.8,755.7 212.8,756.3 214.8,756.9 216.8,757.6 218.8,758.4 220.8,759.3 222.8,760.2 224.8,761.2 226.8,762.4 228.8,763.5 230.8,764.8 232.8,766.1 234.8,767.4 236.8,768.9 238.8,770.4 240.8,771.9 242.8,773.5 244.8,775.1 246.8,776.8 248.8,778.5 250.8,780.2 252.8,782 254.8,783.8 256.8,785.6 258.8,787.4 260.8,789.2 262.8,791.1 264.8,792.9 266.8,794.7 268.8,796.6 270.8,798.4 272.8,800.2 274.8,802 276.8,803.7 278.8,805.5 280.8,807.2 282.8,808.8 284.8,810.4 286.8,812 288.8,813.5 290.8,815 292.8,816.4 294.8,817.8 296.8,819.1 298.8,820.3 300.8,821.5 302.8,822.6 304.8,823.6 306.8,824.5 308.8,825.4 310.8,826.2 312.8,826.9 314.8,827.5 316.8,828 318.8,828.4 320.8,828.8 322.8,829 324.8,829.2 326.8,829.3 328.8,829.3 330.8,829.3 332.8,829.3 334.8,829.3 336.8,829.3 338.8,829.3 340.8,829.3 342.8,829.3 344.8,829.3 346.8,829.3 348.8,829.3 M62.8,829.3 64.8,829.3 66.8,829.3 68.8,829.3 70.8,829.3 72.8,829.3 74.8,829.3 76.8,829.3 78.8,829.3 80.8,829.3 82.8,829.3 84.8,829.3 86.8,829.3 88.8,829.3 90.8,829.3 92.8,829.3 94.8,829.3 96.8,829.3 98.8,829.3 100.8,829.3 102.8,829.3 104.8,829.3 106.8,829.3 108.8,829.3 110.8,829.3 112.8,829.3 114.8,829.3 116.8,829.3 118.8,829.3 120.8,829.3 122.8,829.3 124.8,829.3 126.8,829.3 128.8,829.3 130.8,829.3 132.8,829.3 134.8,829.3 136.8,829.3 138.8,829.3 140.8,829.3 142.8,829.3 144.8,829.3 146.8,829.3 148.8,829.3 150.8,829.3 152.8,829.3 154.8,829.3 156.8,829.3 158.8,829.3 160.8,829.3 162.8,829.3 164.8,829.3 166.8,829.3 168.8,829.3 170.8,829.3 172.8,829.3 174.8,829.3 176.8,829.3 178.8,829.3 180.8,829.3 182.8,829.3 184.8,829.3 186.8,829.3 188.8,829.3 190.8,829.3 192.8,829.3 194.8,829.3 196.8,829.3 198.8,829.3 200.8,829.3 202.8,829.2 204.8,829 206.8,828.7 208.8,828.3 210.8,827.9 212.8,827.3 214.8,826.7 216.8,826 218.8,825.2 220.8,824.3 222.8,823.4 224.8,822.4 226.8,821.2 228.8,820.1 230.8,818.8 232.8,817.5 234.8,816.2 236.8,814.7 238.8,813.2 240.8,811.7 242.8,810.1 244.8,808.5 246.8,806.8 248.8,805.1 250.8,803.4 252.8,801.6 254.8,799.8 256.8,798 258.8,796.2 260.8,794.4 262.8,792.5 264.8,790.7 266.8,788.9 268.8,787 270.8,785.2 272.8,783.4 274.8,781.6 276.8,779.9 278.8,778.1 280.8,776.4 282.8,774.8 284.8,773.2 286.8,771.6 288.8,770.1 290.8,768.6 292.8,767.2 294.8,765.8 296.8,764.5 298.8,763.3 300.8,762.1 302.8,761 304.8,760 306.8,759.1 308.8,758.2 310.8,757.4 312.8,756.7 314.8,756.1 316.8,755.6 318.8,755.2 320.8,754.8 322.8,754.6 324.8,754.4 326.8,754.3 328.8,754.3 330.8,754.3 332.8,754.3 334.8,754.3 336.8,754.3 338.8,754.3 340.8,754.3 342.8,754.3 344.8,754.3 346.8,754.3 348.8,754.3 M62.8,754.3 64.8,754.3 66.8,754.3 68.8,754.3 70.8,754.3 72.8,754.3 74.8,754.3 76.8,754.3 78.8,754.3 80.8,754.3 82.8,754.3 84.8,754.3 86.8,754.3 88.8,754.3 90.8,754.3 92.8,754.3 94.8,754.3 96.8,754.3 98.8,754.3 100.8,754.3 102.8,754.3 104.8,754.3 106.8,754.3 108.8,754.3 110.8,754.3 112.8,754.3 114.8,754.3 116.8,754.3 118.8,754.3 120.8,754.3 122.8,754.3 124.8,754.3 126.8,754.3 128.8,754.3 130.8,754.3 132.8,754.3 134.8,754.3 136.8,754.3 138.8,754.3 140.8,754.3 142.8,754.3 144.8,754.3 146.8,754.3 148.8,754.3 150.8,754.3 152.8,754.3 154.8,754.3 156.8,754.3 158.8,754.3 160.8,754.3 162.8,754.3 164.8,754.3 166.8,754.3 168.8,754.3 170.8,754.3 172.8,754.3 174.8,754.3 176.8,754.3 178.8,754.3 180.8,754.3 182.8,754.3 184.8,754.3 186.8,754.3 188.8,754.3 190.8,754.3 192.8,754.3 194.8,754.3 196.8,754.3 198.8,754.3 200.8,754.3 202.8,754.3 204.8,754.3 206.8,754.3 208.8,754.3 210.8,754.3 212.8,754.3 214.8,754.3 216.8,754.3 218.8,754.3 220.8,754.3 222.8,754.3 224.8,754.3 226.8,754.3 228.8,754.3 230.8,754.3 232.8,754.3 234.8,754.3 236.8,754.3 238.8,754.3 240.8,754.3 242.8,754.3 244.8,754.3 246.8,754.3 248.8,754.3 250.8,754.3 252.8,754.3 254.8,754.3 256.8,754.3 258.8,754.3 260.8,754.3 262.8,754.3 264.8,754.3 266.8,754.3 268.8,754.3 270.8,754.3 272.8,754.3 274.8,754.3 276.8,754.3 278.8,754.3 280.8,754.3 282.8,754.3 284.8,754.3 286.8,754.3 288.8,754.3 290.8,754.3 292.8,754.3 294.8,754.3 296.8,754.3 298.8,754.3 300.8,754.3 302.8,754.3 304.8,754.3 306.8,754.3 308.8,754.3 310.8,754.4 312.8,754.5 314.8,754.7 316.8,755.1 318.8,755.5 320.8,756 322.8,756.6 324.8,757.2 326.8,758 328.8,758.8 330.8,759.7 332.8,760.7 334.8,761.8 336.8,762.9 338.8,764.1 340.8,765.4 342.8,766.8 344.8,768.2 346.8,769.6 348.8,771.1 M62.8,829.3 64.8,829.3 66.8,829.3 68.8,829.3 70.8,829.3 72.8,829.3 74.8,829.3 76.8,829.3 78.8,829.3 80.8,829.3 82.8,829.3 84.8,829.3 86.8,829.3 88.8,829.3 90.8,829.3 92.8,829.3 94.8,829.3 96.8,829.3 98.8,829.3 100.8,829.3 102.8,829.3 104.8,829.3 106.8,829.3 108.8,829.3 110.8,829.3 112.8,829.3 114.8,829.3 116.8,829.3 118.8,829.3 120.8,829.3 122.8,829.3 124.8,829.3 126.8,829.3 128.8,829.3 130.8,829.3 132.8,829.3 134.8,829.3 136.8,829.3 138.8,829.3 140.8,829.3 142.8,829.3 144.8,829.3 146.8,829.3 148.8,829.3 150.8,829.3 152.8,829.3 154.8,829.3 156.8,829.3 158.8,829.3 160.8,829.3 162.8,829.3 164.8,829.3 166.8,829.3 168.8,829.3 170.8,829.3 172.8,829.3 174.8,829.3 176.8,829.3 178.8,829.3 180.8,829.3 182.8,829.3 184.8,829.3 186.8,829.3 188.8,829.3 190.8,829.3 192.8,829.3 194.8,829.3 196.8,829.3 198.8,829.3 200.8,829.3 202.8,829.3 204.8,829.3 206.8,829.3 208.8,829.3 210.8,829.3 212.8,829.3 214.8,829.3 216.8,829.3 218.8,829.3 220.8,829.3 222.8,829.3 224.8,829.3 226.8,829.3 228.8,829.3 230.8,829.3 232.8,829.3 234.8,829.3 236.8,829.3 238.8,829.3 240.8,829.3 242.8,829.3 244.8,829.3 246.8,829.3 248.8,829.3 250.8,829.3 252.8,829.3 254.8,829.3 256.8,829.3 258.8,829.3 260.8,829.3 262.8,829.3 264.8,829.3 266.8,829.3 268.8,829.3 270.8,829.3 272.8,829.3 274.8,829.3 276.8,829.3 278.8,829.3 280.8,829.3 282.8,829.3 284.8,829.3 286.8,829.3 288.8,829.3 290.8,829.3 292.8,829.3 294.8,829.3 296.8,829.3 298.8,829.3 300.8,829.3 302.8,829.3 304.8,829.3 306.8,829.3 308.8,829.3 310.8,829.2 312.8,829.1 314.8,828.9 316.8,828.5 318.8,828.1 320.8,827.6 322.8,827 324.8,826.4 326.8,825.6 328.8,824.8 330.8,823.9 332.8,822.9 334.8,821.8 336.8,820.7 338.8,819.5 340.8,818.2 342.8,816.8 344.8,815.4 346.8,814 348.8,812.5 M62.8,754.3 H350.5 M62.8,829.3 H350.5" stroke="#3a1264" stroke-width="13.5" filter="url(#b2x)"/>
<path d="M62.8,805.6 64.8,807.2 66.8,808.7 68.8,810.2 70.8,811.6 72.8,812.9 74.8,814.2 76.8,815.3 78.8,816.4 80.8,817.4 82.8,818.4 84.8,819.2 86.8,819.9 88.8,820.5 90.8,821.1 92.8,821.5 94.8,821.8 96.8,822.1 98.8,822.2 100.8,822.2 102.8,822.1 104.8,821.9 106.8,821.6 108.8,821.2 110.8,820.7 112.8,820.1 114.8,819.4 116.8,818.6 118.8,817.7 120.8,816.7 122.8,815.7 124.8,814.5 126.8,813.3 128.8,812 130.8,810.6 132.8,809.2 134.8,807.7 136.8,806.1 138.8,804.5 140.8,802.8 142.8,801.1 144.8,799.4 146.8,797.6 148.8,795.9 150.8,794.1 152.8,792.2 154.8,790.4 156.8,788.6 158.8,786.8 160.8,785 162.8,783.2 164.8,781.4 166.8,779.7 168.8,778 170.8,776.4 172.8,774.8 174.8,773.2 176.8,771.7 178.8,770.3 180.8,768.9 182.8,767.7 184.8,766.4 186.8,765.3 188.8,764.3 190.8,763.3 192.8,762.4 194.8,761.6 196.8,761 198.8,760.4 200.8,759.9 202.8,759.5 204.8,759.2 206.8,759.1 208.8,759 210.8,759 212.8,759.2 214.8,759.4 216.8,759.8 218.8,760.2 220.8,760.8 222.8,761.4 224.8,762.2 226.8,763 228.8,764 230.8,765 232.8,766.1 234.8,767.3 236.8,768.5 238.8,769.9 240.8,771.3 242.8,772.8 244.8,774.3 246.8,775.9 248.8,777.5 250.8,779.2 252.8,780.9 254.8,782.7 256.8,784.4 258.8,786.2 260.8,788.1 262.8,789.9 264.8,791.7 266.8,793.5 268.8,795.3 270.8,797.1 272.8,798.9 274.8,800.6 276.8,802.3 278.8,804 280.8,805.6 282.8,807.2 284.8,808.7 286.8,810.2 288.8,811.6 290.8,812.9 292.8,814.2 294.8,815.3 296.8,816.4 298.8,817.4 300.8,818.4 302.8,819.2 304.8,819.9 306.8,820.5 308.8,821.1 310.8,821.5 312.8,821.8 314.8,822.1 316.8,822.2 318.8,822.2 320.8,822.1 322.8,821.9 324.8,821.6 326.8,821.2 328.8,820.7 330.8,820.1 332.8,819.4 334.8,818.6 336.8,817.7 338.8,816.7 340.8,815.7 342.8,814.5 344.8,813.3 346.8,812 348.8,810.6 M62.8,775.6 64.8,774 66.8,772.5 68.8,771 70.8,769.6 72.8,768.3 74.8,767 76.8,765.9 78.8,764.8 80.8,763.8 82.8,762.8 84.8,762 86.8,761.3 88.8,760.7 90.8,760.1 92.8,759.7 94.8,759.4 96.8,759.1 98.8,759 100.8,759 102.8,759.1 104.8,759.3 106.8,759.6 108.8,760 110.8,760.5 112.8,761.1 114.8,761.8 116.8,762.6 118.8,763.5 120.8,764.5 122.8,765.5 124.8,766.7 126.8,767.9 128.8,769.2 130.8,770.6 132.8,772 134.8,773.5 136.8,775.1 138.8,776.7 140.8,778.4 142.8,780.1 144.8,781.8 146.8,783.6 148.8,785.3 150.8,787.1 152.8,789 154.8,790.8 156.8,792.6 158.8,794.4 160.8,796.2 162.8,798 164.8,799.8 166.8,801.5 168.8,803.2 170.8,804.8 172.8,806.4 174.8,808 176.8,809.5 178.8,810.9 180.8,812.3 182.8,813.5 184.8,814.8 186.8,815.9 188.8,816.9 190.8,817.9 192.8,818.8 194.8,819.6 196.8,820.2 198.8,820.8 200.8,821.3 202.8,821.7 204.8,822 206.8,822.1 208.8,822.2 210.8,822.2 212.8,822 214.8,821.8 216.8,821.4 218.8,821 220.8,820.4 222.8,819.8 224.8,819 226.8,818.2 228.8,817.2 230.8,816.2 232.8,815.1 234.8,813.9 236.8,812.7 238.8,811.3 240.8,809.9 242.8,808.4 244.8,806.9 246.8,805.3 248.8,803.7 250.8,802 252.8,800.3 254.8,798.5 256.8,796.8 258.8,795 260.8,793.1 262.8,791.3 264.8,789.5 266.8,787.7 268.8,785.9 270.8,784.1 272.8,782.3 274.8,780.6 276.8,778.9 278.8,777.2 280.8,775.6 282.8,774 284.8,772.5 286.8,771 288.8,769.6 290.8,768.3 292.8,767 294.8,765.9 296.8,764.8 298.8,763.8 300.8,762.8 302.8,762 304.8,761.3 306.8,760.7 308.8,760.1 310.8,759.7 312.8,759.4 314.8,759.1 316.8,759 318.8,759 320.8,759.1 322.8,759.3 324.8,759.6 326.8,760 328.8,760.5 330.8,761.1 332.8,761.8 334.8,762.6 336.8,763.5 338.8,764.5 340.8,765.5 342.8,766.7 344.8,767.9 346.8,769.2 348.8,770.6 M62.8,801.7 64.8,802.9 66.8,804 68.8,805.1 70.8,806.1 72.8,807.1 74.8,808 76.8,808.9 78.8,809.7 80.8,810.5 82.8,811.1 84.8,811.7 86.8,812.3 88.8,812.8 90.8,813.1 92.8,813.5 94.8,813.7 96.8,813.9 98.8,814 100.8,814 102.8,813.9 104.8,813.8 106.8,813.5 108.8,813.3 110.8,812.9 112.8,812.4 114.8,811.9 116.8,811.3 118.8,810.7 120.8,809.9 122.8,809.2 124.8,808.3 126.8,807.4 128.8,806.4 130.8,805.4 132.8,804.3 134.8,803.2 136.8,802.1 138.8,800.9 140.8,799.7 142.8,798.4 144.8,797.1 146.8,795.8 148.8,794.5 150.8,793.2 152.8,791.8 154.8,790.5 156.8,789.1 158.8,787.8 160.8,786.4 162.8,785.1 164.8,783.8 166.8,782.5 168.8,781.3 170.8,780.1 172.8,778.9 174.8,777.7 176.8,776.6 178.8,775.6 180.8,774.6 182.8,773.6 184.8,772.7 186.8,771.9 188.8,771.1 190.8,770.4 192.8,769.7 194.8,769.2 196.8,768.7 198.8,768.2 200.8,767.9 202.8,767.6 204.8,767.4 206.8,767.3 208.8,767.2 210.8,767.2 212.8,767.3 214.8,767.5 216.8,767.8 218.8,768.1 220.8,768.5 222.8,769 224.8,769.6 226.8,770.2 228.8,770.9 230.8,771.6 232.8,772.5 234.8,773.3 236.8,774.3 238.8,775.3 240.8,776.3 242.8,777.4 244.8,778.5 246.8,779.7 248.8,780.9 250.8,782.2 252.8,783.4 254.8,784.7 256.8,786 258.8,787.4 260.8,788.7 262.8,790.1 264.8,791.4 266.8,792.8 268.8,794.1 270.8,795.4 272.8,796.7 274.8,798 276.8,799.3 278.8,800.5 280.8,801.7 282.8,802.9 284.8,804 286.8,805.1 288.8,806.1 290.8,807.1 292.8,808 294.8,808.9 296.8,809.7 298.8,810.5 300.8,811.1 302.8,811.7 304.8,812.3 306.8,812.8 308.8,813.1 310.8,813.5 312.8,813.7 314.8,813.9 316.8,814 318.8,814 320.8,813.9 322.8,813.8 324.8,813.5 326.8,813.3 328.8,812.9 330.8,812.4 332.8,811.9 334.8,811.3 336.8,810.7 338.8,809.9 340.8,809.2 342.8,808.3 344.8,807.4 346.8,806.4 348.8,805.4 M62.8,779.5 64.8,778.3 66.8,777.2 68.8,776.1 70.8,775.1 72.8,774.1 74.8,773.2 76.8,772.3 78.8,771.5 80.8,770.7 82.8,770.1 84.8,769.5 86.8,768.9 88.8,768.4 90.8,768.1 92.8,767.7 94.8,767.5 96.8,767.3 98.8,767.2 100.8,767.2 102.8,767.3 104.8,767.4 106.8,767.7 108.8,767.9 110.8,768.3 112.8,768.8 114.8,769.3 116.8,769.9 118.8,770.5 120.8,771.3 122.8,772 124.8,772.9 126.8,773.8 128.8,774.8 130.8,775.8 132.8,776.9 134.8,778 136.8,779.1 138.8,780.3 140.8,781.5 142.8,782.8 144.8,784.1 146.8,785.4 148.8,786.7 150.8,788 152.8,789.4 154.8,790.7 156.8,792.1 158.8,793.4 160.8,794.8 162.8,796.1 164.8,797.4 166.8,798.7 168.8,799.9 170.8,801.1 172.8,802.3 174.8,803.5 176.8,804.6 178.8,805.6 180.8,806.6 182.8,807.6 184.8,808.5 186.8,809.3 188.8,810.1 190.8,810.8 192.8,811.5 194.8,812 196.8,812.5 198.8,813 200.8,813.3 202.8,813.6 204.8,813.8 206.8,813.9 208.8,814 210.8,814 212.8,813.9 214.8,813.7 216.8,813.4 218.8,813.1 220.8,812.7 222.8,812.2 224.8,811.6 226.8,811 228.8,810.3 230.8,809.6 232.8,808.7 234.8,807.9 236.8,806.9 238.8,805.9 240.8,804.9 242.8,803.8 244.8,802.7 246.8,801.5 248.8,800.3 250.8,799 252.8,797.8 254.8,796.5 256.8,795.2 258.8,793.8 260.8,792.5 262.8,791.1 264.8,789.8 266.8,788.4 268.8,787.1 270.8,785.8 272.8,784.5 274.8,783.2 276.8,781.9 278.8,780.7 280.8,779.5 282.8,778.3 284.8,777.2 286.8,776.1 288.8,775.1 290.8,774.1 292.8,773.2 294.8,772.3 296.8,771.5 298.8,770.7 300.8,770.1 302.8,769.5 304.8,768.9 306.8,768.4 308.8,768.1 310.8,767.7 312.8,767.5 314.8,767.3 316.8,767.2 318.8,767.2 320.8,767.3 322.8,767.4 324.8,767.7 326.8,767.9 328.8,768.3 330.8,768.8 332.8,769.3 334.8,769.9 336.8,770.5 338.8,771.3 340.8,772 342.8,772.9 344.8,773.8 346.8,774.8 348.8,775.8 M62.8,807.2 64.8,808.8 66.8,810.4 68.8,812 70.8,813.5 72.8,815 74.8,816.4 76.8,817.8 78.8,819.1 80.8,820.3 82.8,821.5 84.8,822.6 86.8,823.6 88.8,824.5 90.8,825.4 92.8,826.2 94.8,826.9 96.8,827.5 98.8,828 100.8,828.4 102.8,828.8 104.8,829 106.8,829.2 108.8,829.3 110.8,829.3 112.8,829.3 114.8,829.3 116.8,829.3 118.8,829.3 120.8,829.3 122.8,829.3 124.8,829.3 126.8,829.3 128.8,829.3 130.8,829.3 132.8,829.3 134.8,829.3 136.8,829.3 138.8,829.3 140.8,829.3 142.8,829.3 144.8,829.3 146.8,829.3 148.8,829.3 150.8,829.3 152.8,829.3 154.8,829.3 156.8,829.3 158.8,829.3 160.8,829.3 162.8,829.3 164.8,829.3 166.8,829.3 168.8,829.3 170.8,829.3 172.8,829.3 174.8,829.3 176.8,829.3 178.8,829.3 180.8,829.3 182.8,829.3 184.8,829.3 186.8,829.3 188.8,829.3 190.8,829.3 192.8,829.3 194.8,829.3 196.8,829.3 198.8,829.3 200.8,829.3 202.8,829.3 204.8,829.3 206.8,829.3 208.8,829.3 210.8,829.3 212.8,829.3 214.8,829.3 216.8,829.3 218.8,829.3 220.8,829.3 222.8,829.3 224.8,829.3 226.8,829.3 228.8,829.3 230.8,829.3 232.8,829.3 234.8,829.3 236.8,829.3 238.8,829.3 240.8,829.3 242.8,829.3 244.8,829.3 246.8,829.3 248.8,829.3 250.8,829.3 252.8,829.3 254.8,829.3 256.8,829.3 258.8,829.3 260.8,829.3 262.8,829.3 264.8,829.3 266.8,829.3 268.8,829.3 270.8,829.3 272.8,829.3 274.8,829.3 276.8,829.3 278.8,829.3 280.8,829.3 282.8,829.3 284.8,829.3 286.8,829.3 288.8,829.3 290.8,829.3 292.8,829.3 294.8,829.3 296.8,829.3 298.8,829.3 300.8,829.3 302.8,829.3 304.8,829.3 306.8,829.3 308.8,829.3 310.8,829.3 312.8,829.3 314.8,829.3 316.8,829.3 318.8,829.3 320.8,829.3 322.8,829.3 324.8,829.3 326.8,829.3 328.8,829.3 330.8,829.3 332.8,829.3 334.8,829.3 336.8,829.3 338.8,829.3 340.8,829.3 342.8,829.3 344.8,829.3 346.8,829.3 348.8,829.3 M62.8,776.4 64.8,774.8 66.8,773.2 68.8,771.6 70.8,770.1 72.8,768.6 74.8,767.2 76.8,765.8 78.8,764.5 80.8,763.3 82.8,762.1 84.8,761 86.8,760 88.8,759.1 90.8,758.2 92.8,757.4 94.8,756.7 96.8,756.1 98.8,755.6 100.8,755.2 102.8,754.8 104.8,754.6 106.8,754.4 108.8,754.3 110.8,754.3 112.8,754.3 114.8,754.3 116.8,754.3 118.8,754.3 120.8,754.3 122.8,754.3 124.8,754.3 126.8,754.3 128.8,754.3 130.8,754.3 132.8,754.3 134.8,754.3 136.8,754.3 138.8,754.3 140.8,754.3 142.8,754.3 144.8,754.3 146.8,754.3 148.8,754.3 150.8,754.3 152.8,754.3 154.8,754.3 156.8,754.3 158.8,754.3 160.8,754.3 162.8,754.3 164.8,754.3 166.8,754.3 168.8,754.3 170.8,754.3 172.8,754.3 174.8,754.3 176.8,754.3 178.8,754.3 180.8,754.3 182.8,754.3 184.8,754.3 186.8,754.3 188.8,754.3 190.8,754.3 192.8,754.3 194.8,754.3 196.8,754.3 198.8,754.3 200.8,754.3 202.8,754.3 204.8,754.3 206.8,754.3 208.8,754.3 210.8,754.3 212.8,754.3 214.8,754.3 216.8,754.3 218.8,754.3 220.8,754.3 222.8,754.3 224.8,754.3 226.8,754.3 228.8,754.3 230.8,754.3 232.8,754.3 234.8,754.3 236.8,754.3 238.8,754.3 240.8,754.3 242.8,754.3 244.8,754.3 246.8,754.3 248.8,754.3 250.8,754.3 252.8,754.3 254.8,754.3 256.8,754.3 258.8,754.3 260.8,754.3 262.8,754.3 264.8,754.3 266.8,754.3 268.8,754.3 270.8,754.3 272.8,754.3 274.8,754.3 276.8,754.3 278.8,754.3 280.8,754.3 282.8,754.3 284.8,754.3 286.8,754.3 288.8,754.3 290.8,754.3 292.8,754.3 294.8,754.3 296.8,754.3 298.8,754.3 300.8,754.3 302.8,754.3 304.8,754.3 306.8,754.3 308.8,754.3 310.8,754.3 312.8,754.3 314.8,754.3 316.8,754.3 318.8,754.3 320.8,754.3 322.8,754.3 324.8,754.3 326.8,754.3 328.8,754.3 330.8,754.3 332.8,754.3 334.8,754.3 336.8,754.3 338.8,754.3 340.8,754.3 342.8,754.3 344.8,754.3 346.8,754.3 348.8,754.3 M62.8,754.3 64.8,754.3 66.8,754.3 68.8,754.3 70.8,754.3 72.8,754.3 74.8,754.3 76.8,754.3 78.8,754.3 80.8,754.3 82.8,754.3 84.8,754.3 86.8,754.3 88.8,754.3 90.8,754.3 92.8,754.4 94.8,754.5 96.8,754.7 98.8,755.1 100.8,755.5 102.8,756 104.8,756.6 106.8,757.2 108.8,758 110.8,758.8 112.8,759.7 114.8,760.7 116.8,761.8 118.8,762.9 120.8,764.1 122.8,765.4 124.8,766.8 126.8,768.2 128.8,769.6 130.8,771.1 132.8,772.7 134.8,774.3 136.8,775.9 138.8,777.6 140.8,779.3 142.8,781.1 144.8,782.9 146.8,784.7 148.8,786.5 150.8,788.3 152.8,790.1 154.8,792 156.8,793.8 158.8,795.7 160.8,797.5 162.8,799.3 164.8,801.1 166.8,802.9 168.8,804.6 170.8,806.3 172.8,808 174.8,809.6 176.8,811.2 178.8,812.8 180.8,814.3 182.8,815.7 184.8,817.1 186.8,818.4 188.8,819.7 190.8,820.9 192.8,822 194.8,823.1 196.8,824.1 198.8,825 200.8,825.8 202.8,826.5 204.8,827.2 206.8,827.7 208.8,828.2 210.8,828.6 212.8,828.9 214.8,829.1 216.8,829.3 218.8,829.3 220.8,829.3 222.8,829.3 224.8,829.3 226.8,829.3 228.8,829.3 230.8,829.3 232.8,829.3 234.8,829.3 236.8,829.3 238.8,829.3 240.8,829.3 242.8,829.3 244.8,829.3 246.8,829.3 248.8,829.3 250.8,829.3 252.8,829.3 254.8,829.3 256.8,829.3 258.8,829.3 260.8,829.3 262.8,829.3 264.8,829.3 266.8,829.3 268.8,829.3 270.8,829.3 272.8,829.3 274.8,829.3 276.8,829.3 278.8,829.3 280.8,829.3 282.8,829.3 284.8,829.3 286.8,829.3 288.8,829.3 290.8,829.3 292.8,829.3 294.8,829.3 296.8,829.3 298.8,829.3 300.8,829.3 302.8,829.3 304.8,829.3 306.8,829.3 308.8,829.3 310.8,829.3 312.8,829.3 314.8,829.3 316.8,829.3 318.8,829.3 320.8,829.3 322.8,829.3 324.8,829.3 326.8,829.3 328.8,829.3 330.8,829.3 332.8,829.3 334.8,829.3 336.8,829.3 338.8,829.3 340.8,829.3 342.8,829.3 344.8,829.3 346.8,829.3 348.8,829.3 M62.8,829.3 64.8,829.3 66.8,829.3 68.8,829.3 70.8,829.3 72.8,829.3 74.8,829.3 76.8,829.3 78.8,829.3 80.8,829.3 82.8,829.3 84.8,829.3 86.8,829.3 88.8,829.3 90.8,829.3 92.8,829.2 94.8,829.1 96.8,828.9 98.8,828.5 100.8,828.1 102.8,827.6 104.8,827 106.8,826.4 108.8,825.6 110.8,824.8 112.8,823.9 114.8,822.9 116.8,821.8 118.8,820.7 120.8,819.5 122.8,818.2 124.8,816.8 126.8,815.4 128.8,814 130.8,812.5 132.8,810.9 134.8,809.3 136.8,807.7 138.8,806 140.8,804.3 142.8,802.5 144.8,800.7 146.8,798.9 148.8,797.1 150.8,795.3 152.8,793.5 154.8,791.6 156.8,789.8 158.8,787.9 160.8,786.1 162.8,784.3 164.8,782.5 166.8,780.7 168.8,779 170.8,777.3 172.8,775.6 174.8,774 176.8,772.4 178.8,770.8 180.8,769.3 182.8,767.9 184.8,766.5 186.8,765.2 188.8,763.9 190.8,762.7 192.8,761.6 194.8,760.5 196.8,759.5 198.8,758.6 200.8,757.8 202.8,757.1 204.8,756.4 206.8,755.9 208.8,755.4 210.8,755 212.8,754.7 214.8,754.5 216.8,754.3 218.8,754.3 220.8,754.3 222.8,754.3 224.8,754.3 226.8,754.3 228.8,754.3 230.8,754.3 232.8,754.3 234.8,754.3 236.8,754.3 238.8,754.3 240.8,754.3 242.8,754.3 244.8,754.3 246.8,754.3 248.8,754.3 250.8,754.3 252.8,754.3 254.8,754.3 256.8,754.3 258.8,754.3 260.8,754.3 262.8,754.3 264.8,754.3 266.8,754.3 268.8,754.3 270.8,754.3 272.8,754.3 274.8,754.3 276.8,754.3 278.8,754.3 280.8,754.3 282.8,754.3 284.8,754.3 286.8,754.3 288.8,754.3 290.8,754.3 292.8,754.3 294.8,754.3 296.8,754.3 298.8,754.3 300.8,754.3 302.8,754.3 304.8,754.3 306.8,754.3 308.8,754.3 310.8,754.3 312.8,754.3 314.8,754.3 316.8,754.3 318.8,754.3 320.8,754.3 322.8,754.3 324.8,754.3 326.8,754.3 328.8,754.3 330.8,754.3 332.8,754.3 334.8,754.3 336.8,754.3 338.8,754.3 340.8,754.3 342.8,754.3 344.8,754.3 346.8,754.3 348.8,754.3 M62.8,754.3 64.8,754.3 66.8,754.3 68.8,754.3 70.8,754.3 72.8,754.3 74.8,754.3 76.8,754.3 78.8,754.3 80.8,754.3 82.8,754.3 84.8,754.3 86.8,754.3 88.8,754.3 90.8,754.3 92.8,754.3 94.8,754.3 96.8,754.3 98.8,754.3 100.8,754.3 102.8,754.3 104.8,754.3 106.8,754.3 108.8,754.3 110.8,754.3 112.8,754.3 114.8,754.3 116.8,754.3 118.8,754.3 120.8,754.3 122.8,754.3 124.8,754.3 126.8,754.3 128.8,754.3 130.8,754.3 132.8,754.3 134.8,754.3 136.8,754.3 138.8,754.3 140.8,754.3 142.8,754.3 144.8,754.3 146.8,754.3 148.8,754.3 150.8,754.3 152.8,754.3 154.8,754.3 156.8,754.3 158.8,754.3 160.8,754.3 162.8,754.3 164.8,754.3 166.8,754.3 168.8,754.3 170.8,754.3 172.8,754.3 174.8,754.3 176.8,754.3 178.8,754.3 180.8,754.3 182.8,754.3 184.8,754.3 186.8,754.3 188.8,754.3 190.8,754.3 192.8,754.3 194.8,754.3 196.8,754.3 198.8,754.3 200.8,754.3 202.8,754.4 204.8,754.6 206.8,754.9 208.8,755.3 210.8,755.7 212.8,756.3 214.8,756.9 216.8,757.6 218.8,758.4 220.8,759.3 222.8,760.2 224.8,761.2 226.8,762.4 228.8,763.5 230.8,764.8 232.8,766.1 234.8,767.4 236.8,768.9 238.8,770.4 240.8,771.9 242.8,773.5 244.8,775.1 246.8,776.8 248.8,778.5 250.8,780.2 252.8,782 254.8,783.8 256.8,785.6 258.8,787.4 260.8,789.2 262.8,791.1 264.8,792.9 266.8,794.7 268.8,796.6 270.8,798.4 272.8,800.2 274.8,802 276.8,803.7 278.8,805.5 280.8,807.2 282.8,808.8 284.8,810.4 286.8,812 288.8,813.5 290.8,815 292.8,816.4 294.8,817.8 296.8,819.1 298.8,820.3 300.8,821.5 302.8,822.6 304.8,823.6 306.8,824.5 308.8,825.4 310.8,826.2 312.8,826.9 314.8,827.5 316.8,828 318.8,828.4 320.8,828.8 322.8,829 324.8,829.2 326.8,829.3 328.8,829.3 330.8,829.3 332.8,829.3 334.8,829.3 336.8,829.3 338.8,829.3 340.8,829.3 342.8,829.3 344.8,829.3 346.8,829.3 348.8,829.3 M62.8,829.3 64.8,829.3 66.8,829.3 68.8,829.3 70.8,829.3 72.8,829.3 74.8,829.3 76.8,829.3 78.8,829.3 80.8,829.3 82.8,829.3 84.8,829.3 86.8,829.3 88.8,829.3 90.8,829.3 92.8,829.3 94.8,829.3 96.8,829.3 98.8,829.3 100.8,829.3 102.8,829.3 104.8,829.3 106.8,829.3 108.8,829.3 110.8,829.3 112.8,829.3 114.8,829.3 116.8,829.3 118.8,829.3 120.8,829.3 122.8,829.3 124.8,829.3 126.8,829.3 128.8,829.3 130.8,829.3 132.8,829.3 134.8,829.3 136.8,829.3 138.8,829.3 140.8,829.3 142.8,829.3 144.8,829.3 146.8,829.3 148.8,829.3 150.8,829.3 152.8,829.3 154.8,829.3 156.8,829.3 158.8,829.3 160.8,829.3 162.8,829.3 164.8,829.3 166.8,829.3 168.8,829.3 170.8,829.3 172.8,829.3 174.8,829.3 176.8,829.3 178.8,829.3 180.8,829.3 182.8,829.3 184.8,829.3 186.8,829.3 188.8,829.3 190.8,829.3 192.8,829.3 194.8,829.3 196.8,829.3 198.8,829.3 200.8,829.3 202.8,829.2 204.8,829 206.8,828.7 208.8,828.3 210.8,827.9 212.8,827.3 214.8,826.7 216.8,826 218.8,825.2 220.8,824.3 222.8,823.4 224.8,822.4 226.8,821.2 228.8,820.1 230.8,818.8 232.8,817.5 234.8,816.2 236.8,814.7 238.8,813.2 240.8,811.7 242.8,810.1 244.8,808.5 246.8,806.8 248.8,805.1 250.8,803.4 252.8,801.6 254.8,799.8 256.8,798 258.8,796.2 260.8,794.4 262.8,792.5 264.8,790.7 266.8,788.9 268.8,787 270.8,785.2 272.8,783.4 274.8,781.6 276.8,779.9 278.8,778.1 280.8,776.4 282.8,774.8 284.8,773.2 286.8,771.6 288.8,770.1 290.8,768.6 292.8,767.2 294.8,765.8 296.8,764.5 298.8,763.3 300.8,762.1 302.8,761 304.8,760 306.8,759.1 308.8,758.2 310.8,757.4 312.8,756.7 314.8,756.1 316.8,755.6 318.8,755.2 320.8,754.8 322.8,754.6 324.8,754.4 326.8,754.3 328.8,754.3 330.8,754.3 332.8,754.3 334.8,754.3 336.8,754.3 338.8,754.3 340.8,754.3 342.8,754.3 344.8,754.3 346.8,754.3 348.8,754.3 M62.8,754.3 64.8,754.3 66.8,754.3 68.8,754.3 70.8,754.3 72.8,754.3 74.8,754.3 76.8,754.3 78.8,754.3 80.8,754.3 82.8,754.3 84.8,754.3 86.8,754.3 88.8,754.3 90.8,754.3 92.8,754.3 94.8,754.3 96.8,754.3 98.8,754.3 100.8,754.3 102.8,754.3 104.8,754.3 106.8,754.3 108.8,754.3 110.8,754.3 112.8,754.3 114.8,754.3 116.8,754.3 118.8,754.3 120.8,754.3 122.8,754.3 124.8,754.3 126.8,754.3 128.8,754.3 130.8,754.3 132.8,754.3 134.8,754.3 136.8,754.3 138.8,754.3 140.8,754.3 142.8,754.3 144.8,754.3 146.8,754.3 148.8,754.3 150.8,754.3 152.8,754.3 154.8,754.3 156.8,754.3 158.8,754.3 160.8,754.3 162.8,754.3 164.8,754.3 166.8,754.3 168.8,754.3 170.8,754.3 172.8,754.3 174.8,754.3 176.8,754.3 178.8,754.3 180.8,754.3 182.8,754.3 184.8,754.3 186.8,754.3 188.8,754.3 190.8,754.3 192.8,754.3 194.8,754.3 196.8,754.3 198.8,754.3 200.8,754.3 202.8,754.3 204.8,754.3 206.8,754.3 208.8,754.3 210.8,754.3 212.8,754.3 214.8,754.3 216.8,754.3 218.8,754.3 220.8,754.3 222.8,754.3 224.8,754.3 226.8,754.3 228.8,754.3 230.8,754.3 232.8,754.3 234.8,754.3 236.8,754.3 238.8,754.3 240.8,754.3 242.8,754.3 244.8,754.3 246.8,754.3 248.8,754.3 250.8,754.3 252.8,754.3 254.8,754.3 256.8,754.3 258.8,754.3 260.8,754.3 262.8,754.3 264.8,754.3 266.8,754.3 268.8,754.3 270.8,754.3 272.8,754.3 274.8,754.3 276.8,754.3 278.8,754.3 280.8,754.3 282.8,754.3 284.8,754.3 286.8,754.3 288.8,754.3 290.8,754.3 292.8,754.3 294.8,754.3 296.8,754.3 298.8,754.3 300.8,754.3 302.8,754.3 304.8,754.3 306.8,754.3 308.8,754.3 310.8,754.4 312.8,754.5 314.8,754.7 316.8,755.1 318.8,755.5 320.8,756 322.8,756.6 324.8,757.2 326.8,758 328.8,758.8 330.8,759.7 332.8,760.7 334.8,761.8 336.8,762.9 338.8,764.1 340.8,765.4 342.8,766.8 344.8,768.2 346.8,769.6 348.8,771.1 M62.8,829.3 64.8,829.3 66.8,829.3 68.8,829.3 70.8,829.3 72.8,829.3 74.8,829.3 76.8,829.3 78.8,829.3 80.8,829.3 82.8,829.3 84.8,829.3 86.8,829.3 88.8,829.3 90.8,829.3 92.8,829.3 94.8,829.3 96.8,829.3 98.8,829.3 100.8,829.3 102.8,829.3 104.8,829.3 106.8,829.3 108.8,829.3 110.8,829.3 112.8,829.3 114.8,829.3 116.8,829.3 118.8,829.3 120.8,829.3 122.8,829.3 124.8,829.3 126.8,829.3 128.8,829.3 130.8,829.3 132.8,829.3 134.8,829.3 136.8,829.3 138.8,829.3 140.8,829.3 142.8,829.3 144.8,829.3 146.8,829.3 148.8,829.3 150.8,829.3 152.8,829.3 154.8,829.3 156.8,829.3 158.8,829.3 160.8,829.3 162.8,829.3 164.8,829.3 166.8,829.3 168.8,829.3 170.8,829.3 172.8,829.3 174.8,829.3 176.8,829.3 178.8,829.3 180.8,829.3 182.8,829.3 184.8,829.3 186.8,829.3 188.8,829.3 190.8,829.3 192.8,829.3 194.8,829.3 196.8,829.3 198.8,829.3 200.8,829.3 202.8,829.3 204.8,829.3 206.8,829.3 208.8,829.3 210.8,829.3 212.8,829.3 214.8,829.3 216.8,829.3 218.8,829.3 220.8,829.3 222.8,829.3 224.8,829.3 226.8,829.3 228.8,829.3 230.8,829.3 232.8,829.3 234.8,829.3 236.8,829.3 238.8,829.3 240.8,829.3 242.8,829.3 244.8,829.3 246.8,829.3 248.8,829.3 250.8,829.3 252.8,829.3 254.8,829.3 256.8,829.3 258.8,829.3 260.8,829.3 262.8,829.3 264.8,829.3 266.8,829.3 268.8,829.3 270.8,829.3 272.8,829.3 274.8,829.3 276.8,829.3 278.8,829.3 280.8,829.3 282.8,829.3 284.8,829.3 286.8,829.3 288.8,829.3 290.8,829.3 292.8,829.3 294.8,829.3 296.8,829.3 298.8,829.3 300.8,829.3 302.8,829.3 304.8,829.3 306.8,829.3 308.8,829.3 310.8,829.2 312.8,829.1 314.8,828.9 316.8,828.5 318.8,828.1 320.8,827.6 322.8,827 324.8,826.4 326.8,825.6 328.8,824.8 330.8,823.9 332.8,822.9 334.8,821.8 336.8,820.7 338.8,819.5 340.8,818.2 342.8,816.8 344.8,815.4 346.8,814 348.8,812.5 M62.8,754.3 H350.5 M62.8,829.3 H350.5" stroke="#6a2ca6" stroke-width="9" opacity="0.9" filter="url(#b2)"/>
<path d="M62.8,805.6 64.8,807.2 66.8,808.7 68.8,810.2 70.8,811.6 72.8,812.9 74.8,814.2 76.8,815.3 78.8,816.4 80.8,817.4 82.8,818.4 84.8,819.2 86.8,819.9 88.8,820.5 90.8,821.1 92.8,821.5 94.8,821.8 96.8,822.1 98.8,822.2 100.8,822.2 102.8,822.1 104.8,821.9 106.8,821.6 108.8,821.2 110.8,820.7 112.8,820.1 114.8,819.4 116.8,818.6 118.8,817.7 120.8,816.7 122.8,815.7 124.8,814.5 126.8,813.3 128.8,812 130.8,810.6 132.8,809.2 134.8,807.7 136.8,806.1 138.8,804.5 140.8,802.8 142.8,801.1 144.8,799.4 146.8,797.6 148.8,795.9 150.8,794.1 152.8,792.2 154.8,790.4 156.8,788.6 158.8,786.8 160.8,785 162.8,783.2 164.8,781.4 166.8,779.7 168.8,778 170.8,776.4 172.8,774.8 174.8,773.2 176.8,771.7 178.8,770.3 180.8,768.9 182.8,767.7 184.8,766.4 186.8,765.3 188.8,764.3 190.8,763.3 192.8,762.4 194.8,761.6 196.8,761 198.8,760.4 200.8,759.9 202.8,759.5 204.8,759.2 206.8,759.1 208.8,759 210.8,759 212.8,759.2 214.8,759.4 216.8,759.8 218.8,760.2 220.8,760.8 222.8,761.4 224.8,762.2 226.8,763 228.8,764 230.8,765 232.8,766.1 234.8,767.3 236.8,768.5 238.8,769.9 240.8,771.3 242.8,772.8 244.8,774.3 246.8,775.9 248.8,777.5 250.8,779.2 252.8,780.9 254.8,782.7 256.8,784.4 258.8,786.2 260.8,788.1 262.8,789.9 264.8,791.7 266.8,793.5 268.8,795.3 270.8,797.1 272.8,798.9 274.8,800.6 276.8,802.3 278.8,804 280.8,805.6 282.8,807.2 284.8,808.7 286.8,810.2 288.8,811.6 290.8,812.9 292.8,814.2 294.8,815.3 296.8,816.4 298.8,817.4 300.8,818.4 302.8,819.2 304.8,819.9 306.8,820.5 308.8,821.1 310.8,821.5 312.8,821.8 314.8,822.1 316.8,822.2 318.8,822.2 320.8,822.1 322.8,821.9 324.8,821.6 326.8,821.2 328.8,820.7 330.8,820.1 332.8,819.4 334.8,818.6 336.8,817.7 338.8,816.7 340.8,815.7 342.8,814.5 344.8,813.3 346.8,812 348.8,810.6 M62.8,775.6 64.8,774 66.8,772.5 68.8,771 70.8,769.6 72.8,768.3 74.8,767 76.8,765.9 78.8,764.8 80.8,763.8 82.8,762.8 84.8,762 86.8,761.3 88.8,760.7 90.8,760.1 92.8,759.7 94.8,759.4 96.8,759.1 98.8,759 100.8,759 102.8,759.1 104.8,759.3 106.8,759.6 108.8,760 110.8,760.5 112.8,761.1 114.8,761.8 116.8,762.6 118.8,763.5 120.8,764.5 122.8,765.5 124.8,766.7 126.8,767.9 128.8,769.2 130.8,770.6 132.8,772 134.8,773.5 136.8,775.1 138.8,776.7 140.8,778.4 142.8,780.1 144.8,781.8 146.8,783.6 148.8,785.3 150.8,787.1 152.8,789 154.8,790.8 156.8,792.6 158.8,794.4 160.8,796.2 162.8,798 164.8,799.8 166.8,801.5 168.8,803.2 170.8,804.8 172.8,806.4 174.8,808 176.8,809.5 178.8,810.9 180.8,812.3 182.8,813.5 184.8,814.8 186.8,815.9 188.8,816.9 190.8,817.9 192.8,818.8 194.8,819.6 196.8,820.2 198.8,820.8 200.8,821.3 202.8,821.7 204.8,822 206.8,822.1 208.8,822.2 210.8,822.2 212.8,822 214.8,821.8 216.8,821.4 218.8,821 220.8,820.4 222.8,819.8 224.8,819 226.8,818.2 228.8,817.2 230.8,816.2 232.8,815.1 234.8,813.9 236.8,812.7 238.8,811.3 240.8,809.9 242.8,808.4 244.8,806.9 246.8,805.3 248.8,803.7 250.8,802 252.8,800.3 254.8,798.5 256.8,796.8 258.8,795 260.8,793.1 262.8,791.3 264.8,789.5 266.8,787.7 268.8,785.9 270.8,784.1 272.8,782.3 274.8,780.6 276.8,778.9 278.8,777.2 280.8,775.6 282.8,774 284.8,772.5 286.8,771 288.8,769.6 290.8,768.3 292.8,767 294.8,765.9 296.8,764.8 298.8,763.8 300.8,762.8 302.8,762 304.8,761.3 306.8,760.7 308.8,760.1 310.8,759.7 312.8,759.4 314.8,759.1 316.8,759 318.8,759 320.8,759.1 322.8,759.3 324.8,759.6 326.8,760 328.8,760.5 330.8,761.1 332.8,761.8 334.8,762.6 336.8,763.5 338.8,764.5 340.8,765.5 342.8,766.7 344.8,767.9 346.8,769.2 348.8,770.6 M62.8,807.2 64.8,808.8 66.8,810.4 68.8,812 70.8,813.5 72.8,815 74.8,816.4 76.8,817.8 78.8,819.1 80.8,820.3 82.8,821.5 84.8,822.6 86.8,823.6 88.8,824.5 90.8,825.4 92.8,826.2 94.8,826.9 96.8,827.5 98.8,828 100.8,828.4 102.8,828.8 104.8,829 106.8,829.2 108.8,829.3 110.8,829.3 112.8,829.3 114.8,829.3 116.8,829.3 118.8,829.3 120.8,829.3 122.8,829.3 124.8,829.3 126.8,829.3 128.8,829.3 130.8,829.3 132.8,829.3 134.8,829.3 136.8,829.3 138.8,829.3 140.8,829.3 142.8,829.3 144.8,829.3 146.8,829.3 148.8,829.3 150.8,829.3 152.8,829.3 154.8,829.3 156.8,829.3 158.8,829.3 160.8,829.3 162.8,829.3 164.8,829.3 166.8,829.3 168.8,829.3 170.8,829.3 172.8,829.3 174.8,829.3 176.8,829.3 178.8,829.3 180.8,829.3 182.8,829.3 184.8,829.3 186.8,829.3 188.8,829.3 190.8,829.3 192.8,829.3 194.8,829.3 196.8,829.3 198.8,829.3 200.8,829.3 202.8,829.3 204.8,829.3 206.8,829.3 208.8,829.3 210.8,829.3 212.8,829.3 214.8,829.3 216.8,829.3 218.8,829.3 220.8,829.3 222.8,829.3 224.8,829.3 226.8,829.3 228.8,829.3 230.8,829.3 232.8,829.3 234.8,829.3 236.8,829.3 238.8,829.3 240.8,829.3 242.8,829.3 244.8,829.3 246.8,829.3 248.8,829.3 250.8,829.3 252.8,829.3 254.8,829.3 256.8,829.3 258.8,829.3 260.8,829.3 262.8,829.3 264.8,829.3 266.8,829.3 268.8,829.3 270.8,829.3 272.8,829.3 274.8,829.3 276.8,829.3 278.8,829.3 280.8,829.3 282.8,829.3 284.8,829.3 286.8,829.3 288.8,829.3 290.8,829.3 292.8,829.3 294.8,829.3 296.8,829.3 298.8,829.3 300.8,829.3 302.8,829.3 304.8,829.3 306.8,829.3 308.8,829.3 310.8,829.3 312.8,829.3 314.8,829.3 316.8,829.3 318.8,829.3 320.8,829.3 322.8,829.3 324.8,829.3 326.8,829.3 328.8,829.3 330.8,829.3 332.8,829.3 334.8,829.3 336.8,829.3 338.8,829.3 340.8,829.3 342.8,829.3 344.8,829.3 346.8,829.3 348.8,829.3 M62.8,776.4 64.8,774.8 66.8,773.2 68.8,771.6 70.8,770.1 72.8,768.6 74.8,767.2 76.8,765.8 78.8,764.5 80.8,763.3 82.8,762.1 84.8,761 86.8,760 88.8,759.1 90.8,758.2 92.8,757.4 94.8,756.7 96.8,756.1 98.8,755.6 100.8,755.2 102.8,754.8 104.8,754.6 106.8,754.4 108.8,754.3 110.8,754.3 112.8,754.3 114.8,754.3 116.8,754.3 118.8,754.3 120.8,754.3 122.8,754.3 124.8,754.3 126.8,754.3 128.8,754.3 130.8,754.3 132.8,754.3 134.8,754.3 136.8,754.3 138.8,754.3 140.8,754.3 142.8,754.3 144.8,754.3 146.8,754.3 148.8,754.3 150.8,754.3 152.8,754.3 154.8,754.3 156.8,754.3 158.8,754.3 160.8,754.3 162.8,754.3 164.8,754.3 166.8,754.3 168.8,754.3 170.8,754.3 172.8,754.3 174.8,754.3 176.8,754.3 178.8,754.3 180.8,754.3 182.8,754.3 184.8,754.3 186.8,754.3 188.8,754.3 190.8,754.3 192.8,754.3 194.8,754.3 196.8,754.3 198.8,754.3 200.8,754.3 202.8,754.3 204.8,754.3 206.8,754.3 208.8,754.3 210.8,754.3 212.8,754.3 214.8,754.3 216.8,754.3 218.8,754.3 220.8,754.3 222.8,754.3 224.8,754.3 226.8,754.3 228.8,754.3 230.8,754.3 232.8,754.3 234.8,754.3 236.8,754.3 238.8,754.3 240.8,754.3 242.8,754.3 244.8,754.3 246.8,754.3 248.8,754.3 250.8,754.3 252.8,754.3 254.8,754.3 256.8,754.3 258.8,754.3 260.8,754.3 262.8,754.3 264.8,754.3 266.8,754.3 268.8,754.3 270.8,754.3 272.8,754.3 274.8,754.3 276.8,754.3 278.8,754.3 280.8,754.3 282.8,754.3 284.8,754.3 286.8,754.3 288.8,754.3 290.8,754.3 292.8,754.3 294.8,754.3 296.8,754.3 298.8,754.3 300.8,754.3 302.8,754.3 304.8,754.3 306.8,754.3 308.8,754.3 310.8,754.3 312.8,754.3 314.8,754.3 316.8,754.3 318.8,754.3 320.8,754.3 322.8,754.3 324.8,754.3 326.8,754.3 328.8,754.3 330.8,754.3 332.8,754.3 334.8,754.3 336.8,754.3 338.8,754.3 340.8,754.3 342.8,754.3 344.8,754.3 346.8,754.3 348.8,754.3 M62.8,754.3 64.8,754.3 66.8,754.3 68.8,754.3 70.8,754.3 72.8,754.3 74.8,754.3 76.8,754.3 78.8,754.3 80.8,754.3 82.8,754.3 84.8,754.3 86.8,754.3 88.8,754.3 90.8,754.3 92.8,754.4 94.8,754.5 96.8,754.7 98.8,755.1 100.8,755.5 102.8,756 104.8,756.6 106.8,757.2 108.8,758 110.8,758.8 112.8,759.7 114.8,760.7 116.8,761.8 118.8,762.9 120.8,764.1 122.8,765.4 124.8,766.8 126.8,768.2 128.8,769.6 130.8,771.1 132.8,772.7 134.8,774.3 136.8,775.9 138.8,777.6 140.8,779.3 142.8,781.1 144.8,782.9 146.8,784.7 148.8,786.5 150.8,788.3 152.8,790.1 154.8,792 156.8,793.8 158.8,795.7 160.8,797.5 162.8,799.3 164.8,801.1 166.8,802.9 168.8,804.6 170.8,806.3 172.8,808 174.8,809.6 176.8,811.2 178.8,812.8 180.8,814.3 182.8,815.7 184.8,817.1 186.8,818.4 188.8,819.7 190.8,820.9 192.8,822 194.8,823.1 196.8,824.1 198.8,825 200.8,825.8 202.8,826.5 204.8,827.2 206.8,827.7 208.8,828.2 210.8,828.6 212.8,828.9 214.8,829.1 216.8,829.3 218.8,829.3 220.8,829.3 222.8,829.3 224.8,829.3 226.8,829.3 228.8,829.3 230.8,829.3 232.8,829.3 234.8,829.3 236.8,829.3 238.8,829.3 240.8,829.3 242.8,829.3 244.8,829.3 246.8,829.3 248.8,829.3 250.8,829.3 252.8,829.3 254.8,829.3 256.8,829.3 258.8,829.3 260.8,829.3 262.8,829.3 264.8,829.3 266.8,829.3 268.8,829.3 270.8,829.3 272.8,829.3 274.8,829.3 276.8,829.3 278.8,829.3 280.8,829.3 282.8,829.3 284.8,829.3 286.8,829.3 288.8,829.3 290.8,829.3 292.8,829.3 294.8,829.3 296.8,829.3 298.8,829.3 300.8,829.3 302.8,829.3 304.8,829.3 306.8,829.3 308.8,829.3 310.8,829.3 312.8,829.3 314.8,829.3 316.8,829.3 318.8,829.3 320.8,829.3 322.8,829.3 324.8,829.3 326.8,829.3 328.8,829.3 330.8,829.3 332.8,829.3 334.8,829.3 336.8,829.3 338.8,829.3 340.8,829.3 342.8,829.3 344.8,829.3 346.8,829.3 348.8,829.3 M62.8,829.3 64.8,829.3 66.8,829.3 68.8,829.3 70.8,829.3 72.8,829.3 74.8,829.3 76.8,829.3 78.8,829.3 80.8,829.3 82.8,829.3 84.8,829.3 86.8,829.3 88.8,829.3 90.8,829.3 92.8,829.2 94.8,829.1 96.8,828.9 98.8,828.5 100.8,828.1 102.8,827.6 104.8,827 106.8,826.4 108.8,825.6 110.8,824.8 112.8,823.9 114.8,822.9 116.8,821.8 118.8,820.7 120.8,819.5 122.8,818.2 124.8,816.8 126.8,815.4 128.8,814 130.8,812.5 132.8,810.9 134.8,809.3 136.8,807.7 138.8,806 140.8,804.3 142.8,802.5 144.8,800.7 146.8,798.9 148.8,797.1 150.8,795.3 152.8,793.5 154.8,791.6 156.8,789.8 158.8,787.9 160.8,786.1 162.8,784.3 164.8,782.5 166.8,780.7 168.8,779 170.8,777.3 172.8,775.6 174.8,774 176.8,772.4 178.8,770.8 180.8,769.3 182.8,767.9 184.8,766.5 186.8,765.2 188.8,763.9 190.8,762.7 192.8,761.6 194.8,760.5 196.8,759.5 198.8,758.6 200.8,757.8 202.8,757.1 204.8,756.4 206.8,755.9 208.8,755.4 210.8,755 212.8,754.7 214.8,754.5 216.8,754.3 218.8,754.3 220.8,754.3 222.8,754.3 224.8,754.3 226.8,754.3 228.8,754.3 230.8,754.3 232.8,754.3 234.8,754.3 236.8,754.3 238.8,754.3 240.8,754.3 242.8,754.3 244.8,754.3 246.8,754.3 248.8,754.3 250.8,754.3 252.8,754.3 254.8,754.3 256.8,754.3 258.8,754.3 260.8,754.3 262.8,754.3 264.8,754.3 266.8,754.3 268.8,754.3 270.8,754.3 272.8,754.3 274.8,754.3 276.8,754.3 278.8,754.3 280.8,754.3 282.8,754.3 284.8,754.3 286.8,754.3 288.8,754.3 290.8,754.3 292.8,754.3 294.8,754.3 296.8,754.3 298.8,754.3 300.8,754.3 302.8,754.3 304.8,754.3 306.8,754.3 308.8,754.3 310.8,754.3 312.8,754.3 314.8,754.3 316.8,754.3 318.8,754.3 320.8,754.3 322.8,754.3 324.8,754.3 326.8,754.3 328.8,754.3 330.8,754.3 332.8,754.3 334.8,754.3 336.8,754.3 338.8,754.3 340.8,754.3 342.8,754.3 344.8,754.3 346.8,754.3 348.8,754.3 M62.8,754.3 64.8,754.3 66.8,754.3 68.8,754.3 70.8,754.3 72.8,754.3 74.8,754.3 76.8,754.3 78.8,754.3 80.8,754.3 82.8,754.3 84.8,754.3 86.8,754.3 88.8,754.3 90.8,754.3 92.8,754.3 94.8,754.3 96.8,754.3 98.8,754.3 100.8,754.3 102.8,754.3 104.8,754.3 106.8,754.3 108.8,754.3 110.8,754.3 112.8,754.3 114.8,754.3 116.8,754.3 118.8,754.3 120.8,754.3 122.8,754.3 124.8,754.3 126.8,754.3 128.8,754.3 130.8,754.3 132.8,754.3 134.8,754.3 136.8,754.3 138.8,754.3 140.8,754.3 142.8,754.3 144.8,754.3 146.8,754.3 148.8,754.3 150.8,754.3 152.8,754.3 154.8,754.3 156.8,754.3 158.8,754.3 160.8,754.3 162.8,754.3 164.8,754.3 166.8,754.3 168.8,754.3 170.8,754.3 172.8,754.3 174.8,754.3 176.8,754.3 178.8,754.3 180.8,754.3 182.8,754.3 184.8,754.3 186.8,754.3 188.8,754.3 190.8,754.3 192.8,754.3 194.8,754.3 196.8,754.3 198.8,754.3 200.8,754.3 202.8,754.4 204.8,754.6 206.8,754.9 208.8,755.3 210.8,755.7 212.8,756.3 214.8,756.9 216.8,757.6 218.8,758.4 220.8,759.3 222.8,760.2 224.8,761.2 226.8,762.4 228.8,763.5 230.8,764.8 232.8,766.1 234.8,767.4 236.8,768.9 238.8,770.4 240.8,771.9 242.8,773.5 244.8,775.1 246.8,776.8 248.8,778.5 250.8,780.2 252.8,782 254.8,783.8 256.8,785.6 258.8,787.4 260.8,789.2 262.8,791.1 264.8,792.9 266.8,794.7 268.8,796.6 270.8,798.4 272.8,800.2 274.8,802 276.8,803.7 278.8,805.5 280.8,807.2 282.8,808.8 284.8,810.4 286.8,812 288.8,813.5 290.8,815 292.8,816.4 294.8,817.8 296.8,819.1 298.8,820.3 300.8,821.5 302.8,822.6 304.8,823.6 306.8,824.5 308.8,825.4 310.8,826.2 312.8,826.9 314.8,827.5 316.8,828 318.8,828.4 320.8,828.8 322.8,829 324.8,829.2 326.8,829.3 328.8,829.3 330.8,829.3 332.8,829.3 334.8,829.3 336.8,829.3 338.8,829.3 340.8,829.3 342.8,829.3 344.8,829.3 346.8,829.3 348.8,829.3 M62.8,829.3 64.8,829.3 66.8,829.3 68.8,829.3 70.8,829.3 72.8,829.3 74.8,829.3 76.8,829.3 78.8,829.3 80.8,829.3 82.8,829.3 84.8,829.3 86.8,829.3 88.8,829.3 90.8,829.3 92.8,829.3 94.8,829.3 96.8,829.3 98.8,829.3 100.8,829.3 102.8,829.3 104.8,829.3 106.8,829.3 108.8,829.3 110.8,829.3 112.8,829.3 114.8,829.3 116.8,829.3 118.8,829.3 120.8,829.3 122.8,829.3 124.8,829.3 126.8,829.3 128.8,829.3 130.8,829.3 132.8,829.3 134.8,829.3 136.8,829.3 138.8,829.3 140.8,829.3 142.8,829.3 144.8,829.3 146.8,829.3 148.8,829.3 150.8,829.3 152.8,829.3 154.8,829.3 156.8,829.3 158.8,829.3 160.8,829.3 162.8,829.3 164.8,829.3 166.8,829.3 168.8,829.3 170.8,829.3 172.8,829.3 174.8,829.3 176.8,829.3 178.8,829.3 180.8,829.3 182.8,829.3 184.8,829.3 186.8,829.3 188.8,829.3 190.8,829.3 192.8,829.3 194.8,829.3 196.8,829.3 198.8,829.3 200.8,829.3 202.8,829.2 204.8,829 206.8,828.7 208.8,828.3 210.8,827.9 212.8,827.3 214.8,826.7 216.8,826 218.8,825.2 220.8,824.3 222.8,823.4 224.8,822.4 226.8,821.2 228.8,820.1 230.8,818.8 232.8,817.5 234.8,816.2 236.8,814.7 238.8,813.2 240.8,811.7 242.8,810.1 244.8,808.5 246.8,806.8 248.8,805.1 250.8,803.4 252.8,801.6 254.8,799.8 256.8,798 258.8,796.2 260.8,794.4 262.8,792.5 264.8,790.7 266.8,788.9 268.8,787 270.8,785.2 272.8,783.4 274.8,781.6 276.8,779.9 278.8,778.1 280.8,776.4 282.8,774.8 284.8,773.2 286.8,771.6 288.8,770.1 290.8,768.6 292.8,767.2 294.8,765.8 296.8,764.5 298.8,763.3 300.8,762.1 302.8,761 304.8,760 306.8,759.1 308.8,758.2 310.8,757.4 312.8,756.7 314.8,756.1 316.8,755.6 318.8,755.2 320.8,754.8 322.8,754.6 324.8,754.4 326.8,754.3 328.8,754.3 330.8,754.3 332.8,754.3 334.8,754.3 336.8,754.3 338.8,754.3 340.8,754.3 342.8,754.3 344.8,754.3 346.8,754.3 348.8,754.3 M62.8,754.3 64.8,754.3 66.8,754.3 68.8,754.3 70.8,754.3 72.8,754.3 74.8,754.3 76.8,754.3 78.8,754.3 80.8,754.3 82.8,754.3 84.8,754.3 86.8,754.3 88.8,754.3 90.8,754.3 92.8,754.3 94.8,754.3 96.8,754.3 98.8,754.3 100.8,754.3 102.8,754.3 104.8,754.3 106.8,754.3 108.8,754.3 110.8,754.3 112.8,754.3 114.8,754.3 116.8,754.3 118.8,754.3 120.8,754.3 122.8,754.3 124.8,754.3 126.8,754.3 128.8,754.3 130.8,754.3 132.8,754.3 134.8,754.3 136.8,754.3 138.8,754.3 140.8,754.3 142.8,754.3 144.8,754.3 146.8,754.3 148.8,754.3 150.8,754.3 152.8,754.3 154.8,754.3 156.8,754.3 158.8,754.3 160.8,754.3 162.8,754.3 164.8,754.3 166.8,754.3 168.8,754.3 170.8,754.3 172.8,754.3 174.8,754.3 176.8,754.3 178.8,754.3 180.8,754.3 182.8,754.3 184.8,754.3 186.8,754.3 188.8,754.3 190.8,754.3 192.8,754.3 194.8,754.3 196.8,754.3 198.8,754.3 200.8,754.3 202.8,754.3 204.8,754.3 206.8,754.3 208.8,754.3 210.8,754.3 212.8,754.3 214.8,754.3 216.8,754.3 218.8,754.3 220.8,754.3 222.8,754.3 224.8,754.3 226.8,754.3 228.8,754.3 230.8,754.3 232.8,754.3 234.8,754.3 236.8,754.3 238.8,754.3 240.8,754.3 242.8,754.3 244.8,754.3 246.8,754.3 248.8,754.3 250.8,754.3 252.8,754.3 254.8,754.3 256.8,754.3 258.8,754.3 260.8,754.3 262.8,754.3 264.8,754.3 266.8,754.3 268.8,754.3 270.8,754.3 272.8,754.3 274.8,754.3 276.8,754.3 278.8,754.3 280.8,754.3 282.8,754.3 284.8,754.3 286.8,754.3 288.8,754.3 290.8,754.3 292.8,754.3 294.8,754.3 296.8,754.3 298.8,754.3 300.8,754.3 302.8,754.3 304.8,754.3 306.8,754.3 308.8,754.3 310.8,754.4 312.8,754.5 314.8,754.7 316.8,755.1 318.8,755.5 320.8,756 322.8,756.6 324.8,757.2 326.8,758 328.8,758.8 330.8,759.7 332.8,760.7 334.8,761.8 336.8,762.9 338.8,764.1 340.8,765.4 342.8,766.8 344.8,768.2 346.8,769.6 348.8,771.1 M62.8,829.3 64.8,829.3 66.8,829.3 68.8,829.3 70.8,829.3 72.8,829.3 74.8,829.3 76.8,829.3 78.8,829.3 80.8,829.3 82.8,829.3 84.8,829.3 86.8,829.3 88.8,829.3 90.8,829.3 92.8,829.3 94.8,829.3 96.8,829.3 98.8,829.3 100.8,829.3 102.8,829.3 104.8,829.3 106.8,829.3 108.8,829.3 110.8,829.3 112.8,829.3 114.8,829.3 116.8,829.3 118.8,829.3 120.8,829.3 122.8,829.3 124.8,829.3 126.8,829.3 128.8,829.3 130.8,829.3 132.8,829.3 134.8,829.3 136.8,829.3 138.8,829.3 140.8,829.3 142.8,829.3 144.8,829.3 146.8,829.3 148.8,829.3 150.8,829.3 152.8,829.3 154.8,829.3 156.8,829.3 158.8,829.3 160.8,829.3 162.8,829.3 164.8,829.3 166.8,829.3 168.8,829.3 170.8,829.3 172.8,829.3 174.8,829.3 176.8,829.3 178.8,829.3 180.8,829.3 182.8,829.3 184.8,829.3 186.8,829.3 188.8,829.3 190.8,829.3 192.8,829.3 194.8,829.3 196.8,829.3 198.8,829.3 200.8,829.3 202.8,829.3 204.8,829.3 206.8,829.3 208.8,829.3 210.8,829.3 212.8,829.3 214.8,829.3 216.8,829.3 218.8,829.3 220.8,829.3 222.8,829.3 224.8,829.3 226.8,829.3 228.8,829.3 230.8,829.3 232.8,829.3 234.8,829.3 236.8,829.3 238.8,829.3 240.8,829.3 242.8,829.3 244.8,829.3 246.8,829.3 248.8,829.3 250.8,829.3 252.8,829.3 254.8,829.3 256.8,829.3 258.8,829.3 260.8,829.3 262.8,829.3 264.8,829.3 266.8,829.3 268.8,829.3 270.8,829.3 272.8,829.3 274.8,829.3 276.8,829.3 278.8,829.3 280.8,829.3 282.8,829.3 284.8,829.3 286.8,829.3 288.8,829.3 290.8,829.3 292.8,829.3 294.8,829.3 296.8,829.3 298.8,829.3 300.8,829.3 302.8,829.3 304.8,829.3 306.8,829.3 308.8,829.3 310.8,829.2 312.8,829.1 314.8,828.9 316.8,828.5 318.8,828.1 320.8,827.6 322.8,827 324.8,826.4 326.8,825.6 328.8,824.8 330.8,823.9 332.8,822.9 334.8,821.8 336.8,820.7 338.8,819.5 340.8,818.2 342.8,816.8 344.8,815.4 346.8,814 348.8,812.5" stroke="#9658d0" stroke-width="5.5" opacity="0.8" filter="url(#b2)"/>
<path d="M62.8,805.6 64.8,807.2 66.8,808.7 68.8,810.2 70.8,811.6 72.8,812.9 74.8,814.2 76.8,815.3 78.8,816.4 80.8,817.4 82.8,818.4 84.8,819.2 86.8,819.9 88.8,820.5 90.8,821.1 92.8,821.5 94.8,821.8 96.8,822.1 98.8,822.2 100.8,822.2 102.8,822.1 104.8,821.9 106.8,821.6 108.8,821.2 110.8,820.7 112.8,820.1 114.8,819.4 116.8,818.6 118.8,817.7 120.8,816.7 122.8,815.7 124.8,814.5 126.8,813.3 128.8,812 130.8,810.6 132.8,809.2 134.8,807.7 136.8,806.1 138.8,804.5 140.8,802.8 142.8,801.1 144.8,799.4 146.8,797.6 148.8,795.9 150.8,794.1 152.8,792.2 154.8,790.4 156.8,788.6 158.8,786.8 160.8,785 162.8,783.2 164.8,781.4 166.8,779.7 168.8,778 170.8,776.4 172.8,774.8 174.8,773.2 176.8,771.7 178.8,770.3 180.8,768.9 182.8,767.7 184.8,766.4 186.8,765.3 188.8,764.3 190.8,763.3 192.8,762.4 194.8,761.6 196.8,761 198.8,760.4 200.8,759.9 202.8,759.5 204.8,759.2 206.8,759.1 208.8,759 210.8,759 212.8,759.2 214.8,759.4 216.8,759.8 218.8,760.2 220.8,760.8 222.8,761.4 224.8,762.2 226.8,763 228.8,764 230.8,765 232.8,766.1 234.8,767.3 236.8,768.5 238.8,769.9 240.8,771.3 242.8,772.8 244.8,774.3 246.8,775.9 248.8,777.5 250.8,779.2 252.8,780.9 254.8,782.7 256.8,784.4 258.8,786.2 260.8,788.1 262.8,789.9 264.8,791.7 266.8,793.5 268.8,795.3 270.8,797.1 272.8,798.9 274.8,800.6 276.8,802.3 278.8,804 280.8,805.6 282.8,807.2 284.8,808.7 286.8,810.2 288.8,811.6 290.8,812.9 292.8,814.2 294.8,815.3 296.8,816.4 298.8,817.4 300.8,818.4 302.8,819.2 304.8,819.9 306.8,820.5 308.8,821.1 310.8,821.5 312.8,821.8 314.8,822.1 316.8,822.2 318.8,822.2 320.8,822.1 322.8,821.9 324.8,821.6 326.8,821.2 328.8,820.7 330.8,820.1 332.8,819.4 334.8,818.6 336.8,817.7 338.8,816.7 340.8,815.7 342.8,814.5 344.8,813.3 346.8,812 348.8,810.6 M62.8,775.6 64.8,774 66.8,772.5 68.8,771 70.8,769.6 72.8,768.3 74.8,767 76.8,765.9 78.8,764.8 80.8,763.8 82.8,762.8 84.8,762 86.8,761.3 88.8,760.7 90.8,760.1 92.8,759.7 94.8,759.4 96.8,759.1 98.8,759 100.8,759 102.8,759.1 104.8,759.3 106.8,759.6 108.8,760 110.8,760.5 112.8,761.1 114.8,761.8 116.8,762.6 118.8,763.5 120.8,764.5 122.8,765.5 124.8,766.7 126.8,767.9 128.8,769.2 130.8,770.6 132.8,772 134.8,773.5 136.8,775.1 138.8,776.7 140.8,778.4 142.8,780.1 144.8,781.8 146.8,783.6 148.8,785.3 150.8,787.1 152.8,789 154.8,790.8 156.8,792.6 158.8,794.4 160.8,796.2 162.8,798 164.8,799.8 166.8,801.5 168.8,803.2 170.8,804.8 172.8,806.4 174.8,808 176.8,809.5 178.8,810.9 180.8,812.3 182.8,813.5 184.8,814.8 186.8,815.9 188.8,816.9 190.8,817.9 192.8,818.8 194.8,819.6 196.8,820.2 198.8,820.8 200.8,821.3 202.8,821.7 204.8,822 206.8,822.1 208.8,822.2 210.8,822.2 212.8,822 214.8,821.8 216.8,821.4 218.8,821 220.8,820.4 222.8,819.8 224.8,819 226.8,818.2 228.8,817.2 230.8,816.2 232.8,815.1 234.8,813.9 236.8,812.7 238.8,811.3 240.8,809.9 242.8,808.4 244.8,806.9 246.8,805.3 248.8,803.7 250.8,802 252.8,800.3 254.8,798.5 256.8,796.8 258.8,795 260.8,793.1 262.8,791.3 264.8,789.5 266.8,787.7 268.8,785.9 270.8,784.1 272.8,782.3 274.8,780.6 276.8,778.9 278.8,777.2 280.8,775.6 282.8,774 284.8,772.5 286.8,771 288.8,769.6 290.8,768.3 292.8,767 294.8,765.9 296.8,764.8 298.8,763.8 300.8,762.8 302.8,762 304.8,761.3 306.8,760.7 308.8,760.1 310.8,759.7 312.8,759.4 314.8,759.1 316.8,759 318.8,759 320.8,759.1 322.8,759.3 324.8,759.6 326.8,760 328.8,760.5 330.8,761.1 332.8,761.8 334.8,762.6 336.8,763.5 338.8,764.5 340.8,765.5 342.8,766.7 344.8,767.9 346.8,769.2 348.8,770.6" stroke="#dcc2f4" stroke-width="3" opacity="0.9" filter="url(#b15)"/>
<ellipse cx="45.6" cy="790.6" rx="4" ry="2.8" fill="#f6eaff" opacity="0.8" filter="url(#b2)"/>
<ellipse cx="154.6" cy="790.6" rx="4" ry="2.8" fill="#f6eaff" opacity="0.8" filter="url(#b2)"/>
<ellipse cx="263.6" cy="790.6" rx="4" ry="2.8" fill="#f6eaff" opacity="0.8" filter="url(#b2)"/>
<ellipse cx="372.6" cy="790.6" rx="4" ry="2.8" fill="#f6eaff" opacity="0.8" filter="url(#b2)"/>
<ellipse cx="100.1" cy="759" rx="10" ry="2.2" fill="#efdcfb" opacity="0.5" filter="url(#b2)"/>
<ellipse cx="100.1" cy="822.2" rx="10" ry="2.2" fill="#efdcfb" opacity="0.5" filter="url(#b2)"/>
<ellipse cx="209.1" cy="759" rx="10" ry="2.2" fill="#efdcfb" opacity="0.5" filter="url(#b2)"/>
<ellipse cx="209.1" cy="822.2" rx="10" ry="2.2" fill="#efdcfb" opacity="0.5" filter="url(#b2)"/>
<ellipse cx="318.1" cy="759" rx="10" ry="2.2" fill="#efdcfb" opacity="0.5" filter="url(#b2)"/>
<ellipse cx="318.1" cy="822.2" rx="10" ry="2.2" fill="#efdcfb" opacity="0.5" filter="url(#b2)"/>
<ellipse cx="427.1" cy="759" rx="10" ry="2.2" fill="#efdcfb" opacity="0.5" filter="url(#b2)"/>
<ellipse cx="427.1" cy="822.2" rx="10" ry="2.2" fill="#efdcfb" opacity="0.5" filter="url(#b2)"/>
</g>
<rect x="68.8" y="702.2" width="275.7" height="180" fill="none" stroke="#8a8a8a" stroke-width="0.8"/>
<path d="M69.4,702.8 h3 l-3,3z" fill="#999"/>
<text class="ui" x="73.4" y="706.6" font-size="3" fill="#777">10.00694 ns</text>
<rect x="301.7" y="707.6" width="40.2" height="12.9" fill="#000" stroke="#9a9a9a" stroke-width="0.6"/>
<text class="ui" x="303.2" y="712.2" font-size="3.3" fill="#ddd">Signals</text>
<path d="M335.6,711.3 l1.6,-1.6 l1.6,1.6" stroke="#777" stroke-width="0.6" fill="none"/>
<text class="ui" x="303.2" y="718.6" font-size="3.3" fill="#ddd">F1: 5m[2A]</text>
<line x1="326.2" y1="717.5" x2="340.4" y2="717.5" stroke="#9a4fd0" stroke-width="1.7"/>
<path d="M347,880 h3 l-1.5,3z" fill="#a020f0"/><text class="ui" x="351.4" y="883.4" font-size="3.8" fill="#a020f0">F1</text>
<rect x="68.8" y="873" width="40.5" height="9.4" fill="#2b2b2b" stroke="#4a4a4a" stroke-width="0.5"/>
<text class="ui" x="76.6" y="879.8" font-size="4.6" font-weight="bold" fill="#fff">Results</text>
<circle cx="104.1" cy="877.8" r="2.7" fill="#222" stroke="#999" stroke-width="0.5"/><path d="M103.3,876.4 l2.1,1.4 l-2.1,1.4z" fill="#ccc"/>
<rect x="18.3" y="884.5" width="344.6" height="26.5" fill="#1b1b1b"/>
<rect x="63.7" y="882.6" width="299.2" height="2.4" fill="#232323"/>
<rect x="68.8" y="882.4" width="128" height="28.6" fill="#101010" stroke="#3c3c3c" stroke-width="0.5"/>
<rect x="71.9" y="885" width="116.5" height="7.4" fill="#333" stroke="#5a5a5a" stroke-width="0.5"/>
<path d="M143.3,885 v7.4 M176.3,885 v7.4" stroke="#777" stroke-width="0.5"/>
<text class="ui" x="73.4" y="890.8" font-size="4.4" font-weight="bold" fill="#f4f4f4">Measurement</text>
<text class="ui" x="174.8" y="890.8" font-size="4.4" font-weight="bold" text-anchor="end" fill="#f4f4f4">Current</text>
<rect x="71.9" y="893.4" width="116.5" height="7.4" fill="#141c24" stroke="#2f78a8" stroke-width="0.6"/>
<rect x="71.9" y="901.8" width="116.5" height="7.6" fill="#0a0a0a"/>
<text class="ui" x="73.4" y="899.1" font-size="4.3" fill="#f0f0f0">Ext. Ratio</text>
<rect x="135.8" y="895.1" width="6.5" height="4.8" fill="#7a22c8"/>
<text class="ui" x="139" y="898.7" font-size="3.3" font-weight="bold" text-anchor="middle" fill="#fff">F1</text>
<text class="ui" x="174.8" y="899.1" font-size="3.9" text-anchor="end" fill="#7fb6e8">2.595 dB</text>
<text class="ui" x="73.4" y="907.4" font-size="4.3" fill="#f0f0f0">SNR</text>
<rect x="135.8" y="903.4" width="6.5" height="4.8" fill="#7a22c8"/>
<text class="ui" x="139" y="907" font-size="3.3" font-weight="bold" text-anchor="middle" fill="#fff">F1</text>
<text class="ui" x="174.8" y="907.4" font-size="3.9" text-anchor="end" fill="#7fb6e8">6.76</text>
<rect x="135.8" y="909.8" width="6.5" height="1.2" fill="#28c040"/>
<rect x="189.6" y="885" width="5.8" height="26" fill="#2a2a2a" stroke="#555" stroke-width="0.4"/><rect x="190.4" y="889.5" width="4.2" height="18" fill="#4c4c4c"/><path d="M191.3,888.2 l1.2,-1.8 l1.2,1.8z" fill="#ccc"/>
<rect x="19.5" y="886.5" width="48" height="24" fill="#1b1b1b" stroke="#333" stroke-width="0.5"/>
<rect x="20.3" y="889" width="9" height="8.5" fill="#262626"/><rect x="20.3" y="898.8" width="9" height="8.5" fill="#262626"/>
<path d="M25.6,891.4 l-2,1.8 l2,1.8" stroke="#444" stroke-width="0.7" fill="none"/>
<rect x="31.9" y="889.7" width="6.6" height="7.6" rx="1" fill="#d0d0d0"/><text class="ui" x="35.2" y="895.4" font-size="4" font-weight="bold" text-anchor="middle" fill="#222">2A</text>
<text class="ui" x="41" y="893" font-size="3.4" fill="#e0e0e0">44.2 µW/</text>
<text class="ui" x="41" y="897.2" font-size="3.4" fill="#e0e0e0">104.70 µW</text>
<rect x="201.9" y="889.7" width="30.9" height="21.3" rx="1.2" fill="#161616" stroke="#5a5a5a" stroke-width="0.6"/>
<rect x="202.2" y="890" width="30.3" height="5.2" rx="1" fill="#4c4c4c"/>
<text class="ui" x="217.3" y="894.2" font-size="4.2" font-weight="bold" font-style="italic" text-anchor="middle" fill="#fff">Timebase</text>
<text class="ui" x="217.3" y="899.6" font-size="3.3" text-anchor="middle" fill="#dcdcdc">4.46 ps/</text>
<text class="ui" x="217.3" y="904" font-size="3.3" text-anchor="middle" fill="#dcdcdc">Pos: 10.00500 ns</text>
<rect x="234.7" y="889.7" width="36.8" height="21.3" rx="1.2" fill="#161616" stroke="#5a5a5a" stroke-width="0.6"/>
<rect x="235" y="890" width="36.2" height="5.2" rx="1" fill="#4c4c4c"/>
<text class="ui" x="253.1" y="894.2" font-size="4.2" font-weight="bold" font-style="italic" text-anchor="middle" fill="#fff">Acquisition</text>
<text class="ui" x="253.1" y="899.6" font-size="3.3" text-anchor="middle" fill="#dcdcdc">Full Pattern: On</text>
<text class="ui" x="253.1" y="904" font-size="3.3" text-anchor="middle" fill="#dcdcdc">16.99823438 pts/UI</text>
<rect x="273.3" y="889.7" width="33.0" height="21.3" rx="1.2" fill="#161616" stroke="#5a5a5a" stroke-width="0.6"/>
<rect x="273.6" y="890" width="32.4" height="5.2" rx="1" fill="#4c4c4c"/>
<text class="ui" x="289.8" y="894.2" font-size="4.2" font-weight="bold" font-style="italic" text-anchor="middle" fill="#fff">Frame Trigger</text>
<text class="ui" x="289.8" y="899.6" font-size="3.3" text-anchor="middle" fill="#dcdcdc">Src: Front Panel</text>
<text class="ui" x="289.8" y="904" font-size="3.3" text-anchor="middle" fill="#dcdcdc">56.000000 GBd</text>
<text class="ui" x="289.8" y="908.4" font-size="3.3" text-anchor="middle" fill="#dcdcdc">8191 UI</text>
<rect x="307.6" y="889.7" width="15.5" height="21.3" rx="1.2" fill="#181818" stroke="#4a4a4a" stroke-width="0.6"/>
<rect x="308.4" y="890.3" width="13.9" height="3.4" fill="#0e3a14"/><rect x="308.4" y="906.9" width="13.9" height="3.4" fill="#0e3a14"/>
<text class="ui" x="315.3" y="893" font-size="2.8" text-anchor="middle" fill="#2fb84a">Pattern</text><text class="ui" x="315.3" y="909.6" font-size="2.8" text-anchor="middle" fill="#2fb84a">Lock</text>
<rect x="312.4" y="899.6" width="6" height="5" rx="0.6" fill="#d8f0d8" stroke="#36c050" stroke-width="0.7"/><path d="M313.6,899.6 v-1.6 a1.8,1.8 0 0 1 3.6,0 v0.4" stroke="#36c050" stroke-width="0.9" fill="none"/>
<circle cx="334.0" cy="900.6" r="8.6" fill="url(#gcirc)" stroke="#6e6e6e" stroke-width="0.9"/>
<path d="M332.1,895.6 l1.9,-2.2 l1.9,2.2z" fill="#e8e8e8"/>
<text class="ui" x="334.0" y="903" font-size="4.4" font-weight="bold" font-style="italic" text-anchor="middle" fill="#fff">Math</text>
<circle cx="353.4" cy="900.6" r="8.6" fill="url(#gcirc)" stroke="#6e6e6e" stroke-width="0.9"/>
<path d="M351.5,895.6 l1.9,-2.2 l1.9,2.2z" fill="#e8e8e8"/>
<text class="ui" x="353.4" y="903" font-size="3.9" font-weight="bold" font-style="italic" text-anchor="middle" fill="#fff">Signals</text>
</g>
<text x="131.6" y="723.6" style="font-family:'Liberation Serif', serif;fill:#fff;font-size:18.7px;font-size:18.9px">Before Activation</text>
<text x="73.9" y="863.2" style="font-family:'Liberation Serif', serif;fill:#fff;font-size:18.7px">56 G NRZ</text>
<text x="507.6" y="721.6" style="font-family:'Liberation Serif', serif;fill:#fff;font-size:18.7px">After Activation</text>
<text x="449.3" y="865" style="font-family:'Liberation Serif', serif;fill:#fff;font-size:18.7px">56 G NRZ</text>
<text x="590.1" y="863" style="font-family:'Liberation Serif', serif;fill:#fff;font-size:18.7px">ER=2.595 dB</text>
</svg></body></html>
